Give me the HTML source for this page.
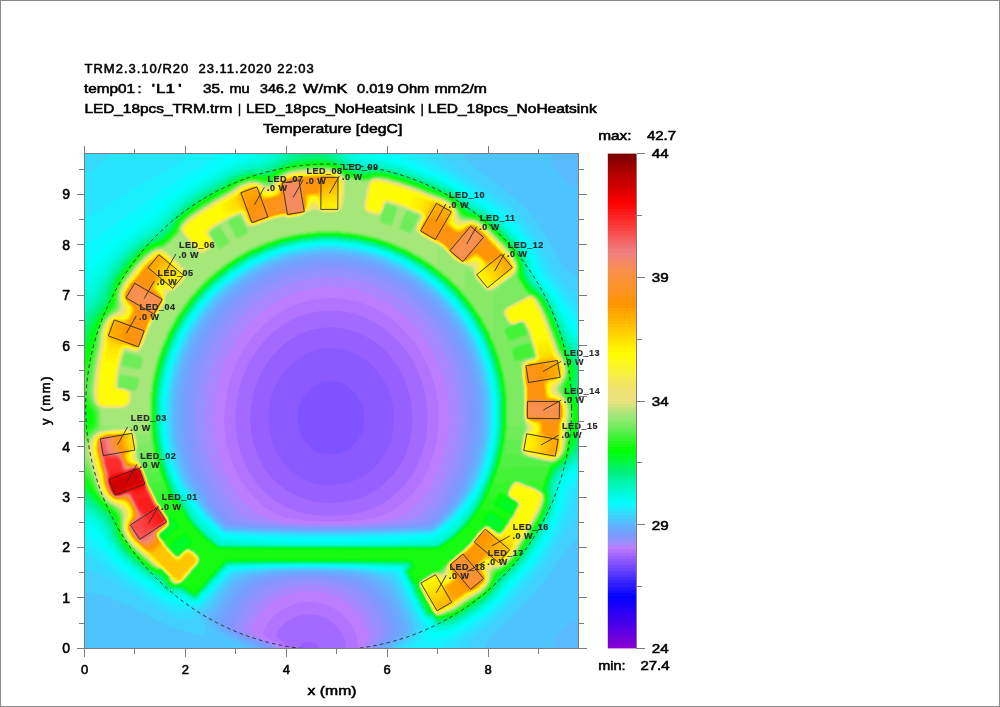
<!DOCTYPE html>
<html><head><meta charset="utf-8"><title>Temperature</title>
<style>
html,body{margin:0;padding:0;background:#fff;}
body{width:1000px;height:707px;overflow:hidden;}
svg{display:block;will-change:transform;}
.t{font-family:'Liberation Sans', Arial, Helvetica, sans-serif;font-size:13px;letter-spacing:1px;fill:#000;stroke:#000;stroke-width:0.55px;}
.l{font-family:'Liberation Sans', Arial, Helvetica, sans-serif;font-size:9px;font-weight:bold;letter-spacing:0.5px;fill:#2b2b2b;stroke:#2b2b2b;stroke-width:0.2px;}
</style></head><body>
<svg width="1000" height="707" viewBox="0 0 1000 707">
<rect x="0" y="0" width="1000" height="707" fill="#fff"/>

<text class="t" x="84.5" y="73" xml:space="preserve">TRM2.3.10/R20  23.11.2020 22:03</text>
<text class="t" x="83.9" y="93" textLength="51.1" lengthAdjust="spacingAndGlyphs" style="letter-spacing:0">temp01</text>
<text class="t" x="137.6" y="93" textLength="4.1" lengthAdjust="spacingAndGlyphs" style="letter-spacing:0">:</text>
<text class="t" x="151.7" y="93" textLength="3.3" lengthAdjust="spacingAndGlyphs" style="letter-spacing:0">'</text>
<text class="t" x="155.9" y="93" textLength="19.0" lengthAdjust="spacingAndGlyphs" style="letter-spacing:0">L1</text>
<text class="t" x="177.9" y="93" textLength="3.7" lengthAdjust="spacingAndGlyphs" style="letter-spacing:0">'</text>
<text class="t" x="203.1" y="93" textLength="21.2" lengthAdjust="spacingAndGlyphs" style="letter-spacing:0">35.</text>
<text class="t" x="229.4" y="93" textLength="20.2" lengthAdjust="spacingAndGlyphs" style="letter-spacing:0">mu</text>
<text class="t" x="259.9" y="93" textLength="36.0" lengthAdjust="spacingAndGlyphs" style="letter-spacing:0">346.2</text>
<text class="t" x="303.1" y="93" textLength="44.2" lengthAdjust="spacingAndGlyphs" style="letter-spacing:0">W/mK</text>
<text class="t" x="357.0" y="93" textLength="36.6" lengthAdjust="spacingAndGlyphs" style="letter-spacing:0">0.019</text>
<text class="t" x="397.6" y="93" textLength="31.7" lengthAdjust="spacingAndGlyphs" style="letter-spacing:0">Ohm</text>
<text class="t" x="434.4" y="93" textLength="52.6" lengthAdjust="spacingAndGlyphs" style="letter-spacing:0">mm2/m</text>
<text class="t" x="84.4" y="113" textLength="147.9" lengthAdjust="spacingAndGlyphs" style="letter-spacing:0">LED_18pcs_TRM.trm</text>
<text class="t" x="238.1" y="113" textLength="3.0" lengthAdjust="spacingAndGlyphs" style="letter-spacing:0">|</text>
<text class="t" x="245.9" y="113" textLength="168.8" lengthAdjust="spacingAndGlyphs" style="letter-spacing:0">LED_18pcs_NoHeatsink</text>
<text class="t" x="420.8" y="113" textLength="3.0" lengthAdjust="spacingAndGlyphs" style="letter-spacing:0">|</text>
<text class="t" x="427.8" y="113" textLength="168.9" lengthAdjust="spacingAndGlyphs" style="letter-spacing:0">LED_18pcs_NoHeatsink</text>
<text class="t" x="262.9" y="133" textLength="139.5" lengthAdjust="spacingAndGlyphs" style="letter-spacing:0">Temperature [degC]</text>
<g transform="translate(84.5 153.5) scale(0.25)">
<rect x="0" y="0" width="1976" height="1980" fill="#8152ff"/>
<path fill="#8c59ff" fill-rule="evenodd" d="M969 911 999 911 1001 913 1011 913 1039 923 1061 937 1085 961 1101 985 1113 1015 1113 1021 1117 1031 1117 1043 1119 1045 1119 1077 1117 1079 1115 1099 1109 1117 1093 1147 1067 1175 1047 1189 1017 1201 997 1203 995 1205 973 1205 971 1203 961 1203 959 1201 945 1199 923 1189 901 1173 889 1161 873 1139 863 1119 855 1093 855 1083 853 1081 853 1039 855 1037 857 1019 867 991 881 967 907 939 921 929 945 917 959 913 967 913ZM1 1 1 1979 1975 1979 1975 1Z"/>
<path fill="#975fff" fill-rule="evenodd" d="M959 779 1011 779 1013 781 1025 781 1027 783 1049 787 1097 807 1137 835 1169 867 1183 885 1203 917 1215 943 1227 977 1231 1001 1233 1003 1233 1013 1235 1015 1235 1029 1237 1031 1237 1091 1235 1093 1235 1105 1233 1107 1233 1117 1231 1119 1227 1141 1219 1165 1205 1195 1189 1221 1175 1239 1143 1271 1105 1297 1069 1313 1057 1315 1049 1319 1033 1321 1031 1323 1021 1323 1019 1325 1001 1325 999 1327 969 1327 967 1325 951 1325 949 1323 939 1323 937 1321 921 1319 887 1307 863 1295 829 1271 791 1231 767 1193 747 1143 747 1137 741 1119 739 1095 737 1093 737 1027 739 1025 739 1013 741 1011 741 1001 743 999 745 983 749 975 749 969 755 951 767 927 767 923 791 883 805 865 837 833 861 815 909 791 945 781 957 781ZM1 1 1 1979 1975 1979 1975 1Z"/>
<path fill="#a469ff" fill-rule="evenodd" d="M973 695 997 695 999 697 1033 699 1035 701 1061 705 1091 715 1143 741 1169 759 1193 779 1225 813 1249 845 1281 905 1301 965 1301 973 1303 975 1303 983 1307 995 1307 1007 1309 1009 1309 1025 1311 1027 1311 1095 1309 1097 1307 1125 1305 1127 1305 1135 1303 1137 1297 1167 1285 1201 1271 1231 1267 1235 1257 1255 1235 1285 1185 1333 1149 1357 1121 1371 1117 1371 1089 1383 1083 1383 1059 1391 1039 1393 1037 1395 1025 1395 1023 1397 995 1397 993 1399 947 1397 945 1395 921 1393 865 1377 813 1351 771 1319 749 1297 721 1261 693 1209 673 1149 673 1141 671 1139 671 1131 667 1119 665 1081 663 1079 663 1043 665 1041 667 1001 669 999 673 969 683 939 683 933 687 927 697 897 713 865 745 817 791 769 811 753 849 729 875 717 909 705 935 701 937 699 947 699 949 697 971 697ZM1 1 1 1979 861 1979 861 1975 867 1965 877 1957 887 1953 909 1953 919 1957 929 1965 937 1979 1975 1979 1975 1Z"/>
<path fill="#b273ff" fill-rule="evenodd" d="M935 631 947 631 949 629 1021 629 1023 631 1047 633 1049 635 1057 635 1059 637 1081 641 1121 655 1161 675 1211 709 1261 757 1291 795 1309 823 1331 865 1331 869 1337 879 1343 899 1347 905 1363 963 1363 971 1365 973 1367 997 1369 999 1369 1015 1371 1017 1371 1049 1373 1051 1369 1121 1367 1123 1367 1133 1365 1135 1365 1145 1361 1155 1359 1171 1345 1215 1317 1275 1303 1297 1271 1337 1227 1377 1191 1401 1155 1419 1117 1433 1111 1433 1085 1441 1075 1441 1061 1445 1047 1445 1045 1447 1023 1447 1021 1449 947 1449 945 1447 909 1445 907 1443 877 1439 837 1427 831 1423 817 1419 769 1393 739 1371 709 1343 685 1315 663 1283 643 1245 643 1241 629 1211 623 1193 623 1187 619 1179 619 1173 613 1155 613 1147 611 1145 607 1105 605 1103 605 1017 607 1015 607 999 609 997 611 973 613 971 619 937 633 893 649 859 649 855 673 811 713 757 755 715 783 693 825 667 855 653 889 641 895 641 913 635 921 635 923 633 933 633ZM1 1 1 1979 823 1979 813 1965 783 1945 769 1931 767 1927 769 1915 777 1903 805 1875 823 1863 855 1849 871 1847 873 1845 889 1845 891 1843 933 1847 957 1855 973 1863 993 1877 1017 1901 1027 1915 1039 1939 1045 1957 1047 1977 1049 1979 1975 1979 1975 1Z"/>
<path fill="#bc7dff" fill-rule="evenodd" d="M865 597 871 597 901 587 909 587 921 583 933 583 935 581 951 581 953 579 1015 579 1017 581 1033 581 1035 583 1059 585 1061 587 1099 595 1137 609 1167 623 1171 627 1195 639 1227 661 1249 679 1297 727 1321 757 1353 807 1371 843 1371 847 1385 877 1405 945 1409 975 1411 977 1411 989 1413 991 1415 1031 1417 1033 1417 1087 1415 1089 1415 1111 1413 1113 1411 1141 1409 1143 1409 1151 1407 1153 1401 1187 1397 1195 1397 1201 1389 1225 1385 1231 1377 1255 1355 1299 1335 1331 1309 1363 1283 1389 1251 1415 1223 1433 1189 1449 1155 1459 1123 1463 1121 1465 1087 1467 1085 1469 1057 1469 1055 1471 915 1471 913 1469 885 1469 883 1467 865 1467 863 1465 837 1463 835 1461 817 1459 789 1451 761 1439 723 1415 703 1399 659 1355 625 1307 593 1241 591 1231 587 1225 579 1201 579 1195 569 1161 567 1141 565 1139 563 1109 561 1107 559 1049 561 1047 563 995 565 993 565 979 567 977 571 947 573 945 581 907 597 861 627 799 651 761 677 727 711 691 751 657 777 639 829 611 859 601ZM1 1 1 1979 801 1979 791 1967 773 1957 769 1957 743 1945 725 1933 715 1919 717 1905 739 1871 757 1851 781 1831 793 1823 831 1805 859 1799 861 1797 873 1797 875 1795 921 1795 923 1797 933 1797 935 1799 959 1803 1003 1823 1023 1837 1055 1869 1067 1885 1083 1915 1091 1939 1093 1979 1975 1979 1975 1Z"/>
<path fill="#a987ff" fill-rule="evenodd" d="M787 581 831 561 873 547 907 541 909 539 935 537 937 535 955 535 957 533 1009 533 1011 535 1031 535 1033 537 1047 537 1049 539 1079 543 1103 551 1109 551 1153 567 1191 585 1245 619 1273 641 1293 659 1331 699 1359 735 1387 779 1411 827 1411 831 1417 841 1423 861 1427 867 1435 891 1435 897 1439 905 1439 911 1445 929 1445 937 1449 947 1453 983 1455 985 1455 1001 1457 1003 1457 1029 1459 1031 1459 1085 1457 1087 1457 1113 1455 1115 1453 1143 1451 1145 1451 1155 1449 1157 1449 1165 1445 1175 1441 1199 1437 1207 1437 1213 1429 1237 1425 1243 1419 1263 1411 1277 1411 1281 1385 1331 1365 1363 1341 1393 1309 1423 1281 1443 1257 1455 1215 1467 1195 1469 1193 1471 1181 1471 1179 1473 1143 1475 1141 1477 1115 1477 1113 1479 1079 1479 1077 1481 893 1481 891 1479 857 1479 855 1477 831 1477 829 1475 793 1473 791 1471 781 1471 779 1469 769 1469 767 1467 741 1463 697 1445 671 1427 633 1391 619 1375 597 1343 561 1273 561 1269 547 1239 539 1215 539 1209 535 1201 529 1167 527 1165 527 1157 525 1155 525 1145 523 1143 521 1113 519 1111 519 1085 517 1083 517 1037 519 1035 521 987 523 985 523 973 525 971 525 959 527 957 531 929 533 927 537 905 541 897 541 891 567 821 589 777 621 727 651 689 697 643 735 613ZM1 1 1 1979 785 1979 777 1969 757 1959 729 1949 681 1923 669 1909 671 1891 701 1843 731 1811 751 1795 773 1781 803 1767 837 1757 857 1755 859 1753 877 1753 879 1751 937 1753 939 1755 949 1755 951 1757 975 1761 1023 1781 1045 1795 1067 1813 1093 1841 1109 1863 1125 1893 1133 1915 1135 1935 1133 1937 1133 1943 1121 1965 1117 1979 1975 1979 1975 1Z"/>
<path fill="#9790ff" fill-rule="evenodd" d="M705 585 751 555 795 533 799 533 825 521 871 507 879 507 881 505 897 503 899 501 909 501 911 499 923 499 925 497 973 495 975 493 1019 495 1021 497 1039 497 1041 499 1065 501 1067 503 1103 509 1147 523 1177 537 1181 537 1237 567 1275 593 1307 619 1355 667 1381 699 1407 737 1423 767 1427 771 1455 831 1473 883 1473 889 1485 931 1485 939 1487 941 1487 951 1491 965 1491 979 1493 981 1493 995 1495 997 1497 1081 1495 1083 1493 1129 1491 1131 1491 1143 1489 1145 1485 1175 1483 1177 1475 1215 1457 1267 1439 1303 1439 1307 1401 1379 1375 1417 1353 1439 1339 1449 1319 1459 1301 1465 1295 1465 1287 1469 1257 1473 1255 1475 1243 1475 1241 1477 1207 1479 1205 1481 1153 1483 1151 1485 1111 1485 1109 1487 1039 1487 1037 1489 863 1487 861 1485 821 1485 819 1483 793 1483 791 1481 749 1479 747 1477 707 1473 705 1471 697 1471 695 1469 673 1465 661 1459 657 1459 631 1445 607 1425 591 1407 561 1359 519 1273 519 1269 511 1255 493 1195 493 1187 491 1185 489 1169 487 1167 487 1157 485 1155 485 1145 483 1143 483 1131 481 1129 479 1077 477 1075 479 1005 481 1003 483 969 485 967 485 955 487 953 493 915 515 841 519 835 527 811 537 793 537 789 563 741 591 699 625 657 661 621ZM1 1 1 1979 771 1979 765 1971 741 1959 737 1959 697 1941 693 1941 653 1921 637 1903 637 1897 635 1895 639 1883 643 1879 657 1851 683 1815 713 1785 737 1767 775 1747 797 1739 803 1739 811 1735 827 1733 829 1731 839 1731 841 1729 881 1727 883 1725 913 1725 915 1727 955 1729 957 1731 977 1733 1011 1743 1059 1767 1083 1785 1113 1815 1141 1855 1161 1897 1165 1911 1165 1921 1167 1923 1165 1935 1159 1947 1141 1967 1135 1979 1975 1979 1975 1Z"/>
<path fill="#8995ff" fill-rule="evenodd" d="M665 577 697 553 747 523 785 505 847 483 853 483 871 477 879 477 881 475 889 475 891 473 901 473 915 469 951 467 953 465 1003 465 1005 467 1047 469 1049 471 1073 473 1075 475 1083 475 1093 479 1117 483 1175 503 1233 531 1269 553 1331 601 1387 659 1435 725 1457 767 1461 771 1487 831 1503 879 1503 885 1513 919 1515 937 1517 939 1521 979 1523 981 1523 997 1525 999 1525 1101 1523 1103 1523 1121 1521 1123 1519 1151 1517 1153 1513 1181 1507 1199 1507 1207 1485 1273 1465 1315 1461 1329 1451 1347 1451 1351 1429 1391 1401 1433 1377 1459 1365 1465 1329 1475 1319 1475 1305 1479 1291 1479 1289 1481 1273 1481 1271 1483 1253 1483 1251 1485 1227 1485 1225 1487 1155 1489 1153 1491 1099 1491 1097 1493 875 1493 873 1491 819 1491 817 1489 749 1487 747 1485 723 1485 721 1483 703 1483 701 1481 685 1481 683 1479 657 1477 655 1475 629 1471 601 1461 585 1451 577 1443 547 1399 539 1381 531 1369 531 1365 515 1335 507 1313 485 1273 465 1211 463 1195 457 1175 457 1167 455 1165 455 1155 451 1141 451 1127 449 1125 449 1105 447 1103 447 1005 449 1003 449 983 451 981 451 967 453 965 453 953 455 951 455 941 457 939 461 911 463 909 469 879 475 865 475 859 485 835 487 825 499 799 499 795 525 743 559 689 573 673 585 655 639 599ZM1 1 1 1979 757 1979 753 1973 731 1961 677 1941 633 1919 621 1911 609 1899 605 1891 605 1883 625 1845 653 1803 677 1777 693 1763 719 1745 753 1729 785 1719 793 1719 795 1717 803 1717 815 1713 827 1713 829 1711 883 1709 885 1707 967 1711 969 1713 981 1713 983 1715 1011 1719 1019 1723 1025 1723 1043 1729 1077 1745 1095 1757 1141 1801 1165 1835 1181 1865 1195 1903 1195 1913 1197 1915 1195 1927 1187 1941 1153 1971 1149 1979 1975 1979 1975 1Z"/>
<path fill="#7c9aff" fill-rule="evenodd" d="M655 555 725 509 737 503 741 503 771 487 839 463 863 459 873 455 881 455 883 453 893 453 907 449 921 449 923 447 943 447 945 445 981 445 985 443 987 445 1039 447 1053 451 1067 451 1069 453 1107 459 1115 463 1129 465 1171 479 1213 499 1217 499 1271 529 1309 555 1357 595 1393 631 1401 643 1421 665 1457 717 1479 759 1483 763 1509 823 1525 871 1525 877 1535 911 1537 929 1539 931 1539 941 1543 955 1543 969 1545 971 1545 985 1547 987 1549 1083 1547 1085 1547 1107 1545 1109 1543 1141 1541 1143 1537 1175 1529 1201 1529 1209 1513 1259 1509 1265 1507 1275 1497 1295 1489 1319 1483 1329 1479 1343 1463 1375 1439 1415 1417 1443 1385 1473 1369 1479 1331 1483 1329 1485 1309 1485 1307 1487 1287 1487 1285 1489 1257 1489 1255 1491 1225 1491 1223 1493 1181 1493 1179 1495 1121 1495 1119 1497 851 1497 849 1495 795 1495 793 1493 719 1491 717 1489 691 1489 689 1487 667 1487 665 1485 647 1485 645 1483 619 1481 617 1479 609 1479 607 1477 599 1477 597 1475 589 1475 577 1471 551 1445 529 1415 501 1361 501 1357 487 1331 487 1327 461 1279 443 1225 443 1219 435 1193 435 1185 431 1175 429 1155 427 1153 425 1123 423 1121 423 1099 421 1097 421 1003 423 1001 425 963 427 961 427 949 429 947 429 937 431 935 435 907 437 905 443 875 447 867 447 861 469 799 475 789 481 771 485 767 501 733 541 671 573 631 621 583ZM1 1 1 1979 743 1979 737 1971 713 1959 709 1959 703 1955 649 1935 621 1921 599 1907 583 1889 585 1871 589 1867 617 1815 631 1795 671 1753 689 1739 721 1721 755 1709 779 1705 781 1703 791 1703 793 1701 825 1699 827 1697 857 1697 859 1695 937 1695 939 1697 969 1697 971 1699 987 1699 989 1701 1003 1701 1005 1703 1025 1705 1079 1723 1097 1733 1125 1753 1155 1783 1185 1825 1207 1869 1219 1907 1219 1923 1211 1939 1199 1949 1173 1965 1165 1973 1163 1979 1975 1979 1975 1Z"/>
<path fill="#73a1ff" fill-rule="evenodd" d="M633 549 663 527 707 499 775 467 821 451 827 451 835 447 859 443 869 439 889 437 891 435 903 435 905 433 919 433 921 431 967 429 969 427 993 427 995 429 1011 429 1013 431 1039 431 1041 433 1079 437 1081 439 1099 441 1101 443 1139 451 1199 473 1253 499 1301 529 1339 557 1367 581 1409 623 1443 665 1485 729 1507 771 1511 785 1519 799 1525 819 1529 825 1541 861 1543 875 1547 883 1549 899 1555 919 1555 927 1557 929 1559 951 1561 953 1561 967 1563 969 1563 981 1565 983 1567 1081 1565 1083 1565 1103 1563 1105 1563 1123 1561 1125 1559 1153 1557 1155 1553 1183 1551 1185 1543 1223 1531 1259 1527 1265 1523 1281 1511 1305 1505 1325 1481 1375 1469 1391 1463 1403 1457 1409 1449 1423 1425 1451 1405 1469 1381 1485 1357 1487 1355 1489 1335 1489 1333 1491 1311 1491 1309 1493 1279 1493 1277 1495 1191 1497 1189 1499 1125 1499 1123 1501 849 1501 847 1499 783 1499 781 1497 699 1495 697 1493 667 1493 665 1491 643 1491 641 1489 621 1489 619 1487 589 1485 587 1483 571 1481 541 1453 521 1429 495 1387 459 1313 455 1309 445 1289 425 1231 425 1225 421 1217 419 1201 415 1191 411 1163 409 1161 407 1135 405 1133 405 1117 403 1115 403 1089 401 1087 403 983 405 981 405 967 407 965 407 951 409 949 411 927 413 925 415 907 417 905 425 867 429 859 429 853 457 777 481 729 519 669 553 625 585 591ZM1 1 1 1979 729 1979 729 1977 717 1967 713 1967 699 1959 645 1939 601 1917 583 1905 565 1887 561 1879 563 1869 599 1807 627 1769 649 1747 679 1725 713 1709 763 1695 773 1695 787 1691 801 1691 803 1689 869 1687 871 1685 969 1687 971 1689 993 1689 995 1691 1007 1691 1009 1693 1021 1693 1023 1695 1051 1699 1059 1703 1065 1703 1083 1709 1113 1723 1149 1749 1179 1781 1203 1817 1229 1871 1237 1897 1237 1907 1239 1909 1237 1925 1231 1935 1213 1951 1193 1961 1179 1971 1175 1979 1975 1979 1975 1Z"/>
<path fill="#6ba9ff" fill-rule="evenodd" d="M629 535 701 487 765 457 815 439 821 439 855 429 883 425 885 423 899 423 911 419 935 419 937 417 949 417 951 415 1003 415 1005 417 1017 417 1019 419 1045 419 1047 421 1073 423 1075 425 1103 429 1105 431 1135 437 1149 443 1155 443 1161 447 1189 455 1251 483 1321 527 1355 553 1369 567 1385 579 1421 617 1455 659 1485 703 1505 741 1509 745 1531 793 1555 861 1555 867 1567 909 1573 953 1575 955 1577 987 1579 989 1579 1093 1577 1095 1577 1119 1575 1121 1575 1135 1573 1137 1573 1149 1571 1151 1569 1171 1567 1173 1565 1189 1563 1191 1557 1221 1553 1229 1553 1235 1543 1259 1537 1281 1519 1321 1519 1325 1499 1365 1483 1391 1455 1429 1423 1463 1401 1481 1385 1491 1377 1491 1375 1493 1351 1493 1349 1495 1325 1495 1323 1497 1247 1499 1245 1501 1191 1501 1189 1503 1113 1503 1111 1505 861 1505 859 1503 785 1503 783 1501 729 1501 727 1499 653 1497 651 1495 627 1495 625 1493 603 1493 601 1491 571 1489 557 1479 511 1431 485 1391 457 1337 441 1313 427 1283 411 1235 411 1229 399 1187 397 1169 395 1167 393 1143 391 1141 391 1125 389 1123 389 1101 387 1099 387 989 389 987 389 973 391 971 391 955 393 953 395 929 397 927 399 909 403 899 403 891 425 817 429 811 431 801 441 781 445 767 471 717 503 667 543 615 569 587ZM1 1 1 1979 715 1979 709 1971 689 1961 685 1961 679 1957 645 1945 635 1939 631 1939 585 1915 565 1901 545 1881 541 1873 541 1865 601 1771 635 1735 655 1721 687 1705 727 1693 757 1689 759 1687 769 1687 771 1685 807 1683 809 1681 839 1681 841 1679 955 1679 957 1681 987 1681 989 1683 1007 1683 1009 1685 1025 1685 1027 1687 1049 1689 1051 1691 1085 1697 1109 1705 1131 1715 1161 1735 1191 1765 1223 1813 1247 1865 1257 1899 1257 1917 1247 1935 1217 1957 1197 1967 1187 1979 1975 1979 1975 1Z"/>
<path fill="#64b0ff" fill-rule="evenodd" d="M585 557 619 529 661 499 701 475 767 445 789 439 813 429 819 429 853 419 881 415 883 413 897 413 911 409 935 409 949 405 1005 405 1007 407 1019 407 1021 409 1045 409 1059 413 1073 413 1075 415 1085 415 1095 419 1103 419 1105 421 1113 421 1115 423 1137 427 1191 445 1233 465 1237 465 1285 491 1333 523 1387 567 1425 605 1433 617 1461 649 1499 705 1513 733 1517 737 1543 793 1545 803 1549 809 1561 843 1561 849 1567 863 1567 869 1577 903 1581 933 1583 935 1583 945 1585 947 1587 977 1589 979 1589 1021 1591 1023 1591 1085 1589 1087 1587 1125 1585 1127 1585 1141 1583 1143 1581 1165 1579 1167 1579 1175 1577 1177 1575 1193 1571 1201 1565 1231 1553 1267 1549 1273 1545 1289 1513 1357 1495 1387 1453 1441 1427 1467 1389 1495 1383 1497 1363 1497 1361 1499 1293 1501 1291 1503 1243 1503 1241 1505 1181 1505 1179 1507 889 1509 887 1507 795 1507 793 1505 685 1503 683 1501 647 1501 645 1499 617 1499 615 1497 571 1495 565 1493 531 1463 495 1421 455 1357 451 1347 427 1313 399 1237 399 1231 387 1189 385 1171 383 1169 383 1159 379 1145 379 1129 377 1127 377 1111 375 1109 375 1087 373 1085 375 981 377 979 379 949 381 947 385 913 387 911 387 903 389 901 397 863 413 813 417 807 419 797 425 787 433 763 459 713 507 641 555 585ZM1 1 1 1979 699 1979 693 1971 677 1963 653 1955 643 1949 639 1949 629 1943 625 1943 575 1917 547 1897 527 1877 523 1871 521 1861 525 1853 543 1831 553 1811 579 1771 605 1739 615 1729 635 1715 669 1699 703 1689 721 1687 723 1685 763 1681 765 1679 781 1679 783 1677 849 1675 851 1673 945 1673 947 1675 985 1675 987 1677 1013 1677 1015 1679 1031 1679 1033 1681 1073 1685 1075 1687 1101 1691 1137 1703 1161 1715 1183 1731 1211 1761 1241 1809 1267 1867 1273 1887 1273 1895 1275 1897 1275 1915 1269 1927 1255 1941 1207 1969 1199 1979 1975 1979 1975 1Z"/>
<path fill="#5abaff" fill-rule="evenodd" d="M587 543 645 499 667 485 677 481 687 473 731 451 735 451 745 445 775 435 781 431 841 413 849 413 851 411 859 411 861 409 869 409 881 405 895 405 907 401 933 401 947 397 1007 397 1009 399 1021 399 1023 401 1047 401 1061 405 1075 405 1077 407 1085 407 1087 409 1095 409 1097 411 1105 411 1107 413 1115 413 1117 415 1139 419 1193 437 1235 457 1239 457 1291 485 1339 517 1391 559 1435 603 1441 613 1457 629 1481 661 1511 707 1519 725 1535 751 1535 755 1557 803 1575 857 1575 863 1587 905 1593 949 1595 951 1595 967 1597 969 1597 981 1599 983 1599 1093 1597 1095 1597 1119 1595 1121 1591 1161 1589 1163 1589 1171 1585 1181 1585 1189 1583 1191 1575 1229 1561 1271 1557 1277 1551 1297 1543 1311 1543 1315 1529 1343 1501 1389 1467 1433 1427 1473 1395 1497 1385 1501 1331 1503 1329 1505 1233 1507 1231 1509 1161 1509 1159 1511 1009 1511 1007 1513 743 1509 741 1507 687 1507 685 1505 645 1505 643 1503 611 1503 609 1501 567 1499 541 1479 503 1441 473 1399 443 1349 419 1319 407 1291 403 1275 399 1269 389 1239 389 1233 385 1225 383 1209 377 1191 373 1163 371 1161 367 1119 365 1117 365 1093 363 1091 363 997 365 995 365 975 367 973 367 957 369 955 373 919 375 917 377 899 379 897 387 859 393 845 393 839 403 809 433 739 437 735 447 713 461 693 463 687 499 635 511 623 525 603ZM1 1 1 1979 681 1979 673 1971 657 1963 653 1963 619 1947 615 1947 579 1929 545 1907 511 1875 503 1861 503 1853 525 1827 569 1759 599 1723 617 1709 633 1701 667 1689 701 1683 703 1681 727 1679 729 1677 745 1677 747 1675 765 1675 767 1673 829 1671 831 1669 965 1669 967 1671 1003 1671 1005 1673 1029 1673 1031 1675 1067 1677 1069 1679 1113 1685 1153 1697 1175 1707 1199 1723 1217 1741 1249 1791 1273 1839 1291 1893 1291 1911 1285 1925 1271 1939 1217 1971 1213 1979 1975 1979 1975 1Z"/>
<path fill="#4ec4ff" fill-rule="evenodd" d="M579 539 655 483 665 479 685 465 759 431 787 423 805 415 827 411 835 407 873 401 875 399 899 397 901 395 917 395 919 393 939 393 941 391 993 389 995 391 1013 391 1015 393 1041 393 1043 395 1069 397 1071 399 1081 399 1083 401 1121 407 1129 411 1151 415 1157 419 1163 419 1169 423 1217 439 1271 465 1329 501 1377 537 1391 551 1403 559 1431 587 1465 627 1513 695 1543 749 1547 763 1555 777 1555 781 1567 807 1583 855 1583 861 1595 903 1595 913 1597 915 1601 947 1603 949 1603 967 1607 981 1607 1093 1605 1095 1605 1119 1603 1121 1603 1133 1601 1135 1597 1171 1593 1181 1593 1189 1591 1191 1583 1229 1569 1271 1565 1277 1561 1293 1549 1315 1549 1319 1545 1323 1527 1359 1505 1393 1473 1433 1429 1477 1405 1495 1387 1505 1327 1507 1325 1509 1219 1511 1217 1513 1135 1513 1133 1515 839 1515 837 1513 697 1511 695 1509 651 1509 649 1507 613 1507 611 1505 565 1503 539 1483 495 1439 469 1403 467 1397 449 1373 439 1355 413 1325 399 1295 389 1261 381 1243 381 1237 377 1229 375 1213 367 1187 363 1157 361 1155 361 1143 359 1141 359 1127 357 1125 357 1101 355 1099 355 1081 353 1079 355 1075 355 979 359 965 359 947 361 945 365 911 367 909 367 901 369 899 379 853 401 789 407 779 407 775 425 735 463 671 493 629 505 617 521 595ZM1 1 1 1979 653 1979 651 1975 645 1971 577 1941 573 1937 553 1927 523 1905 501 1883 491 1869 485 1853 487 1845 511 1821 535 1783 563 1745 575 1733 585 1719 605 1701 635 1689 641 1689 665 1681 685 1679 687 1677 699 1677 701 1675 713 1675 715 1673 731 1673 733 1671 753 1671 755 1669 827 1667 829 1665 967 1665 969 1667 1009 1667 1011 1669 1039 1669 1041 1671 1081 1673 1083 1675 1109 1677 1111 1679 1119 1679 1121 1681 1129 1681 1131 1683 1139 1683 1155 1689 1161 1689 1183 1699 1187 1699 1211 1713 1227 1729 1265 1791 1289 1841 1305 1889 1305 1913 1295 1929 1275 1945 1235 1967 1225 1979 1873 1979 1873 1967 1881 1943 1893 1923 1909 1903 1929 1883 1945 1871 1961 1863 1975 1861 1975 139 1959 135 1949 129 1909 91 1881 53 1869 29 1863 1Z"/>
<path fill="#42d0ff" fill-rule="evenodd" d="M573 535 611 505 679 461 757 425 785 417 803 409 809 409 843 399 871 395 873 393 911 389 913 387 937 387 939 385 951 385 953 383 1001 383 1003 385 1015 385 1017 387 1043 387 1045 389 1071 391 1073 393 1083 393 1085 395 1113 399 1115 401 1145 407 1199 425 1209 431 1213 431 1237 443 1241 443 1301 475 1343 503 1401 549 1447 595 1453 605 1469 621 1493 653 1521 695 1553 755 1553 759 1573 803 1589 851 1591 865 1595 873 1595 881 1599 889 1599 897 1601 899 1601 907 1605 919 1605 929 1607 931 1607 941 1609 943 1609 957 1611 959 1611 971 1613 973 1613 1009 1615 1011 1615 1087 1613 1089 1613 1101 1611 1103 1609 1141 1607 1143 1607 1153 1605 1155 1605 1165 1599 1185 1599 1193 1593 1209 1593 1217 1587 1233 1587 1239 1563 1305 1555 1317 1543 1343 1505 1401 1493 1413 1475 1437 1435 1477 1393 1507 1387 1509 1361 1509 1359 1511 1269 1513 1267 1515 1201 1515 1199 1517 1107 1517 1105 1519 867 1519 865 1517 707 1515 705 1513 657 1513 655 1511 581 1509 579 1507 559 1505 545 1491 535 1485 491 1441 433 1357 405 1325 391 1295 381 1261 375 1249 375 1243 371 1235 371 1229 361 1195 361 1187 357 1177 357 1167 355 1165 355 1155 351 1141 351 1125 349 1123 349 1099 347 1097 347 979 351 965 351 947 355 933 355 921 357 919 359 901 361 899 371 853 395 783 421 727 425 723 435 701 447 685 449 679 487 625 507 603 513 593ZM1 1 1 1755 45 1759 95 1773 101 1777 111 1779 141 1793 145 1793 163 1803 167 1803 265 1853 269 1857 347 1893 407 1913 413 1913 439 1921 473 1925 485 1921 487 1909 467 1857 467 1851 465 1849 467 1837 473 1831 483 1827 497 1817 545 1749 571 1721 581 1707 593 1695 601 1691 633 1681 641 1681 643 1679 661 1677 663 1675 673 1675 675 1673 703 1671 705 1669 725 1669 727 1667 751 1667 753 1665 787 1665 789 1663 949 1661 951 1663 1043 1665 1045 1667 1069 1667 1071 1669 1107 1671 1109 1673 1121 1673 1123 1675 1133 1675 1135 1677 1145 1677 1155 1681 1171 1683 1201 1693 1221 1703 1239 1723 1259 1755 1301 1839 1319 1891 1319 1909 1317 1915 1309 1927 1291 1943 1247 1969 1239 1979 1605 1979 1607 1963 1621 1941 1659 1903 1689 1877 1753 1811 1809 1747 1851 1695 1941 1569 1963 1549 1975 1545 1975 493 1965 491 1947 481 1913 445 1889 407 1843 321 1797 257 1769 225 1719 177 1677 143 1583 75 1549 47 1525 21 1519 11 1517 1Z"/>
<path fill="#36daff" fill-rule="evenodd" d="M545 551 557 543 573 527 601 505 647 473 661 467 681 453 723 433 727 433 757 419 791 409 797 405 803 405 811 401 817 401 835 395 863 391 873 387 887 387 901 383 925 383 927 381 939 381 941 379 1013 379 1015 381 1031 381 1033 383 1053 383 1055 385 1081 387 1083 389 1111 393 1121 397 1129 397 1137 401 1151 403 1199 419 1237 437 1251 441 1305 471 1353 503 1403 543 1451 591 1461 605 1475 619 1527 693 1533 707 1545 725 1571 781 1573 791 1579 801 1595 849 1595 855 1607 897 1609 915 1611 917 1611 927 1615 941 1615 955 1617 957 1617 971 1619 973 1619 997 1621 999 1621 1089 1619 1091 1619 1103 1617 1105 1617 1125 1615 1127 1615 1141 1613 1143 1611 1165 1609 1167 1607 1185 1605 1187 1595 1233 1589 1247 1589 1253 1585 1259 1571 1301 1549 1343 1515 1395 1479 1439 1441 1477 1397 1509 1387 1513 1357 1513 1355 1515 1259 1517 1257 1519 1189 1519 1187 1521 1087 1521 1085 1523 885 1523 883 1521 717 1519 715 1517 665 1517 663 1515 621 1515 619 1513 563 1511 555 1507 539 1491 529 1485 489 1445 473 1425 427 1357 403 1333 385 1297 363 1231 363 1225 355 1199 355 1191 351 1181 351 1173 349 1171 347 1149 345 1147 341 1091 339 1089 339 999 341 997 341 973 343 971 347 927 349 925 351 905 359 879 363 855 381 801 385 795 391 775 399 761 403 747 431 695 461 649 479 627 483 619 499 603 505 593ZM1 1 1 1665 27 1669 49 1677 73 1689 153 1737 163 1745 173 1749 233 1785 285 1819 327 1841 331 1841 341 1847 375 1859 381 1859 391 1863 401 1863 403 1865 421 1865 433 1861 439 1855 447 1833 461 1821 465 1821 483 1811 495 1799 499 1791 521 1767 541 1739 591 1685 619 1677 649 1673 651 1671 663 1671 665 1669 699 1667 701 1665 755 1663 757 1661 803 1661 805 1659 991 1659 993 1661 1039 1661 1041 1663 1069 1663 1071 1665 1095 1665 1097 1667 1131 1669 1133 1671 1177 1677 1179 1679 1185 1679 1187 1681 1229 1691 1241 1701 1259 1735 1263 1739 1273 1759 1273 1763 1279 1771 1307 1827 1307 1831 1317 1849 1331 1887 1331 1893 1333 1895 1329 1915 1317 1931 1299 1947 1261 1971 1255 1979 1535 1979 1537 1965 1545 1953 1569 1929 1631 1881 1677 1841 1721 1795 1801 1703 1835 1659 1865 1615 1951 1469 1965 1453 1971 1449 1975 1449 1975 561 1969 561 1951 551 1921 521 1889 481 1865 443 1837 385 1837 381 1829 369 1821 351 1787 299 1761 267 1691 199 1641 161 1615 145 1537 89 1453 33 1437 17 1429 1Z"/>
<path fill="#28e5ff" fill-rule="evenodd" d="M569 523 617 487 681 447 753 415 807 397 813 397 839 389 877 383 879 381 893 381 907 377 933 377 947 373 1007 373 1019 377 1047 377 1059 381 1075 381 1077 383 1097 385 1107 389 1141 395 1191 411 1197 415 1207 417 1217 423 1231 427 1245 435 1249 435 1305 465 1353 497 1385 521 1399 535 1409 541 1455 587 1461 597 1477 613 1483 623 1491 631 1533 693 1563 749 1563 753 1569 763 1569 767 1575 777 1585 807 1589 813 1611 889 1611 897 1613 899 1613 907 1617 919 1617 929 1619 931 1619 941 1621 943 1621 961 1625 973 1625 1077 1627 1081 1625 1083 1623 1123 1621 1125 1619 1151 1617 1153 1617 1163 1615 1165 1613 1183 1609 1193 1609 1201 1605 1209 1597 1245 1587 1269 1585 1279 1581 1285 1577 1301 1551 1349 1519 1397 1481 1443 1453 1471 1413 1503 1387 1517 1309 1519 1307 1521 1257 1521 1255 1523 1187 1523 1185 1525 1093 1525 1091 1527 787 1525 785 1523 719 1523 717 1521 669 1521 667 1519 625 1519 623 1517 563 1515 549 1507 487 1449 459 1413 425 1363 397 1333 381 1303 377 1287 373 1281 359 1239 359 1233 347 1191 345 1173 343 1171 343 1161 339 1147 339 1131 337 1129 335 1093 333 1091 333 995 335 993 335 971 337 969 337 955 339 953 339 939 341 937 343 915 345 913 347 895 349 893 359 847 375 799 405 729 415 715 429 687 479 615 525 563ZM97 1 97 7 89 21 57 51 25 71 21 71 15 75 1 77 1 1609 21 1613 45 1625 143 1699 305 1805 351 1827 377 1835 387 1835 389 1837 407 1837 419 1833 437 1819 459 1813 477 1803 499 1775 519 1755 535 1733 561 1707 567 1697 585 1679 597 1675 615 1673 617 1671 659 1667 661 1665 677 1665 679 1663 733 1661 735 1659 929 1655 931 1657 1019 1657 1021 1659 1093 1661 1095 1663 1115 1663 1117 1665 1151 1667 1153 1669 1165 1669 1167 1671 1189 1673 1201 1677 1239 1681 1247 1689 1261 1717 1265 1721 1345 1887 1345 1907 1337 1921 1305 1955 1287 1967 1277 1979 1485 1979 1485 1973 1489 1965 1497 1955 1513 1941 1613 1869 1661 1829 1685 1805 1787 1689 1829 1633 1873 1563 1919 1475 1919 1471 1925 1461 1925 1457 1929 1451 1939 1421 1953 1389 1971 1369 1975 1369 1975 605 1969 605 1961 601 1941 583 1863 483 1835 431 1835 427 1829 417 1823 399 1803 359 1783 327 1745 279 1693 227 1669 207 1503 93 1397 33 1373 11 1369 1Z"/>
<path fill="#19efff" fill-rule="evenodd" d="M557 527 603 491 641 465 665 453 675 445 731 419 767 407 773 403 797 395 811 393 819 389 845 385 847 383 873 379 875 377 891 377 903 373 929 373 943 369 1009 369 1023 373 1051 373 1063 377 1079 377 1081 379 1089 379 1091 381 1099 381 1101 383 1109 383 1111 385 1119 385 1121 387 1151 393 1199 409 1205 413 1229 421 1247 431 1251 431 1283 447 1293 455 1311 463 1353 491 1411 537 1461 587 1507 645 1539 693 1547 711 1555 721 1567 745 1569 755 1587 793 1607 853 1607 859 1617 893 1621 921 1623 923 1623 935 1627 949 1627 967 1631 981 1631 1093 1629 1095 1629 1107 1627 1109 1625 1145 1623 1147 1621 1169 1617 1179 1617 1187 1615 1189 1605 1235 1591 1277 1571 1323 1567 1327 1561 1341 1547 1361 1545 1367 1517 1407 1467 1463 1443 1485 1399 1517 1387 1521 1313 1523 1311 1525 1265 1525 1263 1527 1203 1527 1201 1529 1127 1529 1125 1531 847 1531 845 1529 711 1527 709 1525 665 1525 663 1523 623 1523 621 1521 563 1519 553 1515 485 1453 461 1423 421 1365 391 1333 375 1301 373 1291 369 1285 365 1269 357 1251 357 1245 353 1237 353 1231 343 1197 343 1189 339 1179 339 1169 337 1167 337 1157 333 1143 333 1129 331 1127 331 1101 329 1099 329 1087 327 1085 327 1075 329 1073 329 975 331 973 331 961 333 959 333 941 337 929 337 917 339 915 341 897 343 895 353 849 377 779 385 765 385 761 399 733 399 729 411 711 419 693 471 617 493 593 499 583ZM1 251 1 1567 3 1569 17 1571 39 1583 59 1599 109 1647 145 1677 177 1701 267 1759 305 1787 349 1809 369 1815 379 1815 381 1817 397 1817 399 1815 409 1815 419 1811 445 1809 467 1801 481 1787 487 1777 513 1751 527 1731 557 1701 563 1691 581 1673 593 1669 607 1669 609 1667 639 1665 641 1663 657 1663 659 1661 711 1659 713 1657 755 1657 757 1655 969 1653 971 1655 1039 1655 1041 1657 1111 1659 1113 1661 1155 1663 1157 1665 1173 1665 1175 1667 1205 1669 1207 1671 1245 1673 1253 1681 1259 1697 1263 1701 1277 1731 1285 1743 1289 1757 1335 1847 1335 1851 1357 1889 1357 1897 1359 1899 1357 1901 1357 1907 1347 1927 1331 1951 1313 1971 1309 1979 1433 1979 1435 1973 1449 1959 1509 1923 1563 1887 1613 1851 1647 1823 1677 1793 1715 1747 1787 1667 1837 1595 1865 1545 1869 1541 1895 1491 1895 1487 1911 1453 1919 1429 1919 1423 1923 1415 1929 1385 1937 1361 1945 1345 1961 1329 1969 1325 1975 1325 1975 641 1961 635 1943 617 1899 553 1843 481 1829 455 1829 451 1823 441 1807 397 1785 355 1769 331 1737 291 1681 235 1659 217 1607 181 1601 179 1559 151 1539 135 1497 107 1473 95 1469 91 1353 33 1333 19 1327 13 1321 1 413 1 409 13 389 31 371 43 219 127 57 231 25 247 11 251Z"/>
<path fill="#0af8ff" fill-rule="evenodd" d="M559 519 639 461 653 455 677 439 697 429 707 427 749 407 803 389 809 389 835 381 873 375 875 373 891 373 903 369 929 369 941 365 1011 365 1023 369 1051 369 1063 373 1079 373 1081 375 1089 375 1091 377 1099 377 1101 379 1109 379 1111 381 1119 381 1121 383 1151 389 1205 407 1243 425 1257 429 1281 441 1291 449 1309 457 1357 489 1413 533 1463 583 1511 643 1543 691 1551 709 1559 719 1571 743 1573 753 1591 791 1611 851 1611 857 1623 899 1623 909 1627 919 1627 931 1631 943 1631 963 1635 975 1635 1095 1633 1097 1633 1119 1631 1121 1629 1149 1627 1151 1619 1199 1615 1207 1609 1237 1599 1267 1595 1273 1585 1305 1557 1357 1551 1363 1549 1369 1523 1407 1471 1465 1427 1503 1401 1521 1389 1525 1325 1527 1323 1529 1285 1529 1283 1531 1235 1531 1233 1533 1179 1533 1177 1535 1103 1535 1101 1537 871 1537 869 1535 795 1535 793 1533 691 1531 689 1529 653 1529 651 1527 613 1527 611 1525 561 1523 549 1517 535 1503 523 1495 481 1455 451 1417 415 1365 389 1339 379 1317 371 1305 367 1289 363 1283 347 1233 345 1217 341 1209 339 1193 333 1173 331 1151 329 1149 329 1133 327 1131 327 1119 325 1117 325 1095 323 1093 323 981 327 967 327 949 329 947 335 901 337 899 349 845 365 797 383 757 387 743 399 719 407 709 421 681 473 607 489 591 495 581ZM1 357 1 1535 9 1535 21 1539 39 1551 131 1647 191 1695 263 1741 293 1765 317 1781 337 1791 363 1799 411 1799 413 1801 425 1801 427 1803 445 1803 465 1795 475 1785 479 1777 509 1747 527 1723 553 1697 559 1687 577 1669 585 1665 619 1663 621 1661 641 1661 643 1659 665 1659 667 1657 695 1657 697 1655 737 1655 739 1653 809 1653 811 1651 985 1651 987 1653 1097 1655 1099 1657 1129 1657 1131 1659 1153 1659 1155 1661 1175 1661 1177 1663 1195 1663 1197 1665 1249 1667 1257 1673 1261 1687 1293 1747 1297 1761 1301 1765 1347 1861 1361 1877 1369 1891 1369 1905 1363 1921 1363 1941 1367 1947 1375 1951 1391 1953 1393 1951 1407 1951 1409 1949 1417 1949 1425 1945 1431 1945 1487 1921 1575 1865 1621 1831 1677 1777 1709 1737 1765 1677 1799 1633 1853 1547 1889 1477 1907 1427 1921 1357 1933 1329 1955 1305 1967 1299 1975 1299 1975 669 1963 665 1947 649 1885 553 1835 491 1817 457 1797 401 1781 369 1753 327 1717 285 1687 255 1641 217 1589 183 1583 181 1539 151 1525 139 1485 113 1435 87 1431 87 1409 75 1405 75 1319 35 1287 15 1277 1 525 1 521 11 493 37 441 69 379 103 321 141 235 207 155 261 53 337 23 353 11 357Z"/>
<path fill="#00fefb" fill-rule="evenodd" d="M553 519 597 485 645 453 697 425 701 425 749 403 803 385 809 385 835 377 845 377 855 373 873 371 875 369 891 369 903 365 931 365 943 361 1009 361 1023 365 1051 365 1063 369 1079 369 1089 373 1099 373 1109 377 1119 377 1121 379 1151 385 1205 403 1239 419 1253 423 1285 439 1295 447 1313 455 1361 487 1393 511 1407 525 1417 531 1465 579 1519 647 1545 687 1577 747 1581 761 1597 795 1615 849 1615 855 1625 889 1629 917 1631 919 1631 931 1635 943 1635 963 1639 975 1639 1095 1637 1097 1637 1121 1633 1133 1633 1149 1631 1151 1623 1199 1617 1215 1617 1221 1605 1263 1601 1269 1591 1301 1553 1371 1521 1417 1469 1473 1429 1507 1395 1529 1349 1531 1347 1533 1317 1533 1315 1535 1281 1535 1279 1537 1243 1537 1241 1539 1145 1541 1143 1543 903 1545 901 1543 829 1543 827 1541 733 1539 731 1537 695 1537 693 1535 661 1535 659 1533 629 1533 627 1531 597 1531 595 1529 557 1527 549 1523 533 1507 523 1501 475 1455 451 1425 411 1367 385 1341 365 1301 361 1285 357 1279 347 1249 347 1243 343 1235 341 1219 337 1211 335 1195 331 1185 331 1177 327 1165 327 1153 325 1151 325 1137 321 1123 321 1099 319 1097 319 977 323 965 323 945 327 933 327 919 331 909 331 899 333 897 345 843 361 795 379 755 383 741 395 717 403 707 421 673 469 605 485 589 491 579ZM587 1 585 7 569 23 543 41 443 97 403 121 353 155 245 247 183 289 133 327 47 403 19 421 1 425 1 1507 15 1509 33 1519 61 1547 113 1613 159 1657 203 1691 269 1733 303 1761 339 1781 345 1781 355 1785 391 1785 393 1787 409 1789 427 1797 449 1797 465 1789 473 1777 511 1737 515 1729 549 1695 555 1685 581 1661 623 1659 625 1657 649 1657 651 1655 681 1655 683 1653 727 1653 729 1651 797 1651 799 1649 997 1649 999 1651 1113 1653 1115 1655 1143 1655 1145 1657 1171 1657 1173 1659 1245 1661 1247 1663 1257 1663 1263 1671 1265 1683 1291 1735 1295 1739 1297 1749 1341 1835 1341 1839 1353 1861 1373 1879 1379 1889 1379 1917 1381 1923 1391 1931 1397 1931 1399 1933 1419 1933 1421 1931 1439 1929 1467 1919 1499 1903 1535 1879 1541 1877 1599 1837 1627 1815 1667 1775 1695 1739 1737 1695 1775 1651 1815 1593 1817 1587 1837 1557 1861 1511 1865 1507 1883 1469 1897 1429 1897 1423 1903 1405 1907 1369 1909 1367 1909 1357 1911 1355 1913 1341 1925 1315 1945 1293 1961 1283 1975 1279 1975 695 1963 689 1943 667 1913 617 1909 607 1877 557 1843 517 1821 487 1809 463 1795 419 1777 379 1757 347 1725 307 1687 267 1637 225 1545 167 1491 127 1459 111 1455 107 1451 107 1407 85 1403 85 1393 79 1389 79 1379 73 1375 73 1365 67 1351 63 1341 57 1337 57 1327 51 1323 51 1313 45 1295 39 1281 31 1277 31 1249 17 1235 7 1231 1Z"/>
<path fill="#00fdf0" fill-rule="evenodd" d="M559 509 577 497 593 483 665 437 697 421 711 417 725 409 729 409 755 397 797 383 803 383 837 373 847 373 857 369 877 367 879 365 893 365 907 361 933 361 947 357 1007 357 1019 361 1047 361 1059 365 1075 365 1077 367 1097 369 1107 373 1117 373 1119 375 1157 383 1209 401 1243 417 1257 421 1313 451 1359 481 1399 511 1413 525 1423 531 1465 573 1471 583 1491 603 1495 611 1515 635 1547 683 1569 725 1573 729 1573 733 1581 747 1581 751 1589 765 1589 769 1601 795 1617 843 1623 873 1627 881 1627 889 1629 891 1633 917 1635 919 1635 931 1639 943 1639 963 1643 975 1643 1095 1641 1097 1641 1117 1639 1119 1639 1131 1637 1133 1637 1147 1633 1159 1633 1171 1629 1181 1629 1189 1627 1191 1617 1237 1609 1257 1609 1263 1601 1279 1593 1305 1567 1357 1529 1415 1493 1457 1453 1495 1401 1533 1381 1535 1379 1537 1359 1537 1357 1539 1331 1539 1329 1541 1303 1541 1301 1543 1275 1543 1273 1545 1247 1545 1245 1547 1211 1547 1209 1549 1115 1551 1113 1553 859 1553 857 1551 805 1551 803 1549 729 1547 727 1545 701 1545 699 1543 673 1543 671 1541 647 1541 645 1539 619 1539 617 1537 559 1533 543 1525 527 1509 515 1501 467 1453 445 1425 407 1369 391 1355 383 1345 363 1307 359 1291 347 1263 347 1257 341 1243 341 1237 329 1195 329 1187 327 1185 327 1177 323 1165 323 1153 321 1151 321 1137 317 1123 317 1099 315 1097 315 975 319 963 319 943 323 931 323 919 325 917 329 889 331 887 339 849 359 789 375 755 377 745 393 713 397 709 415 675 461 609 485 583 491 573 533 531 543 525ZM641 1 639 5 623 19 499 85 495 89 437 121 385 155 335 195 273 255 233 285 187 315 133 359 41 453 23 467 11 473 1 475 1 1485 11 1485 25 1491 37 1499 55 1517 107 1591 163 1649 223 1695 229 1697 251 1713 269 1723 305 1753 323 1765 343 1773 395 1777 429 1793 449 1793 455 1791 467 1781 471 1773 503 1741 509 1731 547 1691 555 1679 569 1665 581 1657 635 1655 637 1653 671 1653 673 1651 717 1651 719 1649 799 1649 801 1647 993 1647 995 1649 1123 1651 1125 1653 1159 1653 1161 1655 1193 1655 1195 1657 1247 1657 1249 1659 1261 1659 1267 1665 1269 1683 1301 1743 1303 1753 1353 1853 1361 1863 1377 1873 1387 1883 1391 1895 1391 1905 1395 1913 1411 1921 1425 1921 1427 1919 1445 1917 1473 1907 1533 1873 1589 1835 1623 1809 1661 1771 1695 1727 1749 1671 1769 1647 1805 1595 1807 1589 1839 1539 1875 1469 1893 1415 1903 1341 1915 1311 1925 1297 1939 1283 1953 1273 1965 1267 1975 1265 1975 715 1971 715 1961 709 1941 685 1887 585 1863 551 1831 515 1815 493 1801 465 1781 403 1763 369 1731 325 1663 255 1641 237 1609 215 1569 193 1513 151 1469 123 1419 99 1415 99 1405 93 1401 93 1391 87 1367 79 1357 73 1353 73 1317 57 1307 55 1301 51 1259 37 1253 33 1167 7 1159 1Z"/>
<path fill="#00fbe4" fill-rule="evenodd" d="M551 511 593 479 645 445 693 419 703 417 745 397 799 379 805 379 831 371 841 371 851 367 869 365 871 363 887 363 899 359 925 359 939 355 1015 355 1027 359 1055 359 1067 363 1083 363 1093 367 1103 367 1113 371 1123 371 1125 373 1155 379 1203 395 1209 399 1233 407 1251 417 1261 419 1319 451 1367 483 1399 507 1413 521 1421 525 1471 575 1477 585 1495 603 1519 635 1551 683 1583 743 1583 747 1603 791 1623 851 1623 857 1633 891 1635 909 1637 911 1641 947 1643 949 1643 965 1645 967 1645 979 1647 981 1647 1093 1643 1105 1643 1129 1641 1131 1637 1169 1633 1179 1629 1205 1625 1213 1621 1235 1617 1243 1617 1249 1611 1267 1607 1273 1597 1305 1555 1385 1531 1421 1519 1433 1499 1459 1477 1481 1439 1515 1405 1539 1395 1543 1381 1543 1379 1545 1363 1545 1361 1547 1345 1547 1343 1549 1321 1549 1319 1551 1297 1551 1295 1553 1233 1555 1231 1557 1173 1557 1171 1559 1067 1559 1065 1561 801 1559 799 1557 743 1557 741 1555 709 1555 707 1553 655 1551 653 1549 633 1549 631 1547 615 1547 613 1545 553 1539 535 1527 517 1511 463 1457 437 1423 427 1405 415 1391 403 1371 387 1357 379 1347 359 1307 355 1291 351 1285 351 1279 347 1273 339 1249 339 1243 335 1235 333 1219 323 1185 319 1153 317 1151 317 1135 313 1121 313 1097 311 1095 311 977 315 965 315 945 319 933 319 919 323 909 323 899 327 889 327 881 331 873 335 849 355 789 371 755 373 745 391 709 395 705 407 681 427 653 429 647 449 619 457 611 461 603 479 585 485 575ZM695 1 683 15 603 45 543 75 539 79 525 85 521 89 511 93 507 97 439 135 391 167 345 205 319 233 275 275 187 335 147 369 97 421 47 483 19 509 1 515 1 1465 23 1471 41 1483 55 1497 69 1515 91 1553 119 1593 165 1641 215 1681 273 1717 319 1755 341 1765 349 1765 351 1767 383 1767 401 1773 431 1789 449 1789 455 1787 479 1759 505 1733 509 1725 543 1691 547 1683 573 1657 581 1653 623 1653 625 1651 661 1651 663 1649 715 1649 717 1647 805 1647 807 1645 987 1645 989 1647 1079 1647 1081 1649 1133 1649 1135 1651 1171 1651 1173 1653 1263 1655 1271 1661 1271 1677 1303 1739 1305 1749 1357 1853 1371 1865 1385 1869 1393 1877 1401 1899 1409 1909 1415 1911 1433 1911 1469 1901 1501 1885 1521 1871 1527 1869 1595 1823 1625 1799 1651 1773 1693 1719 1739 1673 1769 1637 1827 1547 1831 1537 1843 1519 1875 1453 1889 1405 1895 1341 1901 1321 1911 1301 1939 1271 1953 1261 1965 1255 1975 1253 1975 735 1963 729 1945 709 1935 693 1901 623 1897 619 1877 581 1857 553 1829 523 1805 491 1795 469 1777 409 1761 377 1745 353 1721 323 1667 267 1641 245 1613 225 1559 195 1505 153 1467 129 1397 97 1393 97 1327 69 1317 67 1311 63 1295 59 1289 55 1253 43 1247 43 1239 39 1233 39 1225 35 1217 35 1207 31 1185 29 1183 27 1167 27 1165 25 1147 25 1145 23 1133 23 1131 21 1117 19 1103 11 1097 1Z"/>
<path fill="#00f9d8" fill-rule="evenodd" d="M553 505 561 501 593 475 663 431 695 415 699 415 713 407 717 407 753 391 795 377 801 377 835 367 845 367 855 363 875 361 877 359 891 359 903 355 931 355 943 351 1009 351 1021 355 1049 355 1061 359 1077 359 1079 361 1099 363 1109 367 1119 367 1121 369 1151 375 1211 395 1245 411 1259 415 1291 431 1301 439 1319 447 1367 479 1423 523 1475 575 1523 635 1555 683 1563 701 1571 711 1597 767 1621 833 1621 839 1625 847 1625 853 1637 895 1637 903 1641 915 1641 927 1645 939 1645 959 1649 971 1649 1099 1647 1101 1647 1125 1643 1137 1643 1153 1641 1155 1635 1193 1627 1217 1625 1233 1619 1247 1619 1253 1597 1313 1569 1369 1535 1425 1509 1455 1505 1463 1463 1507 1433 1531 1403 1551 1379 1553 1377 1555 1359 1555 1357 1557 1331 1557 1329 1559 1217 1561 1215 1563 1051 1563 1049 1565 921 1565 919 1563 757 1563 755 1561 689 1561 687 1559 619 1557 617 1555 599 1555 597 1553 583 1553 581 1551 567 1551 565 1549 549 1547 531 1535 511 1517 459 1463 433 1427 431 1421 407 1387 405 1381 377 1351 357 1311 353 1295 349 1289 345 1273 339 1261 339 1255 331 1233 329 1217 323 1201 319 1173 317 1171 317 1161 313 1147 313 1133 311 1131 311 1107 307 1093 307 993 309 991 309 969 311 967 311 951 313 949 313 937 315 935 315 923 319 911 319 901 321 899 323 883 325 881 331 851 335 843 335 837 351 789 357 779 359 769 369 751 371 741 387 709 395 699 403 681 423 653 425 647 457 603 473 587 491 563 527 527 537 521ZM597 59 549 83 545 87 489 117 439 149 433 151 377 191 363 203 331 235 311 259 281 287 205 337 159 375 105 433 83 461 43 519 21 541 5 549 1 549 1 1449 17 1453 33 1461 63 1489 117 1579 131 1597 177 1643 217 1675 281 1715 317 1747 329 1755 341 1759 381 1761 403 1769 429 1785 435 1787 451 1785 463 1775 471 1763 501 1733 507 1723 541 1689 545 1681 577 1651 655 1649 657 1647 713 1647 715 1645 841 1645 843 1643 1079 1645 1081 1647 1137 1647 1139 1649 1193 1649 1195 1651 1261 1651 1263 1653 1271 1653 1275 1657 1275 1667 1273 1669 1275 1679 1307 1741 1309 1751 1361 1853 1373 1861 1391 1865 1397 1873 1397 1877 1405 1893 1415 1901 1421 1903 1437 1903 1471 1893 1503 1877 1529 1859 1535 1857 1617 1799 1649 1767 1685 1719 1739 1665 1759 1641 1795 1589 1797 1583 1823 1543 1865 1463 1881 1417 1883 1397 1885 1395 1885 1377 1887 1375 1889 1335 1899 1307 1909 1291 1939 1261 1959 1247 1975 1241 1975 751 1965 747 1949 731 1935 709 1911 661 1911 657 1873 585 1855 559 1805 503 1793 481 1785 457 1785 451 1781 443 1781 437 1773 413 1765 399 1765 395 1761 391 1751 371 1729 341 1703 311 1661 269 1635 247 1599 223 1551 197 1501 157 1459 131 1351 85 1247 49 1241 49 1223 43 1215 43 1213 41 1205 41 1203 39 1191 39 1189 37 1127 35 1125 33 1107 31 1085 21 1071 7 1069 1 735 1 725 15 709 25 705 25 693 31 641 43Z"/>
<path fill="#00f8cc" fill-rule="evenodd" d="M551 503 577 485 585 477 633 445 647 439 675 421 697 411 701 411 715 403 729 399 739 393 799 373 805 373 831 365 841 365 851 361 869 359 871 357 887 357 899 353 927 353 939 349 1013 349 1025 353 1055 353 1065 357 1083 357 1093 361 1103 361 1113 365 1123 365 1125 367 1155 373 1229 399 1293 429 1303 437 1321 445 1401 501 1413 513 1423 519 1495 593 1531 641 1555 677 1563 695 1571 705 1601 769 1629 849 1629 857 1633 865 1633 871 1639 889 1639 897 1641 899 1641 907 1643 909 1643 917 1645 919 1645 931 1649 943 1649 963 1653 975 1653 1095 1649 1109 1649 1131 1647 1133 1647 1147 1643 1159 1643 1171 1639 1181 1639 1189 1637 1191 1633 1213 1629 1221 1627 1237 1621 1251 1617 1269 1613 1275 1611 1285 1603 1301 1601 1311 1593 1325 1593 1329 1579 1355 1575 1367 1571 1371 1565 1385 1561 1389 1539 1429 1531 1437 1523 1451 1515 1459 1513 1465 1499 1483 1463 1519 1411 1557 1395 1559 1393 1561 1293 1563 1291 1565 1131 1565 1129 1567 843 1567 841 1565 683 1565 681 1563 623 1563 621 1561 585 1561 583 1559 545 1557 531 1547 515 1531 505 1525 459 1477 431 1435 427 1425 409 1399 397 1377 375 1355 353 1309 341 1271 337 1265 337 1259 327 1231 327 1223 325 1221 325 1215 319 1197 319 1189 315 1179 313 1157 311 1155 311 1141 307 1127 307 1101 305 1099 305 971 309 959 309 939 313 927 313 915 315 913 317 895 319 893 331 839 347 791 381 713 391 699 399 681 453 603 477 577 483 567 525 525 535 519ZM599 67 509 115 495 125 455 147 407 179 367 211 295 289 259 315 253 317 213 343 185 365 147 401 103 453 41 549 21 569 15 573 1 577 1 1435 3 1437 17 1439 29 1445 43 1455 67 1479 77 1493 105 1549 123 1577 137 1595 195 1651 229 1677 285 1711 317 1741 329 1749 345 1755 373 1755 375 1757 383 1757 407 1767 433 1783 449 1783 453 1781 475 1755 499 1731 505 1721 539 1687 543 1679 569 1653 575 1649 585 1649 587 1647 723 1645 725 1643 1071 1643 1073 1645 1271 1649 1279 1655 1277 1677 1309 1739 1311 1749 1363 1851 1371 1857 1393 1861 1405 1885 1411 1891 1421 1895 1445 1895 1485 1881 1565 1831 1619 1791 1651 1757 1685 1711 1753 1641 1809 1557 1813 1547 1839 1505 1865 1451 1879 1403 1883 1335 1893 1305 1909 1281 1927 1263 1951 1243 1963 1235 1975 1231 1975 765 1971 765 1959 757 1937 727 1915 683 1915 679 1905 661 1905 657 1877 601 1861 575 1837 545 1809 517 1797 501 1787 481 1781 463 1775 433 1767 411 1753 383 1721 339 1673 287 1627 247 1589 223 1553 205 1495 159 1467 141 1435 125 1431 125 1421 119 1407 115 1367 97 1357 95 1309 75 1253 57 1247 57 1221 49 1213 49 1211 47 1199 47 1197 45 1181 45 1179 43 1117 43 1115 41 1107 41 1087 35 1069 25 1053 9 1051 1 761 1 759 7 743 23 725 33 701 41 693 41 691 43 645 51Z"/>
<path fill="#00f6bd" fill-rule="evenodd" d="M549 501 575 483 583 475 631 443 645 437 669 421 685 413 699 409 717 399 727 397 737 391 797 371 803 371 827 363 837 363 847 359 855 359 867 355 881 355 895 351 919 351 921 349 933 349 935 347 1017 347 1019 349 1033 349 1035 351 1057 351 1059 353 1085 355 1087 357 1095 357 1097 359 1105 359 1107 361 1115 361 1117 363 1125 363 1127 365 1157 371 1211 389 1249 407 1259 409 1323 443 1371 475 1403 499 1417 513 1427 519 1479 571 1511 609 1557 675 1593 743 1593 747 1601 761 1601 765 1613 791 1629 839 1631 853 1635 861 1635 869 1639 877 1639 885 1641 887 1645 913 1647 915 1647 927 1651 937 1651 959 1655 969 1655 1099 1653 1101 1653 1125 1649 1137 1649 1153 1647 1155 1641 1193 1633 1217 1631 1233 1625 1247 1625 1253 1601 1319 1589 1341 1589 1345 1581 1359 1579 1367 1575 1371 1545 1429 1535 1441 1529 1453 1521 1461 1509 1481 1467 1523 1417 1559 1399 1565 1153 1567 1151 1569 821 1569 819 1567 577 1565 575 1563 545 1563 539 1561 505 1533 453 1481 429 1443 421 1425 405 1401 395 1381 373 1359 353 1317 329 1249 321 1211 317 1203 313 1175 311 1173 311 1163 307 1151 307 1135 305 1133 305 1111 303 1109 303 1097 301 1095 301 979 305 965 305 947 307 945 313 899 317 889 317 881 321 873 325 849 335 823 335 817 343 793 347 787 355 763 363 749 365 739 381 707 389 697 397 679 429 631 459 591 475 575 481 565 525 521 533 517ZM597 75 509 123 443 163 405 189 357 231 323 273 297 299 275 315 227 343 179 381 135 427 107 463 79 507 61 543 41 573 17 595 7 599 1 599 1 1423 17 1427 37 1439 71 1471 81 1485 115 1555 131 1579 147 1599 179 1631 205 1653 249 1685 285 1705 319 1737 333 1747 345 1751 373 1751 375 1753 383 1753 417 1769 435 1781 447 1781 451 1779 495 1733 499 1725 531 1693 539 1681 573 1647 579 1647 581 1645 737 1643 739 1641 1055 1641 1057 1643 1139 1643 1141 1645 1277 1647 1283 1651 1283 1659 1279 1667 1281 1681 1311 1737 1313 1747 1363 1847 1375 1855 1389 1855 1393 1857 1399 1865 1403 1877 1411 1885 1423 1889 1445 1889 1477 1879 1511 1861 1589 1809 1617 1787 1639 1765 1677 1713 1741 1649 1757 1629 1817 1535 1857 1459 1873 1411 1875 1389 1877 1387 1877 1341 1879 1339 1881 1321 1891 1297 1905 1277 1953 1233 1961 1227 1975 1221 1975 779 1967 777 1951 761 1939 743 1913 691 1913 687 1905 673 1897 651 1865 589 1845 561 1801 515 1791 501 1779 473 1771 435 1761 407 1747 381 1727 353 1705 327 1645 267 1625 251 1587 227 1547 207 1501 169 1469 147 1433 129 1429 129 1419 123 1415 123 1349 95 1241 59 1233 59 1231 57 1215 55 1213 53 1203 53 1201 51 1183 51 1181 49 1139 49 1137 51 1129 51 1127 49 1107 49 1105 47 1097 47 1071 37 1053 25 1037 9 1035 1 783 1 779 9 769 19 755 29 727 43 715 47 697 49 695 51 651 57Z"/>
<path fill="#00f5af" fill-rule="evenodd" d="M547 499 555 495 587 469 657 425 735 389 781 375 787 371 793 371 801 367 807 367 825 361 833 361 835 359 843 359 845 357 853 357 855 355 863 355 875 351 891 351 903 347 931 347 943 343 1009 343 1021 347 1051 347 1061 351 1079 351 1089 355 1099 355 1109 359 1119 359 1121 361 1159 369 1213 387 1251 405 1261 407 1293 423 1303 431 1321 439 1373 473 1381 481 1405 497 1419 511 1429 517 1481 569 1487 579 1505 597 1529 629 1561 677 1595 741 1595 745 1603 759 1603 763 1615 789 1633 843 1633 849 1645 891 1649 921 1651 923 1651 933 1653 935 1653 951 1655 953 1655 965 1657 967 1657 1013 1659 1015 1659 1093 1655 1105 1655 1129 1653 1131 1651 1155 1649 1157 1649 1167 1647 1169 1645 1187 1641 1197 1641 1205 1637 1213 1629 1249 1603 1321 1595 1335 1589 1353 1549 1431 1537 1445 1519 1475 1475 1521 1413 1565 1407 1565 1405 1567 1343 1567 1341 1569 635 1569 633 1567 551 1567 549 1565 539 1565 525 1555 507 1537 499 1533 449 1483 427 1449 417 1427 413 1423 393 1385 387 1377 371 1363 349 1315 345 1299 341 1293 325 1245 325 1239 313 1197 313 1189 311 1187 311 1179 307 1167 307 1157 305 1155 305 1139 301 1127 301 1101 299 1099 299 971 303 961 303 939 307 929 307 915 311 905 311 895 319 869 319 861 323 853 323 845 343 785 361 747 363 737 379 705 387 695 395 677 449 599 463 585 479 563 521 521 531 515ZM607 77 521 123 421 185 387 211 353 245 327 279 299 307 273 325 263 329 219 357 187 383 157 413 119 459 93 499 63 561 41 593 19 613 7 619 1 619 1 1413 13 1415 29 1423 67 1455 83 1475 87 1485 91 1489 93 1497 107 1525 107 1529 135 1577 155 1601 195 1639 233 1669 293 1705 333 1743 343 1747 381 1749 393 1753 435 1779 447 1779 451 1777 461 1763 495 1729 499 1721 535 1685 539 1677 569 1647 579 1643 777 1641 779 1639 1017 1639 1019 1641 1133 1641 1135 1643 1283 1645 1291 1651 1281 1667 1283 1679 1307 1727 1313 1735 1315 1747 1363 1843 1375 1853 1391 1853 1397 1859 1403 1873 1413 1881 1419 1881 1421 1883 1449 1883 1475 1875 1519 1851 1585 1807 1611 1787 1639 1759 1671 1713 1725 1661 1749 1633 1773 1599 1775 1593 1817 1527 1831 1499 1835 1495 1857 1449 1867 1421 1869 1405 1871 1403 1871 1393 1873 1391 1873 1335 1881 1307 1889 1291 1897 1279 1963 1217 1975 1213 1975 793 1967 789 1951 773 1939 755 1915 707 1915 703 1901 675 1901 671 1887 643 1887 639 1863 593 1837 557 1797 517 1787 503 1775 475 1767 435 1757 407 1745 385 1725 357 1679 305 1629 259 1593 235 1551 215 1531 201 1495 169 1461 147 1363 105 1253 67 1247 67 1229 61 1221 61 1219 59 1211 59 1209 57 1197 57 1195 55 1105 55 1103 53 1087 51 1071 43 1067 43 1045 29 1023 9 1019 1 801 1 799 7 781 23 755 39 729 51 723 51 715 55 705 55 703 57 651 63Z"/>
<path fill="#00f3a1" fill-rule="evenodd" d="M543 499 569 481 577 473 655 423 691 405 701 403 739 385 799 365 805 365 823 359 831 359 833 357 841 357 851 353 871 351 873 349 889 349 899 345 929 345 939 341 1013 341 1023 345 1053 345 1063 349 1081 349 1091 353 1101 353 1111 357 1121 357 1123 359 1161 367 1209 383 1215 387 1239 395 1253 403 1267 407 1319 435 1377 473 1385 481 1409 497 1423 511 1433 517 1481 565 1487 575 1505 593 1523 619 1531 627 1563 675 1597 739 1599 749 1617 787 1635 841 1635 847 1649 897 1649 907 1653 917 1653 931 1657 941 1657 961 1661 973 1661 1097 1657 1109 1657 1131 1655 1133 1655 1147 1653 1149 1651 1171 1649 1173 1649 1181 1647 1183 1633 1245 1617 1291 1613 1297 1609 1313 1587 1361 1587 1365 1553 1431 1541 1445 1535 1457 1527 1465 1519 1479 1469 1529 1417 1565 1407 1569 1297 1569 1295 1571 679 1571 677 1569 545 1569 543 1567 537 1567 529 1559 521 1555 505 1539 497 1535 447 1485 423 1449 389 1385 367 1363 347 1317 321 1241 319 1225 313 1209 307 1173 305 1171 305 1161 301 1147 301 1133 299 1131 299 1105 295 1093 295 1073 297 1071 297 967 301 955 301 935 305 923 305 911 309 901 309 891 311 889 321 843 341 783 375 707 385 693 393 675 449 595 509 529 527 515ZM601 85 511 135 419 193 393 213 355 251 327 289 307 309 285 325 229 357 183 395 141 441 109 485 81 539 81 543 71 561 69 569 51 597 25 625 17 631 1 637 1 1403 7 1403 25 1411 51 1431 79 1459 89 1473 99 1493 107 1517 121 1547 139 1575 155 1595 201 1639 251 1677 295 1701 317 1725 333 1739 347 1745 377 1745 379 1747 385 1747 413 1761 437 1777 449 1775 491 1731 497 1721 531 1687 535 1679 569 1645 579 1641 677 1641 679 1639 1115 1639 1117 1641 1241 1641 1243 1643 1287 1643 1291 1645 1295 1651 1285 1663 1283 1669 1285 1679 1315 1735 1319 1751 1367 1845 1379 1851 1385 1849 1391 1851 1399 1859 1403 1869 1413 1877 1443 1879 1479 1869 1515 1849 1593 1797 1615 1779 1641 1751 1669 1709 1733 1647 1755 1619 1815 1523 1829 1495 1833 1491 1855 1445 1865 1415 1867 1397 1869 1395 1869 1333 1871 1331 1875 1311 1885 1289 1893 1277 1965 1207 1971 1203 1975 1203 1975 805 1967 801 1955 789 1935 759 1913 713 1913 709 1907 699 1907 695 1901 685 1901 681 1889 657 1889 653 1881 639 1881 635 1855 587 1841 567 1793 519 1781 501 1773 483 1767 449 1759 421 1747 395 1727 365 1691 323 1633 267 1593 239 1537 211 1489 169 1461 151 1413 129 1409 129 1373 113 1363 111 1347 103 1337 101 1331 97 1315 93 1309 89 1279 79 1273 79 1237 67 1229 67 1227 65 1209 63 1207 61 1195 61 1193 59 1109 61 1107 59 1097 59 1095 57 1081 55 1055 43 1017 17 1005 5 1005 1 821 1 809 15 797 23 737 55 717 61 709 61 707 63 689 63 687 65 671 65 669 67 647 69Z"/>
<path fill="#00f293" fill-rule="evenodd" d="M547 493 599 455 633 433 647 427 657 419 737 383 791 365 797 365 831 355 841 355 843 353 861 351 871 347 887 347 899 343 927 343 937 339 1015 339 1025 343 1055 343 1065 347 1083 347 1093 351 1103 351 1113 355 1123 355 1125 357 1155 363 1215 383 1249 399 1263 403 1327 437 1375 469 1443 523 1481 561 1485 569 1505 589 1523 615 1531 623 1567 677 1575 695 1583 705 1597 733 1601 747 1619 785 1637 839 1637 845 1651 895 1651 905 1655 915 1655 929 1659 939 1659 959 1663 971 1663 1099 1661 1101 1661 1121 1657 1135 1657 1151 1653 1163 1653 1173 1649 1183 1649 1191 1647 1193 1645 1209 1641 1217 1637 1239 1611 1315 1595 1349 1591 1363 1555 1433 1527 1469 1525 1475 1469 1531 1417 1567 1405 1571 1191 1571 1189 1573 553 1571 551 1569 537 1569 521 1557 507 1543 497 1537 441 1481 419 1447 385 1385 371 1373 363 1363 355 1339 345 1319 319 1243 317 1227 311 1211 307 1185 303 1175 303 1163 301 1161 299 1135 297 1133 297 1109 293 1095 293 977 297 963 297 945 301 931 301 919 303 917 307 889 309 887 319 841 339 781 373 705 381 695 389 677 413 643 415 637 435 609 443 601 447 593 467 573 471 565 523 513 531 509ZM603 89 517 137 419 199 391 221 363 249 329 295 309 315 279 335 241 355 197 389 155 433 117 483 95 523 95 527 89 537 79 565 59 601 23 641 9 651 1 653 1 1393 11 1395 23 1401 39 1413 85 1457 103 1489 115 1525 135 1563 153 1587 195 1629 251 1673 299 1699 335 1737 343 1741 353 1741 355 1743 381 1743 407 1755 437 1775 445 1775 453 1769 471 1747 475 1745 493 1725 499 1715 533 1681 539 1671 561 1649 571 1641 581 1641 583 1639 705 1639 707 1637 1087 1637 1089 1639 1289 1641 1293 1643 1299 1651 1287 1663 1285 1669 1287 1679 1307 1719 1317 1733 1317 1739 1325 1755 1325 1759 1329 1763 1333 1775 1337 1779 1337 1783 1341 1787 1341 1791 1345 1795 1345 1799 1365 1839 1373 1847 1379 1849 1389 1847 1399 1857 1405 1869 1419 1875 1453 1873 1473 1867 1495 1857 1587 1797 1621 1769 1647 1737 1669 1703 1727 1649 1751 1619 1775 1583 1825 1499 1857 1431 1859 1419 1863 1411 1865 1387 1867 1385 1865 1335 1867 1333 1867 1325 1871 1311 1885 1281 1969 1195 1975 1193 1975 817 1961 807 1933 765 1913 723 1913 719 1897 685 1897 681 1881 647 1881 643 1855 593 1837 567 1795 527 1779 505 1769 483 1761 437 1755 419 1741 391 1721 363 1675 311 1633 271 1593 243 1561 227 1557 227 1533 213 1489 173 1465 157 1437 143 1433 143 1409 131 1389 125 1353 109 1253 75 1247 75 1229 69 1221 69 1219 67 1211 67 1209 65 1197 65 1195 63 1103 65 1101 63 1091 63 1083 59 1077 59 1055 49 1035 35 1019 27 995 11 987 1 845 1 835 11 733 63 727 63 717 67 703 67 701 69 661 71 659 73 641 75Z"/>
<path fill="#00f084" fill-rule="evenodd" d="M543 493 551 489 559 481 625 435 643 427 653 419 689 401 699 399 717 389 797 361 803 361 829 353 839 353 849 349 859 349 869 345 887 345 897 341 927 341 937 337 1015 337 1025 341 1055 341 1065 345 1083 345 1093 349 1103 349 1113 353 1123 353 1125 355 1163 363 1211 379 1217 383 1241 391 1259 401 1269 403 1331 437 1379 469 1387 477 1411 493 1425 507 1433 511 1485 563 1491 573 1511 593 1535 625 1567 673 1601 737 1601 741 1619 779 1641 845 1641 851 1653 893 1653 903 1657 913 1657 927 1661 937 1661 959 1665 969 1665 1099 1663 1101 1663 1125 1659 1137 1659 1153 1655 1163 1655 1175 1651 1185 1651 1193 1649 1195 1645 1217 1641 1225 1639 1241 1631 1261 1629 1273 1623 1283 1619 1299 1615 1305 1615 1311 1601 1341 1593 1365 1555 1437 1545 1447 1539 1459 1529 1469 1525 1477 1513 1491 1509 1493 1479 1525 1417 1569 1411 1571 1385 1571 1383 1573 593 1573 591 1571 539 1571 497 1539 439 1481 425 1461 403 1421 395 1411 383 1387 363 1369 353 1341 343 1321 337 1299 333 1293 319 1251 319 1245 315 1237 315 1229 303 1187 299 1155 297 1153 297 1137 293 1123 293 1101 291 1099 291 973 295 961 295 941 299 929 299 917 303 905 303 895 305 893 317 839 335 785 341 775 343 765 373 701 419 627 451 585 467 569 473 559 517 515 527 509ZM613 89 577 107 563 117 505 149 415 207 395 223 365 253 337 293 317 315 299 329 237 363 189 403 153 443 123 483 99 527 81 577 69 599 39 637 13 663 1 667 1 1383 17 1389 31 1399 87 1451 103 1477 119 1525 133 1553 159 1589 191 1621 245 1665 267 1679 297 1693 337 1735 345 1739 361 1739 363 1741 383 1741 389 1743 421 1761 437 1773 449 1771 457 1759 491 1725 495 1717 531 1681 535 1673 571 1639 599 1639 601 1637 769 1637 771 1635 1023 1635 1025 1637 1289 1639 1295 1641 1301 1647 1301 1653 1287 1669 1289 1679 1309 1719 1319 1733 1323 1751 1369 1841 1373 1845 1389 1845 1399 1855 1403 1863 1409 1869 1415 1871 1443 1871 1479 1861 1509 1845 1555 1813 1585 1795 1603 1781 1633 1751 1663 1705 1723 1649 1749 1617 1817 1507 1845 1453 1845 1449 1853 1433 1863 1397 1861 1337 1871 1301 1883 1277 1899 1259 1915 1247 1935 1227 1957 1197 1969 1185 1975 1183 1975 829 1959 815 1937 781 1915 737 1915 733 1909 723 1909 719 1891 679 1887 665 1881 655 1881 651 1873 637 1873 633 1853 595 1835 569 1787 523 1777 509 1765 481 1759 441 1751 417 1735 387 1719 365 1695 337 1623 267 1587 243 1535 219 1489 177 1455 155 1425 141 1421 141 1375 121 1365 119 1349 111 1339 109 1333 105 1317 101 1311 97 1223 71 1203 69 1201 67 1179 67 1177 65 1169 65 1167 67 1143 67 1141 69 1101 69 1099 67 1089 67 1081 63 1075 63 1049 51 1015 29 987 15 983 15 979 11 975 11 963 1 877 1 861 11 807 31 737 67 723 71 713 71 711 73 661 75 659 77 635 81Z"/>
<path fill="#00f174" fill-rule="evenodd" d="M545 489 577 465 615 441 621 435 639 427 649 419 675 407 679 403 693 399 731 381 765 371 771 367 777 367 783 363 789 363 797 359 803 359 829 351 839 351 841 349 859 347 869 343 887 343 897 339 927 339 937 335 1015 335 1025 339 1055 339 1065 343 1083 343 1093 347 1103 347 1113 351 1123 351 1133 355 1141 355 1149 359 1163 361 1217 379 1255 397 1269 401 1297 415 1307 423 1325 431 1377 465 1443 517 1485 559 1489 567 1509 587 1527 613 1535 621 1571 675 1579 693 1587 703 1601 731 1605 745 1623 783 1641 837 1643 851 1647 859 1647 867 1651 875 1651 883 1655 891 1655 901 1659 911 1659 925 1663 935 1663 957 1667 967 1667 1101 1665 1103 1665 1127 1661 1137 1661 1155 1657 1165 1655 1185 1653 1187 1651 1203 1645 1219 1641 1241 1615 1317 1601 1347 1593 1371 1563 1427 1541 1459 1531 1469 1527 1477 1471 1533 1411 1573 1203 1573 1201 1575 539 1573 497 1541 437 1481 423 1461 401 1421 391 1409 383 1391 361 1371 347 1333 343 1327 343 1323 339 1317 329 1283 319 1259 309 1215 305 1207 305 1199 303 1197 303 1189 301 1187 301 1179 297 1167 297 1157 295 1155 295 1139 291 1127 291 1101 289 1099 289 971 293 959 293 939 297 927 297 915 299 913 303 885 305 883 313 845 335 779 369 703 377 693 395 659 443 591 463 571 467 563 521 509 531 503ZM617 91 585 107 533 139 523 143 427 203 379 243 359 267 335 303 315 323 295 337 251 359 225 377 195 403 157 445 127 485 105 525 85 583 71 607 27 663 11 679 1 683 1 1375 5 1375 23 1385 59 1417 93 1451 107 1475 119 1515 139 1557 155 1579 187 1613 247 1663 269 1677 303 1693 315 1705 329 1725 345 1737 385 1739 415 1755 437 1771 445 1771 489 1725 493 1717 529 1681 533 1673 565 1641 573 1637 651 1637 653 1635 1141 1635 1143 1637 1289 1637 1291 1639 1297 1639 1303 1647 1303 1653 1289 1669 1291 1679 1311 1719 1321 1731 1323 1747 1371 1841 1379 1845 1381 1843 1389 1843 1397 1851 1403 1861 1409 1867 1415 1869 1447 1867 1485 1855 1577 1797 1617 1765 1637 1741 1653 1713 1665 1697 1705 1663 1723 1645 1747 1615 1801 1529 1841 1455 1841 1451 1847 1441 1857 1413 1857 1405 1861 1393 1859 1329 1871 1293 1883 1271 1929 1229 1961 1183 1975 1171 1975 845 1965 835 1957 823 1941 793 1937 789 1929 771 1925 767 1925 763 1913 741 1913 737 1895 697 1895 693 1877 653 1877 649 1851 597 1833 571 1783 523 1771 505 1761 479 1759 457 1757 455 1757 445 1755 443 1753 429 1737 395 1717 367 1693 339 1621 269 1585 245 1535 223 1487 179 1453 157 1377 125 1325 107 1319 103 1227 75 1219 75 1207 71 1193 71 1191 69 1155 69 1153 71 1139 71 1137 73 1103 73 1101 71 1081 69 1055 59 1017 35 995 25 965 15 957 15 945 11 901 11 899 13 869 17 867 19 845 23 801 39 753 63 749 67 727 75 659 79Z"/>
<path fill="#00f462" fill-rule="evenodd" d="M539 491 565 473 573 465 621 433 645 421 655 413 683 399 693 397 711 387 721 385 731 379 747 375 753 371 789 359 795 359 829 349 859 345 869 341 887 341 897 337 927 337 937 333 1015 333 1025 337 1055 337 1065 341 1083 341 1093 345 1103 345 1113 349 1123 349 1133 353 1141 353 1149 357 1163 359 1217 377 1255 395 1265 397 1329 431 1383 467 1415 491 1429 505 1437 509 1489 561 1493 569 1513 589 1543 629 1571 671 1605 735 1607 745 1625 783 1645 843 1645 851 1649 859 1649 865 1657 891 1657 901 1661 911 1661 925 1665 935 1665 957 1669 967 1669 1101 1667 1103 1667 1127 1663 1139 1663 1155 1659 1165 1659 1177 1653 1195 1653 1203 1645 1227 1645 1235 1631 1279 1627 1285 1615 1323 1605 1343 1597 1367 1559 1437 1531 1471 1529 1477 1473 1533 1431 1563 1413 1573 1407 1573 1405 1575 559 1575 557 1573 535 1573 527 1565 519 1561 503 1545 495 1541 435 1481 433 1475 425 1467 423 1461 415 1451 399 1421 389 1409 379 1389 359 1373 359 1369 339 1323 333 1301 329 1295 315 1253 315 1247 311 1239 309 1223 305 1215 303 1199 299 1189 299 1181 295 1169 295 1157 293 1155 293 1139 289 1127 289 1103 287 1101 287 969 291 959 291 937 295 927 295 913 299 903 299 893 301 891 313 837 331 783 337 773 339 763 349 745 351 735 369 699 379 685 385 671 413 631 415 625 447 583 463 567 469 557 515 511 523 507ZM621 93 581 113 557 129 523 147 425 209 399 229 373 255 337 307 319 325 293 343 245 367 207 397 183 421 143 469 123 499 107 531 93 577 83 599 41 653 21 683 7 697 1 699 1 1367 7 1367 25 1379 97 1449 111 1473 127 1527 139 1551 157 1577 189 1611 249 1661 271 1675 303 1689 319 1705 327 1719 345 1735 351 1735 353 1737 385 1737 415 1753 437 1769 445 1769 487 1725 491 1717 527 1681 531 1673 565 1639 573 1635 703 1635 705 1633 1285 1635 1287 1637 1297 1637 1305 1647 1305 1655 1293 1665 1291 1675 1313 1719 1323 1731 1325 1747 1369 1835 1379 1843 1381 1841 1389 1841 1409 1865 1415 1865 1417 1867 1441 1865 1443 1863 1451 1863 1453 1861 1473 1857 1517 1833 1557 1805 1581 1791 1609 1769 1631 1745 1659 1699 1677 1681 1701 1663 1723 1641 1741 1619 1813 1503 1841 1449 1841 1445 1849 1429 1855 1411 1857 1391 1859 1389 1859 1371 1857 1369 1857 1355 1855 1353 1855 1333 1863 1305 1873 1285 1873 1281 1879 1271 1901 1249 1913 1241 1925 1229 1943 1205 1963 1169 1975 1159 1975 959 1965 949 1961 937 1963 915 1973 887 1973 869 1969 863 1961 839 1949 815 1937 797 1913 749 1913 745 1909 739 1909 735 1905 729 1885 675 1879 665 1875 651 1865 633 1865 629 1849 599 1833 575 1817 557 1803 547 1779 523 1771 511 1759 485 1753 439 1743 411 1723 379 1693 343 1629 279 1609 263 1575 243 1571 243 1535 227 1519 215 1509 203 1483 179 1455 161 1425 147 1421 147 1395 135 1385 133 1359 121 1349 119 1343 115 1333 113 1327 109 1311 105 1305 101 1261 87 1255 87 1247 83 1223 79 1213 75 1185 73 1183 71 1165 71 1163 73 1147 73 1145 75 1133 75 1131 77 1107 77 1105 75 1093 75 1091 73 1075 71 1051 61 1031 47 1003 33 999 33 987 27 963 23 961 21 949 21 947 19 905 19 903 21 887 21 885 23 861 25 859 27 829 33 801 45 797 45 769 59 765 63 729 79 721 79 719 81 669 81 667 83 655 83Z"/>
<path fill="#00f650" fill-rule="evenodd" d="M541 487 605 441 627 427 641 421 651 413 683 397 693 395 711 385 721 383 731 377 741 375 747 371 753 371 759 367 789 357 795 357 829 347 859 343 869 339 887 339 897 335 927 335 937 331 1015 331 1025 335 1055 335 1065 339 1083 339 1093 343 1103 343 1113 347 1123 347 1125 349 1163 357 1217 375 1227 381 1237 383 1255 393 1265 395 1301 413 1311 421 1345 439 1413 487 1427 501 1435 505 1511 583 1529 609 1537 617 1587 695 1619 763 1647 843 1647 849 1659 891 1659 901 1663 911 1663 925 1667 935 1667 957 1671 967 1671 1101 1669 1103 1669 1127 1665 1139 1665 1155 1661 1165 1661 1177 1657 1187 1657 1195 1655 1197 1651 1219 1647 1227 1647 1235 1633 1279 1623 1301 1619 1319 1613 1329 1599 1367 1561 1437 1551 1447 1529 1479 1473 1535 1421 1571 1411 1575 1223 1575 1221 1577 537 1575 517 1561 501 1545 493 1541 435 1483 407 1441 397 1421 387 1409 379 1393 369 1383 359 1377 339 1329 339 1325 335 1319 333 1307 327 1295 311 1247 307 1223 303 1215 301 1199 297 1189 293 1159 291 1157 291 1141 287 1129 287 1103 285 1101 285 969 289 959 289 937 293 927 293 913 297 903 297 893 301 883 301 875 305 867 305 859 309 851 309 843 329 783 345 749 349 735 359 717 359 713 363 709 363 705 373 691 385 667 441 587 459 569 465 559 517 507 525 503ZM619 97 591 111 543 141 489 171 433 207 409 225 377 255 363 273 345 303 327 323 301 343 245 371 219 391 177 433 139 481 125 503 109 537 95 585 85 605 49 651 23 691 21 697 15 705 1 717 1 1357 17 1365 101 1447 115 1473 127 1519 141 1549 169 1587 193 1611 259 1665 311 1691 321 1703 327 1715 343 1731 351 1735 385 1735 391 1737 437 1767 445 1767 485 1725 489 1717 525 1681 529 1673 565 1637 575 1633 851 1633 853 1631 941 1631 943 1633 1261 1633 1263 1635 1297 1635 1303 1639 1307 1647 1307 1655 1295 1665 1293 1675 1315 1719 1327 1731 1325 1735 1327 1747 1371 1835 1375 1839 1389 1839 1409 1863 1415 1863 1417 1865 1447 1861 1475 1853 1509 1835 1601 1773 1631 1741 1657 1697 1675 1679 1695 1665 1725 1635 1745 1609 1809 1505 1841 1443 1841 1439 1849 1423 1849 1417 1855 1401 1855 1389 1857 1387 1857 1373 1855 1371 1855 1359 1853 1357 1853 1329 1869 1283 1881 1263 1909 1241 1933 1215 1943 1199 1969 1147 1975 1143 1975 975 1965 967 1957 955 1953 943 1953 925 1955 923 1955 915 1957 913 1957 907 1961 897 1961 887 1963 885 1961 857 1953 833 1909 747 1909 743 1905 737 1905 733 1901 727 1901 723 1897 717 1897 713 1893 707 1873 653 1867 643 1867 639 1851 607 1835 581 1811 555 1799 547 1777 525 1769 513 1755 481 1753 449 1745 421 1723 383 1695 349 1641 293 1613 269 1573 245 1535 231 1521 221 1509 207 1479 179 1437 155 1433 155 1423 149 1393 139 1357 123 1309 107 1303 103 1279 95 1273 95 1259 89 1245 87 1237 83 1229 83 1227 81 1211 79 1209 77 1199 77 1197 75 1153 75 1139 79 1097 79 1095 77 1077 75 1055 67 1013 41 985 31 969 29 967 27 955 27 953 25 903 25 901 27 881 27 879 29 855 31 853 33 823 39 811 45 801 47 737 81 719 83 717 85 661 85Z"/>
<path fill="#00f83e" fill-rule="evenodd" d="M533 491 575 459 623 427 641 419 651 411 683 395 693 393 731 375 797 353 803 353 829 345 839 345 849 341 869 339 871 337 887 337 897 333 927 333 937 329 1015 329 1025 333 1055 333 1065 337 1083 337 1093 341 1103 341 1113 345 1123 345 1125 347 1163 355 1217 373 1255 391 1269 395 1333 429 1381 461 1443 509 1489 555 1495 565 1515 585 1573 667 1609 735 1609 739 1617 753 1617 757 1629 783 1649 843 1649 849 1661 891 1661 901 1665 911 1665 925 1669 935 1669 957 1673 967 1673 1101 1671 1103 1671 1127 1667 1139 1667 1155 1663 1165 1663 1177 1659 1187 1659 1195 1657 1197 1653 1219 1649 1227 1649 1235 1635 1279 1625 1301 1621 1319 1611 1339 1601 1367 1583 1403 1563 1433 1561 1439 1551 1449 1529 1481 1475 1535 1423 1571 1407 1577 541 1577 531 1573 523 1565 517 1563 499 1545 493 1543 435 1485 413 1453 395 1421 389 1415 377 1393 357 1377 335 1325 331 1307 327 1301 309 1247 305 1223 301 1215 299 1199 295 1189 291 1159 289 1157 289 1141 285 1129 285 1103 283 1101 283 969 287 959 287 937 291 927 291 913 295 903 295 893 299 883 299 875 303 867 303 859 307 851 307 843 327 783 331 777 339 753 347 739 349 729 363 701 371 691 389 657 395 651 413 621 421 613 437 589 455 571 461 561ZM617 101 495 171 411 227 379 257 359 285 345 309 321 333 301 347 261 365 239 379 219 395 185 429 155 465 135 493 115 531 105 561 103 575 93 601 45 665 13 725 1 735 1 1349 19 1359 55 1399 101 1441 117 1467 125 1503 133 1527 143 1547 167 1581 199 1613 263 1665 311 1687 319 1695 331 1717 343 1729 351 1733 385 1733 391 1735 437 1765 445 1765 485 1723 489 1715 525 1679 529 1671 569 1633 621 1633 623 1631 1169 1631 1171 1633 1297 1633 1305 1639 1309 1647 1309 1657 1295 1669 1297 1681 1317 1719 1329 1727 1331 1731 1327 1739 1329 1747 1375 1837 1383 1837 1385 1835 1389 1837 1397 1849 1409 1861 1415 1863 1445 1859 1483 1847 1501 1837 1529 1817 1535 1815 1557 1799 1563 1797 1597 1773 1631 1737 1653 1697 1671 1679 1705 1653 1741 1611 1813 1493 1835 1451 1835 1447 1845 1427 1851 1409 1853 1389 1855 1387 1855 1373 1853 1371 1853 1361 1849 1349 1849 1335 1867 1281 1877 1263 1895 1247 1905 1241 1931 1213 1949 1179 1961 1145 1969 1131 1975 1125 1975 987 1961 975 1949 953 1949 947 1947 945 1947 925 1949 923 1949 917 1955 899 1955 889 1957 887 1957 861 1955 859 1955 851 1949 833 1943 823 1943 819 1933 803 1907 749 1907 745 1903 739 1903 735 1899 729 1893 709 1889 703 1873 659 1867 649 1867 645 1845 601 1829 577 1817 563 1795 547 1777 529 1765 511 1753 485 1751 451 1741 417 1723 387 1699 357 1677 333 1617 275 1591 257 1567 245 1557 243 1529 231 1521 225 1483 185 1463 171 1431 155 1427 155 1371 131 1361 129 1345 121 1335 119 1329 115 1257 91 1251 91 1217 81 1209 81 1207 79 1195 79 1193 77 1157 77 1155 79 1143 79 1131 83 1105 83 1103 81 1081 79 1079 77 1065 75 1005 41 979 33 951 31 949 29 911 29 909 31 885 31 883 33 869 33 867 35 845 37 791 55 737 85 731 85 729 87 667 87 665 89 645 91Z"/>
<path fill="#00fa2c" fill-rule="evenodd" d="M535 487 561 469 569 461 623 425 641 417 651 409 683 393 693 391 731 373 791 353 797 353 831 343 841 343 851 339 871 337 873 335 889 335 899 331 929 331 939 327 1013 327 1023 331 1053 331 1065 335 1081 335 1091 339 1101 339 1111 343 1121 343 1131 347 1139 347 1147 351 1155 351 1221 373 1259 391 1269 393 1333 427 1395 469 1419 487 1433 501 1441 505 1493 557 1497 565 1517 585 1535 611 1543 619 1575 667 1611 735 1611 739 1629 777 1651 843 1651 851 1655 859 1655 867 1659 875 1659 881 1663 891 1663 901 1667 911 1667 925 1671 935 1671 957 1675 967 1675 1101 1673 1103 1673 1125 1669 1137 1669 1155 1665 1165 1665 1177 1663 1179 1659 1203 1653 1219 1647 1249 1637 1279 1633 1285 1629 1301 1625 1307 1623 1319 1613 1339 1603 1367 1593 1387 1589 1391 1587 1399 1563 1439 1551 1451 1549 1457 1533 1475 1529 1483 1477 1535 1425 1571 1413 1577 1263 1577 1261 1579 713 1579 711 1577 535 1577 515 1563 499 1547 491 1543 435 1487 405 1443 397 1427 387 1415 375 1393 355 1377 333 1325 329 1307 325 1301 307 1247 303 1223 299 1215 297 1199 293 1189 291 1169 287 1157 287 1139 283 1129 283 1103 281 1101 281 969 285 959 285 937 289 927 289 913 293 903 293 893 297 883 297 875 301 867 301 859 305 851 305 843 327 777 345 739 347 729 363 697 371 687 379 669 411 621 441 581 459 563 463 555 511 507 521 501ZM619 103 497 173 413 229 379 261 349 309 319 339 307 347 263 367 241 381 219 399 189 429 159 465 129 509 117 535 111 553 107 575 103 583 103 589 97 603 51 663 35 693 35 697 27 711 27 715 15 741 1 757 1 1341 11 1345 35 1369 45 1383 109 1445 119 1463 125 1483 129 1507 135 1525 147 1549 167 1577 207 1617 267 1665 293 1677 303 1679 313 1685 325 1699 327 1707 335 1719 349 1731 385 1731 391 1733 437 1763 445 1763 483 1723 487 1715 523 1679 527 1671 569 1631 725 1631 727 1629 1295 1631 1301 1633 1311 1647 1311 1657 1297 1669 1297 1677 1317 1717 1331 1727 1333 1731 1331 1745 1375 1833 1379 1835 1385 1833 1397 1845 1401 1853 1413 1861 1425 1861 1427 1859 1445 1857 1453 1853 1459 1853 1477 1847 1497 1837 1537 1809 1543 1807 1583 1781 1601 1767 1627 1739 1651 1695 1667 1679 1695 1659 1721 1633 1741 1607 1805 1503 1843 1427 1849 1409 1851 1389 1853 1387 1853 1373 1851 1371 1851 1361 1847 1351 1847 1333 1849 1331 1853 1311 1857 1305 1867 1275 1875 1261 1883 1253 1909 1235 1931 1209 1945 1181 1963 1123 1967 1115 1975 1107 1975 999 1965 991 1953 973 1945 957 1943 943 1941 941 1943 921 1949 905 1951 887 1953 885 1953 861 1951 859 1951 851 1945 831 1905 751 1895 721 1887 705 1885 695 1881 689 1869 655 1861 641 1861 637 1845 605 1825 575 1807 557 1791 547 1775 531 1767 519 1751 487 1751 479 1749 477 1749 453 1747 451 1747 441 1741 423 1719 385 1687 347 1623 283 1603 267 1571 249 1561 247 1555 243 1539 239 1527 233 1519 227 1497 201 1477 183 1459 171 1435 159 1431 159 1375 135 1365 133 1349 125 1339 123 1333 119 1249 91 1243 91 1225 85 1217 85 1215 83 1207 83 1205 81 1193 81 1191 79 1157 79 1155 81 1147 81 1135 85 1101 85 1099 83 1087 83 1085 81 1077 81 1057 75 1027 55 997 41 973 37 971 35 955 35 953 33 883 35 881 37 865 37 863 39 843 41 803 53 771 69 757 79 729 91 675 89 673 91 647 93Z"/>
<path fill="#00fc1b" fill-rule="evenodd" d="M401 1529 423 1551 423 1557 405 1575 391 1585 381 1597 373 1599 351 1577 349 1571 375 1545 383 1541 395 1529ZM349 1465 357 1477 367 1487 369 1493 327 1529 319 1533 311 1529 311 1523 329 1509 345 1493 347 1489 347 1473 345 1467ZM1623 1441 1635 1445 1645 1453 1651 1455 1677 1475 1675 1483 1659 1505 1651 1505 1645 1499 1639 1497 1629 1487 1615 1479 1607 1477 1601 1471 1613 1451ZM1667 1405 1681 1401 1711 1401 1715 1407 1709 1419 1709 1425 1705 1431 1701 1433 1677 1417ZM537 483 545 479 569 459 623 423 641 415 651 407 731 371 791 351 797 351 823 343 833 343 835 341 853 339 863 335 879 335 891 331 917 331 931 327 1021 327 1035 331 1061 331 1075 335 1089 335 1091 337 1099 337 1101 339 1109 339 1111 341 1119 341 1121 343 1129 343 1131 345 1161 351 1221 371 1259 389 1269 391 1333 425 1417 483 1433 499 1441 503 1495 557 1501 567 1521 587 1525 595 1545 619 1577 667 1613 735 1617 749 1621 753 1621 757 1633 783 1651 837 1657 867 1661 875 1661 883 1665 893 1665 903 1669 913 1669 927 1673 937 1673 959 1677 967 1677 1101 1673 1111 1673 1135 1671 1137 1671 1153 1667 1163 1667 1175 1663 1185 1659 1211 1653 1225 1651 1241 1647 1249 1647 1255 1639 1279 1629 1301 1625 1319 1603 1367 1603 1371 1563 1441 1553 1451 1531 1483 1479 1535 1421 1575 1411 1579 537 1579 529 1575 521 1567 513 1563 497 1547 489 1543 435 1489 411 1455 393 1423 385 1415 375 1395 369 1389 361 1387 355 1381 331 1325 327 1307 323 1301 319 1285 311 1267 311 1261 305 1247 303 1231 291 1189 289 1167 285 1155 285 1139 281 1127 281 1103 279 1101 279 969 283 959 283 937 287 927 287 913 291 903 291 893 293 891 305 837 323 783 331 767 333 757 343 739 345 729 361 697 369 687 377 669 437 583 457 563 461 555 513 503 521 499ZM625 103 597 117 563 139 553 143 529 159 489 181 439 213 407 237 379 265 351 311 319 343 295 357 291 357 265 369 223 399 191 431 169 457 131 511 115 549 105 595 95 613 71 641 53 667 31 715 19 753 11 769 1 779 1 1333 9 1335 27 1353 51 1385 113 1445 121 1459 127 1479 131 1505 139 1529 147 1545 165 1571 197 1605 259 1657 283 1671 305 1677 317 1685 327 1697 327 1701 337 1719 349 1729 355 1731 367 1731 369 1729 385 1729 391 1731 437 1761 443 1761 481 1723 485 1715 521 1679 525 1671 565 1631 571 1629 1293 1629 1305 1633 1313 1649 1313 1659 1299 1669 1299 1677 1319 1717 1325 1721 1329 1721 1333 1725 1335 1741 1339 1747 1339 1751 1343 1755 1343 1759 1347 1763 1347 1767 1355 1779 1355 1783 1359 1787 1359 1791 1363 1797 1371 1803 1381 1825 1395 1841 1399 1849 1411 1859 1427 1859 1429 1857 1459 1851 1481 1843 1499 1833 1555 1795 1561 1793 1605 1761 1631 1729 1651 1691 1665 1677 1699 1653 1715 1637 1749 1591 1815 1481 1841 1427 1849 1401 1849 1391 1851 1389 1851 1371 1849 1369 1849 1361 1845 1353 1843 1339 1855 1299 1859 1293 1867 1269 1879 1253 1901 1239 1921 1219 1933 1201 1949 1159 1953 1137 1957 1129 1957 1123 1965 1099 1975 1085 1975 1013 1967 1005 1941 959 1937 945 1937 929 1949 889 1949 857 1947 855 1947 847 1941 829 1905 757 1905 753 1893 727 1891 717 1887 711 1885 701 1881 695 1865 651 1857 637 1857 633 1829 583 1809 561 1787 547 1777 537 1757 507 1747 481 1747 453 1745 451 1745 441 1741 427 1721 391 1695 359 1629 291 1605 271 1575 253 1537 241 1525 235 1513 225 1501 209 1479 187 1439 163 1435 163 1425 157 1405 151 1359 131 1333 123 1327 119 1255 95 1249 95 1215 85 1207 85 1205 83 1193 83 1191 81 1159 81 1157 83 1147 83 1145 85 1125 87 1123 89 1073 83 1051 75 1015 51 987 41 965 39 963 37 901 37 899 39 875 39 873 41 847 43 845 45 823 49 805 55 791 63 787 63 749 87 735 93 727 93 725 95 711 95 709 93 659 93Z"/>
<path fill="#00fe09" fill-rule="evenodd" d="M401 1525 427 1551 427 1557 413 1573 399 1581 379 1601 371 1601 347 1577 345 1569 369 1545 379 1539 391 1527ZM347 1459 373 1489 373 1495 333 1529 317 1537 309 1531 307 1523 331 1505 345 1487 345 1477 341 1465 343 1461ZM1619 1439 1625 1437 1645 1447 1681 1473 1679 1483 1667 1501 1659 1509 1647 1505 1625 1487 1613 1481 1607 1481 1599 1475 1597 1471 1599 1465 1607 1457 1609 1451ZM1663 1373 1667 1371 1675 1373 1707 1389 1711 1393 1715 1393 1723 1401 1723 1407 1705 1437 1699 1437 1691 1433 1647 1403 1647 1397ZM537 481 617 425 631 419 655 403 675 393 689 389 707 379 717 377 727 371 793 349 799 349 825 341 835 341 845 337 855 337 865 333 883 333 893 329 921 329 933 325 1019 325 1031 329 1059 329 1071 333 1087 333 1089 335 1127 341 1129 343 1167 351 1215 367 1221 371 1245 379 1259 387 1273 391 1305 407 1315 415 1333 423 1401 469 1409 477 1417 481 1433 497 1441 501 1497 557 1547 619 1579 667 1613 731 1617 745 1625 759 1625 763 1637 789 1653 837 1653 843 1665 885 1665 893 1667 895 1667 903 1671 915 1671 927 1675 939 1675 959 1679 971 1679 1099 1675 1109 1675 1135 1673 1137 1673 1149 1669 1163 1669 1175 1665 1185 1661 1211 1653 1233 1653 1241 1647 1255 1647 1261 1641 1279 1631 1301 1627 1319 1621 1329 1621 1333 1609 1357 1603 1375 1565 1441 1555 1451 1531 1485 1479 1537 1427 1573 1415 1579 1405 1579 1403 1581 565 1581 563 1579 533 1579 511 1563 497 1549 487 1543 433 1489 409 1455 373 1395 361 1389 353 1381 335 1339 335 1335 329 1325 325 1307 321 1301 317 1285 311 1273 311 1267 305 1253 299 1223 293 1207 291 1189 287 1179 287 1165 283 1155 281 1113 277 1099 277 971 281 959 281 939 285 927 285 915 287 913 291 885 293 883 303 837 321 783 325 777 333 753 341 739 345 725 359 697 367 687 375 669 435 583 453 565 459 555 513 501 521 497ZM621 107 471 195 411 237 387 259 373 277 355 311 321 345 297 359 293 359 263 373 227 399 179 449 151 485 133 513 117 553 109 595 97 617 73 643 59 663 43 695 19 775 11 791 1 801 1 1029 13 1039 19 1055 15 1073 5 1083 1 1083 1 1323 9 1327 23 1341 55 1385 85 1415 101 1427 119 1447 127 1467 129 1483 131 1485 131 1495 139 1523 153 1551 169 1573 207 1611 265 1659 283 1669 301 1673 313 1679 327 1693 335 1713 343 1723 353 1729 375 1729 377 1727 391 1729 409 1739 437 1759 443 1759 483 1717 489 1707 523 1673 529 1663 551 1643 553 1639 565 1629 571 1627 1291 1627 1293 1629 1303 1629 1311 1637 1317 1655 1315 1659 1301 1671 1301 1677 1319 1713 1333 1723 1337 1739 1363 1791 1373 1803 1385 1829 1397 1845 1409 1857 1427 1857 1429 1855 1445 1853 1459 1847 1471 1845 1495 1833 1595 1767 1625 1735 1649 1689 1659 1679 1691 1657 1721 1627 1735 1609 1815 1477 1841 1421 1847 1401 1847 1393 1849 1391 1849 1369 1841 1347 1841 1337 1847 1321 1847 1315 1851 1309 1865 1267 1875 1253 1905 1233 1917 1221 1927 1207 1937 1187 1943 1169 1943 1163 1949 1145 1949 1137 1953 1127 1953 1119 1957 1111 1957 1105 1961 1097 1965 1079 1975 1057 1975 1035 1961 1007 1961 1003 1937 959 1933 947 1933 931 1945 893 1947 863 1945 861 1943 843 1935 821 1925 801 1921 797 1905 763 1905 759 1893 733 1891 723 1887 717 1885 707 1877 691 1875 681 1861 651 1861 647 1853 633 1853 629 1837 599 1817 571 1803 559 1789 551 1771 533 1763 521 1747 491 1747 485 1745 483 1745 451 1743 449 1743 441 1739 427 1717 389 1685 351 1607 275 1589 263 1565 251 1547 247 1523 237 1481 191 1451 171 1425 159 1415 157 1409 153 1389 147 1383 143 1379 143 1353 131 1343 129 1337 125 1327 123 1321 119 1247 95 1241 95 1215 87 1193 85 1191 83 1159 83 1157 85 1149 85 1147 87 1139 87 1127 91 1109 91 1107 89 1081 87 1079 85 1071 85 1057 81 1021 57 999 47 975 43 973 41 955 41 953 39 887 41 885 43 867 43 865 45 841 47 797 61 771 75 755 87 733 97 661 95Z"/>
<path fill="#08fe06" fill-rule="evenodd" d="M399 1521 429 1549 431 1557 417 1573 401 1581 381 1601 371 1603 351 1585 341 1571 369 1541 377 1537 391 1523ZM347 1455 355 1461 365 1477 375 1487 377 1495 335 1531 323 1539 315 1539 307 1531 305 1525 309 1519 329 1505 343 1489 343 1473 339 1463 341 1459ZM1619 1435 1623 1433 1633 1439 1637 1439 1677 1465 1683 1471 1683 1479 1679 1487 1663 1509 1655 1511 1625 1489 1613 1483 1601 1481 1595 1475 1597 1463ZM1663 1367 1671 1367 1691 1377 1725 1399 1725 1409 1721 1413 1711 1435 1705 1441 1701 1441 1685 1433 1679 1427 1651 1411 1643 1403 1643 1397ZM537 479 545 475 569 455 617 423 635 415 645 407 713 375 723 373 733 367 793 347 801 347 825 339 837 339 845 335 857 335 865 331 885 331 893 327 925 327 933 323 1019 323 1027 327 1059 327 1067 331 1087 331 1095 335 1107 335 1115 339 1127 339 1135 343 1159 347 1249 379 1311 409 1321 417 1339 425 1417 479 1433 495 1441 499 1519 579 1523 587 1545 613 1581 667 1589 685 1595 691 1627 759 1629 769 1635 779 1655 839 1655 845 1667 887 1667 895 1671 905 1671 919 1675 929 1675 949 1679 961 1679 1069 1681 1071 1681 1099 1677 1109 1677 1133 1673 1145 1671 1171 1669 1173 1667 1191 1665 1193 1663 1209 1657 1225 1653 1247 1647 1261 1643 1279 1633 1301 1627 1323 1605 1371 1605 1375 1563 1447 1553 1457 1535 1483 1479 1539 1421 1579 1401 1581 1399 1583 575 1583 573 1581 533 1581 513 1567 497 1551 489 1547 429 1487 425 1479 417 1471 415 1465 403 1449 373 1399 367 1393 357 1389 351 1381 325 1319 323 1307 317 1295 313 1279 309 1273 305 1253 299 1239 299 1229 295 1221 289 1187 285 1177 285 1165 283 1163 281 1137 279 1135 279 1109 275 1099 275 1065 277 1063 277 963 281 949 281 931 283 929 285 907 287 905 289 887 291 885 301 839 327 763 335 749 339 735 347 721 347 717 351 713 355 701 365 687 373 669 433 583 451 565 455 557 513 499 521 495ZM631 105 599 121 559 147 549 151 535 161 485 189 433 223 407 243 377 275 355 315 325 345 311 355 289 365 285 365 257 379 233 397 189 441 151 489 137 511 127 531 119 555 115 585 109 605 65 659 51 685 51 689 41 711 27 771 19 795 9 815 1 823 1 1015 7 1017 17 1027 27 1047 27 1071 21 1083 13 1091 1 1095 1 1315 7 1317 21 1331 55 1381 89 1415 103 1425 117 1439 129 1463 135 1503 143 1527 153 1547 177 1579 201 1603 257 1651 275 1663 289 1669 303 1671 321 1683 331 1695 331 1701 335 1711 341 1719 351 1727 365 1729 367 1727 387 1725 397 1729 435 1755 441 1757 479 1719 483 1711 519 1675 523 1667 561 1629 571 1625 1291 1625 1293 1627 1305 1627 1315 1641 1319 1659 1303 1673 1305 1681 1323 1715 1329 1715 1333 1719 1341 1745 1353 1769 1357 1773 1361 1785 1373 1801 1381 1819 1385 1823 1385 1827 1399 1847 1409 1855 1421 1857 1475 1841 1501 1827 1597 1763 1623 1735 1641 1701 1641 1697 1649 1685 1663 1673 1691 1655 1717 1629 1731 1611 1797 1505 1811 1477 1815 1473 1837 1427 1847 1393 1847 1367 1839 1349 1839 1335 1867 1259 1879 1247 1905 1231 1921 1213 1933 1191 1941 1167 1941 1159 1945 1149 1951 1111 1953 1109 1953 1103 1963 1069 1963 1061 1965 1059 1965 1031 1963 1029 1961 1015 1957 1009 1953 995 1933 959 1929 947 1929 933 1943 889 1943 853 1935 827 1901 759 1883 707 1879 701 1859 647 1849 629 1849 625 1823 581 1803 561 1785 551 1771 537 1751 505 1743 485 1743 449 1741 447 1741 439 1737 427 1715 389 1673 341 1609 279 1589 265 1565 253 1539 247 1521 239 1505 223 1489 201 1473 187 1447 171 1439 169 1429 163 1425 163 1399 151 1389 149 1337 127 1321 123 1315 119 1247 97 1241 97 1215 89 1207 89 1205 87 1193 87 1191 85 1157 85 1129 93 1107 93 1105 91 1069 87 1051 81 1013 55 991 47 971 45 969 43 897 43 895 45 873 45 871 47 845 49 803 61 779 73 753 91 737 99 717 101 715 99 699 99 697 97 661 97 659 99 651 99Z"/>
<path fill="#17fb13" fill-rule="evenodd" d="M401 1517 433 1547 435 1559 419 1575 403 1581 377 1605 371 1605 347 1583 339 1573 339 1565 393 1517ZM349 1451 357 1457 365 1471 377 1483 381 1495 373 1505 365 1509 333 1537 323 1543 317 1543 311 1539 303 1527 315 1513 327 1505 339 1493 343 1485 343 1477 339 1469 339 1457 345 1451ZM1619 1431 1627 1431 1647 1441 1681 1463 1687 1469 1685 1481 1663 1511 1659 1513 1653 1511 1623 1489 1615 1485 1597 1483 1591 1475 1591 1465 1603 1451 1607 1443ZM1663 1363 1669 1363 1675 1367 1679 1367 1725 1397 1727 1409 1707 1443 1703 1445 1695 1443 1641 1407 1639 1399 1651 1381 1655 1371ZM537 477 545 473 569 453 617 421 635 413 645 405 681 387 691 385 709 375 719 373 729 367 795 345 803 345 811 341 819 341 829 337 839 337 849 333 859 333 869 329 885 329 897 325 925 325 937 321 1015 321 1027 325 1055 325 1067 329 1083 329 1085 331 1105 333 1115 337 1123 337 1125 339 1133 339 1135 341 1157 345 1223 367 1257 383 1271 387 1335 421 1387 455 1411 475 1417 477 1433 493 1441 497 1495 549 1501 559 1521 579 1537 603 1547 613 1583 667 1591 685 1599 695 1615 727 1617 737 1637 779 1657 839 1657 847 1661 855 1661 863 1665 871 1665 879 1669 887 1669 897 1673 907 1673 921 1677 931 1677 953 1681 963 1681 1105 1679 1107 1679 1133 1675 1143 1675 1159 1671 1171 1671 1181 1667 1191 1665 1209 1657 1231 1655 1247 1647 1267 1645 1279 1635 1301 1631 1319 1619 1343 1619 1347 1607 1371 1607 1375 1567 1447 1555 1459 1553 1465 1541 1477 1537 1485 1479 1543 1427 1579 1411 1585 537 1585 527 1581 513 1571 497 1555 489 1551 427 1489 397 1445 393 1435 389 1431 389 1427 381 1419 371 1399 359 1393 351 1385 323 1319 323 1313 315 1295 315 1289 311 1283 305 1265 305 1259 299 1245 297 1229 291 1213 291 1205 289 1203 285 1177 283 1175 283 1163 281 1161 279 1137 277 1135 277 1107 273 1097 273 1085 275 1083 275 963 279 953 279 931 283 921 283 907 287 897 287 887 291 879 291 871 295 863 295 855 299 847 299 839 319 779 325 769 327 759 359 691 367 681 375 663 431 583 449 565 455 555 513 497 521 493ZM627 109 603 121 553 153 499 183 415 239 389 263 373 285 367 297 367 301 357 317 329 345 313 357 265 377 227 405 201 431 177 459 141 509 125 543 125 549 119 567 119 579 117 581 115 599 107 615 71 655 55 683 43 717 39 741 35 751 35 759 27 783 27 789 23 797 23 803 19 809 11 833 7 839 1 843 1 1003 7 1005 23 1023 29 1033 33 1045 33 1055 35 1057 33 1075 29 1085 13 1101 1 1105 1 1305 15 1315 49 1369 65 1389 79 1403 107 1425 125 1445 133 1467 135 1491 137 1493 141 1517 155 1547 171 1569 215 1613 263 1653 287 1667 305 1669 321 1681 331 1693 335 1707 341 1717 355 1727 371 1727 373 1725 393 1723 435 1751 443 1751 515 1675 519 1667 565 1623 743 1623 745 1621 1305 1623 1313 1629 1323 1653 1321 1663 1309 1671 1307 1675 1323 1709 1333 1713 1335 1717 1335 1727 1341 1739 1341 1743 1345 1747 1345 1751 1353 1763 1367 1793 1373 1799 1385 1825 1397 1843 1411 1855 1423 1855 1471 1841 1501 1825 1597 1761 1613 1745 1625 1729 1643 1689 1659 1673 1671 1667 1693 1651 1715 1629 1729 1611 1803 1491 1831 1437 1831 1433 1839 1417 1843 1397 1845 1395 1845 1365 1839 1355 1835 1341 1861 1265 1865 1257 1875 1247 1897 1235 1917 1215 1929 1195 1937 1173 1941 1147 1943 1145 1943 1135 1947 1123 1947 1113 1949 1111 1949 1103 1957 1075 1959 1051 1961 1049 1959 1025 1957 1023 1957 1015 1953 1003 1929 957 1925 945 1927 927 1935 909 1939 889 1941 887 1941 855 1931 823 1903 769 1903 765 1891 739 1887 723 1883 717 1881 707 1877 701 1857 647 1849 633 1849 629 1821 581 1803 563 1791 557 1773 543 1751 509 1741 487 1741 447 1739 445 1737 431 1717 395 1691 363 1661 331 1609 281 1575 259 1553 251 1531 247 1519 241 1507 229 1495 211 1473 189 1451 175 1425 163 1389 151 1383 147 1379 147 1353 135 1343 133 1337 129 1327 127 1321 123 1255 101 1249 101 1215 91 1195 89 1193 87 1157 87 1131 95 1105 95 1091 91 1067 89 1047 81 1023 63 1003 53 983 49 981 47 967 47 965 45 909 45 907 47 877 47 875 49 847 51 845 53 821 57 799 65 767 83 745 99 733 103 711 103 697 99 661 99Z"/>
<path fill="#26f81f" fill-rule="evenodd" d="M627 111 607 121 577 141 477 199 411 245 385 271 379 279 363 313 341 337 315 359 265 379 237 399 195 441 161 483 141 513 131 533 125 551 117 603 111 615 89 637 71 659 53 695 45 721 43 739 39 749 39 759 35 769 35 777 31 785 31 793 23 815 23 821 15 845 7 861 1 867 1 991 3 991 21 1011 35 1033 39 1047 39 1075 33 1089 23 1101 15 1107 1 1113 1 1295 17 1309 43 1355 63 1383 87 1407 111 1425 127 1443 135 1463 137 1491 139 1493 143 1517 155 1543 175 1571 211 1607 271 1657 293 1667 305 1667 309 1669 331 1691 337 1709 341 1715 353 1725 359 1727 377 1725 385 1721 391 1721 397 1717 459 1645 465 1633 465 1617 455 1601 443 1589 423 1577 415 1577 405 1581 379 1605 373 1607 367 1605 337 1573 323 1549 313 1543 303 1531 303 1523 323 1507 341 1487 337 1451 329 1437 329 1433 331 1431 377 1431 381 1429 369 1401 361 1399 349 1387 329 1339 329 1335 323 1325 321 1313 315 1301 313 1289 303 1265 303 1259 295 1235 295 1227 289 1211 289 1203 285 1193 281 1163 279 1161 279 1143 275 1133 275 1107 273 1105 273 965 277 955 277 933 281 923 281 909 285 899 285 889 287 887 297 841 301 833 301 827 305 821 305 815 309 809 309 803 313 797 313 791 317 785 319 775 335 741 337 731 373 663 405 615 413 607 429 583 447 565 453 555 511 497 523 489 535 477 569 451 611 423 635 411 645 403 677 387 691 383 705 375 709 375 735 363 789 345 797 345 805 341 811 341 821 337 831 337 841 333 851 333 861 329 877 329 889 325 917 325 929 321 1023 321 1035 325 1063 325 1075 329 1091 329 1101 333 1131 337 1133 339 1163 345 1223 365 1261 383 1271 385 1307 403 1317 411 1335 419 1369 443 1387 453 1395 461 1419 477 1433 491 1441 495 1497 549 1503 559 1523 579 1539 603 1549 613 1551 619 1581 661 1587 675 1601 695 1617 727 1619 737 1637 775 1659 841 1659 847 1671 889 1671 899 1675 909 1675 923 1679 933 1679 955 1683 963 1683 1105 1681 1107 1681 1131 1677 1141 1677 1157 1673 1167 1673 1179 1667 1199 1667 1207 1661 1223 1659 1239 1655 1247 1655 1253 1651 1261 1647 1279 1635 1307 1631 1325 1619 1349 1611 1373 1599 1393 1595 1407 1591 1411 1587 1425 1613 1425 1615 1423 1649 1425 1651 1423 1641 1415 1635 1407 1635 1397 1651 1375 1653 1369 1663 1359 1681 1365 1697 1379 1719 1391 1729 1401 1729 1407 1717 1427 1713 1439 1705 1449 1701 1451 1691 1467 1689 1477 1665 1511 1655 1513 1635 1501 1621 1489 1617 1489 1611 1485 1603 1485 1593 1489 1565 1517 1561 1525 1533 1559 1495 1595 1485 1601 1469 1617 1461 1621 1429 1653 1413 1665 1407 1665 1401 1669 1397 1669 1371 1683 1345 1701 1337 1711 1335 1725 1341 1737 1341 1741 1353 1765 1357 1769 1357 1773 1361 1777 1365 1789 1377 1805 1389 1831 1405 1851 1409 1853 1427 1853 1471 1839 1491 1829 1531 1801 1563 1783 1599 1757 1623 1729 1643 1685 1655 1673 1671 1665 1695 1647 1727 1611 1793 1505 1797 1495 1809 1477 1835 1423 1843 1397 1845 1373 1841 1359 1833 1347 1833 1337 1849 1291 1857 1275 1859 1263 1863 1255 1873 1245 1897 1233 1915 1215 1923 1203 1933 1179 1937 1155 1939 1153 1945 1107 1947 1105 1953 1069 1955 1067 1955 1053 1957 1051 1955 1021 1949 1001 1923 951 1923 931 1937 895 1937 887 1939 885 1939 857 1929 823 1905 779 1905 775 1889 739 1885 723 1881 717 1879 707 1875 701 1873 691 1869 685 1857 651 1849 637 1849 633 1837 609 1819 581 1803 565 1781 553 1769 541 1743 499 1739 487 1739 445 1733 425 1715 395 1685 359 1629 301 1601 277 1571 259 1545 251 1537 251 1521 245 1509 235 1493 211 1473 191 1455 179 1425 165 1379 149 1327 127 1311 123 1305 119 1269 107 1249 103 1241 99 1217 95 1207 91 1181 89 1179 87 1155 89 1131 97 1107 97 1105 95 1067 91 1049 85 1023 65 1003 55 989 51 981 51 979 49 967 49 965 47 915 47 913 49 883 49 881 51 847 53 845 55 821 59 799 69 795 69 777 79 747 101 737 105 709 105 695 101 659 101Z"/>
<path fill="#35f62c" fill-rule="evenodd" d="M631 111 607 123 581 141 487 195 435 229 409 249 381 279 363 317 319 359 309 365 287 371 269 379 231 407 203 435 181 461 141 517 127 551 125 571 123 573 123 589 121 591 119 607 113 617 77 655 69 667 55 697 47 725 45 745 43 747 39 775 35 785 35 793 33 795 27 825 23 833 23 839 19 847 19 853 11 877 1 893 1 975 7 981 33 1021 43 1043 43 1079 37 1093 13 1115 1 1119 1 1287 7 1289 15 1297 47 1357 61 1377 81 1399 115 1425 129 1441 137 1461 139 1491 141 1493 141 1503 147 1523 157 1543 179 1573 207 1601 271 1655 291 1665 305 1665 313 1671 333 1691 341 1713 355 1725 373 1725 393 1717 429 1677 431 1671 451 1651 463 1629 463 1619 455 1605 453 1605 443 1593 419 1579 413 1579 403 1583 377 1607 365 1605 327 1563 319 1549 313 1545 303 1533 301 1527 303 1523 335 1495 341 1483 335 1451 323 1435 323 1431 311 1413 311 1409 303 1395 305 1393 341 1393 345 1391 331 1347 323 1331 317 1313 317 1307 313 1301 297 1251 293 1227 287 1211 279 1161 277 1159 277 1141 273 1131 273 1105 271 1103 271 967 275 957 275 935 279 925 279 911 283 901 283 891 285 889 297 835 317 775 335 737 337 727 371 663 427 583 445 565 451 555 525 483 567 451 615 419 683 383 693 381 731 363 791 343 799 343 823 335 835 335 843 331 855 331 863 327 881 327 891 323 921 323 931 319 1021 319 1031 323 1061 323 1071 327 1089 327 1099 331 1109 331 1119 335 1129 335 1137 339 1145 339 1153 343 1161 343 1221 363 1255 379 1269 383 1313 405 1323 413 1341 421 1389 453 1411 471 1419 475 1433 489 1443 495 1499 549 1503 557 1525 579 1583 661 1619 729 1619 733 1629 751 1629 755 1641 781 1659 835 1659 841 1673 891 1673 901 1677 911 1677 925 1681 935 1681 957 1685 965 1685 1103 1681 1113 1679 1157 1675 1167 1675 1179 1671 1189 1667 1215 1663 1223 1661 1239 1651 1269 1651 1275 1643 1291 1643 1297 1635 1317 1635 1323 1619 1361 1619 1369 1617 1371 1619 1375 1641 1373 1659 1355 1671 1355 1683 1361 1699 1379 1723 1393 1729 1399 1729 1411 1723 1419 1713 1441 1695 1465 1679 1495 1663 1513 1659 1515 1645 1509 1619 1489 1613 1487 1603 1487 1599 1489 1565 1521 1563 1527 1557 1535 1553 1537 1537 1559 1497 1597 1485 1605 1471 1619 1463 1623 1427 1661 1413 1669 1395 1673 1373 1685 1361 1695 1349 1701 1337 1715 1339 1735 1365 1787 1381 1811 1391 1833 1407 1851 1411 1853 1421 1853 1467 1839 1491 1827 1531 1799 1563 1781 1601 1753 1621 1729 1631 1709 1635 1695 1643 1681 1649 1675 1671 1663 1695 1645 1725 1611 1791 1505 1795 1495 1807 1477 1835 1419 1843 1391 1843 1369 1837 1355 1829 1345 1829 1335 1835 1325 1839 1309 1845 1299 1859 1257 1869 1245 1897 1231 1915 1213 1927 1191 1931 1179 1935 1155 1937 1153 1937 1141 1941 1127 1943 1103 1945 1101 1945 1093 1947 1091 1947 1083 1951 1071 1951 1061 1953 1059 1953 1027 1951 1025 1949 1009 1945 997 1919 947 1919 933 1933 901 1935 887 1937 885 1937 855 1925 819 1903 779 1903 775 1891 749 1881 717 1877 711 1875 701 1871 695 1851 641 1833 605 1819 583 1801 565 1791 559 1783 557 1773 549 1743 503 1737 489 1737 465 1739 463 1739 455 1737 453 1737 441 1733 429 1719 403 1697 375 1679 355 1601 279 1567 259 1547 255 1545 253 1537 253 1519 247 1503 231 1491 211 1473 193 1435 171 1431 171 1405 159 1395 157 1359 141 1349 139 1333 131 1249 103 1243 103 1209 93 1185 91 1183 89 1163 89 1131 99 1107 99 1093 95 1067 93 1065 91 1057 91 1045 85 1023 67 1003 57 983 53 981 51 965 51 963 49 883 51 881 53 863 53 861 55 849 55 847 57 837 57 835 59 821 61 799 71 795 71 745 105 733 109 719 109 717 107 709 107 697 103 657 103Z"/>
<path fill="#44f338" fill-rule="evenodd" d="M631 113 611 123 551 161 497 191 441 227 407 253 383 279 377 289 377 293 367 315 359 325 317 363 305 369 293 371 269 381 243 399 227 413 197 445 171 477 139 525 127 561 125 593 123 595 121 609 117 617 75 661 59 693 51 719 47 751 43 763 43 773 41 775 39 791 31 817 31 825 19 867 19 875 15 883 11 905 1 931 1 949 15 981 15 985 23 1001 39 1023 47 1045 47 1079 41 1095 13 1121 1 1125 1 1277 17 1291 33 1321 33 1325 43 1345 65 1379 91 1405 121 1427 135 1445 139 1457 143 1503 149 1523 159 1543 181 1573 205 1597 265 1649 289 1663 307 1665 321 1677 323 1681 331 1687 337 1697 337 1703 341 1711 351 1721 359 1725 369 1725 387 1719 407 1701 411 1693 427 1677 431 1669 451 1649 461 1631 461 1619 453 1605 441 1593 421 1581 407 1581 381 1605 373 1609 367 1607 353 1595 343 1581 341 1581 327 1565 319 1551 305 1537 301 1529 303 1521 321 1507 337 1491 339 1487 339 1469 333 1451 325 1441 309 1411 295 1393 295 1389 283 1361 285 1355 321 1355 325 1353 325 1345 321 1337 321 1331 317 1325 309 1291 301 1273 289 1219 285 1211 285 1201 279 1181 279 1167 275 1157 273 1111 269 1101 269 1063 271 1061 271 961 275 947 275 929 277 927 277 917 279 915 283 885 285 883 295 837 315 777 331 743 335 729 371 661 425 583 443 565 449 555 501 501 567 449 615 417 679 383 689 381 727 363 793 341 801 341 825 333 837 333 845 329 857 329 865 325 885 325 893 321 925 321 933 317 1019 317 1027 321 1059 321 1069 325 1087 325 1095 329 1107 329 1115 333 1127 333 1135 337 1159 341 1225 363 1263 381 1273 383 1309 401 1319 409 1337 417 1389 451 1397 459 1419 473 1435 489 1443 493 1459 507 1501 549 1505 557 1527 579 1585 661 1621 729 1623 739 1633 757 1653 817 1657 823 1657 829 1665 851 1665 859 1669 867 1669 873 1673 883 1673 893 1677 903 1677 915 1681 927 1681 945 1683 947 1685 973 1687 975 1687 1103 1683 1111 1683 1137 1681 1139 1681 1155 1677 1167 1677 1179 1673 1189 1667 1223 1663 1231 1663 1243 1659 1251 1653 1279 1647 1291 1647 1299 1643 1307 1643 1319 1647 1321 1649 1319 1661 1319 1663 1317 1673 1317 1687 1313 1699 1313 1701 1315 1701 1321 1689 1349 1689 1367 1703 1381 1719 1389 1731 1401 1731 1409 1723 1421 1711 1447 1697 1465 1693 1475 1681 1491 1679 1497 1663 1515 1655 1515 1647 1511 1617 1489 1611 1489 1609 1487 1601 1489 1567 1521 1565 1527 1537 1561 1499 1597 1487 1605 1471 1621 1463 1625 1423 1667 1415 1671 1399 1673 1369 1689 1361 1697 1351 1701 1337 1717 1339 1733 1369 1793 1375 1799 1389 1829 1405 1849 1409 1851 1425 1851 1477 1833 1531 1797 1573 1773 1599 1753 1623 1723 1639 1683 1651 1671 1671 1661 1695 1643 1725 1609 1767 1539 1775 1529 1785 1509 1803 1481 1809 1467 1813 1463 1831 1425 1841 1395 1841 1381 1843 1379 1841 1377 1841 1367 1835 1355 1817 1339 1805 1331 1793 1327 1789 1323 1775 1317 1773 1313 1775 1311 1829 1311 1839 1299 1859 1251 1867 1243 1885 1237 1897 1229 1913 1213 1925 1191 1931 1173 1935 1141 1937 1139 1937 1125 1939 1123 1939 1113 1943 1099 1943 1089 1945 1087 1945 1079 1949 1067 1951 1033 1949 1031 1949 1019 1947 1017 1945 1003 1935 981 1917 951 1917 943 1915 941 1917 939 1919 925 1927 911 1935 887 1935 855 1925 823 1901 779 1851 645 1829 601 1817 583 1801 567 1787 559 1779 557 1767 545 1755 523 1743 507 1735 489 1737 449 1735 447 1733 433 1721 409 1695 375 1673 351 1601 281 1587 271 1567 261 1547 255 1529 253 1515 247 1505 237 1489 211 1473 195 1459 185 1431 171 1401 161 1385 153 1375 151 1339 135 1301 123 1295 119 1277 113 1271 113 1257 107 1251 107 1243 103 1237 103 1211 95 1203 95 1201 93 1191 93 1189 91 1159 91 1131 101 1109 101 1107 99 1095 99 1081 95 1067 95 1047 89 1031 75 1013 63 991 55 967 53 965 51 885 53 883 55 861 55 859 57 849 57 847 59 837 59 835 61 821 63 791 75 775 85 753 103 737 111 717 111 697 105 671 103 669 105 657 105Z"/>
<path fill="#53f045" fill-rule="evenodd" d="M1827 1349 1801 1333 1797 1333 1783 1325 1767 1321 1763 1317 1759 1317 1737 1307 1717 1309 1707 1319 1697 1335 1691 1353 1691 1367 1701 1379 1723 1391 1731 1399 1733 1407 1725 1419 1711 1449 1697 1467 1693 1477 1673 1507 1659 1517 1649 1513 1631 1501 1623 1493 1615 1489 1603 1489 1575 1513 1567 1523 1565 1529 1553 1541 1547 1551 1505 1593 1491 1603 1475 1619 1467 1623 1427 1667 1415 1673 1403 1673 1389 1679 1385 1683 1371 1689 1363 1697 1353 1701 1341 1713 1337 1721 1337 1727 1341 1733 1341 1737 1353 1761 1357 1765 1361 1777 1365 1781 1365 1785 1381 1809 1391 1831 1407 1849 1421 1851 1473 1833 1485 1827 1541 1789 1579 1767 1599 1751 1615 1733 1627 1711 1637 1681 1653 1667 1675 1657 1693 1643 1717 1617 1735 1591 1743 1575 1751 1565 1759 1549 1791 1499 1827 1431 1841 1389 1841 1371 1835 1357ZM1779 765 1789 789 1791 805 1787 809 1775 813 1767 813 1759 817 1753 817 1735 823 1727 823 1723 817 1715 793 1715 787 1721 781 1735 775 1741 775 1747 771 1755 771 1771 765ZM1749 683 1753 687 1757 701 1761 705 1763 719 1755 725 1739 729 1729 735 1703 743 1697 737 1693 723 1687 711 1689 705 1693 701 1707 695 1729 689 1741 683ZM1611 291 1593 277 1569 263 1549 257 1527 255 1513 249 1505 241 1487 211 1471 195 1453 183 1423 169 1381 155 1345 139 1335 137 1313 127 1259 109 1253 109 1245 105 1239 105 1213 97 1193 95 1191 93 1157 93 1131 103 1111 103 1109 101 1097 101 1083 97 1067 97 1043 89 1017 67 999 59 993 59 983 55 969 55 967 53 883 55 881 57 861 57 859 59 847 59 845 61 827 63 799 73 781 83 751 107 739 113 717 113 715 111 709 111 699 107 689 107 687 105 667 105 665 107 655 107 635 113 607 127 565 155 555 159 481 203 427 239 393 269 381 285 373 309 367 319 335 351 315 367 281 377 269 383 241 403 191 455 149 511 131 551 129 573 127 575 127 599 123 613 79 659 59 699 59 705 55 713 53 729 51 731 51 743 49 745 49 755 47 757 43 787 39 797 39 805 35 815 35 823 31 833 31 841 27 851 23 879 21 881 17 907 15 909 13 939 11 941 13 945 13 961 15 963 19 983 27 1001 43 1023 49 1037 51 1077 49 1079 47 1093 43 1099 9 1129 1 1131 1 1267 3 1267 19 1285 51 1355 69 1381 89 1401 115 1419 137 1443 141 1455 141 1469 143 1471 143 1495 145 1497 145 1505 149 1519 163 1547 185 1575 221 1609 273 1653 287 1661 309 1665 335 1691 339 1705 347 1717 357 1723 375 1723 389 1717 407 1699 411 1691 419 1685 431 1667 455 1641 461 1623 455 1609 439 1593 419 1581 409 1581 399 1587 379 1607 369 1609 365 1607 347 1589 331 1569 327 1567 319 1553 307 1541 301 1531 301 1523 335 1493 339 1485 339 1473 331 1449 325 1443 315 1423 295 1395 275 1353 265 1325 265 1319 267 1317 303 1317 309 1313 309 1307 305 1299 305 1289 301 1283 297 1261 293 1253 293 1245 291 1243 289 1227 281 1199 281 1191 277 1181 277 1167 275 1165 273 1139 271 1137 271 1109 267 1099 267 1085 269 1083 269 961 273 953 273 929 277 921 277 905 281 897 281 885 285 877 285 869 289 861 293 837 313 777 331 739 333 729 369 661 425 581 441 565 459 541 463 539 501 499 511 493 525 479 551 461 567 447 609 419 633 407 647 397 675 383 685 381 703 371 713 369 739 357 745 357 751 353 781 343 795 341 803 337 811 337 819 333 829 333 831 331 849 329 859 325 875 325 887 321 915 321 927 317 1025 317 1039 321 1065 321 1077 325 1093 325 1103 329 1113 329 1123 333 1133 333 1135 335 1165 341 1249 371 1309 399 1319 407 1337 415 1371 439 1377 441 1383 447 1389 449 1397 457 1421 473 1435 487 1443 491 1503 549 1507 557 1527 577 1531 585 1553 611 1577 649 1583 655 1621 725 1625 739 1643 777 1663 837 1663 843 1675 885 1675 895 1679 903 1679 919 1683 927 1683 951 1687 959 1687 1079 1689 1081 1689 1101 1685 1111 1683 1159 1679 1167 1679 1183 1675 1191 1673 1213 1667 1231 1667 1245 1663 1259 1665 1263 1683 1261 1701 1255 1847 1255 1859 1243 1871 1241 1895 1229 1913 1211 1927 1181 1931 1155 1933 1153 1937 1109 1939 1107 1941 1087 1943 1085 1945 1065 1947 1063 1947 1021 1945 1019 1945 1011 1937 989 1919 961 1913 947 1913 935 1929 901 1933 887 1933 853 1931 851 1931 845 1925 827 1901 783 1901 779 1889 753 1887 743 1883 737 1877 715 1859 673 1857 663 1833 611 1809 575 1799 567 1787 561 1783 561 1771 553 1741 507 1733 491 1735 445 1731 431 1723 415 1693 375Z"/>
<path fill="#61ee51" fill-rule="evenodd" d="M1827 1351 1797 1333 1767 1323 1743 1311 1723 1309 1715 1313 1709 1319 1697 1339 1691 1363 1693 1369 1705 1381 1721 1389 1733 1401 1733 1409 1725 1421 1713 1447 1697 1469 1693 1479 1687 1485 1677 1503 1663 1517 1655 1517 1617 1491 1611 1489 1601 1491 1569 1521 1567 1527 1551 1545 1545 1555 1511 1589 1485 1609 1471 1623 1461 1629 1441 1655 1425 1671 1395 1677 1373 1689 1349 1705 1341 1713 1337 1723 1339 1725 1339 1731 1369 1791 1377 1801 1393 1833 1405 1847 1409 1849 1425 1849 1449 1839 1465 1835 1489 1823 1535 1791 1585 1761 1605 1743 1621 1721 1629 1701 1631 1689 1637 1677 1649 1667 1661 1663 1681 1651 1691 1643 1717 1615 1787 1503 1809 1461 1813 1457 1829 1423 1839 1391 1839 1367 1835 1359ZM1779 761 1785 767 1785 773 1793 793 1793 803 1795 805 1793 809 1779 815 1771 815 1741 825 1725 827 1721 823 1719 811 1713 797 1713 783 1725 775 1731 775 1737 771 1743 771 1751 767 1759 767 1765 763ZM1755 685 1757 693 1763 703 1767 715 1765 723 1755 729 1749 729 1723 741 1717 741 1711 745 1699 745 1695 741 1691 727 1685 717 1685 703 1697 695 1703 695 1709 691 1717 691 1747 679ZM1609 291 1585 273 1565 263 1551 259 1541 259 1539 257 1527 257 1515 253 1501 239 1487 213 1469 195 1457 187 1419 169 1387 159 1341 139 1325 135 1319 131 1267 113 1261 113 1247 107 1241 107 1215 99 1207 99 1195 95 1183 95 1181 93 1155 95 1131 105 1113 105 1111 103 1099 103 1085 99 1055 97 1043 91 1017 69 1005 63 985 57 973 57 971 55 881 57 879 59 859 59 857 61 835 63 803 73 775 89 749 111 733 117 715 115 691 107 661 107 659 109 639 113 629 119 621 121 575 151 527 177 441 231 417 249 395 269 383 285 377 297 375 309 371 317 329 359 311 371 293 375 269 385 239 407 195 453 151 511 137 539 131 559 127 611 121 621 109 631 77 665 65 689 59 707 59 713 55 723 55 733 53 735 53 745 51 747 49 771 47 773 45 791 41 801 39 819 35 829 35 837 33 839 33 847 31 849 31 857 27 869 27 879 23 891 21 913 19 915 19 929 17 931 17 955 19 957 21 977 35 1009 49 1027 53 1039 53 1087 49 1097 11 1133 5 1137 1 1137 1 1257 3 1257 17 1273 29 1297 29 1301 35 1311 35 1315 47 1339 47 1343 65 1373 87 1397 121 1421 135 1435 143 1453 145 1497 153 1525 169 1553 187 1575 275 1653 291 1661 303 1661 307 1663 337 1693 339 1703 345 1713 359 1723 379 1721 397 1709 455 1639 459 1631 459 1619 455 1611 435 1591 421 1583 413 1581 403 1585 377 1609 367 1609 351 1595 341 1581 323 1563 321 1557 305 1539 299 1529 303 1519 317 1509 335 1491 339 1483 339 1475 335 1465 335 1457 287 1383 287 1379 259 1321 259 1315 255 1307 255 1297 251 1289 251 1281 253 1279 287 1279 293 1277 293 1261 289 1251 287 1229 281 1211 281 1201 279 1199 279 1191 275 1179 273 1147 269 1135 269 1109 267 1107 267 963 271 955 271 931 275 923 275 907 279 899 279 887 283 879 283 871 287 863 291 839 313 773 319 763 321 753 331 735 333 725 367 661 423 581 447 555 455 543 501 497 511 491 525 477 551 459 559 451 613 415 631 407 641 399 681 379 691 377 729 359 789 339 797 339 821 331 833 331 841 327 853 327 861 323 881 323 889 319 921 319 929 315 1023 315 1031 319 1063 319 1071 323 1091 323 1099 327 1111 327 1119 331 1131 331 1139 335 1163 339 1223 359 1233 365 1243 367 1315 401 1321 407 1343 417 1391 449 1413 467 1421 471 1435 485 1453 497 1505 549 1509 557 1529 577 1585 655 1623 725 1625 735 1645 777 1665 837 1665 845 1669 853 1669 859 1677 885 1677 895 1681 905 1681 919 1685 927 1685 951 1689 959 1689 1079 1691 1081 1691 1103 1687 1113 1687 1141 1685 1143 1681 1203 1687 1205 1703 1199 1731 1199 1741 1209 1757 1217 1795 1225 1801 1229 1811 1229 1821 1233 1829 1233 1837 1237 1847 1237 1849 1239 1871 1239 1893 1229 1915 1205 1927 1175 1929 1155 1931 1153 1931 1141 1933 1139 1935 1109 1937 1107 1937 1097 1939 1095 1941 1075 1945 1063 1945 1021 1943 1019 1943 1011 1927 975 1911 951 1911 933 1931 889 1933 863 1931 861 1929 843 1925 831 1895 773 1879 725 1859 677 1857 667 1827 603 1817 587 1803 571 1789 563 1775 559 1765 549 1731 493 1731 477 1733 475 1735 453 1733 451 1733 441 1725 421 1711 399 1691 375Z"/>
<path fill="#6fed59" fill-rule="evenodd" d="M1825 1351 1803 1337 1799 1337 1779 1327 1769 1325 1739 1311 1721 1311 1715 1315 1705 1327 1697 1343 1693 1355 1693 1367 1701 1377 1719 1387 1731 1397 1733 1401 1733 1411 1727 1419 1713 1449 1703 1461 1695 1477 1671 1511 1663 1517 1655 1517 1637 1507 1623 1495 1615 1491 1603 1491 1577 1513 1549 1551 1505 1593 1503 1597 1491 1605 1475 1621 1467 1625 1453 1639 1431 1669 1419 1675 1403 1675 1389 1681 1359 1701 1353 1703 1341 1715 1339 1719 1339 1729 1345 1739 1345 1743 1357 1763 1371 1793 1381 1807 1391 1829 1403 1845 1411 1849 1421 1849 1471 1831 1483 1825 1535 1789 1583 1761 1607 1739 1617 1725 1625 1709 1625 1703 1633 1679 1645 1667 1657 1663 1679 1651 1705 1627 1721 1607 1757 1547 1765 1537 1793 1487 1797 1483 1801 1473 1805 1469 1825 1429 1825 1425 1835 1403 1837 1387 1839 1385 1837 1365ZM1783 759 1793 785 1797 809 1793 813 1765 819 1745 827 1739 827 1729 831 1723 829 1717 821 1717 815 1711 801 1709 781 1717 775 1747 765 1761 763 1775 757ZM1751 679 1757 685 1767 707 1769 723 1763 729 1741 735 1731 741 1707 749 1699 749 1693 743 1681 713 1683 701 1687 697 1701 691 1719 689 1743 679ZM1609 293 1597 283 1571 267 1543 259 1527 259 1511 253 1501 243 1487 215 1469 197 1451 185 1415 169 1399 165 1383 157 1363 151 1353 145 1343 143 1337 139 1321 135 1315 131 1299 127 1293 123 1269 115 1263 115 1249 109 1243 109 1209 99 1189 97 1187 95 1159 95 1129 107 1115 107 1113 105 1101 105 1099 103 1073 101 1071 99 1055 99 1045 95 1033 83 1011 67 995 61 977 59 975 57 877 59 875 61 843 63 807 73 787 83 775 91 753 111 737 119 723 119 693 109 659 109 633 117 613 127 581 149 471 213 427 243 403 263 387 281 379 297 375 315 369 323 325 365 311 373 285 379 265 389 239 409 199 451 161 499 147 521 137 543 135 557 133 559 133 569 131 571 131 607 123 623 103 639 85 657 67 689 61 707 61 713 57 723 57 733 55 735 55 749 53 751 51 773 49 775 49 783 47 785 47 793 45 795 45 803 43 805 43 813 41 815 41 823 39 825 39 833 37 835 37 843 35 845 35 853 31 865 31 875 29 877 29 887 27 889 27 899 23 913 23 929 21 931 21 957 23 959 23 971 25 973 27 987 33 1001 49 1021 55 1035 57 1081 55 1083 55 1093 51 1101 1 1145 1 1247 11 1255 19 1267 37 1309 43 1329 63 1367 83 1391 127 1423 139 1437 145 1451 147 1499 149 1501 149 1509 153 1521 163 1541 189 1575 275 1651 289 1659 305 1661 311 1665 335 1689 339 1695 343 1709 353 1719 363 1723 377 1721 391 1713 405 1699 413 1687 427 1673 431 1665 453 1641 459 1629 459 1621 453 1609 437 1593 419 1583 409 1583 401 1587 381 1607 373 1611 365 1609 327 1569 319 1555 307 1543 299 1531 301 1521 335 1491 339 1479 337 1477 335 1459 321 1439 307 1413 291 1393 291 1389 275 1359 275 1355 271 1351 271 1347 267 1343 267 1339 255 1315 255 1307 247 1287 247 1281 243 1275 243 1269 235 1251 235 1243 237 1241 273 1241 275 1239 281 1239 281 1219 277 1205 277 1193 273 1183 271 1147 267 1135 267 1107 265 1105 265 967 269 955 269 935 273 923 273 911 275 909 279 881 281 879 291 833 309 779 313 773 321 749 329 735 333 721 369 655 427 573 445 555 451 545 501 495 511 489 525 475 565 445 613 413 631 405 641 397 677 379 687 377 725 359 791 337 799 337 823 329 835 329 843 325 855 325 863 321 883 321 891 317 923 317 931 313 1021 313 1029 317 1061 317 1069 321 1089 321 1097 325 1109 325 1117 329 1129 329 1137 333 1161 337 1227 359 1265 377 1275 379 1311 397 1321 405 1339 413 1391 447 1399 455 1405 457 1413 465 1421 469 1443 489 1451 493 1507 549 1511 557 1533 579 1563 619 1565 625 1591 661 1599 679 1605 685 1645 771 1651 793 1655 799 1655 805 1659 811 1659 817 1663 823 1663 829 1667 835 1667 843 1671 851 1671 859 1679 883 1679 895 1683 903 1683 917 1687 925 1687 949 1691 957 1691 1073 1693 1075 1691 1131 1693 1133 1693 1145 1695 1147 1705 1143 1737 1143 1743 1151 1743 1163 1741 1165 1741 1193 1743 1199 1749 1207 1769 1217 1775 1217 1809 1227 1817 1227 1833 1233 1851 1235 1853 1237 1873 1237 1887 1231 1901 1221 1917 1199 1925 1177 1925 1169 1929 1157 1933 1109 1935 1107 1937 1085 1939 1083 1941 1063 1943 1061 1943 1021 1941 1019 1941 1011 1933 989 1911 957 1907 947 1909 931 1927 897 1929 883 1931 881 1931 861 1929 859 1927 841 1905 795 1901 791 1849 651 1823 599 1811 581 1801 571 1791 565 1773 561 1763 551 1755 535 1735 507 1727 489 1729 487 1729 477 1733 467 1733 447 1729 433 1719 413 1691 377Z"/>
<path fill="#7ceb62" fill-rule="evenodd" d="M1827 1353 1791 1333 1771 1327 1741 1313 1725 1311 1717 1315 1705 1329 1697 1345 1693 1363 1695 1369 1705 1379 1723 1389 1733 1399 1735 1407 1717 1443 1701 1465 1697 1475 1677 1505 1665 1517 1659 1519 1645 1513 1619 1493 1613 1491 1601 1493 1571 1521 1567 1529 1545 1557 1513 1589 1457 1635 1439 1663 1429 1673 1425 1675 1415 1675 1413 1677 1399 1677 1357 1701 1343 1713 1339 1721 1341 1733 1369 1789 1377 1799 1385 1817 1389 1821 1389 1825 1405 1845 1409 1847 1425 1847 1453 1835 1463 1833 1487 1821 1523 1795 1575 1765 1591 1753 1607 1737 1617 1723 1633 1675 1641 1667 1653 1663 1679 1649 1707 1623 1729 1593 1743 1567 1761 1541 1819 1439 1819 1435 1827 1421 1837 1391 1837 1367ZM143 895 149 891 161 891 169 895 185 895 193 899 205 899 211 903 211 921 209 923 207 937 201 941 181 941 165 935 155 935 141 931 139 929 139 923 143 917ZM167 803 173 803 181 807 205 811 225 819 227 821 227 833 223 841 221 853 217 857 203 857 195 853 183 853 175 849 159 847 155 843 155 831 159 825 159 813ZM1779 753 1787 761 1789 773 1793 779 1793 785 1797 793 1799 809 1793 815 1779 819 1771 819 1731 835 1719 833 1715 829 1713 817 1707 803 1705 787 1703 785 1705 779 1715 771 1745 761 1759 759 1773 753ZM1751 677 1759 685 1761 693 1769 707 1771 727 1765 733 1743 739 1733 745 1709 753 1697 753 1689 745 1687 735 1679 719 1679 713 1677 711 1679 699 1695 689 1721 687 1739 679ZM533 299 539 299 545 305 571 349 571 355 565 361 543 375 531 365 505 321 511 313ZM613 255 617 255 623 261 647 309 647 313 641 319 617 331 611 331 607 327 581 277 591 265ZM1293 235 1329 251 1329 259 1305 307 1301 311 1295 311 1267 297 1267 289 1279 263 1281 253 1287 241ZM1209 207 1217 207 1223 211 1229 211 1235 215 1239 215 1245 221 1229 273 1223 281 1217 281 1199 275 1187 267 1193 243 1201 227 1203 215ZM1607 293 1583 275 1563 265 1549 263 1547 261 1517 259 1509 255 1499 243 1485 215 1467 197 1455 189 1427 175 1385 161 1349 145 1295 127 1289 123 1283 123 1277 119 1271 119 1251 111 1229 107 1221 103 1213 103 1211 101 1193 99 1191 97 1179 97 1177 95 1155 97 1137 107 1131 107 1129 109 1117 109 1115 107 1077 103 1075 101 1055 101 1039 93 1015 71 1003 65 989 61 981 61 979 59 873 61 871 63 853 63 851 65 831 67 801 77 783 87 751 115 739 121 723 121 695 111 669 109 667 111 655 111 637 117 613 129 581 151 477 211 419 251 397 271 385 287 379 301 379 309 375 319 323 369 313 375 289 379 271 387 237 413 201 451 163 499 149 521 141 537 135 557 135 567 133 569 133 609 131 615 113 635 101 643 87 657 69 689 63 707 63 713 59 723 59 735 57 737 55 765 53 767 53 775 51 777 51 785 49 787 49 795 47 797 47 805 45 807 45 815 43 817 43 825 41 827 41 835 37 847 37 857 35 859 33 881 31 883 31 895 27 909 27 923 25 925 25 965 27 967 29 985 37 1003 51 1019 57 1031 57 1041 59 1043 59 1093 57 1099 37 1115 23 1131 1 1151 1 1235 11 1245 25 1271 47 1333 65 1367 95 1399 123 1417 141 1435 147 1449 147 1487 149 1489 149 1503 155 1523 171 1551 189 1573 269 1645 291 1659 301 1659 309 1663 337 1691 343 1707 359 1721 375 1721 381 1717 385 1717 395 1709 399 1703 403 1701 407 1693 423 1677 427 1669 443 1651 447 1649 455 1637 455 1633 459 1627 455 1613 435 1593 417 1583 409 1583 399 1589 379 1609 375 1611 365 1609 323 1565 321 1559 301 1535 299 1523 313 1509 325 1501 337 1485 335 1461 319 1437 315 1427 293 1397 275 1361 275 1357 267 1345 267 1341 255 1317 251 1297 239 1269 239 1263 231 1251 227 1233 221 1219 221 1209 225 1203 261 1203 263 1201 269 1201 271 1197 269 1159 267 1157 269 1147 265 1137 265 1107 263 1105 263 1071 265 1069 265 959 269 947 269 927 273 917 273 903 277 893 277 883 279 881 289 835 309 775 325 741 329 727 367 655 373 649 391 619 425 573 443 555 449 545 501 493 511 487 527 471 535 467 559 447 613 411 631 403 641 395 725 357 785 337 791 337 817 329 825 329 827 327 835 327 837 325 845 325 857 321 867 321 869 319 895 317 897 315 923 315 935 311 1017 311 1029 315 1057 315 1069 319 1085 319 1087 321 1095 321 1097 323 1105 323 1107 325 1115 325 1117 327 1125 327 1127 329 1135 329 1137 331 1167 337 1227 357 1237 363 1247 365 1265 375 1275 377 1311 395 1321 403 1339 411 1391 445 1419 467 1427 471 1443 487 1449 489 1511 551 1531 573 1535 581 1557 607 1609 687 1629 727 1631 737 1639 749 1671 837 1671 845 1675 853 1679 877 1683 883 1683 895 1687 903 1687 919 1691 925 1691 951 1695 957 1695 1071 1697 1073 1699 1087 1703 1089 1705 1087 1747 1087 1753 1091 1755 1097 1755 1113 1749 1129 1749 1149 1747 1151 1747 1161 1743 1175 1743 1187 1749 1203 1757 1209 1777 1217 1783 1217 1809 1225 1817 1225 1841 1233 1851 1233 1853 1235 1875 1235 1897 1223 1911 1207 1923 1179 1925 1161 1927 1159 1927 1145 1929 1143 1931 1109 1933 1107 1935 1085 1937 1083 1937 1075 1941 1063 1941 1019 1939 1017 1937 1003 1929 985 1911 961 1905 949 1907 929 1919 911 1929 885 1929 855 1927 853 1927 847 1921 829 1895 781 1883 745 1879 739 1873 717 1863 695 1861 685 1857 679 1845 645 1823 601 1811 583 1799 571 1787 565 1773 565 1759 553 1751 537 1735 515 1725 497 1725 485 1731 469 1731 443 1721 419 1691 379Z"/>
<path fill="#89ea6a" fill-rule="evenodd" d="M1825 1353 1789 1333 1769 1327 1739 1313 1723 1313 1713 1319 1697 1347 1695 1367 1705 1379 1721 1387 1735 1401 1735 1409 1725 1425 1713 1451 1697 1473 1691 1485 1685 1491 1679 1503 1663 1519 1655 1519 1617 1493 1609 1491 1599 1495 1573 1519 1565 1533 1553 1545 1549 1553 1509 1593 1493 1605 1479 1619 1469 1625 1453 1641 1441 1663 1429 1675 1395 1679 1345 1711 1339 1723 1345 1741 1371 1791 1381 1805 1393 1831 1403 1843 1411 1847 1421 1847 1459 1833 1465 1829 1469 1829 1481 1823 1533 1787 1553 1777 1589 1753 1613 1727 1621 1711 1627 1683 1631 1675 1641 1665 1659 1659 1683 1645 1707 1621 1725 1597 1739 1571 1773 1519 1777 1509 1803 1467 1825 1423 1837 1385 1835 1365ZM145 889 165 889 167 891 179 891 181 893 209 897 215 903 215 919 211 929 211 937 205 943 177 943 163 937 141 935 137 931 139 897ZM165 799 217 811 231 821 231 831 229 833 227 847 223 857 219 861 209 861 207 859 197 859 187 855 177 855 167 851 159 851 151 845 151 835 155 827 155 815 159 805ZM1769 567 1763 571 1759 571 1749 579 1745 579 1741 583 1729 587 1711 599 1685 611 1677 619 1671 629 1673 649 1695 683 1705 687 1719 687 1743 677 1753 677 1761 685 1761 689 1773 715 1773 723 1775 725 1779 745 1789 761 1789 767 1797 787 1797 797 1801 805 1801 809 1793 817 1787 817 1779 821 1771 821 1751 829 1743 837 1741 843 1741 853 1745 865 1745 891 1749 901 1749 915 1753 927 1753 977 1755 979 1755 987 1753 989 1753 1057 1755 1059 1755 1069 1761 1089 1761 1107 1753 1125 1751 1141 1749 1143 1749 1161 1745 1171 1745 1189 1749 1199 1757 1207 1769 1213 1783 1217 1791 1217 1807 1223 1823 1225 1839 1231 1849 1231 1851 1233 1863 1233 1867 1235 1869 1233 1877 1233 1889 1227 1905 1213 1917 1193 1923 1173 1923 1165 1925 1163 1929 1111 1931 1109 1931 1097 1933 1095 1937 1065 1939 1063 1941 1033 1939 1031 1939 1017 1933 997 1927 985 1905 955 1901 945 1901 939 1909 921 1917 911 1927 887 1927 875 1929 873 1927 853 1921 833 1891 775 1889 765 1879 743 1871 715 1863 699 1855 673 1825 607 1811 585 1797 571 1789 567ZM533 295 541 295 547 301 575 349 575 357 569 363 563 365 557 371 543 379 537 377 531 371 517 343 503 323 503 317 509 311ZM615 251 619 251 625 257 649 305 651 313 645 321 617 335 611 335 603 327 591 301 583 291 577 275 585 265ZM1289 233 1299 233 1317 243 1327 245 1333 251 1333 259 1309 305 1309 309 1303 315 1295 315 1273 303 1269 303 1263 297 1263 289 1275 263 1277 253ZM1209 203 1215 203 1221 207 1243 213 1249 221 1233 273 1229 281 1223 285 1211 283 1205 279 1199 279 1193 275 1189 275 1183 269 1189 245 1201 219 1201 213ZM1605 293 1581 275 1565 267 1551 263 1533 263 1531 261 1511 259 1499 247 1489 223 1479 209 1453 189 1413 171 1397 167 1391 163 1361 153 1351 147 1253 113 1247 113 1239 109 1233 109 1215 103 1185 99 1183 97 1161 97 1159 99 1153 99 1129 111 1117 111 1115 109 1105 109 1091 105 1077 105 1075 103 1055 103 1043 99 1013 71 983 61 937 59 935 61 867 63 865 65 849 65 847 67 829 69 805 77 783 89 759 111 741 123 723 123 689 111 663 111 635 119 619 127 587 149 519 187 509 195 461 223 419 253 397 273 385 289 381 299 379 317 373 325 331 365 313 377 295 379 271 389 237 415 203 451 153 517 141 541 137 555 137 563 135 565 135 613 131 621 119 633 101 645 89 657 75 679 75 683 67 699 67 705 61 723 61 733 59 735 59 751 57 753 55 777 53 779 53 787 51 789 51 797 49 799 49 807 47 809 47 817 45 819 45 827 41 839 41 849 37 861 31 913 29 915 29 931 27 933 27 959 29 961 31 983 39 1003 57 1023 61 1035 61 1101 43 1113 23 1133 11 1151 1 1159 1 1225 7 1229 19 1249 19 1253 25 1263 31 1283 35 1289 49 1333 63 1361 73 1375 95 1397 129 1419 145 1437 149 1449 149 1493 151 1495 153 1513 167 1543 189 1571 271 1645 289 1657 307 1661 321 1673 339 1693 345 1709 353 1717 361 1721 373 1721 387 1715 419 1681 431 1663 449 1645 457 1631 457 1619 453 1611 435 1593 415 1583 405 1585 379 1609 375 1611 363 1609 347 1593 335 1577 327 1571 319 1557 299 1533 299 1523 301 1519 317 1507 335 1489 337 1483 335 1463 331 1453 325 1447 307 1415 291 1395 283 1379 283 1375 279 1371 279 1367 275 1363 275 1359 259 1329 251 1307 251 1301 247 1295 247 1289 243 1283 243 1277 227 1245 223 1229 219 1225 215 1213 215 1179 221 1165 227 1165 229 1163 261 1163 265 1151 265 1145 263 1143 263 1109 261 1107 261 1075 263 1073 263 959 267 949 267 927 271 917 271 903 275 893 275 883 277 881 287 835 307 775 313 765 315 755 349 683 357 673 365 655 397 607 405 599 421 575 441 555 445 547 503 489 511 485 527 469 535 465 559 445 613 409 631 401 641 393 673 377 683 375 701 365 705 365 731 353 737 353 743 349 749 349 755 345 773 341 779 337 785 337 819 327 857 321 859 319 873 319 887 315 913 315 927 311 1025 311 1039 315 1065 315 1079 319 1093 319 1095 321 1133 327 1135 329 1173 337 1179 341 1185 341 1191 345 1197 345 1203 349 1221 353 1227 357 1251 365 1265 373 1279 377 1311 393 1321 401 1339 409 1383 439 1389 441 1419 465 1425 467 1439 481 1457 493 1535 573 1551 597 1567 615 1579 635 1587 643 1599 661 1599 665 1619 693 1619 697 1631 715 1633 715 1635 711 1635 561 1675 525 1721 491 1727 479 1727 473 1731 463 1731 449 1729 447 1729 439 1721 421 1703 395 1667 355Z"/>
<path fill="#97e972" fill-rule="evenodd" d="M1827 1355 1801 1339 1797 1339 1777 1329 1771 1329 1747 1317 1735 1313 1725 1313 1717 1317 1701 1339 1695 1357 1695 1365 1701 1375 1725 1389 1733 1397 1735 1401 1735 1411 1729 1419 1715 1449 1701 1467 1697 1477 1677 1507 1667 1517 1655 1519 1637 1509 1623 1497 1615 1493 1603 1493 1571 1523 1567 1531 1557 1541 1541 1563 1519 1585 1457 1637 1435 1673 1429 1677 1421 1677 1419 1679 1417 1677 1397 1679 1353 1705 1343 1715 1341 1719 1341 1731 1395 1833 1407 1845 1413 1845 1415 1847 1417 1845 1425 1845 1457 1831 1461 1831 1485 1819 1537 1783 1547 1779 1587 1753 1613 1725 1621 1709 1625 1683 1629 1673 1637 1665 1661 1657 1681 1645 1709 1617 1721 1601 1745 1559 1781 1503 1821 1429 1835 1389 1835 1367ZM139 891 145 885 163 885 171 889 187 889 195 893 209 893 217 899 217 923 213 933 213 941 205 947 185 947 165 939 139 935 135 931ZM163 797 175 797 183 801 207 805 225 811 233 817 235 825 233 827 227 857 219 865 201 863 191 859 181 859 171 855 161 855 155 853 149 847 149 835 153 825 157 803ZM1777 567 1765 571 1747 583 1691 611 1681 619 1675 629 1677 649 1689 671 1697 681 1705 685 1723 685 1735 679 1751 675 1761 683 1773 709 1781 743 1789 759 1801 801 1801 813 1791 819 1769 823 1753 831 1745 843 1745 861 1749 873 1749 899 1753 911 1753 925 1755 927 1755 941 1757 943 1755 1047 1757 1049 1757 1067 1761 1075 1761 1083 1765 1095 1763 1109 1759 1115 1751 1139 1751 1155 1747 1169 1747 1189 1751 1199 1757 1205 1773 1213 1787 1215 1803 1221 1811 1221 1837 1229 1857 1231 1859 1233 1871 1233 1887 1227 1907 1209 1917 1189 1921 1175 1921 1167 1923 1165 1929 1099 1931 1097 1931 1087 1933 1085 1933 1077 1937 1065 1937 1051 1939 1049 1939 1029 1937 1027 1935 1007 1929 995 1929 991 1901 953 1899 937 1903 927 1921 901 1927 881 1927 861 1925 859 1925 849 1919 831 1893 783 1881 747 1877 741 1869 713 1855 681 1853 671 1829 617 1825 613 1813 589 1801 575 1787 567ZM541 291 549 299 579 351 579 357 571 365 545 381 537 381 529 373 515 343 501 323 501 315 531 293ZM621 249 627 255 627 259 653 307 653 317 647 323 619 337 611 339 603 333 589 303 581 293 575 281 575 273 577 269 587 261 613 249ZM1289 229 1301 231 1319 241 1329 243 1337 251 1335 261 1329 269 1329 273 1311 307 1309 315 1303 319 1297 319 1275 307 1271 307 1263 303 1259 297 1259 291 1265 281 1267 271 1273 261 1281 237ZM1207 201 1215 201 1245 211 1251 217 1251 227 1233 281 1223 289 1191 279 1181 271 1181 261 1185 249 1197 227 1201 209ZM1601 291 1567 269 1555 265 1543 265 1541 263 1517 263 1507 259 1499 251 1493 239 1493 235 1481 213 1471 203 1447 187 1409 171 1393 167 1337 143 1249 113 1243 113 1209 103 1191 101 1189 99 1157 99 1131 113 1115 113 1113 111 1089 109 1075 105 1051 105 1045 103 1029 85 1017 75 995 65 973 63 971 61 927 61 925 63 861 65 859 67 845 67 843 69 827 71 795 83 777 95 755 117 743 125 735 125 733 127 731 125 723 125 699 115 675 111 673 113 651 115 615 131 577 157 567 161 553 171 515 191 489 209 473 217 421 253 409 263 389 285 381 305 381 319 349 349 339 361 323 375 315 379 293 381 273 389 239 415 205 451 167 499 149 527 137 561 137 615 133 623 123 633 109 641 91 657 81 671 67 705 67 711 63 721 63 733 61 735 61 751 59 753 57 777 55 779 55 787 53 789 53 797 51 799 51 807 47 819 47 829 45 831 45 839 41 851 35 903 33 905 33 917 31 919 31 973 39 999 61 1023 63 1029 63 1059 65 1061 65 1091 67 1093 67 1101 47 1113 31 1127 15 1149 9 1161 1 1169 1 1209 11 1223 21 1245 31 1275 35 1281 51 1333 65 1361 75 1375 97 1397 127 1415 145 1433 151 1447 151 1499 153 1501 153 1509 165 1537 189 1569 275 1647 291 1657 309 1661 337 1689 345 1707 355 1717 365 1721 377 1719 389 1713 425 1673 427 1667 447 1647 457 1629 457 1621 451 1609 439 1597 419 1585 407 1585 403 1587 381 1609 373 1613 363 1609 323 1567 317 1555 307 1545 299 1533 297 1527 299 1521 333 1491 337 1481 335 1463 305 1413 293 1399 287 1385 283 1381 283 1377 263 1339 263 1335 259 1331 259 1327 251 1311 251 1303 247 1297 239 1269 215 1221 213 1205 211 1203 211 1183 213 1181 213 1141 211 1139 211 1131 219 1125 255 1125 259 1119 257 1095 259 1093 259 1073 261 1071 261 957 265 949 265 925 269 917 269 901 273 893 273 881 277 873 277 865 281 857 285 833 289 827 289 821 293 815 293 809 297 803 297 797 301 791 305 773 325 731 325 725 361 657 393 609 401 601 417 577 429 563 437 557 449 539 453 537 495 493 513 481 519 473 553 449 561 441 609 409 677 373 687 371 725 353 785 333 793 333 801 329 809 329 817 325 827 325 837 321 847 321 857 317 875 317 885 313 915 313 925 309 1027 309 1037 313 1067 313 1077 317 1095 317 1105 321 1115 321 1125 325 1135 325 1143 329 1151 329 1159 333 1167 333 1227 353 1265 371 1275 373 1343 409 1427 465 1439 477 1453 485 1475 507 1519 545 1521 545 1521 467 1525 463 1533 463 1545 473 1553 485 1561 503 1569 513 1583 525 1593 539 1611 553 1625 555 1647 543 1671 523 1717 491 1723 483 1729 467 1729 443 1717 417 1693 385Z"/>
<path fill="#a5e879" fill-rule="evenodd" d="M1823 1353 1799 1339 1795 1339 1775 1329 1769 1329 1745 1317 1731 1313 1721 1315 1709 1327 1703 1337 1695 1363 1697 1369 1707 1379 1723 1387 1735 1399 1737 1407 1717 1447 1701 1469 1691 1487 1685 1493 1679 1505 1665 1519 1659 1521 1645 1515 1619 1495 1613 1493 1601 1495 1573 1521 1549 1555 1513 1591 1459 1635 1453 1643 1441 1669 1433 1677 1429 1679 1399 1679 1393 1681 1383 1689 1357 1703 1345 1713 1341 1719 1341 1729 1345 1735 1345 1739 1373 1793 1385 1811 1393 1829 1405 1843 1409 1845 1421 1845 1439 1839 1449 1833 1459 1831 1483 1819 1525 1789 1577 1759 1585 1753 1613 1723 1621 1705 1623 1685 1629 1669 1639 1661 1657 1657 1679 1645 1709 1615 1721 1599 1741 1563 1781 1501 1803 1459 1807 1455 1825 1417 1835 1385 1835 1371 1831 1361ZM139 887 147 881 163 881 171 885 187 885 195 889 215 891 221 899 221 923 217 931 217 941 215 945 205 951 191 951 167 941 139 937 133 931 135 899ZM161 793 173 793 181 797 189 797 197 801 213 803 231 809 239 817 233 851 225 867 215 869 213 867 201 867 191 863 181 863 171 859 161 859 151 855 147 851 147 835 151 825 151 817 155 803ZM1775 569 1691 613 1677 629 1677 645 1697 679 1703 683 1719 685 1743 675 1753 675 1763 685 1773 707 1777 725 1781 731 1781 737 1789 755 1793 773 1797 779 1801 803 1803 805 1803 811 1795 819 1781 823 1773 823 1763 827 1749 839 1747 845 1749 893 1753 903 1753 915 1757 929 1757 979 1759 981 1759 987 1757 989 1757 1057 1767 1091 1765 1109 1753 1135 1753 1151 1749 1163 1747 1183 1753 1199 1771 1211 1807 1219 1809 1221 1817 1221 1843 1229 1875 1231 1889 1225 1899 1217 1907 1207 1915 1191 1921 1171 1923 1139 1925 1137 1925 1117 1927 1115 1929 1089 1931 1087 1935 1057 1937 1055 1937 1023 1935 1021 1935 1013 1931 999 1917 975 1907 965 1897 949 1897 935 1915 909 1925 885 1925 855 1917 829 1901 803 1885 767 1881 751 1877 745 1869 717 1849 669 1847 659 1819 601 1807 583 1797 573 1789 569ZM535 289 545 289 551 295 583 349 581 361 575 367 569 369 547 385 537 385 527 377 521 367 521 361 515 349 515 345 499 321 499 315 505 309ZM623 247 627 251 645 289 657 307 657 317 651 325 615 343 609 343 601 337 587 307 579 297 571 281 571 273 587 259 613 247ZM1285 227 1295 227 1301 231 1305 231 1319 239 1333 243 1339 249 1339 257 1327 279 1327 283 1319 297 1315 311 1311 319 1305 323 1297 323 1279 313 1265 309 1255 299 1255 291 1261 281 1271 251 1277 241 1279 233ZM1207 199 1215 199 1245 209 1255 217 1255 227 1235 285 1225 293 1185 281 1177 273 1179 255 1191 237 1201 207ZM1599 291 1569 271 1549 265 1515 265 1503 259 1499 255 1493 243 1491 233 1481 215 1467 201 1455 193 1427 179 1379 163 1349 149 1251 115 1245 115 1237 111 1231 111 1213 105 1185 101 1183 99 1161 99 1159 101 1153 101 1129 117 1117 117 1107 113 1091 113 1079 109 1053 109 1047 107 1029 87 1015 75 1003 69 989 65 981 65 979 63 917 63 915 65 855 67 853 69 843 69 841 71 817 75 791 87 779 95 751 123 737 129 729 129 695 115 665 113 637 121 617 131 583 155 521 189 495 207 463 225 411 263 395 279 385 295 383 301 385 319 383 323 327 377 319 381 299 381 285 385 269 393 241 415 207 451 167 501 155 519 145 539 139 557 139 603 141 605 139 617 129 631 109 643 91 659 75 687 65 719 61 765 59 767 59 777 57 779 57 787 55 789 55 797 53 799 53 807 49 819 49 829 45 841 41 875 39 877 39 891 37 893 35 921 33 923 33 973 41 999 67 1027 67 1059 69 1061 69 1079 73 1087 109 1087 111 1089 145 1089 147 1091 141 1095 115 1095 107 1099 77 1103 47 1115 23 1141 11 1165 5 1185 7 1201 15 1225 29 1257 47 1311 49 1323 63 1355 75 1373 97 1395 133 1417 145 1429 151 1439 151 1445 153 1447 153 1503 155 1505 155 1511 163 1531 187 1565 209 1587 277 1647 289 1655 301 1657 309 1661 339 1691 347 1709 361 1719 375 1719 393 1709 407 1691 423 1675 427 1667 443 1651 453 1637 457 1627 453 1613 433 1593 417 1585 407 1585 381 1609 373 1613 365 1611 351 1599 341 1585 323 1567 315 1553 303 1541 297 1531 299 1521 311 1509 323 1501 335 1487 335 1465 315 1429 299 1405 291 1397 255 1323 255 1319 251 1313 251 1305 243 1287 239 1271 223 1241 219 1229 213 1221 211 1205 209 1203 211 1145 207 1137 207 1129 203 1123 199 1103 193 1091 201 1087 251 1087 255 1081 255 1075 257 1073 257 959 261 951 261 927 265 919 265 903 269 895 269 883 273 875 273 867 277 859 281 835 301 775 305 769 313 745 321 731 325 717 341 685 349 675 357 657 417 571 437 551 441 543 499 485 507 481 523 465 531 461 555 441 609 405 673 371 683 369 701 359 711 357 737 345 743 345 749 341 755 341 773 333 779 333 787 329 795 329 803 325 811 325 819 321 831 321 839 317 851 317 859 313 879 313 887 309 919 309 927 305 1025 305 1033 309 1065 309 1073 313 1093 313 1101 317 1113 317 1121 321 1133 321 1141 325 1149 325 1157 329 1165 329 1173 333 1179 333 1185 337 1191 337 1197 341 1203 341 1221 349 1227 349 1241 357 1251 359 1269 369 1279 371 1315 389 1325 397 1343 405 1403 441 1409 441 1409 379 1415 375 1439 389 1483 431 1503 443 1507 443 1543 459 1549 465 1565 503 1585 523 1593 535 1601 543 1615 551 1627 551 1649 539 1673 519 1709 495 1721 483 1725 475 1729 461 1729 449 1725 435 1717 419 1695 389 1625 315Z"/>
<path fill="#b5e67a" fill-rule="evenodd" d="M1825 1355 1793 1337 1789 1337 1779 1331 1773 1331 1737 1315 1723 1315 1713 1323 1701 1343 1697 1355 1697 1367 1705 1377 1717 1383 1733 1395 1737 1403 1737 1409 1727 1425 1715 1451 1701 1469 1697 1479 1687 1491 1681 1503 1663 1521 1657 1521 1647 1517 1617 1495 1607 1493 1599 1497 1573 1521 1565 1535 1555 1545 1549 1555 1511 1593 1485 1613 1483 1617 1471 1625 1455 1641 1441 1671 1433 1679 1429 1681 1417 1681 1415 1679 1395 1681 1387 1687 1373 1693 1367 1699 1347 1711 1341 1721 1343 1733 1391 1825 1407 1843 1419 1845 1477 1821 1529 1785 1581 1755 1601 1737 1613 1721 1621 1699 1621 1687 1623 1685 1625 1671 1635 1661 1659 1655 1685 1639 1711 1611 1783 1495 1823 1419 1831 1397 1833 1379 1835 1377 1833 1367ZM45 1119 27 1139 15 1163 15 1169 11 1179 11 1195 13 1197 15 1213 41 1285 41 1291 47 1305 47 1311 53 1329 67 1359 75 1371 99 1395 133 1415 149 1431 155 1447 155 1473 153 1475 155 1507 169 1539 185 1561 213 1589 247 1617 269 1639 291 1655 307 1659 339 1691 343 1697 343 1701 355 1715 363 1719 373 1719 387 1713 419 1679 429 1663 447 1645 455 1631 455 1617 435 1595 417 1585 405 1587 379 1611 367 1613 361 1609 329 1575 297 1531 299 1519 315 1507 333 1489 335 1485 335 1467 331 1455 325 1449 303 1411 295 1403 283 1383 283 1379 253 1319 251 1307 235 1263 231 1259 209 1215 209 1205 207 1203 207 1189 211 1179 209 1145 203 1129 203 1123 195 1109 195 1105 187 1099 165 1097 163 1099 113 1101 99 1105 87 1105 85 1107 75 1107 73 1109 59 1111ZM1779 569 1767 575 1763 575 1745 587 1693 613 1681 625 1677 633 1677 641 1685 659 1697 677 1705 683 1713 683 1715 685 1717 683 1725 683 1749 673 1755 675 1763 683 1775 709 1777 721 1793 763 1793 769 1799 783 1801 799 1803 801 1803 813 1797 819 1771 825 1757 833 1749 843 1751 895 1753 897 1753 909 1757 921 1757 941 1759 943 1757 1047 1759 1049 1761 1069 1769 1091 1769 1103 1753 1139 1753 1157 1749 1167 1749 1189 1753 1197 1769 1209 1805 1219 1829 1223 1837 1227 1871 1231 1887 1225 1903 1211 1913 1193 1919 1173 1919 1165 1921 1163 1925 1105 1927 1103 1929 1081 1931 1079 1931 1071 1935 1059 1935 1019 1933 1017 1931 1003 1921 983 1897 955 1893 945 1895 933 1921 895 1923 879 1925 877 1925 863 1923 861 1923 851 1917 833 1889 781 1867 715 1863 709 1861 699 1857 693 1855 683 1851 677 1839 643 1809 587 1795 573 1787 569ZM321 383 295 383 275 391 255 405 219 439 175 493 151 529 141 555 139 585 141 587 143 613 139 623 127 635 103 649 93 659 83 673 75 691 67 717 63 763 61 765 59 787 57 789 57 797 55 799 55 807 51 819 51 829 47 841 47 851 43 863 43 877 41 879 39 907 37 909 37 921 35 923 35 973 37 975 39 991 47 1005 69 1021 75 1023 153 1023 173 1015 183 1005 183 1001 187 997 189 979 191 977 191 961 187 953 163 941 141 939 137 937 131 929 131 919 135 905 135 891 139 885 143 871 147 827 155 803 155 797 161 789 171 789 197 797 211 797 213 799 215 797 221 797 227 791 239 767 239 761 247 745 247 739 251 733 251 729 255 725 255 721 263 705 263 699 267 695 267 691 271 687 271 683 279 671 279 667 287 655 299 643 311 619 319 609 325 597 327 583 335 565 343 557 355 553 371 543 383 527 387 525 407 499 409 483 407 481 407 465 405 461 355 409ZM1133 119 1127 131 1127 137 1123 147 1121 171 1119 173 1115 199 1113 201 1115 223 1123 235 1137 243 1143 243 1165 251 1175 251 1179 249 1191 235 1197 221 1201 203 1205 199 1213 197 1227 203 1245 207 1267 219 1299 227 1309 233 1313 233 1335 243 1343 253 1325 291 1323 311 1347 333 1427 375 1481 427 1487 429 1507 443 1513 443 1519 447 1543 455 1553 465 1559 487 1567 503 1587 523 1593 533 1609 547 1627 549 1639 543 1695 501 1709 493 1723 477 1727 465 1727 443 1725 437 1705 403 1677 371 1609 301 1581 279 1553 267 1515 267 1505 263 1495 253 1491 243 1491 237 1481 217 1465 201 1453 193 1429 181 1381 165 1341 147 1319 141 1313 137 1267 121 1225 111 1217 107 1209 107 1207 105 1189 103 1187 101 1157 101 1147 105ZM1045 111 1031 91 1021 81 1005 71 993 67 985 67 983 65 943 63 941 65 869 67 867 69 851 69 849 71 839 71 837 73 829 73 821 77 815 77 793 87 781 95 749 127 739 131 729 131 691 115 659 115 651 119 645 119 623 129 579 159 517 193 425 253 393 283 385 299 385 313 395 331 411 347 419 361 455 399 463 403 475 403 485 399 511 379 511 377 515 375 519 365 515 347 499 325 499 319 497 317 499 313 527 291 557 279 591 255 615 245 625 245 647 287 655 295 679 295 685 291 691 291 697 287 701 287 705 283 723 279 729 275 747 271 765 263 775 263 791 257 803 257 817 263 823 263 831 259 843 259 853 255 865 255 881 247 889 239 901 235 911 235 921 231 929 231 943 235 949 239 959 239 961 241 995 241 997 239 1007 239 1029 229 1035 223 1041 205 1041 187 1045 175Z"/>
<path fill="#c4e57c" fill-rule="evenodd" d="M1821 1353 1801 1341 1771 1331 1761 1325 1757 1325 1735 1315 1725 1315 1717 1319 1701 1345 1697 1357 1697 1367 1703 1375 1727 1389 1735 1397 1737 1401 1737 1411 1731 1419 1717 1449 1703 1467 1699 1477 1689 1489 1677 1509 1667 1519 1655 1521 1649 1519 1615 1495 1603 1495 1599 1497 1577 1517 1569 1531 1557 1543 1543 1563 1519 1587 1493 1607 1479 1621 1469 1627 1457 1639 1451 1649 1447 1663 1437 1679 1427 1683 1423 1681 1413 1681 1411 1679 1397 1681 1371 1695 1365 1701 1355 1705 1343 1717 1341 1727 1345 1733 1345 1737 1395 1831 1405 1841 1409 1843 1423 1843 1449 1831 1463 1827 1485 1815 1527 1785 1579 1755 1603 1733 1613 1719 1619 1703 1621 1677 1625 1667 1639 1657 1655 1655 1673 1647 1703 1619 1721 1595 1741 1559 1777 1503 1789 1479 1799 1465 1821 1421 1833 1387 1833 1367ZM51 1117 35 1131 21 1155 17 1167 17 1175 15 1177 15 1195 17 1197 19 1215 43 1285 47 1305 57 1335 71 1363 87 1383 101 1395 139 1417 153 1433 157 1447 157 1467 155 1469 155 1501 157 1503 157 1509 169 1537 185 1559 217 1591 253 1621 273 1641 289 1653 299 1657 305 1657 311 1661 337 1687 351 1711 365 1719 383 1715 403 1697 409 1687 423 1673 427 1665 447 1645 455 1631 455 1619 449 1609 437 1597 415 1585 405 1587 379 1611 375 1613 363 1611 323 1569 315 1555 301 1539 297 1531 297 1523 307 1511 319 1503 331 1491 335 1483 335 1467 329 1453 323 1447 301 1409 289 1395 255 1325 237 1269 209 1219 207 1213 207 1183 209 1181 207 1141 203 1133 203 1127 193 1107 185 1101 113 1103 111 1105 99 1105 97 1107 65 1111ZM1775 571 1695 613 1683 623 1679 631 1681 649 1701 679 1709 683 1723 683 1745 673 1753 673 1761 679 1769 693 1769 697 1773 701 1785 737 1785 743 1789 749 1793 767 1799 779 1801 795 1805 805 1805 811 1799 819 1765 829 1753 839 1749 849 1751 891 1753 893 1753 905 1755 907 1757 929 1759 931 1759 977 1761 979 1761 987 1759 989 1759 1055 1771 1091 1771 1103 1755 1135 1753 1161 1749 1171 1749 1185 1753 1195 1761 1203 1777 1211 1783 1211 1801 1217 1809 1217 1843 1227 1875 1229 1891 1221 1903 1209 1913 1191 1917 1177 1917 1169 1919 1167 1925 1095 1927 1093 1927 1083 1933 1063 1935 1031 1933 1029 1933 1015 1929 1001 1921 985 1899 961 1891 947 1891 937 1895 929 1909 913 1921 891 1921 885 1923 883 1923 857 1921 855 1917 835 1891 789 1877 747 1873 741 1865 713 1845 665 1843 655 1821 609 1809 589 1797 575 1789 571ZM317 385 293 385 291 387 285 387 257 405 219 441 175 495 157 521 143 553 143 559 141 561 141 589 145 603 145 615 141 625 131 635 103 651 87 669 77 689 67 725 67 745 65 747 63 775 61 777 61 785 59 787 59 795 57 797 57 805 53 817 53 827 51 829 51 839 47 851 45 875 43 877 43 893 41 895 41 907 39 909 39 921 37 923 37 975 39 977 39 985 47 1003 55 1011 73 1019 155 1019 175 1009 181 1001 187 981 187 959 179 949 161 941 139 939 131 931 133 895 139 879 139 863 143 855 145 831 147 829 147 821 151 813 155 793 163 785 191 793 199 793 201 795 213 795 223 789 231 777 231 773 243 747 247 731 259 707 261 697 279 661 297 641 303 631 303 627 323 595 325 577 333 561 345 551 351 551 363 545 395 511 405 495 405 479 403 477 403 467 399 459 351 411ZM1137 117 1129 137 1129 143 1125 153 1125 169 1117 197 1117 217 1121 227 1129 235 1163 247 1177 247 1187 239 1195 223 1201 203 1207 197 1219 197 1249 207 1265 215 1281 219 1287 223 1303 227 1317 235 1327 237 1339 243 1345 253 1331 281 1325 299 1325 305 1331 315 1343 327 1355 335 1427 373 1481 425 1499 437 1511 443 1517 443 1549 455 1557 467 1561 489 1565 497 1605 543 1613 547 1627 547 1643 539 1687 505 1709 491 1719 481 1727 461 1727 449 1723 435 1705 405 1683 379 1605 299 1579 279 1563 271 1549 269 1547 267 1515 269 1503 265 1495 257 1485 225 1477 213 1451 193 1421 179 1383 167 1353 153 1321 143 1305 135 1257 119 1251 119 1243 115 1237 115 1203 105 1183 103 1181 101 1161 101 1149 105ZM1041 111 1031 93 1017 79 1003 71 989 67 977 67 975 65 931 65 929 67 861 69 859 71 845 71 843 73 835 73 833 75 813 79 795 87 783 95 749 129 741 133 729 133 717 129 699 119 685 115 667 115 665 117 649 119 615 135 591 153 551 175 547 179 533 185 441 243 417 261 393 285 387 295 385 307 389 317 399 331 401 331 413 345 417 353 429 365 435 375 459 397 463 399 477 399 491 391 515 369 517 363 515 351 497 321 499 311 525 291 551 279 581 259 617 243 625 243 631 249 631 253 647 283 655 291 671 293 673 291 681 291 693 287 707 279 713 279 731 271 749 267 755 263 779 259 785 255 799 253 813 259 827 259 837 255 849 255 851 253 867 251 881 243 889 235 907 231 915 227 931 227 955 237 1001 237 1013 231 1017 231 1029 223 1037 203 1037 187 1041 173Z"/>
<path fill="#d4e47e" fill-rule="evenodd" d="M1823 1355 1799 1341 1795 1341 1781 1333 1775 1333 1769 1329 1765 1329 1745 1319 1731 1315 1721 1317 1705 1337 1697 1359 1697 1365 1707 1377 1725 1387 1737 1399 1737 1411 1725 1431 1721 1443 1701 1471 1697 1481 1691 1487 1681 1505 1665 1521 1653 1521 1615 1495 1605 1495 1597 1499 1573 1523 1569 1531 1553 1549 1547 1559 1515 1591 1459 1637 1451 1651 1443 1675 1435 1683 1397 1681 1353 1707 1345 1715 1341 1723 1343 1725 1343 1731 1373 1791 1381 1801 1393 1827 1403 1839 1411 1843 1421 1843 1451 1829 1465 1825 1483 1815 1531 1781 1577 1755 1605 1729 1613 1717 1619 1697 1619 1679 1625 1663 1633 1657 1657 1653 1671 1647 1705 1615 1721 1593 1737 1563 1777 1501 1819 1423 1833 1381 1831 1365ZM53 1117 37 1131 25 1151 19 1171 19 1201 21 1203 21 1211 27 1227 27 1233 45 1285 51 1313 69 1357 93 1387 113 1401 137 1413 153 1429 159 1447 157 1481 155 1483 157 1505 167 1531 183 1555 221 1593 239 1607 277 1643 291 1653 309 1659 339 1689 347 1705 357 1715 361 1717 377 1717 385 1713 399 1701 405 1691 423 1673 425 1667 443 1649 455 1629 455 1621 451 1613 433 1595 413 1585 403 1589 377 1613 365 1613 321 1567 315 1555 299 1537 295 1527 297 1521 329 1493 335 1483 335 1469 331 1457 319 1441 311 1425 299 1407 291 1399 251 1317 247 1297 243 1291 235 1265 207 1219 207 1213 205 1211 205 1191 209 1177 207 1145 195 1113 191 1107 185 1103 165 1101 163 1103 109 1105 107 1107 95 1107 93 1109 63 1113ZM1777 571 1697 613 1683 625 1679 633 1681 647 1685 655 1693 665 1695 671 1705 681 1721 683 1743 673 1755 673 1765 683 1777 709 1777 715 1785 733 1785 739 1801 783 1801 791 1805 801 1805 813 1797 821 1767 829 1753 841 1751 847 1753 899 1755 901 1757 925 1759 927 1759 969 1761 971 1761 991 1759 993 1759 1049 1761 1051 1763 1069 1773 1091 1773 1103 1763 1119 1755 1139 1755 1153 1751 1165 1751 1187 1753 1193 1763 1203 1775 1209 1795 1213 1797 1215 1805 1215 1839 1225 1871 1229 1883 1225 1897 1215 1911 1193 1917 1173 1923 1099 1925 1097 1925 1087 1927 1085 1931 1055 1933 1053 1933 1023 1931 1021 1929 1005 1921 987 1891 953 1889 949 1889 935 1913 905 1921 887 1923 867 1921 865 1921 853 1915 833 1889 787 1867 721 1859 705 1857 695 1853 689 1851 679 1847 673 1841 653 1833 639 1833 635 1805 585 1795 575 1787 571ZM309 385 289 387 283 391 279 391 259 405 219 443 193 477 183 487 155 527 143 557 143 591 147 605 147 619 143 627 135 635 117 643 105 651 93 663 85 675 77 693 71 713 71 721 69 723 65 773 63 775 63 783 61 785 61 793 59 795 59 803 55 815 55 825 53 827 53 837 51 839 51 849 49 851 47 873 45 875 43 907 39 921 39 977 41 979 41 987 47 1001 55 1009 71 1017 157 1017 169 1011 179 1001 183 993 183 983 185 981 185 961 183 955 177 949 165 943 137 939 129 929 129 917 131 915 131 901 133 899 135 879 137 877 137 865 141 855 145 825 151 809 155 789 165 783 191 791 211 793 217 791 225 783 243 743 243 737 247 731 247 727 259 703 259 697 275 665 299 635 307 617 321 595 323 577 331 559 337 553 357 547 363 543 391 513 403 497 403 479 397 461 353 415 343 409 323 391ZM1139 117 1131 137 1131 143 1127 153 1127 167 1125 169 1125 177 1119 197 1119 219 1129 233 1155 243 1177 245 1181 243 1191 231 1199 203 1207 195 1215 195 1281 217 1291 223 1301 225 1341 243 1345 249 1345 259 1333 281 1327 299 1329 309 1333 315 1351 331 1361 335 1365 339 1369 339 1379 347 1387 349 1391 353 1429 373 1437 379 1471 415 1497 435 1509 441 1543 449 1551 453 1557 459 1561 485 1567 499 1607 543 1617 547 1623 547 1637 541 1707 491 1719 479 1725 465 1725 443 1711 415 1687 385 1601 297 1577 279 1553 269 1507 269 1499 265 1491 253 1487 233 1477 215 1459 199 1433 185 1385 169 1345 151 1239 115 1231 115 1223 111 1189 105 1187 103 1155 103 1145 109ZM1039 113 1029 93 1015 79 1005 73 993 69 985 69 983 67 917 67 915 69 853 71 851 73 841 73 839 75 831 75 811 81 785 95 753 129 741 135 723 133 701 121 689 117 661 117 659 119 653 119 621 133 587 157 515 197 429 253 393 287 387 299 387 311 415 345 419 353 449 387 463 397 477 397 505 377 515 365 513 347 495 319 499 309 529 287 547 279 579 259 619 241 625 241 631 247 645 277 653 287 661 291 675 291 699 283 709 277 721 275 727 271 745 267 763 259 773 259 797 251 813 257 829 257 831 255 841 255 851 251 863 251 879 243 887 235 917 223 931 225 953 235 1003 235 1009 231 1013 231 1027 221 1035 199 1035 185 1037 183 1037 171 1039 169Z"/>
<path fill="#e4e37f" fill-rule="evenodd" d="M1819 1353 1793 1339 1763 1329 1739 1317 1723 1317 1719 1319 1707 1335 1701 1347 1699 1367 1707 1377 1731 1391 1737 1399 1739 1407 1717 1451 1703 1469 1699 1479 1693 1485 1681 1505 1665 1521 1657 1523 1647 1519 1627 1503 1613 1495 1601 1497 1573 1523 1571 1529 1555 1547 1551 1555 1513 1593 1461 1635 1453 1647 1445 1675 1435 1685 1421 1685 1413 1681 1399 1681 1373 1695 1347 1713 1343 1719 1345 1735 1359 1763 1363 1767 1371 1787 1379 1797 1395 1829 1407 1841 1413 1843 1425 1841 1481 1815 1529 1781 1581 1751 1597 1737 1613 1715 1617 1703 1617 1683 1619 1681 1619 1669 1621 1665 1633 1655 1655 1653 1669 1647 1687 1633 1707 1611 1777 1499 1817 1425 1831 1387 1831 1367ZM53 1119 39 1131 27 1151 23 1163 23 1171 21 1173 21 1197 23 1199 23 1209 25 1211 27 1225 41 1265 41 1271 49 1293 55 1321 67 1347 67 1351 83 1375 95 1387 119 1403 137 1411 145 1417 155 1429 161 1447 159 1473 157 1475 157 1499 159 1501 159 1509 163 1521 173 1539 195 1567 281 1645 297 1655 307 1657 341 1691 351 1709 363 1717 377 1717 385 1713 421 1675 431 1659 447 1643 453 1633 455 1621 451 1613 435 1597 417 1587 407 1587 381 1611 373 1615 365 1613 347 1597 339 1585 319 1565 317 1559 299 1537 295 1529 299 1517 313 1507 331 1489 335 1481 335 1471 331 1457 321 1445 303 1413 287 1393 287 1389 283 1385 279 1373 275 1369 275 1365 271 1361 271 1357 255 1327 235 1267 227 1255 219 1237 205 1217 203 1211 203 1195 207 1185 207 1149 195 1115 191 1109 179 1103 151 1103 149 1105 115 1105 113 1107 69 1113ZM1781 571 1765 577 1751 587 1695 615 1681 631 1681 645 1697 673 1703 679 1717 683 1751 671 1759 675 1767 685 1769 693 1777 707 1779 719 1785 731 1789 749 1793 755 1793 761 1801 781 1805 807 1807 809 1805 815 1799 821 1789 825 1775 827 1763 833 1755 841 1751 851 1753 897 1755 899 1757 921 1761 935 1759 1041 1761 1043 1761 1059 1769 1081 1775 1091 1773 1107 1757 1133 1755 1157 1751 1169 1751 1185 1759 1199 1777 1209 1791 1211 1801 1215 1809 1215 1843 1225 1875 1227 1891 1219 1901 1209 1913 1185 1915 1169 1917 1167 1921 1103 1923 1101 1925 1079 1927 1077 1929 1059 1931 1057 1931 1019 1929 1017 1929 1009 1925 997 1915 981 1891 957 1885 945 1889 931 1909 909 1919 891 1919 885 1921 883 1921 857 1913 831 1891 795 1879 759 1875 753 1865 719 1861 713 1853 687 1845 671 1839 651 1829 633 1829 629 1801 581 1791 573ZM311 387 293 387 275 395 251 413 217 447 161 519 147 547 147 553 143 563 143 583 145 585 145 593 149 605 149 621 145 629 133 639 129 639 107 651 93 665 79 691 71 719 67 771 65 773 65 781 63 783 63 791 61 793 61 801 57 813 57 823 55 825 55 835 53 837 53 847 49 859 47 889 45 891 41 937 39 939 39 963 41 965 43 989 49 1001 57 1009 69 1015 77 1015 79 1017 147 1017 167 1011 177 1001 183 987 183 971 185 969 181 955 167 945 153 941 141 941 133 937 129 931 129 909 131 907 131 893 135 883 135 867 139 859 139 851 143 841 143 827 151 805 153 791 155 787 161 783 171 783 197 791 213 791 223 783 235 761 239 745 243 739 259 695 275 663 295 639 307 615 319 597 323 583 323 573 329 559 337 551 361 543 391 511 403 493 403 483 395 461 353 417 335 405 323 393ZM1139 119 1129 151 1127 173 1121 193 1121 221 1131 233 1147 239 1153 239 1159 243 1179 243 1189 233 1201 199 1205 195 1219 195 1279 215 1339 241 1347 249 1347 257 1335 279 1335 283 1329 295 1329 305 1335 315 1353 331 1415 363 1443 383 1481 423 1499 435 1511 441 1517 441 1535 447 1545 447 1553 451 1559 457 1561 463 1561 481 1567 497 1589 521 1597 533 1613 545 1625 545 1641 537 1705 491 1719 477 1725 463 1725 447 1721 435 1701 403 1661 359 1597 295 1575 279 1563 273 1549 271 1547 269 1537 269 1535 271 1505 271 1501 269 1493 261 1489 253 1487 237 1479 219 1457 199 1435 187 1377 167 1331 147 1315 143 1287 131 1281 131 1275 127 1269 127 1249 119 1227 115 1219 111 1183 105 1181 103 1159 103 1149 107ZM1037 111 1033 101 1023 87 1007 75 1003 75 997 71 973 69 971 67 937 67 935 69 903 69 901 71 865 71 863 73 849 73 847 75 827 77 809 83 779 101 763 121 751 133 743 137 727 137 693 119 685 119 683 117 657 119 623 133 589 157 531 189 445 243 423 259 397 283 387 301 387 307 391 315 415 343 419 351 455 391 469 397 479 395 503 377 511 369 515 361 513 349 495 321 495 313 505 303 527 287 545 279 591 251 605 247 615 241 621 241 623 239 631 245 643 271 655 287 661 289 679 289 711 275 717 275 735 267 753 263 759 259 767 259 791 251 803 251 809 255 823 257 835 253 865 249 877 243 891 231 895 231 913 221 925 221 951 233 959 233 961 235 995 235 1017 227 1027 217 1033 199 1035 171 1037 169Z"/>
<path fill="#ece27e" fill-rule="evenodd" d="M1821 1355 1801 1343 1797 1343 1777 1333 1771 1333 1747 1321 1735 1317 1725 1317 1721 1319 1713 1327 1701 1349 1699 1367 1705 1375 1727 1387 1737 1397 1739 1409 1715 1455 1705 1467 1697 1483 1677 1511 1667 1521 1655 1523 1637 1513 1617 1497 1607 1495 1599 1499 1577 1519 1567 1535 1557 1545 1553 1553 1541 1567 1537 1569 1523 1585 1471 1627 1457 1641 1451 1655 1447 1675 1439 1685 1435 1687 1425 1687 1411 1681 1395 1683 1355 1707 1345 1717 1343 1729 1353 1747 1353 1751 1359 1759 1373 1789 1385 1807 1393 1825 1405 1839 1409 1841 1423 1841 1447 1829 1451 1829 1479 1815 1527 1781 1577 1753 1601 1731 1613 1713 1615 1699 1617 1697 1617 1669 1619 1663 1627 1655 1647 1653 1667 1647 1679 1639 1697 1621 1721 1589 1737 1559 1759 1527 1813 1431 1813 1427 1823 1409 1831 1383 1829 1363ZM55 1119 39 1133 29 1151 25 1163 23 1195 25 1197 27 1217 41 1259 41 1265 47 1279 55 1315 63 1339 73 1359 83 1373 99 1389 143 1413 155 1425 161 1437 159 1505 167 1527 181 1549 211 1581 245 1609 285 1647 299 1655 307 1657 335 1683 343 1693 347 1703 357 1713 365 1717 375 1717 387 1711 415 1681 427 1663 447 1643 455 1627 455 1623 449 1611 435 1597 417 1587 405 1589 375 1615 369 1615 361 1611 323 1571 315 1557 297 1535 295 1523 299 1517 315 1505 331 1489 335 1479 333 1463 303 1417 301 1411 289 1397 251 1319 251 1313 235 1267 231 1263 231 1259 223 1249 219 1239 205 1221 201 1203 203 1201 203 1191 207 1181 207 1163 205 1161 203 1137 195 1117 189 1109 181 1105 135 1105 133 1107 95 1109 93 1111 65 1115ZM1777 573 1697 615 1685 625 1681 633 1681 641 1689 659 1705 679 1709 681 1723 681 1745 671 1753 671 1765 681 1777 705 1781 723 1785 729 1787 741 1793 753 1793 759 1803 785 1803 795 1807 805 1807 813 1803 819 1797 823 1777 827 1765 833 1753 847 1753 893 1755 895 1757 917 1761 931 1761 981 1763 983 1761 987 1761 1055 1765 1069 1777 1091 1777 1101 1757 1135 1757 1149 1753 1161 1751 1181 1757 1195 1763 1201 1779 1209 1805 1213 1807 1215 1813 1215 1839 1223 1847 1223 1849 1225 1871 1227 1873 1225 1879 1225 1889 1219 1905 1201 1913 1181 1915 1159 1917 1157 1917 1129 1919 1127 1921 1093 1923 1091 1925 1073 1929 1063 1929 1049 1931 1047 1929 1013 1917 985 1887 955 1883 947 1883 939 1891 925 1913 901 1919 887 1921 865 1919 863 1917 845 1911 833 1911 829 1887 789 1861 711 1853 695 1849 679 1845 673 1837 649 1803 585 1789 573ZM313 389 307 389 305 387 289 389 265 403 217 449 193 481 183 491 165 515 147 551 147 557 145 559 145 587 151 607 151 623 149 627 137 639 109 651 93 667 79 695 73 715 73 723 71 725 69 767 67 769 67 779 65 781 65 789 63 791 63 799 61 801 61 809 57 821 55 845 53 847 51 867 49 869 49 885 47 887 47 901 45 903 45 915 43 917 43 933 41 935 41 969 43 971 45 991 49 999 59 1009 73 1015 153 1015 165 1011 175 1003 181 989 181 979 183 977 183 961 181 957 173 949 165 945 151 943 149 941 137 941 127 929 127 915 131 901 135 863 139 855 143 825 149 809 151 793 161 781 177 783 193 789 213 789 223 781 233 763 235 753 239 747 259 693 275 661 293 641 307 613 313 607 319 595 323 567 327 559 335 551 359 543 379 521 383 519 401 495 401 481 397 467 393 461 353 419ZM1141 117 1129 155 1129 171 1125 179 1125 187 1121 199 1121 217 1123 223 1133 233 1165 243 1177 243 1187 235 1193 223 1199 201 1207 193 1215 193 1271 211 1277 215 1283 215 1297 223 1301 223 1315 231 1325 233 1341 241 1347 247 1349 253 1331 293 1331 307 1333 311 1355 331 1429 371 1437 377 1473 415 1507 439 1513 439 1531 445 1545 445 1555 449 1561 455 1561 461 1563 463 1563 485 1569 499 1607 541 1619 545 1639 537 1687 501 1701 493 1713 483 1719 475 1725 457 1721 437 1707 413 1673 373 1605 303 1573 279 1553 271 1529 271 1527 273 1505 273 1499 271 1489 259 1485 233 1479 221 1469 209 1455 199 1423 183 1379 169 1359 159 1307 141 1301 137 1245 119 1223 115 1215 111 1189 107 1187 105 1177 105 1175 103 1163 103 1151 107ZM1035 111 1025 91 1017 83 999 73 983 71 981 69 925 69 923 71 857 73 855 75 833 77 807 85 783 99 771 111 763 123 751 135 743 139 727 139 689 119 661 119 659 121 653 121 625 133 585 161 523 195 447 243 415 267 395 287 389 299 389 309 395 319 415 341 419 349 439 373 457 391 465 395 475 395 499 379 513 363 513 351 495 323 495 313 497 309 525 287 543 279 589 251 593 251 619 239 627 239 633 245 643 269 655 285 673 289 675 287 683 287 709 275 727 271 733 267 757 259 779 255 787 251 805 251 811 255 829 255 841 251 861 249 875 243 889 231 907 223 911 219 917 219 919 217 927 219 955 233 1001 233 1015 227 1025 217 1031 201 1033 175 1035 173Z"/>
<path fill="#eee27a" fill-rule="evenodd" d="M1823 1357 1795 1341 1765 1331 1741 1319 1735 1319 1733 1317 1721 1319 1715 1325 1703 1345 1699 1357 1699 1365 1709 1377 1725 1385 1737 1397 1739 1401 1739 1411 1731 1423 1717 1453 1707 1465 1699 1481 1693 1487 1681 1507 1667 1521 1663 1523 1653 1523 1615 1497 1603 1497 1599 1499 1579 1517 1547 1561 1519 1589 1507 1597 1459 1639 1451 1657 1449 1675 1439 1687 1427 1689 1409 1681 1401 1681 1375 1695 1365 1703 1355 1707 1345 1717 1343 1721 1345 1733 1361 1765 1365 1769 1365 1773 1371 1785 1379 1795 1397 1831 1403 1837 1411 1841 1419 1841 1431 1837 1449 1827 1453 1827 1477 1815 1525 1781 1575 1753 1603 1727 1611 1715 1615 1703 1615 1669 1619 1659 1623 1655 1633 1651 1653 1651 1669 1645 1703 1613 1715 1597 1737 1557 1759 1525 1809 1437 1809 1433 1825 1401 1829 1381 1831 1379 1829 1365ZM51 1123 41 1133 29 1155 27 1171 25 1173 25 1193 27 1195 27 1207 29 1209 33 1231 47 1273 55 1311 67 1345 83 1371 101 1389 113 1397 143 1411 157 1425 163 1437 163 1463 161 1465 161 1477 159 1479 159 1501 163 1515 173 1535 187 1555 219 1587 251 1613 279 1641 289 1649 311 1659 339 1687 353 1709 361 1715 367 1715 369 1717 383 1713 401 1697 407 1687 423 1671 425 1665 445 1645 453 1631 453 1619 447 1609 439 1601 415 1587 405 1589 379 1613 375 1615 363 1613 321 1569 315 1557 299 1539 295 1531 295 1523 297 1519 307 1509 319 1501 333 1485 333 1465 329 1455 319 1443 315 1433 289 1397 255 1329 235 1269 217 1237 205 1223 201 1215 201 1195 207 1179 207 1167 205 1165 203 1139 193 1115 187 1109 175 1105 151 1105 149 1107 101 1109 99 1111 63 1117ZM1779 573 1695 617 1683 629 1681 635 1683 645 1689 657 1703 677 1711 681 1721 681 1745 671 1755 671 1763 677 1777 703 1781 721 1785 727 1789 745 1793 751 1793 757 1803 783 1803 791 1807 803 1807 815 1799 823 1781 827 1767 833 1759 839 1753 851 1755 899 1757 901 1757 913 1761 927 1761 975 1763 977 1763 987 1761 989 1761 1053 1765 1067 1779 1091 1779 1101 1761 1127 1757 1139 1757 1153 1753 1165 1753 1187 1765 1201 1783 1209 1809 1213 1843 1223 1875 1225 1885 1221 1897 1211 1907 1195 1913 1177 1919 1099 1921 1097 1921 1087 1923 1085 1923 1077 1925 1075 1927 1057 1929 1055 1929 1019 1927 1017 1925 1003 1917 987 1909 977 1905 975 1881 949 1881 937 1883 933 1909 905 1917 891 1917 885 1919 883 1919 859 1917 857 1917 849 1913 837 1885 787 1863 719 1851 693 1837 651 1805 589 1791 575ZM309 389 293 389 275 397 257 411 231 435 175 503 151 543 147 555 147 563 145 565 147 591 153 607 153 625 141 639 123 645 103 657 89 675 81 693 73 721 71 763 69 765 69 775 67 777 65 797 63 799 59 829 57 831 57 841 53 853 47 913 45 915 45 927 43 929 43 975 45 977 45 987 53 1003 65 1011 79 1013 81 1015 145 1015 147 1013 163 1011 175 1001 179 993 181 973 183 971 183 965 179 955 169 947 157 943 137 941 133 939 127 931 127 907 129 905 131 885 133 883 133 869 135 867 135 859 141 841 141 829 147 813 151 791 159 781 173 781 189 787 209 789 215 787 225 777 237 751 239 741 243 735 259 691 275 659 295 637 303 619 311 609 319 593 321 571 327 555 339 547 347 547 363 539 387 513 401 493 401 485 397 471 393 463 351 419 341 413 321 395ZM1145 113 1135 135 1135 141 1131 151 1131 161 1129 163 1129 175 1125 183 1125 193 1123 195 1123 219 1129 229 1135 233 1147 235 1161 241 1179 241 1187 233 1193 221 1199 199 1205 193 1219 193 1285 215 1299 223 1303 223 1313 229 1323 231 1339 239 1347 245 1349 257 1331 297 1331 303 1337 315 1353 329 1395 351 1399 355 1403 355 1415 361 1433 373 1483 423 1501 435 1517 441 1545 443 1557 447 1563 453 1563 459 1565 461 1563 481 1569 497 1605 539 1613 543 1625 543 1637 537 1707 487 1719 473 1723 463 1723 445 1709 417 1681 383 1633 333 1589 291 1563 275 1549 273 1547 271 1525 273 1523 275 1503 275 1499 273 1487 259 1485 239 1477 219 1457 201 1425 185 1409 181 1403 177 1387 173 1381 169 1357 161 1347 155 1331 151 1325 147 1249 121 1243 121 1193 107 1185 107 1183 105 1157 105ZM1033 109 1025 93 1013 81 1001 75 987 71 971 71 969 69 945 69 943 71 909 71 907 73 849 75 847 77 837 77 835 79 815 83 797 91 785 99 771 113 765 123 745 141 727 141 709 129 685 119 657 121 627 133 587 161 525 195 449 243 419 265 395 289 389 301 389 307 393 315 413 337 423 353 459 391 473 395 485 389 505 373 513 361 513 353 507 341 495 325 493 319 495 311 505 301 527 285 541 279 565 263 569 263 573 259 615 239 629 239 649 277 657 285 663 287 681 287 707 275 725 271 731 267 761 257 777 255 793 249 801 249 813 255 827 255 837 251 859 249 877 241 887 231 897 227 915 215 923 215 951 231 961 231 963 233 993 233 995 231 1005 231 1013 227 1023 217 1031 193 1033 143 1035 141Z"/>
<path fill="#eee276" fill-rule="evenodd" d="M1819 1355 1793 1341 1759 1329 1739 1319 1723 1319 1719 1321 1703 1347 1699 1363 1701 1369 1707 1375 1733 1391 1741 1405 1721 1447 1705 1469 1695 1487 1689 1493 1683 1505 1665 1523 1651 1523 1615 1497 1603 1497 1573 1525 1571 1531 1561 1541 1549 1559 1515 1593 1493 1609 1477 1625 1469 1629 1461 1637 1453 1653 1449 1679 1441 1689 1429 1691 1413 1683 1397 1683 1353 1709 1347 1715 1343 1725 1353 1745 1353 1749 1361 1761 1375 1791 1387 1809 1395 1827 1407 1839 1417 1841 1429 1837 1479 1813 1523 1781 1561 1761 1579 1749 1597 1733 1611 1713 1613 1699 1615 1697 1615 1685 1613 1683 1615 1661 1625 1651 1657 1649 1667 1645 1681 1635 1705 1609 1777 1493 1801 1447 1805 1443 1807 1435 1821 1409 1829 1385 1829 1367ZM53 1123 41 1135 33 1149 29 1161 29 1169 27 1171 27 1195 29 1197 29 1207 31 1209 31 1217 35 1225 37 1239 49 1275 57 1313 71 1351 91 1379 109 1393 143 1409 151 1415 159 1425 165 1439 165 1459 161 1473 161 1505 175 1537 185 1551 225 1591 241 1603 285 1645 297 1653 309 1657 341 1689 349 1703 359 1713 363 1715 383 1713 399 1699 403 1691 443 1647 451 1635 453 1619 433 1597 413 1587 405 1589 377 1615 365 1615 347 1599 339 1587 319 1567 313 1555 299 1539 295 1531 295 1523 297 1519 309 1507 323 1497 333 1483 333 1465 331 1459 315 1437 311 1427 287 1395 279 1379 279 1375 275 1371 271 1359 267 1355 267 1351 263 1347 263 1343 255 1329 235 1269 213 1233 201 1219 199 1199 203 1191 207 1171 205 1169 203 1141 193 1117 185 1109 179 1107 131 1107 129 1109 109 1109 107 1111 95 1111 93 1113 73 1115ZM1783 573 1781 575 1775 575 1693 619 1683 631 1683 643 1697 669 1707 679 1719 681 1749 669 1757 671 1765 679 1779 707 1781 719 1785 725 1789 743 1795 755 1795 761 1803 781 1807 807 1809 809 1803 821 1783 829 1771 831 1757 843 1753 855 1753 863 1755 865 1755 897 1757 899 1757 911 1761 925 1761 967 1763 969 1761 1049 1763 1051 1765 1065 1781 1091 1781 1103 1763 1125 1757 1141 1757 1157 1753 1167 1753 1183 1755 1189 1763 1199 1779 1207 1813 1213 1837 1221 1873 1225 1887 1219 1899 1207 1907 1193 1913 1173 1917 1105 1919 1103 1919 1091 1921 1089 1923 1071 1927 1061 1927 1047 1929 1045 1927 1015 1923 1001 1911 981 1883 957 1879 949 1879 937 1883 929 1901 913 1913 897 1919 877 1919 865 1917 863 1917 853 1913 839 1903 819 1889 799 1889 795 1881 779 1861 717 1853 701 1849 685 1841 669 1835 649 1801 585 1793 577ZM311 391 305 391 303 389 289 391 271 401 249 419 225 443 175 505 159 529 147 559 147 585 155 609 155 627 145 639 121 647 107 655 97 665 83 691 75 717 75 727 73 729 73 759 71 761 71 773 69 775 69 783 67 785 67 793 65 795 65 803 61 815 59 839 57 841 57 849 53 861 51 895 49 897 49 909 47 911 47 923 45 925 45 981 47 983 47 989 51 999 59 1007 73 1013 153 1013 165 1009 175 999 179 991 179 979 181 977 181 961 179 957 167 947 135 941 127 933 125 927 133 865 139 847 141 825 147 811 151 789 155 783 161 779 177 781 193 787 211 787 221 781 231 765 239 739 243 733 259 689 271 669 271 665 279 653 293 639 299 625 317 597 319 591 319 575 325 555 335 547 351 545 359 541 391 507 399 495 399 481 393 465 349 419 339 413 319 395ZM1145 115 1135 139 1135 145 1131 155 1131 171 1127 179 1127 187 1123 199 1123 217 1125 223 1133 231 1165 241 1175 241 1183 237 1189 229 1197 201 1205 193 1215 191 1223 195 1241 199 1247 203 1265 207 1271 211 1277 211 1341 239 1349 247 1351 253 1349 255 1349 261 1333 293 1333 307 1337 313 1351 327 1389 347 1393 351 1409 359 1413 359 1439 377 1479 419 1493 427 1499 433 1511 439 1531 441 1533 443 1555 443 1565 451 1565 457 1567 459 1565 463 1565 487 1571 499 1607 539 1615 543 1621 543 1645 531 1689 497 1703 489 1719 471 1723 459 1723 449 1713 425 1687 391 1595 297 1573 281 1555 273 1531 273 1519 277 1503 277 1497 275 1489 267 1485 259 1483 233 1477 221 1455 201 1423 185 1389 175 1339 153 1317 147 1301 139 1265 127 1259 127 1245 121 1223 117 1207 111 1179 107 1177 105 1153 107ZM1033 113 1029 101 1021 89 999 75 983 73 981 71 929 71 927 73 893 73 891 75 843 77 807 87 789 97 771 115 759 133 745 143 727 143 707 129 689 121 661 121 659 123 653 123 619 139 589 161 517 201 431 257 399 285 391 299 391 309 443 375 465 393 475 393 501 375 509 367 513 357 505 339 493 321 495 309 525 285 539 279 579 255 613 239 627 237 635 245 649 275 659 285 677 287 705 275 723 271 729 267 747 263 765 255 775 255 791 249 803 249 817 255 825 255 833 251 845 251 847 249 865 247 879 239 889 229 895 227 913 213 925 213 941 225 953 231 1003 231 1017 223 1023 215 1029 197 1031 159 1033 157Z"/>
<path fill="#f0e272" fill-rule="evenodd" d="M1821 1357 1797 1343 1767 1333 1743 1321 1723 1319 1715 1327 1705 1343 1701 1355 1701 1367 1705 1373 1729 1387 1737 1395 1741 1407 1719 1451 1679 1511 1669 1521 1661 1525 1655 1525 1643 1519 1621 1501 1613 1497 1601 1499 1575 1523 1551 1557 1515 1593 1461 1637 1453 1655 1451 1679 1439 1693 1425 1691 1411 1683 1399 1683 1357 1707 1345 1719 1347 1735 1373 1787 1381 1797 1393 1823 1405 1837 1409 1839 1421 1839 1477 1813 1521 1781 1575 1751 1601 1727 1611 1711 1613 1705 1613 1661 1615 1657 1625 1649 1655 1649 1675 1639 1697 1617 1713 1597 1731 1563 1743 1547 1745 1541 1777 1491 1819 1411 1829 1381 1829 1367ZM55 1123 41 1137 35 1147 31 1159 31 1167 29 1169 29 1197 31 1199 31 1209 33 1211 37 1233 49 1269 59 1315 63 1323 63 1329 77 1359 97 1383 111 1393 149 1411 163 1427 167 1439 167 1457 165 1459 165 1467 161 1479 161 1501 165 1515 175 1535 195 1561 229 1593 245 1605 277 1637 295 1651 309 1657 343 1691 355 1709 365 1715 377 1715 385 1711 419 1675 429 1659 447 1641 453 1629 453 1621 449 1613 433 1597 423 1593 419 1589 407 1589 403 1591 381 1613 373 1617 365 1615 343 1595 335 1583 319 1567 311 1553 301 1543 295 1533 295 1521 299 1515 313 1505 331 1487 333 1483 333 1467 327 1453 321 1447 313 1431 287 1395 259 1339 259 1335 251 1321 247 1303 243 1297 231 1261 215 1237 203 1225 197 1213 197 1203 205 1181 205 1163 203 1161 203 1143 195 1121 191 1115 183 1109 175 1109 173 1107 147 1107 145 1109 113 1109 111 1111 87 1113 85 1115 69 1117ZM1777 575 1697 617 1689 623 1683 633 1685 647 1699 671 1709 679 1723 679 1747 669 1755 669 1767 681 1779 705 1789 735 1789 741 1795 753 1795 759 1805 785 1805 795 1809 805 1809 813 1801 823 1793 827 1773 831 1767 835 1755 849 1755 895 1757 897 1757 909 1759 911 1761 933 1763 935 1761 1045 1763 1047 1765 1063 1771 1075 1783 1091 1783 1103 1767 1121 1759 1135 1753 1181 1757 1191 1765 1199 1781 1207 1817 1213 1841 1221 1877 1223 1891 1215 1897 1209 1909 1185 1911 1167 1913 1165 1913 1139 1915 1137 1917 1095 1919 1093 1919 1085 1921 1083 1921 1075 1923 1073 1925 1055 1927 1053 1927 1021 1925 1019 1923 1003 1913 985 1879 955 1877 951 1877 935 1911 899 1917 885 1917 857 1911 837 1885 793 1881 777 1877 771 1871 749 1865 737 1861 719 1849 693 1845 677 1841 671 1833 647 1803 589 1791 577 1787 575ZM313 393 293 391 279 397 265 407 223 447 191 489 181 499 159 531 151 549 149 563 147 565 149 589 157 609 157 629 149 639 137 645 125 647 109 655 95 669 85 689 75 723 73 769 71 771 67 801 63 811 63 821 59 835 59 845 55 857 53 889 51 891 51 905 49 907 47 937 45 939 47 985 51 997 61 1007 69 1011 77 1011 79 1013 147 1013 149 1011 163 1009 173 1001 179 987 179 973 181 971 181 965 177 955 173 951 159 945 137 943 129 937 125 929 125 911 127 909 127 899 131 885 131 869 139 843 139 831 141 829 151 787 159 779 171 779 197 787 209 787 223 777 231 763 231 759 239 743 239 737 253 707 255 697 263 683 263 679 267 675 275 657 295 635 305 613 311 607 319 589 319 569 323 555 331 547 347 545 361 539 387 511 399 493 399 483 395 471 383 455 347 419ZM1143 119 1133 149 1131 173 1125 193 1125 221 1129 227 1135 231 1153 235 1159 239 1167 239 1169 241 1179 239 1187 231 1191 223 1197 199 1207 191 1219 191 1279 211 1303 223 1307 223 1317 229 1327 231 1345 241 1351 249 1349 263 1337 285 1333 297 1333 303 1339 315 1359 331 1417 361 1435 373 1485 423 1503 435 1513 439 1523 439 1525 441 1557 441 1567 449 1567 455 1569 457 1567 461 1567 471 1565 473 1567 491 1573 501 1591 519 1597 529 1605 537 1613 541 1625 541 1655 523 1687 497 1701 489 1717 473 1721 465 1721 443 1713 427 1691 397 1617 319 1591 295 1575 283 1559 275 1539 273 1537 275 1527 275 1515 279 1503 279 1493 275 1485 265 1483 239 1475 219 1465 209 1435 191 1371 169 1361 163 1309 145 1303 141 1249 123 1227 119 1219 115 1203 113 1183 107 1155 107 1151 109ZM1031 111 1023 93 1007 79 989 73 945 71 943 73 915 73 913 75 851 77 849 79 837 79 835 81 815 85 797 93 783 103 761 133 753 141 745 145 727 145 705 129 693 123 687 123 685 121 665 121 663 123 657 123 631 133 585 165 519 201 503 213 477 227 447 247 415 271 397 289 393 295 391 307 403 325 417 339 425 353 459 389 467 393 473 393 485 387 495 377 505 371 511 361 509 347 493 323 491 317 493 311 505 299 527 283 541 277 577 255 617 237 629 237 635 243 643 259 643 263 653 279 663 285 673 287 693 281 703 275 721 271 739 263 745 263 763 255 773 255 789 249 805 249 821 255 831 251 863 247 875 241 885 231 899 223 915 209 921 209 929 213 939 223 957 231 999 231 1013 225 1019 219 1025 207 1027 189 1029 187 1029 169 1031 167Z"/>
<path fill="#f1e36b" fill-rule="evenodd" d="M1823 1359 1795 1343 1765 1333 1735 1319 1725 1319 1715 1327 1705 1345 1701 1357 1701 1367 1709 1375 1727 1385 1739 1397 1741 1409 1721 1449 1681 1509 1667 1523 1655 1525 1639 1517 1617 1499 1611 1497 1601 1499 1577 1521 1569 1535 1557 1547 1553 1555 1525 1585 1489 1613 1475 1627 1465 1633 1455 1649 1451 1683 1443 1693 1431 1695 1409 1683 1399 1683 1355 1709 1347 1717 1345 1729 1353 1743 1353 1747 1395 1825 1403 1835 1411 1839 1419 1839 1475 1813 1529 1775 1557 1761 1579 1747 1603 1723 1609 1713 1613 1699 1613 1687 1611 1685 1611 1659 1613 1655 1623 1647 1659 1647 1671 1641 1709 1601 1735 1555 1757 1523 1761 1513 1769 1503 1781 1479 1791 1465 1819 1409 1829 1377 1829 1371ZM57 1123 47 1131 35 1151 31 1165 31 1199 33 1201 35 1219 41 1235 43 1249 51 1271 63 1325 77 1357 85 1369 101 1385 113 1393 149 1409 161 1421 169 1441 169 1453 167 1455 167 1463 163 1475 163 1489 161 1491 163 1493 165 1513 175 1533 189 1553 219 1583 249 1607 283 1641 293 1649 307 1655 315 1661 339 1685 349 1701 359 1711 367 1715 375 1715 385 1711 401 1695 427 1661 445 1643 451 1633 453 1623 447 1611 435 1599 417 1589 407 1589 381 1613 373 1617 361 1613 321 1571 315 1559 295 1533 295 1521 297 1517 329 1489 333 1481 333 1467 329 1457 317 1441 309 1425 289 1399 255 1331 247 1309 247 1303 243 1297 239 1281 229 1259 197 1217 195 1207 205 1179 205 1167 203 1165 203 1145 193 1119 185 1111 179 1109 123 1109 121 1111 105 1111 103 1113 81 1115ZM1779 575 1699 617 1687 627 1683 637 1691 657 1697 667 1707 677 1711 679 1721 679 1745 669 1755 669 1767 679 1779 703 1791 739 1791 745 1797 757 1797 763 1805 783 1805 791 1809 803 1809 815 1805 821 1795 827 1789 827 1771 833 1759 843 1755 853 1755 871 1757 873 1755 891 1757 893 1757 905 1759 907 1761 931 1763 933 1763 979 1765 981 1763 987 1763 1007 1761 1009 1763 1055 1771 1073 1785 1091 1785 1103 1765 1125 1759 1137 1759 1151 1757 1153 1753 1177 1759 1193 1773 1203 1785 1207 1803 1209 1837 1219 1845 1219 1847 1221 1875 1223 1887 1217 1899 1205 1909 1181 1911 1159 1913 1157 1915 1103 1917 1101 1917 1089 1919 1087 1919 1079 1925 1059 1927 1031 1925 1029 1925 1013 1915 989 1897 971 1889 967 1877 955 1873 941 1877 931 1893 917 1911 897 1917 881 1917 863 1915 861 1915 853 1911 839 1901 819 1889 803 1881 785 1859 717 1851 701 1847 685 1839 669 1833 649 1799 585 1793 579 1785 575ZM315 395 303 391 295 391 277 399 269 405 221 451 173 511 159 533 149 559 149 583 155 603 159 609 159 617 161 619 159 629 147 643 123 649 105 659 95 671 87 687 77 719 75 765 73 767 73 775 71 777 71 785 67 797 67 807 63 817 61 843 59 845 59 853 55 865 55 883 53 885 51 915 49 917 49 929 47 931 47 979 49 981 49 989 55 1001 67 1009 73 1011 155 1011 165 1007 173 999 179 981 179 961 177 957 163 947 143 945 133 941 127 935 123 923 125 921 127 893 131 881 131 865 139 839 139 827 147 805 149 791 157 779 175 779 193 785 211 785 225 773 239 741 243 725 255 701 257 691 273 659 293 637 307 609 315 599 319 587 319 559 321 553 327 547 343 545 359 539 389 507 399 491 395 473 387 461 343 417 333 411ZM1145 117 1137 137 1137 143 1133 153 1133 169 1125 197 1125 219 1133 229 1163 239 1177 239 1185 233 1191 221 1197 199 1205 191 1221 191 1281 211 1305 223 1309 223 1319 229 1337 235 1351 247 1353 253 1335 293 1335 307 1343 319 1377 341 1395 349 1403 355 1415 359 1443 379 1483 421 1501 433 1515 439 1557 439 1565 443 1571 453 1569 467 1567 469 1567 489 1575 503 1609 539 1621 541 1651 525 1691 493 1705 485 1717 471 1721 461 1721 447 1711 425 1679 385 1597 301 1579 287 1555 275 1533 275 1531 277 1523 277 1511 281 1503 281 1493 277 1483 265 1479 227 1475 221 1455 203 1423 187 1389 177 1339 155 1317 149 1301 141 1265 129 1259 129 1245 123 1239 123 1189 109 1181 109 1179 107 1159 107 1153 109ZM1029 107 1023 95 1005 79 993 75 983 75 981 73 931 73 929 75 895 75 893 77 843 79 807 89 787 101 775 113 763 133 753 143 745 147 729 147 723 145 709 133 691 123 683 123 681 121 659 123 633 133 587 165 521 201 505 213 479 227 419 269 397 291 393 297 393 309 445 375 465 391 475 391 501 373 511 359 505 341 491 321 493 309 501 301 529 281 543 275 579 253 615 237 625 235 637 245 645 265 651 275 659 283 679 285 697 279 707 273 719 271 725 267 743 263 761 255 769 255 793 247 801 247 813 253 827 253 839 249 861 247 877 239 913 207 923 207 947 227 961 231 995 231 997 229 1003 229 1011 225 1019 217 1025 203 1027 177 1029 175 1029 147 1031 145 1031 117 1029 115Z"/>
<path fill="#f2e661" fill-rule="evenodd" d="M1819 1357 1789 1341 1769 1335 1739 1321 1727 1319 1719 1323 1703 1351 1701 1365 1709 1375 1719 1379 1737 1393 1741 1399 1741 1411 1731 1427 1719 1453 1683 1507 1667 1523 1663 1525 1653 1525 1641 1519 1615 1499 1603 1499 1599 1501 1579 1519 1547 1563 1519 1591 1509 1597 1461 1639 1455 1651 1453 1683 1447 1693 1441 1697 1431 1697 1413 1685 1401 1683 1375 1697 1349 1715 1345 1723 1347 1733 1373 1785 1381 1795 1393 1821 1407 1837 1417 1839 1429 1835 1455 1821 1459 1821 1463 1817 1477 1811 1491 1799 1527 1775 1575 1749 1599 1727 1609 1711 1611 1705 1609 1659 1613 1651 1623 1645 1639 1645 1641 1647 1661 1645 1675 1637 1705 1605 1725 1573 1729 1563 1775 1491 1819 1407 1827 1383 1827 1367ZM59 1123 45 1135 37 1149 33 1163 31 1185 33 1187 35 1211 37 1213 43 1243 47 1251 49 1265 53 1273 63 1321 71 1343 85 1367 105 1387 123 1397 145 1405 163 1421 169 1433 169 1441 171 1443 167 1469 163 1479 163 1503 177 1535 187 1549 289 1645 311 1657 341 1687 357 1709 369 1715 387 1709 421 1671 425 1663 443 1645 453 1627 453 1623 445 1609 439 1603 417 1589 405 1591 387 1609 375 1617 363 1615 319 1569 313 1557 299 1541 293 1529 295 1519 307 1507 319 1499 331 1485 333 1479 331 1461 319 1445 315 1435 303 1419 301 1413 283 1389 279 1377 275 1373 275 1369 271 1365 271 1361 263 1349 263 1345 251 1323 247 1305 231 1263 215 1239 195 1217 195 1201 203 1185 205 1169 203 1167 201 1141 191 1117 183 1111 177 1111 175 1109 141 1109 139 1111 95 1113 93 1115 75 1117ZM1775 577 1707 613 1691 623 1685 631 1685 643 1699 669 1705 675 1713 679 1719 679 1751 667 1757 669 1769 681 1779 701 1791 737 1791 743 1797 755 1797 761 1805 781 1805 789 1809 801 1809 817 1797 827 1777 831 1769 835 1759 845 1755 855 1755 865 1757 867 1757 903 1759 905 1761 927 1763 929 1763 975 1765 977 1765 987 1763 989 1763 1053 1769 1069 1787 1091 1787 1103 1763 1129 1759 1141 1759 1155 1755 1165 1755 1183 1759 1191 1767 1199 1787 1207 1807 1209 1831 1217 1871 1223 1885 1217 1895 1209 1905 1191 1909 1179 1915 1095 1917 1093 1917 1083 1925 1055 1925 1019 1923 1017 1921 1003 1911 985 1903 977 1887 967 1873 953 1871 939 1873 933 1909 899 1915 885 1915 857 1913 855 1911 841 1901 821 1889 805 1883 793 1879 777 1875 771 1869 749 1863 737 1859 719 1847 693 1843 677 1839 671 1831 647 1801 589 1789 577ZM307 393 291 393 279 399 249 423 219 455 205 475 173 513 157 539 149 563 149 579 163 619 161 631 151 643 141 647 127 649 109 657 99 667 87 689 77 725 77 757 75 759 75 771 73 773 69 803 67 805 67 813 63 825 63 839 61 841 61 849 57 861 55 895 53 897 53 909 51 911 51 923 49 925 49 947 47 949 47 957 49 959 49 985 55 999 69 1009 75 1009 77 1011 151 1011 167 1005 175 995 177 977 179 975 179 963 175 955 161 947 139 945 131 941 123 929 123 915 125 913 125 901 129 887 129 873 131 871 131 863 137 845 139 825 147 803 149 789 151 785 161 777 179 779 197 785 209 785 223 775 233 755 235 745 239 739 241 729 247 719 259 685 271 665 271 661 291 639 317 593 319 553 327 545 349 543 361 537 397 495 397 481 389 465 351 425 329 409 319 399ZM1147 115 1139 133 1139 139 1133 157 1133 173 1127 191 1125 213 1131 227 1159 237 1175 239 1185 231 1191 219 1191 213 1197 197 1207 189 1217 189 1283 211 1345 239 1353 249 1353 257 1335 295 1335 305 1339 313 1351 325 1431 369 1439 375 1481 419 1505 435 1517 439 1559 437 1567 441 1573 451 1573 457 1567 475 1567 487 1573 499 1607 537 1611 539 1625 539 1655 521 1687 495 1701 487 1715 473 1721 459 1721 449 1709 423 1687 395 1593 299 1575 285 1553 275 1537 275 1509 283 1495 281 1489 277 1481 265 1481 237 1479 235 1479 229 1473 219 1453 203 1421 187 1381 175 1341 157 1325 153 1303 143 1243 123 1235 123 1219 117 1195 113 1185 109 1173 109 1171 107 1155 109ZM1029 111 1021 93 1013 85 1003 79 989 75 973 75 971 73 945 73 943 75 915 75 913 77 849 79 847 81 837 81 835 83 815 87 791 99 773 117 765 133 751 147 745 149 729 149 715 141 701 129 687 123 663 123 661 125 655 125 621 141 589 165 523 201 507 213 481 227 439 257 433 259 399 289 395 295 393 307 405 325 417 337 427 353 459 387 467 391 473 391 485 385 509 363 509 351 503 339 491 323 491 311 505 297 531 279 545 273 581 251 619 235 629 235 637 243 647 267 661 283 677 285 705 275 711 271 717 271 759 255 767 255 791 247 803 247 815 253 825 253 827 251 865 245 893 225 903 213 915 203 925 205 945 225 955 229 1001 229 1007 227 1017 219 1025 197 1027 161 1029 159Z"/>
<path fill="#f4e957" fill-rule="evenodd" d="M1821 1359 1797 1345 1767 1335 1743 1323 1723 1321 1715 1329 1707 1343 1707 1347 1703 1353 1703 1367 1705 1371 1729 1385 1739 1395 1743 1407 1721 1451 1707 1469 1703 1479 1679 1513 1669 1523 1659 1527 1643 1521 1615 1499 1603 1499 1599 1501 1575 1525 1551 1559 1517 1593 1507 1599 1461 1639 1455 1655 1455 1683 1453 1689 1445 1697 1433 1699 1427 1697 1411 1685 1397 1685 1351 1713 1345 1723 1347 1731 1397 1827 1405 1835 1409 1837 1421 1837 1465 1817 1525 1775 1561 1757 1579 1745 1601 1723 1611 1703 1611 1689 1609 1687 1609 1675 1607 1673 1607 1657 1609 1653 1621 1643 1659 1645 1671 1639 1699 1611 1711 1595 1729 1561 1741 1545 1743 1539 1775 1489 1817 1409 1827 1381 1827 1367ZM61 1123 45 1137 39 1147 35 1159 35 1167 33 1169 33 1191 35 1193 35 1205 39 1215 39 1223 43 1231 47 1253 51 1261 51 1267 59 1291 63 1317 77 1353 89 1371 99 1381 113 1391 151 1407 165 1421 171 1435 171 1457 169 1459 169 1465 165 1475 165 1485 163 1487 165 1507 177 1533 195 1557 233 1593 247 1603 283 1639 299 1651 309 1655 343 1689 347 1697 361 1711 365 1713 379 1713 397 1699 403 1689 419 1673 423 1665 441 1647 451 1631 451 1619 431 1597 415 1589 405 1591 383 1613 375 1617 363 1615 345 1599 337 1587 319 1569 311 1555 295 1535 293 1529 295 1519 309 1505 325 1493 331 1485 333 1471 327 1455 315 1439 311 1429 287 1397 259 1341 259 1337 251 1323 247 1305 243 1299 231 1263 217 1243 197 1223 193 1215 193 1203 205 1175 203 1171 201 1143 193 1121 181 1111 117 1111 115 1113 99 1113 97 1115 79 1117ZM1777 577 1695 621 1685 633 1685 641 1695 661 1703 673 1709 677 1723 677 1747 667 1755 667 1767 677 1781 705 1791 735 1791 741 1797 753 1797 759 1805 779 1807 797 1811 807 1811 813 1805 823 1793 829 1779 831 1771 835 1761 843 1757 851 1757 899 1759 901 1761 925 1763 927 1763 969 1765 971 1765 991 1763 993 1763 1049 1769 1067 1789 1091 1791 1099 1787 1107 1765 1127 1761 1135 1759 1157 1755 1169 1755 1181 1761 1193 1777 1203 1791 1207 1811 1209 1845 1219 1875 1221 1887 1215 1897 1205 1907 1183 1909 1159 1911 1157 1913 1101 1915 1099 1917 1077 1923 1059 1925 1027 1923 1025 1921 1005 1913 989 1901 977 1875 959 1869 947 1869 939 1873 929 1881 921 1897 911 1909 897 1915 881 1915 861 1907 833 1889 807 1881 791 1857 717 1849 701 1845 685 1841 679 1829 645 1797 585 1787 577ZM305 393 293 393 281 399 255 419 227 447 195 489 177 509 159 537 151 559 151 583 165 619 163 633 155 643 147 647 123 651 111 657 97 671 89 687 79 719 77 767 75 769 71 799 69 801 69 809 65 821 65 833 63 835 63 845 61 847 59 867 57 869 55 905 53 907 51 933 49 935 49 975 51 977 51 989 57 1001 71 1009 105 1009 107 1011 119 1011 121 1009 157 1009 165 1005 173 997 177 983 177 971 179 969 177 959 165 949 133 943 123 931 123 909 125 907 125 895 129 883 129 867 131 865 131 859 137 841 137 831 139 829 151 783 159 777 173 777 175 779 205 785 207 783 213 783 225 771 235 749 243 723 253 703 255 693 271 661 293 635 299 621 315 597 317 591 317 553 319 549 327 543 347 543 357 539 379 517 397 493 397 483 393 473 371 447 347 423 317 399ZM1147 117 1137 143 1135 165 1133 167 1133 175 1127 195 1127 219 1133 227 1161 237 1177 237 1183 233 1189 223 1195 199 1205 189 1219 189 1285 211 1317 227 1327 229 1343 237 1353 247 1353 259 1337 291 1337 299 1335 301 1341 315 1355 327 1365 331 1397 351 1417 359 1435 371 1477 415 1499 431 1511 437 1521 437 1523 439 1533 439 1547 435 1561 435 1565 437 1575 449 1575 457 1567 481 1569 491 1575 501 1595 521 1605 535 1613 539 1623 539 1651 523 1667 509 1707 481 1715 471 1719 463 1719 445 1709 425 1691 401 1617 323 1587 295 1563 279 1545 275 1543 277 1533 277 1505 285 1491 281 1483 273 1479 263 1479 233 1475 223 1455 205 1433 193 1379 175 1339 157 1317 151 1295 141 1265 131 1259 131 1239 123 1231 123 1215 117 1199 115 1181 109 1157 109ZM1027 107 1023 97 1009 83 995 77 987 77 985 75 929 75 927 77 897 77 895 79 857 79 855 81 833 83 807 91 787 103 773 119 765 135 751 149 745 151 729 151 713 141 703 131 685 123 659 125 633 135 597 161 525 201 509 213 479 229 473 235 455 245 415 275 397 293 393 305 403 321 449 377 463 389 469 391 481 387 501 371 509 361 509 353 489 319 491 309 501 299 523 283 547 271 561 261 617 235 629 235 639 245 643 257 653 275 663 283 675 285 689 281 709 271 715 271 733 263 751 259 757 255 773 253 789 247 803 247 817 253 823 253 825 251 833 251 845 247 857 247 869 243 887 229 913 201 923 201 943 223 957 229 999 229 1009 225 1017 217 1023 201 1025 173 1027 171 1027 141 1029 139Z"/>
<path fill="#f6ec4d" fill-rule="evenodd" d="M1817 1357 1795 1345 1751 1329 1735 1321 1725 1321 1721 1323 1707 1345 1707 1349 1703 1355 1703 1367 1711 1375 1727 1383 1741 1397 1743 1409 1723 1449 1683 1509 1667 1525 1655 1527 1645 1523 1621 1503 1613 1499 1605 1499 1597 1503 1575 1525 1573 1531 1563 1541 1553 1557 1515 1595 1505 1601 1463 1637 1457 1647 1457 1657 1455 1659 1455 1665 1457 1667 1455 1689 1447 1699 1443 1701 1433 1701 1409 1685 1399 1685 1373 1699 1367 1705 1357 1709 1347 1719 1349 1735 1363 1763 1367 1767 1367 1771 1375 1787 1383 1797 1395 1823 1403 1833 1411 1837 1419 1837 1467 1815 1527 1773 1575 1747 1597 1727 1609 1707 1609 1681 1605 1669 1605 1657 1609 1649 1615 1643 1621 1641 1631 1641 1643 1645 1657 1645 1675 1635 1709 1597 1733 1553 1755 1521 1759 1511 1791 1459 1817 1407 1827 1375 1825 1365ZM59 1125 41 1145 35 1165 35 1197 37 1199 43 1233 47 1241 49 1255 53 1263 53 1269 61 1295 61 1303 63 1305 67 1327 79 1355 87 1367 103 1383 119 1393 123 1393 151 1405 167 1421 173 1435 173 1453 165 1479 165 1503 179 1535 191 1551 221 1581 251 1605 291 1645 309 1655 345 1691 351 1701 359 1709 367 1713 377 1713 385 1709 417 1675 429 1657 445 1641 451 1629 451 1619 433 1599 413 1589 403 1593 377 1617 365 1617 343 1597 333 1583 317 1567 311 1555 297 1539 293 1531 293 1523 297 1515 313 1503 329 1487 333 1475 331 1463 305 1423 303 1417 287 1397 255 1333 255 1329 247 1313 243 1295 239 1289 239 1283 227 1257 215 1241 195 1223 191 1215 193 1199 203 1181 201 1145 191 1119 187 1115 177 1111 131 1111 129 1113 93 1115ZM1779 577 1699 619 1691 625 1687 631 1687 645 1697 663 1707 675 1711 677 1723 677 1745 667 1755 667 1769 679 1781 703 1793 739 1793 745 1805 777 1807 793 1811 803 1811 815 1803 825 1769 837 1761 845 1757 853 1757 897 1759 899 1761 923 1765 937 1763 1047 1765 1049 1765 1057 1771 1069 1791 1091 1793 1101 1791 1105 1771 1121 1761 1137 1761 1149 1759 1151 1759 1161 1757 1163 1755 1177 1759 1189 1767 1197 1779 1203 1793 1205 1795 1207 1805 1207 1837 1217 1873 1221 1883 1217 1895 1207 1901 1197 1907 1179 1913 1093 1915 1091 1917 1073 1923 1055 1923 1019 1921 1017 1919 1003 1913 991 1897 975 1879 965 1871 957 1867 947 1867 939 1871 929 1879 921 1895 911 1907 899 1913 887 1915 867 1913 865 1913 855 1907 835 1889 809 1881 793 1877 777 1873 771 1867 749 1861 737 1857 719 1851 709 1849 699 1845 693 1841 677 1837 671 1829 647 1799 589 1789 579ZM307 395 291 395 279 401 259 417 223 453 171 519 159 539 151 561 153 587 167 619 165 633 155 645 147 649 127 651 107 661 97 673 87 695 79 723 79 761 77 763 77 773 75 775 75 783 71 795 71 805 67 815 65 841 63 843 63 851 59 863 57 899 55 901 55 913 53 915 53 927 51 929 51 983 57 999 69 1007 75 1009 153 1009 167 1003 171 999 175 989 175 979 177 977 177 961 171 953 157 947 135 945 125 937 121 927 129 865 131 863 135 839 137 837 137 827 145 805 145 797 149 785 157 777 163 775 185 779 193 783 211 783 223 773 239 737 245 717 251 707 253 697 269 663 279 649 291 637 303 613 315 595 317 589 317 567 315 565 317 547 321 543 327 543 329 541 341 543 359 537 385 509 397 491 395 479 391 471 343 421 333 415 321 403ZM1149 115 1139 139 1139 145 1135 155 1135 171 1133 173 1133 179 1129 189 1129 199 1127 201 1127 217 1131 225 1137 229 1149 231 1157 235 1175 237 1185 229 1191 215 1195 197 1203 189 1213 187 1283 209 1319 227 1329 229 1341 235 1353 245 1355 251 1353 261 1337 293 1337 307 1345 319 1373 337 1427 365 1445 379 1485 421 1503 433 1513 437 1539 437 1551 433 1567 435 1577 447 1577 455 1569 475 1569 489 1579 505 1609 537 1619 539 1633 533 1655 519 1663 511 1703 483 1713 473 1719 461 1717 441 1707 423 1681 391 1593 301 1569 283 1555 277 1537 277 1513 285 1495 285 1485 279 1479 269 1479 263 1477 261 1477 255 1479 253 1479 235 1471 219 1457 207 1421 189 1387 179 1337 157 1325 155 1293 141 1287 141 1243 125 1235 125 1213 117 1195 115 1175 109 1159 109ZM1025 103 1013 87 999 79 993 79 991 77 943 75 941 77 915 77 913 79 869 79 867 81 849 81 847 83 827 85 797 97 777 115 763 141 757 147 745 153 729 153 721 149 695 127 679 125 677 123 675 125 661 125 631 137 599 161 555 185 551 189 537 195 517 207 511 213 481 229 469 239 451 249 421 271 397 295 395 307 407 325 419 337 429 353 461 387 465 389 475 389 497 373 507 363 509 357 505 345 489 321 489 311 505 295 525 281 571 257 575 253 615 235 621 235 623 233 631 235 641 247 641 251 651 271 661 281 665 283 683 283 703 273 763 253 779 251 787 247 805 247 811 251 831 251 833 249 853 247 867 243 875 239 891 225 905 205 915 197 925 199 935 213 945 223 953 227 959 227 961 229 995 229 997 227 1003 227 1015 219 1023 197 1025 157 1027 155 1027 111 1025 109Z"/>
<path fill="#f7ef43" fill-rule="evenodd" d="M1819 1359 1793 1345 1769 1337 1739 1323 1733 1323 1731 1321 1723 1323 1717 1329 1707 1347 1707 1351 1703 1357 1703 1365 1707 1371 1731 1385 1741 1395 1743 1399 1743 1411 1721 1453 1707 1471 1703 1481 1685 1507 1667 1525 1663 1527 1653 1527 1641 1521 1617 1501 1611 1499 1601 1501 1577 1523 1553 1557 1527 1585 1463 1637 1457 1649 1457 1689 1447 1701 1443 1703 1433 1703 1423 1697 1415 1689 1407 1685 1401 1685 1371 1701 1349 1717 1347 1729 1355 1743 1355 1747 1397 1825 1407 1835 1413 1837 1423 1835 1469 1813 1525 1773 1561 1755 1581 1741 1601 1721 1609 1705 1609 1687 1607 1685 1607 1677 1603 1665 1605 1651 1615 1641 1621 1639 1637 1641 1647 1645 1661 1643 1671 1637 1697 1611 1709 1595 1727 1561 1739 1545 1759 1509 1767 1499 1779 1475 1789 1461 1815 1409 1825 1381 1825 1367ZM61 1125 47 1137 39 1153 37 1171 35 1173 35 1185 37 1187 39 1211 41 1213 47 1243 51 1251 51 1257 55 1265 67 1323 79 1353 97 1377 121 1393 147 1401 159 1409 169 1421 175 1437 175 1449 167 1475 165 1499 173 1523 187 1545 229 1587 245 1599 295 1647 315 1659 341 1685 347 1695 363 1711 377 1713 385 1709 421 1669 425 1661 443 1643 451 1629 451 1621 445 1611 435 1601 417 1591 407 1591 381 1615 373 1619 361 1615 321 1573 309 1553 297 1539 293 1531 293 1521 303 1509 315 1501 329 1487 331 1483 331 1463 297 1409 289 1401 283 1387 279 1383 279 1379 271 1367 271 1363 253 1329 245 1301 241 1295 237 1279 229 1261 219 1247 201 1231 191 1219 189 1207 203 1179 201 1147 193 1123 181 1113 143 1111 141 1113 95 1115ZM1777 579 1695 623 1687 633 1687 643 1705 673 1713 677 1719 677 1737 669 1753 665 1761 669 1769 677 1781 701 1795 743 1795 749 1799 755 1799 761 1805 775 1809 799 1811 801 1811 817 1809 821 1797 829 1773 835 1763 843 1757 855 1757 873 1759 875 1757 879 1757 895 1759 897 1761 921 1765 933 1763 1043 1765 1045 1765 1055 1769 1065 1795 1095 1795 1103 1767 1127 1761 1139 1761 1155 1757 1165 1757 1183 1763 1193 1781 1203 1799 1205 1833 1215 1871 1221 1885 1215 1897 1203 1905 1185 1907 1165 1909 1163 1911 1101 1913 1099 1915 1077 1921 1061 1923 1025 1921 1023 1921 1011 1911 989 1901 979 1879 967 1869 957 1865 947 1865 939 1869 929 1879 919 1901 905 1909 895 1909 891 1913 885 1913 859 1911 857 1907 837 1895 817 1889 811 1879 791 1877 779 1873 773 1867 751 1863 745 1855 717 1847 701 1843 685 1839 679 1827 645 1795 585 1787 579ZM305 395 287 397 251 425 221 457 215 467 175 515 159 541 151 567 153 583 169 621 167 635 163 641 153 649 125 653 111 659 99 671 91 687 81 719 79 769 77 771 73 801 67 821 67 835 65 837 65 847 61 859 59 893 57 895 53 937 51 939 53 989 57 997 71 1007 81 1007 83 1009 145 1009 147 1007 157 1007 171 997 175 987 175 975 177 973 177 963 175 959 161 949 133 945 123 935 121 929 121 913 123 911 123 899 127 885 127 869 129 867 129 861 135 843 135 835 137 833 137 825 143 809 147 789 151 781 161 775 171 775 197 783 209 783 221 775 229 761 255 691 271 659 291 637 299 619 315 595 315 589 317 587 315 559 313 557 315 545 321 541 349 541 357 537 381 513 395 493 395 481 387 467 353 431 317 401ZM1149 117 1141 135 1141 141 1137 151 1135 175 1129 193 1129 221 1135 227 1173 237 1183 231 1191 211 1193 199 1197 193 1205 187 1219 187 1285 209 1307 221 1311 221 1345 237 1353 245 1355 257 1337 297 1337 305 1341 313 1351 323 1363 331 1395 347 1399 351 1419 359 1425 365 1431 367 1441 375 1483 419 1507 435 1533 437 1553 431 1561 431 1571 435 1579 447 1579 455 1569 477 1569 487 1575 499 1593 517 1599 527 1607 535 1611 537 1623 537 1651 521 1685 493 1699 485 1715 469 1719 459 1719 449 1711 431 1689 401 1611 319 1579 291 1559 279 1541 277 1511 287 1495 287 1487 283 1477 269 1477 231 1473 223 1461 211 1449 203 1429 193 1379 177 1339 159 1317 153 1295 143 1283 141 1277 137 1259 133 1239 125 1231 125 1209 117 1199 117 1181 111 1155 111ZM1025 107 1021 97 1009 85 997 79 989 79 987 77 891 79 889 81 857 81 855 83 831 85 811 91 795 99 781 111 763 143 757 149 745 155 729 155 721 151 705 135 687 125 665 125 663 127 657 127 629 139 591 167 529 201 453 249 409 283 397 297 395 305 405 321 415 331 427 349 463 387 471 389 489 379 499 371 507 361 507 351 489 323 487 317 489 315 489 309 501 297 523 281 577 253 581 249 613 235 619 235 621 233 633 235 639 243 653 273 667 283 681 283 707 271 719 269 731 263 761 253 777 251 785 247 795 247 797 245 799 247 807 247 813 251 829 251 831 249 867 243 877 237 897 217 903 205 913 195 923 195 933 205 939 217 949 225 955 227 1001 227 1015 217 1021 201 1023 171 1025 169 1025 139 1027 137Z"/>
<path fill="#f9f239" fill-rule="evenodd" d="M1817 1359 1787 1343 1767 1337 1737 1323 1725 1323 1721 1325 1707 1349 1703 1363 1711 1373 1729 1383 1743 1397 1745 1407 1723 1451 1679 1515 1665 1527 1651 1527 1643 1523 1615 1501 1607 1499 1599 1503 1579 1521 1571 1535 1559 1547 1549 1563 1521 1591 1511 1597 1475 1629 1465 1635 1457 1651 1459 1689 1451 1701 1443 1705 1435 1705 1429 1703 1411 1687 1403 1685 1375 1699 1351 1715 1347 1727 1353 1737 1353 1741 1363 1761 1367 1765 1375 1785 1383 1795 1395 1821 1405 1833 1409 1835 1421 1835 1471 1811 1517 1777 1575 1745 1595 1727 1603 1717 1609 1701 1605 1673 1601 1663 1601 1657 1605 1647 1611 1641 1621 1637 1641 1641 1643 1643 1659 1643 1675 1633 1707 1597 1727 1559 1749 1527 1759 1507 1767 1497 1779 1473 1789 1459 1811 1415 1825 1377 1825 1369ZM59 1127 47 1139 41 1151 39 1165 37 1167 37 1193 39 1195 39 1205 41 1207 51 1253 55 1261 55 1267 63 1293 67 1319 79 1351 91 1369 103 1381 119 1391 153 1403 159 1407 169 1419 175 1431 175 1441 177 1443 175 1445 173 1463 167 1479 167 1505 175 1525 193 1551 237 1593 249 1601 291 1643 311 1655 343 1687 349 1697 361 1709 371 1713 381 1711 397 1697 403 1687 419 1671 423 1663 441 1645 449 1633 451 1623 449 1617 441 1607 417 1591 407 1591 379 1617 373 1619 363 1617 319 1571 313 1559 295 1537 293 1521 305 1507 317 1499 327 1489 331 1481 331 1465 301 1415 285 1395 251 1325 231 1265 217 1245 197 1229 189 1217 189 1203 203 1177 201 1149 191 1121 179 1113 121 1113 119 1115 99 1115 97 1117 79 1119ZM1779 579 1699 621 1687 635 1689 645 1695 657 1707 673 1711 675 1723 675 1747 665 1755 665 1771 679 1781 699 1795 741 1795 747 1799 753 1799 759 1807 779 1807 787 1809 789 1809 797 1813 809 1811 819 1803 827 1771 837 1761 847 1757 859 1757 865 1759 867 1759 885 1757 891 1759 893 1759 905 1761 907 1761 917 1765 931 1765 1009 1763 1011 1765 1053 1771 1067 1797 1093 1797 1103 1787 1113 1779 1117 1763 1135 1761 1157 1757 1167 1757 1181 1767 1195 1783 1203 1803 1205 1805 1207 1827 1211 1835 1215 1845 1215 1857 1219 1875 1219 1881 1217 1893 1207 1905 1181 1907 1149 1909 1147 1911 1093 1913 1091 1913 1081 1921 1055 1921 1015 1917 1001 1911 991 1899 979 1877 967 1867 957 1863 939 1867 929 1877 919 1895 909 1909 893 1913 881 1913 863 1905 835 1887 809 1879 793 1875 777 1871 771 1865 749 1859 737 1857 725 1845 699 1841 683 1837 677 1835 667 1825 647 1825 643 1795 587 1789 581ZM309 397 303 395 289 397 257 421 227 451 213 471 179 511 161 539 153 561 153 581 171 621 169 635 167 639 153 651 121 655 107 663 99 673 91 689 81 723 81 763 79 765 79 775 77 777 77 785 73 797 73 807 69 817 67 843 65 845 63 865 61 867 61 885 59 887 57 917 53 931 53 983 55 985 55 991 61 1001 73 1007 155 1007 169 999 173 991 173 981 177 967 173 957 157 949 137 947 129 943 121 933 121 905 123 903 123 893 127 879 127 865 131 857 131 851 135 841 135 829 143 807 147 787 157 775 175 775 191 781 205 783 215 779 223 771 235 745 239 729 251 705 255 689 269 661 289 639 315 593 315 567 311 553 313 543 317 539 335 539 337 541 353 539 365 529 395 493 395 485 389 471 345 425 335 419 323 407ZM1151 115 1141 139 1141 145 1137 155 1137 171 1133 179 1131 197 1129 199 1129 217 1137 227 1149 229 1163 235 1175 235 1183 229 1195 195 1203 187 1221 187 1287 209 1291 213 1295 213 1313 223 1317 223 1349 239 1355 247 1355 261 1339 291 1339 299 1337 301 1343 315 1357 327 1419 359 1437 371 1481 417 1495 425 1501 431 1517 437 1529 437 1557 429 1571 433 1581 445 1581 455 1571 475 1571 491 1579 503 1609 535 1613 537 1627 535 1643 523 1649 521 1681 495 1701 483 1717 463 1717 445 1701 417 1621 331 1583 295 1557 279 1535 279 1509 289 1495 289 1487 285 1477 275 1475 269 1477 233 1471 221 1457 209 1427 193 1387 181 1337 159 1325 157 1303 147 1261 133 1255 133 1243 127 1235 127 1219 121 1195 117 1185 113 1177 113 1175 111 1159 111ZM1025 109 1019 95 1005 83 993 79 981 79 979 77 941 77 939 79 911 79 909 81 847 83 845 85 835 85 833 87 813 91 791 103 775 121 765 143 757 151 743 157 729 157 721 153 699 131 691 127 685 127 683 125 659 127 631 139 593 167 531 201 449 253 417 277 401 293 397 299 397 309 445 369 461 385 465 387 475 387 497 371 507 359 507 353 501 341 487 321 487 313 491 305 525 279 579 251 583 247 611 237 617 233 631 233 639 241 653 271 663 281 679 283 701 273 723 267 729 263 735 263 753 255 759 255 793 245 801 245 813 251 827 251 837 247 849 247 851 245 865 243 873 239 891 223 905 199 915 191 925 193 931 199 937 213 951 225 957 227 999 227 1013 219 1021 197 1023 157 1025 155Z"/>
<path fill="#faf42f" fill-rule="evenodd" d="M1819 1361 1795 1347 1791 1347 1775 1339 1769 1339 1745 1327 1733 1323 1723 1325 1711 1341 1711 1345 1705 1357 1705 1365 1709 1371 1725 1379 1743 1395 1745 1409 1723 1453 1709 1471 1707 1477 1685 1509 1667 1527 1655 1529 1639 1521 1615 1501 1603 1501 1581 1519 1551 1561 1519 1593 1509 1599 1461 1641 1457 1653 1461 1687 1457 1697 1449 1705 1445 1707 1435 1707 1427 1703 1409 1687 1397 1687 1357 1711 1349 1719 1349 1729 1359 1749 1359 1753 1363 1757 1377 1787 1381 1791 1399 1827 1403 1831 1411 1835 1419 1835 1473 1809 1489 1795 1525 1771 1571 1747 1599 1721 1607 1707 1607 1687 1601 1669 1601 1649 1605 1643 1613 1637 1631 1637 1647 1643 1657 1643 1669 1637 1705 1599 1725 1561 1767 1495 1771 1485 1791 1453 1803 1429 1803 1425 1807 1421 1807 1417 1823 1383 1823 1367ZM61 1127 51 1135 41 1153 41 1159 39 1161 39 1197 41 1199 41 1207 43 1209 43 1217 45 1219 49 1241 53 1249 55 1263 61 1279 61 1287 65 1297 69 1323 81 1353 89 1365 107 1383 121 1391 153 1401 159 1405 171 1419 177 1433 177 1453 167 1481 167 1503 177 1527 189 1545 227 1583 255 1605 267 1619 297 1647 309 1653 345 1689 355 1703 367 1711 379 1711 395 1699 401 1689 417 1673 421 1665 439 1647 445 1639 451 1627 451 1623 447 1615 431 1599 415 1591 405 1593 383 1615 375 1619 363 1617 343 1599 337 1589 317 1569 311 1557 293 1533 293 1519 325 1491 331 1481 331 1465 295 1407 287 1399 255 1335 235 1275 227 1259 187 1217 187 1205 199 1187 203 1175 201 1171 199 1143 191 1123 183 1115 177 1113 135 1113 133 1115 93 1117 91 1119 75 1121ZM1775 581 1749 597 1695 625 1689 633 1689 643 1701 665 1709 673 1721 675 1743 665 1757 665 1771 677 1783 701 1783 707 1791 725 1791 731 1799 751 1803 771 1807 777 1811 803 1813 805 1813 815 1803 827 1773 837 1763 845 1759 853 1759 903 1761 905 1761 915 1765 929 1765 977 1767 979 1767 987 1765 989 1765 1053 1773 1069 1797 1089 1801 1101 1793 1111 1775 1121 1767 1129 1763 1137 1763 1147 1761 1149 1761 1159 1759 1161 1757 1177 1763 1191 1775 1199 1787 1203 1795 1203 1797 1205 1807 1205 1839 1215 1849 1215 1861 1219 1873 1219 1883 1215 1895 1203 1905 1179 1909 1103 1911 1101 1913 1077 1917 1069 1919 1053 1921 1051 1921 1021 1919 1019 1917 1003 1909 989 1895 977 1877 969 1865 957 1861 941 1865 929 1877 917 1893 909 1907 895 1911 887 1911 877 1913 875 1911 857 1905 837 1899 825 1881 801 1855 723 1843 697 1839 681 1835 675 1831 659 1823 645 1823 641 1795 589 1787 581ZM307 397 291 397 283 401 249 429 225 455 211 475 177 515 159 545 153 565 155 585 173 621 171 635 167 643 153 653 117 657 101 671 93 687 83 717 83 729 81 731 83 735 81 771 79 773 79 781 75 791 75 801 73 803 73 811 69 823 69 839 67 841 67 849 63 861 61 897 59 899 59 911 57 913 57 925 55 927 55 945 53 947 55 987 59 997 71 1005 77 1005 79 1007 147 1007 149 1005 157 1005 169 997 173 987 173 975 175 973 175 963 169 955 155 949 133 947 121 935 119 929 121 899 125 887 125 871 127 869 127 863 133 845 133 837 135 835 135 827 143 805 143 797 147 785 153 777 163 773 169 773 195 781 209 781 223 771 233 749 243 719 247 713 247 709 251 703 251 699 255 693 255 689 271 657 287 641 315 593 315 571 309 551 311 541 315 537 331 537 333 539 351 539 355 537 381 511 393 495 395 489 389 473 341 423ZM1151 117 1143 135 1143 141 1139 151 1139 161 1137 163 1137 175 1131 193 1131 221 1135 225 1145 229 1153 229 1159 233 1173 235 1183 227 1195 193 1205 185 1217 185 1243 193 1249 197 1267 201 1273 205 1279 205 1315 223 1319 223 1347 237 1357 249 1355 263 1339 293 1339 307 1345 317 1365 331 1397 347 1401 351 1417 357 1435 369 1477 413 1509 435 1535 435 1559 427 1569 429 1575 433 1583 445 1583 453 1571 477 1571 489 1575 497 1593 515 1599 525 1607 533 1615 537 1629 533 1635 527 1651 519 1685 491 1699 483 1713 469 1717 461 1717 447 1703 421 1685 399 1637 351 1605 315 1571 287 1555 279 1539 279 1507 291 1495 291 1487 287 1475 275 1473 269 1475 243 1477 241 1473 225 1453 207 1425 193 1385 181 1339 161 1311 153 1295 145 1283 143 1271 137 1265 137 1245 129 1239 129 1181 113 1155 113ZM1023 105 1019 97 1007 85 991 79 925 79 923 81 887 81 885 83 839 85 811 93 787 107 775 123 767 143 757 153 743 159 725 157 697 131 689 127 663 127 661 129 655 129 629 141 595 167 533 201 451 253 405 289 399 297 397 305 401 313 421 335 429 349 463 385 471 387 489 377 499 369 505 361 505 351 487 323 487 309 501 295 523 279 537 273 555 261 615 233 627 231 635 235 641 243 655 273 665 281 677 283 705 271 723 267 729 263 759 253 775 251 791 245 803 245 815 251 825 251 835 247 847 247 849 245 865 243 873 239 893 219 907 193 913 189 923 189 927 191 933 199 941 217 953 225 959 227 997 227 1007 223 1013 217 1019 201 1021 171 1023 169 1023 139 1025 137Z"/>
<path fill="#fbf625" fill-rule="evenodd" d="M1815 1359 1805 1355 1801 1351 1797 1351 1783 1343 1767 1339 1743 1327 1725 1325 1717 1333 1711 1343 1705 1363 1711 1371 1723 1377 1739 1389 1745 1397 1747 1407 1727 1447 1687 1507 1667 1527 1663 1529 1653 1529 1641 1523 1613 1501 1603 1501 1577 1525 1553 1559 1517 1595 1497 1609 1481 1625 1471 1631 1463 1639 1459 1647 1461 1693 1449 1707 1445 1709 1435 1709 1427 1705 1411 1689 1399 1687 1377 1699 1351 1717 1349 1727 1355 1739 1355 1743 1367 1763 1375 1783 1383 1793 1391 1811 1395 1815 1395 1819 1407 1833 1411 1835 1423 1833 1471 1809 1493 1791 1505 1785 1527 1769 1575 1743 1595 1725 1607 1705 1607 1691 1599 1667 1599 1649 1601 1645 1613 1635 1629 1635 1651 1643 1653 1641 1659 1641 1673 1633 1701 1603 1719 1573 1725 1559 1743 1533 1759 1503 1767 1493 1781 1465 1791 1451 1791 1447 1815 1401 1823 1377 1823 1367ZM59 1129 49 1139 41 1157 41 1165 39 1167 39 1191 41 1193 41 1203 43 1205 55 1259 63 1283 63 1291 65 1293 71 1327 83 1355 103 1379 119 1389 155 1401 167 1411 175 1423 179 1435 179 1449 169 1477 167 1499 171 1513 179 1529 195 1551 235 1589 249 1599 293 1643 307 1651 361 1707 367 1711 379 1711 399 1693 415 1675 425 1659 443 1641 449 1631 449 1619 433 1601 415 1591 409 1591 377 1619 365 1619 359 1615 325 1579 297 1541 291 1527 293 1519 299 1511 311 1503 329 1485 331 1481 331 1465 315 1441 311 1431 287 1399 255 1335 237 1281 227 1259 209 1239 201 1235 185 1217 187 1201 201 1181 199 1145 191 1123 181 1115 143 1113 141 1115 95 1117 93 1119 77 1121ZM1779 581 1699 623 1689 635 1691 645 1703 667 1715 675 1747 663 1755 663 1769 673 1783 699 1795 735 1795 741 1803 761 1803 767 1811 791 1811 801 1813 803 1813 817 1805 827 1791 833 1783 833 1771 839 1761 849 1759 855 1759 899 1761 901 1761 913 1765 927 1765 973 1767 975 1767 989 1765 991 1765 1051 1771 1065 1783 1077 1793 1083 1803 1095 1803 1103 1793 1113 1779 1119 1767 1131 1763 1139 1763 1155 1759 1163 1759 1183 1769 1195 1783 1201 1811 1205 1833 1213 1871 1219 1885 1213 1893 1205 1903 1183 1905 1157 1907 1155 1909 1093 1919 1057 1921 1031 1919 1029 1917 1005 1911 993 1899 981 1871 967 1865 961 1861 953 1861 933 1869 921 1889 911 1905 897 1911 883 1911 859 1905 839 1899 827 1879 799 1873 777 1869 771 1863 749 1855 731 1855 725 1849 715 1847 705 1843 699 1839 683 1833 673 1827 653 1799 597 1791 585 1785 581ZM305 397 293 397 285 401 257 423 231 449 217 469 183 509 163 539 155 559 155 581 165 603 173 615 173 621 175 623 173 635 169 643 161 651 151 655 127 655 115 659 105 667 93 689 83 721 83 765 81 767 81 777 77 787 77 797 75 799 75 807 71 819 69 847 67 849 65 869 63 871 63 893 61 895 57 937 55 939 55 977 57 979 57 991 65 1001 73 1005 155 1005 161 1003 169 995 173 981 173 961 165 953 131 947 121 937 117 925 119 921 119 909 121 907 121 893 125 883 125 865 129 857 129 851 133 841 133 831 141 809 145 789 149 781 159 773 173 773 197 781 209 781 221 773 235 743 239 727 245 717 255 687 267 663 275 651 291 635 299 617 307 607 315 591 315 575 307 549 307 541 317 533 329 535 337 539 349 539 357 535 383 507 393 493 393 483 387 471 347 429 335 421 313 401ZM1151 119 1143 139 1143 145 1139 155 1139 171 1131 199 1131 217 1137 225 1149 227 1163 233 1175 233 1181 229 1187 217 1189 203 1195 191 1203 185 1221 185 1281 205 1317 223 1339 231 1357 247 1357 259 1343 285 1339 297 1341 311 1359 327 1433 367 1443 375 1487 421 1493 423 1503 431 1511 435 1531 435 1545 431 1551 427 1569 427 1573 429 1585 443 1585 453 1571 481 1573 491 1579 501 1597 519 1603 529 1611 535 1623 535 1643 521 1649 519 1681 493 1701 481 1711 471 1717 459 1717 449 1705 425 1669 383 1593 305 1563 283 1551 279 1533 281 1505 293 1491 291 1477 281 1473 275 1475 231 1469 221 1451 207 1423 193 1377 179 1337 161 1325 159 1297 147 1285 145 1241 129 1233 129 1211 121 1203 121 1175 113 1159 113ZM1023 107 1017 95 1009 87 985 79 937 79 935 81 861 83 859 85 833 87 813 93 793 103 777 121 767 145 757 155 739 161 725 159 719 155 699 133 687 127 667 127 665 129 659 129 627 143 593 169 535 201 513 217 483 233 471 243 459 249 453 255 433 267 407 289 399 301 399 307 453 375 465 385 475 385 497 369 505 359 505 353 499 341 493 335 485 321 485 311 487 307 507 289 525 277 535 273 553 261 613 233 619 233 621 231 633 233 641 241 647 253 647 257 659 277 667 281 683 281 709 269 715 269 757 253 773 251 789 245 803 245 817 251 825 251 835 247 845 247 847 245 863 243 875 237 891 221 903 195 915 185 925 187 933 195 939 213 953 225 967 225 969 227 1001 225 1011 219 1019 197 1021 157 1023 155Z"/>
<path fill="#fcf91b" fill-rule="evenodd" d="M1819 1363 1799 1351 1769 1341 1739 1327 1733 1327 1731 1325 1723 1327 1707 1355 1707 1365 1715 1373 1731 1381 1745 1395 1747 1399 1747 1411 1739 1423 1727 1449 1685 1511 1669 1527 1665 1529 1651 1529 1635 1519 1617 1503 1605 1501 1597 1505 1577 1525 1573 1533 1543 1571 1515 1597 1495 1611 1479 1627 1471 1631 1463 1639 1459 1647 1459 1665 1463 1677 1463 1693 1455 1705 1445 1711 1435 1711 1425 1705 1409 1689 1401 1687 1375 1701 1369 1707 1359 1711 1351 1719 1349 1723 1355 1741 1365 1761 1369 1765 1369 1769 1389 1807 1393 1811 1399 1825 1409 1833 1421 1833 1447 1819 1451 1819 1463 1813 1525 1769 1571 1745 1599 1719 1605 1709 1605 1703 1607 1701 1605 1685 1597 1665 1597 1649 1599 1645 1613 1633 1627 1633 1645 1641 1659 1641 1669 1635 1703 1599 1725 1557 1737 1541 1775 1473 1779 1469 1783 1459 1787 1455 1799 1431 1799 1427 1807 1415 1807 1411 1815 1397 1821 1379 1821 1367ZM61 1129 53 1135 43 1153 43 1159 41 1161 41 1195 43 1197 43 1207 45 1209 55 1255 59 1263 59 1269 65 1287 71 1323 83 1353 91 1365 107 1381 121 1389 155 1399 161 1403 173 1417 179 1431 181 1445 169 1481 169 1505 179 1527 191 1545 227 1581 253 1601 273 1623 299 1647 313 1655 343 1685 357 1703 369 1711 377 1711 385 1707 419 1669 423 1661 441 1643 449 1629 449 1621 443 1611 435 1603 413 1591 401 1597 381 1617 377 1619 365 1619 361 1617 319 1573 313 1561 293 1535 291 1523 295 1515 327 1487 331 1479 331 1467 327 1457 315 1441 299 1413 283 1393 283 1389 279 1385 275 1373 271 1369 271 1365 267 1361 267 1357 263 1353 263 1349 251 1327 239 1287 229 1263 213 1243 197 1233 185 1221 183 1215 185 1203 201 1179 199 1147 191 1125 179 1115 123 1115 121 1117 99 1117 97 1119 79 1121ZM1777 583 1705 621 1691 633 1691 641 1695 647 1695 651 1699 655 1703 665 1709 671 1721 673 1737 665 1753 661 1765 667 1773 677 1783 697 1783 701 1787 707 1787 713 1791 719 1791 725 1795 731 1795 737 1811 787 1811 797 1815 809 1813 819 1803 829 1775 837 1763 847 1759 857 1759 897 1761 899 1761 911 1763 913 1765 939 1767 941 1765 1049 1773 1067 1787 1079 1795 1083 1805 1095 1805 1103 1797 1113 1781 1119 1769 1129 1763 1143 1763 1157 1759 1167 1759 1179 1761 1185 1771 1195 1785 1201 1805 1203 1829 1211 1847 1213 1859 1217 1875 1217 1891 1207 1903 1181 1903 1173 1905 1171 1905 1125 1907 1123 1909 1087 1919 1053 1919 1017 1909 991 1895 979 1875 971 1863 961 1859 951 1859 933 1869 919 1887 911 1905 895 1911 881 1911 865 1909 863 1909 853 1903 835 1877 797 1873 779 1867 769 1867 763 1857 741 1855 729 1839 693 1839 687 1835 681 1823 647 1791 587 1785 583ZM307 399 301 397 289 399 247 433 179 515 165 537 155 561 155 579 175 617 175 635 171 643 157 655 151 655 149 657 123 657 113 661 103 671 97 681 95 691 87 709 85 725 83 727 83 735 85 737 83 773 79 783 77 803 75 805 73 825 71 827 71 843 69 845 67 865 65 867 65 889 63 891 61 919 57 933 57 985 61 995 71 1003 157 1003 165 999 169 993 171 975 173 973 173 963 169 957 153 951 133 949 121 939 117 931 117 915 119 913 119 901 121 899 121 887 123 885 123 871 133 837 133 827 137 819 137 813 141 807 141 799 149 779 157 773 175 773 177 775 205 781 215 777 223 769 233 747 243 717 247 711 247 707 251 701 253 691 269 659 289 637 301 613 313 595 315 579 305 549 305 537 311 531 321 531 335 537 351 537 355 535 379 511 393 491 393 485 387 473 341 425ZM1151 121 1143 143 1141 167 1133 195 1133 219 1139 225 1153 227 1169 233 1177 231 1185 219 1185 213 1191 195 1205 183 1217 183 1273 201 1347 235 1357 245 1357 251 1359 253 1357 255 1357 261 1341 291 1339 303 1343 313 1353 323 1395 345 1399 349 1415 355 1441 373 1485 419 1511 435 1529 435 1553 425 1569 425 1573 427 1587 443 1587 453 1573 477 1573 489 1583 505 1595 515 1601 525 1609 533 1619 535 1629 531 1635 525 1651 517 1685 489 1697 483 1713 467 1717 455 1715 445 1695 413 1629 343 1577 293 1557 281 1537 281 1509 293 1491 293 1481 287 1471 273 1471 257 1473 255 1475 233 1471 225 1453 209 1421 193 1385 183 1339 163 1321 157 1315 157 1299 149 1281 145 1237 129 1227 129 1213 123 1197 121 1177 115 1157 115ZM1021 103 1015 93 1007 87 993 81 977 81 975 79 947 79 945 81 921 81 919 83 875 83 873 85 837 87 805 97 789 107 779 119 769 145 757 157 747 161 727 161 723 159 691 129 685 127 661 129 629 143 595 169 537 201 509 221 483 235 453 255 447 261 433 269 405 293 401 299 401 309 425 337 429 345 443 359 449 369 451 369 461 381 469 385 485 377 503 361 501 347 489 331 483 317 487 305 495 297 523 277 533 273 551 261 611 233 617 233 619 231 631 231 635 233 643 243 655 271 667 281 681 281 703 271 749 257 755 253 771 251 787 245 805 245 811 249 823 251 833 247 863 243 877 235 891 219 903 191 913 183 923 183 931 189 943 217 955 225 999 225 1011 217 1017 201 1019 171 1021 169 1021 143 1023 141 1023 111 1021 109Z"/>
<path fill="#fdfb11" fill-rule="evenodd" d="M1813 1361 1795 1351 1765 1341 1735 1327 1723 1329 1711 1349 1707 1363 1711 1369 1733 1381 1747 1395 1749 1407 1747 1409 1747 1415 1735 1433 1735 1437 1731 1441 1725 1455 1687 1509 1667 1529 1655 1531 1639 1523 1619 1505 1611 1501 1601 1503 1579 1523 1549 1565 1523 1591 1513 1597 1477 1629 1465 1637 1459 1649 1459 1661 1461 1663 1461 1671 1465 1683 1465 1693 1455 1707 1445 1713 1435 1713 1421 1703 1411 1691 1399 1689 1353 1717 1351 1729 1355 1735 1355 1739 1379 1787 1383 1791 1403 1829 1411 1833 1419 1833 1465 1811 1493 1789 1505 1783 1527 1767 1557 1753 1573 1743 1595 1723 1605 1707 1605 1689 1595 1661 1595 1649 1597 1645 1613 1631 1625 1631 1649 1641 1661 1639 1671 1633 1705 1595 1725 1555 1737 1539 1757 1501 1783 1459 1803 1419 1803 1415 1819 1381 1819 1367ZM65 1127 51 1139 43 1155 41 1189 43 1191 43 1201 45 1203 45 1211 47 1213 55 1251 59 1259 59 1265 67 1291 67 1301 69 1303 73 1327 85 1355 95 1369 111 1383 123 1389 149 1395 157 1399 169 1409 177 1421 181 1433 181 1451 169 1483 169 1501 181 1529 197 1551 235 1587 249 1597 295 1643 311 1653 363 1707 371 1711 381 1709 397 1695 401 1687 417 1671 421 1663 441 1643 449 1629 449 1621 429 1599 417 1593 407 1593 379 1619 373 1621 363 1619 345 1603 337 1591 317 1571 311 1559 295 1539 291 1531 293 1517 327 1487 331 1479 331 1467 327 1457 311 1435 309 1429 285 1397 251 1327 231 1267 225 1257 207 1239 195 1233 183 1219 181 1213 187 1197 197 1187 201 1177 199 1151 189 1123 181 1117 171 1117 169 1115 135 1115 133 1117 103 1117 101 1119 91 1119ZM1775 585 1757 597 1705 623 1693 633 1695 647 1705 665 1711 671 1721 671 1745 661 1757 661 1771 671 1779 685 1779 689 1783 693 1783 697 1787 703 1787 709 1791 715 1791 721 1795 727 1795 733 1811 783 1811 795 1815 805 1815 817 1805 829 1795 833 1781 835 1773 839 1763 849 1759 859 1759 865 1761 867 1759 895 1761 897 1761 909 1763 911 1763 921 1767 935 1765 1047 1771 1063 1783 1075 1795 1081 1807 1093 1807 1105 1805 1109 1797 1115 1783 1119 1769 1131 1765 1139 1763 1161 1759 1175 1763 1187 1769 1193 1781 1199 1809 1203 1831 1211 1851 1213 1861 1217 1875 1217 1883 1213 1893 1203 1903 1177 1907 1095 1909 1093 1911 1075 1917 1059 1919 1025 1917 1023 1917 1011 1909 993 1897 981 1869 969 1861 961 1857 949 1857 935 1861 925 1867 919 1889 909 1903 897 1909 885 1909 857 1899 829 1885 813 1877 799 1863 755 1855 739 1855 733 1839 697 1835 681 1831 677 1821 647 1793 593 1785 585ZM305 399 291 399 255 427 225 459 213 477 185 509 167 535 157 557 155 575 165 599 177 617 177 635 169 649 157 657 125 657 119 659 107 667 97 683 85 721 85 767 83 769 79 799 77 801 77 809 73 821 73 843 69 853 69 865 65 879 65 901 63 903 61 933 59 935 59 985 61 987 61 993 71 1001 79 1001 81 1003 145 1003 147 1001 157 1001 167 993 169 989 169 975 171 973 171 963 169 959 155 953 141 953 129 949 119 939 115 929 117 901 121 889 123 865 129 849 133 823 137 817 137 811 141 803 141 795 145 789 145 785 155 773 161 771 179 773 195 779 211 779 221 771 227 761 239 725 245 715 251 695 263 669 267 665 271 655 287 639 297 619 313 595 315 581 313 579 311 565 303 549 303 543 301 541 303 535 309 529 321 529 339 537 349 537 361 529 391 493 391 483 385 471 379 467 337 423 325 415 313 403ZM1153 121 1143 151 1143 165 1141 167 1141 175 1135 195 1135 219 1145 225 1153 225 1159 229 1173 231 1179 227 1185 213 1187 199 1195 187 1205 181 1217 181 1287 205 1321 223 1325 223 1345 233 1359 249 1357 263 1341 293 1341 309 1351 321 1381 339 1419 357 1439 371 1483 417 1507 433 1525 435 1539 431 1555 423 1569 423 1579 429 1589 443 1589 453 1575 475 1573 487 1579 499 1599 519 1607 531 1611 533 1623 533 1643 519 1655 513 1687 487 1701 479 1715 461 1715 447 1699 419 1613 327 1581 297 1555 281 1539 281 1507 295 1493 295 1481 289 1473 281 1469 273 1469 261 1473 249 1473 229 1469 223 1455 211 1419 193 1377 181 1341 165 1317 157 1311 157 1295 149 1289 149 1257 137 1251 137 1245 133 1229 131 1215 125 1207 125 1179 117 1157 117ZM1021 105 1017 97 1003 85 989 81 933 81 931 83 903 83 901 85 857 85 855 87 831 89 811 95 793 105 781 117 769 147 759 157 745 163 727 163 723 161 697 133 689 129 683 129 681 127 663 129 627 145 597 169 553 193 543 201 533 205 515 219 489 233 453 257 421 281 403 299 403 307 409 317 429 339 431 345 445 359 455 373 469 383 483 377 501 361 501 351 483 323 483 309 485 305 511 283 541 265 589 241 593 241 615 231 621 231 623 229 633 231 645 245 649 259 657 273 669 281 681 281 707 269 719 267 725 263 761 251 777 249 785 245 799 243 813 249 829 249 831 247 841 247 843 245 867 241 889 221 897 205 901 191 911 181 925 181 933 189 937 197 939 209 949 221 959 225 997 225 1005 221 1015 207 1017 183 1019 181 1019 159 1021 157Z"/>
<path fill="#fefd07" fill-rule="evenodd" d="M1811 1363 1801 1359 1797 1355 1783 1351 1779 1347 1773 1347 1767 1343 1743 1335 1739 1331 1725 1331 1719 1339 1715 1351 1711 1355 1711 1365 1715 1369 1729 1375 1747 1391 1751 1399 1751 1411 1739 1429 1739 1433 1735 1437 1735 1441 1731 1445 1727 1455 1687 1511 1671 1527 1663 1531 1653 1531 1641 1525 1615 1503 1609 1503 1607 1501 1599 1505 1581 1521 1551 1563 1521 1593 1511 1599 1477 1629 1467 1635 1459 1651 1467 1691 1463 1701 1455 1709 1443 1715 1435 1715 1409 1691 1401 1689 1375 1703 1353 1719 1351 1725 1359 1747 1367 1759 1375 1775 1375 1779 1391 1805 1399 1823 1407 1831 1419 1833 1467 1809 1489 1791 1525 1767 1559 1751 1577 1739 1599 1717 1605 1705 1603 1685 1593 1659 1593 1651 1599 1639 1613 1629 1623 1629 1645 1639 1659 1639 1667 1635 1703 1597 1725 1553 1739 1533 1757 1497 1779 1461 1795 1429 1795 1425 1803 1413 1803 1409 1809 1399 1811 1389 1817 1377 1817 1369ZM57 1133 49 1143 43 1159 43 1195 45 1197 45 1205 47 1207 47 1215 49 1217 55 1247 59 1255 59 1261 67 1287 69 1307 71 1309 71 1317 75 1325 75 1331 87 1357 107 1379 125 1389 145 1393 165 1403 175 1415 183 1435 183 1449 171 1479 171 1487 169 1489 171 1507 177 1521 193 1545 225 1577 253 1599 301 1647 309 1651 361 1705 367 1709 379 1709 383 1707 415 1673 425 1657 429 1655 443 1639 449 1627 449 1623 445 1615 431 1601 415 1593 405 1595 383 1617 375 1621 367 1621 359 1617 315 1569 309 1557 297 1543 291 1531 291 1521 305 1505 325 1489 331 1477 331 1469 325 1455 317 1445 309 1429 285 1397 249 1323 235 1277 227 1261 209 1241 193 1233 181 1219 181 1205 197 1185 201 1175 197 1161 197 1145 191 1127 187 1121 181 1117 143 1115 141 1117 95 1119 93 1121 77 1123ZM1779 587 1759 599 1725 615 1711 625 1707 625 1695 635 1695 641 1703 657 1713 669 1721 669 1737 661 1755 657 1763 661 1775 673 1779 679 1783 693 1787 697 1787 703 1795 721 1795 727 1799 735 1799 743 1803 749 1803 757 1807 765 1813 799 1815 801 1815 819 1809 827 1803 831 1783 835 1771 841 1761 853 1761 887 1759 891 1761 893 1761 907 1763 909 1763 919 1767 933 1765 1045 1771 1063 1779 1071 1803 1085 1809 1093 1809 1107 1801 1115 1791 1117 1779 1123 1769 1133 1765 1143 1761 1179 1763 1185 1771 1193 1779 1197 1819 1205 1833 1211 1843 1211 1845 1213 1871 1217 1881 1213 1891 1205 1901 1183 1901 1175 1903 1173 1903 1149 1905 1147 1903 1131 1905 1129 1907 1089 1917 1055 1917 1015 1909 993 1899 983 1869 971 1861 963 1857 955 1855 937 1859 925 1867 917 1891 907 1905 893 1909 883 1909 861 1899 831 1887 817 1875 797 1869 775 1851 733 1851 727 1843 713 1843 709 1835 693 1835 687 1827 673 1827 667 1819 653 1819 649 1807 625 1803 621 1803 617 1791 599 1791 595 1783 587ZM303 399 293 399 285 403 261 423 229 455 211 481 181 515 169 533 157 559 157 581 179 619 179 633 173 647 165 655 155 659 121 659 113 663 105 671 97 685 85 725 85 737 87 739 85 775 81 785 81 795 79 797 79 807 75 821 73 853 69 867 69 893 65 903 65 923 61 937 61 977 63 979 65 993 69 997 75 999 153 999 159 997 165 991 165 983 169 971 167 961 161 957 137 955 127 951 117 941 113 933 113 917 117 903 117 889 121 879 121 865 125 857 125 851 131 835 131 827 139 807 139 801 145 783 151 775 159 771 173 771 197 779 209 779 219 773 229 755 237 729 251 699 253 689 269 657 287 639 313 593 313 573 299 543 301 531 309 525 315 525 343 537 351 535 375 513 381 503 389 495 391 485 385 473 343 429 333 423 317 407ZM1155 123 1147 147 1145 171 1143 173 1143 179 1139 189 1139 199 1137 201 1137 217 1141 221 1149 221 1171 229 1179 223 1185 197 1191 187 1199 181 1215 179 1217 181 1225 181 1237 185 1243 189 1249 189 1255 193 1261 193 1277 201 1283 201 1287 205 1347 233 1359 247 1357 265 1349 277 1341 295 1341 307 1347 317 1375 335 1409 353 1417 355 1435 367 1451 381 1461 395 1481 415 1509 433 1515 435 1531 433 1557 421 1567 421 1579 427 1587 435 1591 443 1591 451 1589 457 1575 477 1575 489 1579 497 1599 517 1609 531 1621 533 1641 519 1651 515 1683 489 1697 481 1711 467 1715 459 1715 449 1701 423 1683 401 1623 339 1577 295 1563 285 1551 281 1543 281 1529 285 1505 297 1493 297 1481 291 1471 281 1467 273 1469 255 1473 245 1473 231 1457 213 1417 193 1411 193 1363 177 1343 167 1325 161 1319 161 1311 157 1305 157 1299 153 1281 149 1263 141 1255 141 1249 137 1243 137 1235 133 1225 133 1219 129 1213 129 1203 125 1193 125 1185 121 1161 119ZM1021 109 1015 95 1001 85 985 83 983 81 943 81 941 83 915 83 913 85 867 85 865 87 835 89 833 91 825 91 813 95 791 107 781 119 771 147 759 159 741 165 723 163 695 133 687 129 667 129 665 131 659 131 625 147 607 163 589 175 549 197 497 233 481 241 421 285 421 287 407 299 405 305 459 373 467 379 473 379 481 375 499 359 499 353 493 341 481 325 481 319 479 317 481 307 485 301 499 289 545 261 561 253 565 253 591 239 601 237 619 229 631 229 641 237 655 269 665 279 679 281 701 271 729 263 735 259 741 259 759 251 767 251 793 243 801 243 813 249 827 249 829 247 839 247 851 243 861 243 873 237 887 223 893 213 897 195 901 187 911 179 925 179 933 185 937 193 941 211 945 217 951 221 965 225 989 225 991 223 999 223 1009 217 1015 201 1017 173 1019 171 1019 147 1021 145Z"/>
<path fill="#fffd00" fill-rule="evenodd" d="M1763 1459 1739 1447 1731 1459 1727 1461 1715 1477 1711 1479 1691 1507 1665 1531 1651 1531 1643 1527 1623 1509 1613 1503 1603 1503 1599 1505 1577 1527 1553 1561 1519 1595 1499 1609 1463 1641 1461 1645 1461 1663 1467 1681 1467 1697 1455 1711 1443 1717 1435 1717 1407 1691 1397 1691 1355 1719 1353 1727 1361 1749 1367 1757 1373 1769 1373 1773 1391 1807 1405 1829 1415 1833 1427 1829 1435 1823 1469 1807 1485 1793 1527 1765 1561 1749 1573 1741 1595 1721 1603 1709 1605 1695 1591 1657 1593 1645 1605 1631 1613 1627 1623 1627 1647 1639 1657 1639 1671 1631 1703 1595 1727 1547 1743 1523 1743 1519 1747 1515 1747 1511 1751 1505 1755 1491 1759 1487 1767 1465ZM61 1131 51 1141 45 1155 45 1161 43 1163 43 1189 45 1191 45 1201 47 1203 51 1227 55 1235 55 1243 59 1251 59 1257 67 1283 73 1321 87 1355 95 1367 105 1377 123 1387 159 1397 165 1401 175 1413 183 1429 183 1437 185 1439 183 1453 171 1481 171 1505 179 1523 191 1541 211 1563 235 1585 259 1603 293 1639 315 1655 365 1707 369 1709 383 1707 397 1693 405 1681 409 1679 421 1661 441 1641 447 1631 447 1619 433 1603 415 1593 409 1593 377 1621 365 1621 361 1619 319 1575 309 1557 297 1543 291 1531 291 1521 307 1503 323 1491 329 1481 331 1469 325 1455 313 1439 311 1433 295 1409 287 1401 253 1333 253 1329 247 1319 247 1313 239 1289 227 1261 213 1245 191 1233 179 1219 179 1207 199 1179 197 1147 189 1125 179 1117 125 1117 123 1119 97 1119 95 1121 87 1121ZM1821 689 1799 697 1795 701 1795 707 1799 717 1799 729 1803 739 1803 749 1813 785 1813 795 1817 809 1815 821 1807 829 1799 833 1785 835 1775 839 1765 847 1761 855 1761 903 1763 905 1763 917 1767 931 1767 979 1769 981 1767 1001 1765 1003 1765 1041 1767 1043 1767 1053 1771 1061 1783 1073 1803 1083 1809 1089 1813 1101 1807 1113 1801 1117 1781 1123 1769 1135 1767 1139 1767 1153 1763 1163 1763 1181 1773 1193 1787 1199 1807 1201 1837 1211 1847 1211 1859 1215 1875 1215 1883 1211 1893 1201 1901 1181 1901 1171 1903 1169 1903 1119 1905 1117 1907 1083 1917 1051 1917 1019 1915 1017 1913 1003 1903 987 1885 977 1867 971 1859 963 1855 953 1855 929 1865 917 1889 907 1903 895 1909 881 1909 865 1907 863 1905 847 1897 829 1883 813 1873 795 1871 783 1863 769 1863 763 1851 739 1851 735 1831 697 1825 689ZM307 401 295 399 287 403 257 427 227 459 215 477 179 519 159 555 157 579 161 589 175 607 181 619 181 633 175 647 165 657 153 661 143 661 141 659 123 659 117 661 107 669 99 683 87 719 87 769 85 771 85 781 81 791 81 805 77 817 77 869 75 871 75 881 77 883 77 889 81 891 109 893 113 887 113 881 117 873 117 865 129 837 129 829 139 803 143 785 153 773 167 769 169 771 177 771 185 775 191 775 199 779 207 779 213 777 223 767 235 739 239 723 249 703 251 693 259 679 259 675 263 671 273 651 289 635 301 611 313 593 311 569 297 543 297 533 305 523 315 523 335 533 349 535 377 509 381 501 389 493 389 483 385 475 337 425 327 419ZM1259 153 1251 177 1251 181 1261 189 1265 189 1269 193 1273 193 1277 197 1281 197 1285 201 1289 201 1313 217 1335 225 1353 237 1359 245 1361 255 1357 267 1351 275 1341 297 1343 311 1355 323 1397 345 1401 349 1421 357 1443 373 1469 403 1487 419 1509 433 1529 433 1553 421 1567 419 1579 425 1589 435 1593 443 1593 451 1581 469 1575 481 1575 487 1583 501 1595 511 1611 531 1623 531 1639 519 1655 511 1687 485 1699 479 1713 463 1715 451 1709 437 1697 419 1611 327 1571 291 1557 283 1549 283 1547 281 1545 283 1531 285 1515 295 1503 299 1489 297 1479 291 1467 277 1467 259 1469 257 1473 235 1469 225 1449 209 1425 197 1371 181 1333 165 1325 165 1317 161 1309 161 1301 157 1293 157 1283 153 1271 153 1269 151 1261 151ZM1019 105 1015 97 1007 89 993 83 953 81 951 83 925 83 923 85 851 87 849 89 829 91 815 95 795 105 783 117 777 129 771 149 761 159 737 167 723 165 709 151 703 141 691 131 685 129 661 131 633 143 621 151 609 163 529 213 527 217 501 237 497 245 509 265 513 269 519 269 555 253 561 253 567 249 571 249 575 245 593 237 617 229 633 229 643 239 657 271 663 277 677 281 705 269 759 251 775 249 791 243 803 243 815 249 827 249 829 247 865 241 873 237 885 225 891 215 899 187 911 177 927 177 935 185 941 203 941 209 949 219 957 223 997 223 1003 221 1009 215 1015 195 1017 161 1019 159 1019 133 1021 131Z"/>
<path fill="#fff600" fill-rule="evenodd" d="M1741 1511 1731 1503 1709 1491 1705 1493 1671 1529 1661 1533 1655 1533 1639 1525 1627 1513 1613 1503 1603 1503 1577 1527 1575 1533 1565 1543 1555 1559 1529 1587 1497 1611 1465 1639 1461 1647 1461 1661 1469 1683 1469 1697 1457 1711 1443 1719 1435 1719 1405 1691 1401 1691 1391 1699 1381 1703 1365 1715 1359 1717 1355 1723 1359 1741 1373 1767 1373 1771 1381 1787 1397 1813 1399 1821 1411 1831 1421 1831 1441 1819 1453 1815 1457 1811 1471 1805 1489 1789 1507 1779 1519 1769 1575 1739 1599 1715 1603 1707 1601 1683 1591 1663 1591 1647 1595 1639 1603 1631 1615 1625 1627 1627 1639 1635 1651 1639 1661 1637 1667 1633 1701 1597 1723 1551 1735 1533 1735 1529 1741 1517ZM65 1129 55 1137 47 1151 43 1177 45 1179 47 1207 69 1287 75 1325 89 1357 109 1379 119 1385 139 1391 147 1391 161 1397 179 1417 185 1433 185 1451 173 1477 171 1503 181 1525 193 1543 223 1573 253 1597 303 1647 311 1651 361 1703 371 1709 381 1707 395 1695 401 1685 417 1669 421 1661 439 1643 447 1629 447 1621 429 1601 417 1595 407 1595 387 1615 373 1623 361 1619 345 1605 335 1591 317 1573 311 1561 291 1533 291 1519 301 1507 311 1501 327 1485 331 1475 329 1463 295 1409 283 1395 283 1391 279 1387 275 1375 271 1371 267 1359 263 1355 263 1351 259 1347 259 1343 251 1329 243 1301 239 1295 235 1279 227 1261 219 1251 209 1243 189 1233 181 1225 177 1217 179 1203 197 1183 199 1177 197 1149 187 1123 181 1119 169 1119 167 1117 133 1117 131 1119 101 1119 99 1121 89 1121ZM1841 739 1833 743 1815 747 1809 751 1809 765 1811 767 1811 777 1815 787 1815 801 1817 803 1817 817 1813 825 1801 833 1787 835 1773 841 1763 851 1761 857 1761 901 1763 903 1765 927 1767 929 1767 975 1769 977 1769 987 1767 989 1767 1051 1771 1061 1781 1071 1803 1081 1813 1091 1813 1107 1811 1111 1801 1119 1795 1119 1781 1125 1771 1135 1767 1143 1767 1161 1763 1167 1763 1177 1767 1185 1779 1195 1791 1199 1811 1201 1841 1211 1851 1211 1861 1215 1875 1215 1883 1211 1891 1203 1901 1177 1905 1091 1907 1089 1907 1079 1915 1057 1917 1025 1915 1023 1915 1011 1907 993 1893 981 1867 973 1857 963 1853 951 1853 931 1857 923 1865 915 1891 905 1899 899 1905 891 1907 885 1907 857 1903 843 1895 827 1883 815 1871 793 1871 787 1867 781 1867 777 1863 773 1859 757 1847 739ZM309 403 305 401 293 401 285 405 261 425 231 455 213 481 183 515 165 543 159 557 157 575 163 591 181 615 183 631 179 643 165 659 161 661 133 661 131 659 119 661 105 673 99 685 87 723 89 765 87 767 87 777 83 791 83 805 81 807 81 831 85 835 121 841 125 837 125 833 133 817 133 811 137 805 137 799 145 779 159 769 171 769 195 777 211 777 221 769 233 743 241 717 251 697 253 687 267 659 289 635 297 617 311 597 313 591 311 571 295 543 295 529 303 521 309 519 311 521 317 521 339 533 349 533 375 509 387 491 385 477 345 433 333 425ZM1311 169 1311 173 1299 199 1301 205 1317 217 1321 217 1325 221 1329 221 1347 231 1361 247 1361 259 1343 293 1343 299 1341 301 1345 313 1359 325 1391 341 1395 345 1411 353 1415 353 1441 371 1487 419 1493 421 1505 431 1511 433 1527 433 1555 419 1561 419 1563 417 1579 423 1593 439 1595 451 1587 465 1581 471 1577 481 1577 487 1585 501 1599 513 1603 521 1611 529 1619 531 1637 519 1651 513 1683 487 1697 479 1711 465 1713 461 1713 447 1707 435 1691 413 1621 341 1601 317 1567 289 1555 283 1539 283 1521 291 1513 297 1507 299 1491 299 1479 293 1465 277 1465 263 1471 247 1471 231 1465 221 1457 215 1423 197 1405 191 1399 191 1385 185 1379 185 1373 181 1361 179 1339 169 1331 169 1329 167 1313 167ZM1019 105 1009 91 1003 87 989 83 937 83 935 85 911 85 909 87 859 87 857 89 831 91 807 99 793 107 785 115 779 125 773 149 757 163 745 167 725 167 709 153 705 145 693 133 681 129 665 131 647 137 625 149 605 167 551 201 541 211 541 217 559 247 569 247 589 237 595 237 621 227 635 229 645 241 655 267 659 273 667 279 683 279 709 267 715 267 757 251 773 249 789 243 803 243 815 249 825 249 827 247 865 241 875 235 887 221 893 207 899 183 909 175 927 175 933 179 939 191 941 205 951 219 955 221 965 221 967 223 999 221 1003 219 1009 211 1013 197 1013 189 1015 187 1017 151 1019 149Z"/>
<path fill="#ffef00" fill-rule="evenodd" d="M1729 1527 1701 1507 1697 1507 1673 1529 1665 1533 1647 1531 1619 1507 1611 1503 1605 1503 1595 1509 1579 1525 1551 1565 1523 1593 1515 1597 1465 1639 1461 1647 1461 1659 1471 1687 1471 1695 1467 1703 1459 1711 1443 1721 1435 1721 1421 1711 1405 1695 1399 1695 1397 1707 1387 1717 1377 1723 1363 1725 1359 1729 1363 1747 1401 1823 1411 1831 1419 1831 1439 1819 1443 1819 1469 1805 1485 1791 1521 1767 1547 1753 1555 1751 1581 1733 1595 1719 1603 1705 1601 1685 1589 1659 1589 1647 1593 1639 1603 1629 1617 1623 1619 1625 1625 1625 1647 1637 1659 1637 1669 1631 1701 1595 1727 1541ZM63 1131 53 1141 47 1153 47 1161 45 1163 45 1191 47 1193 49 1211 69 1283 75 1323 85 1349 97 1367 105 1375 121 1385 157 1393 177 1411 187 1435 187 1447 173 1479 171 1499 183 1527 199 1549 237 1585 257 1599 281 1625 309 1649 365 1705 369 1707 381 1707 413 1673 425 1655 441 1639 447 1627 447 1623 443 1615 431 1603 417 1595 405 1597 383 1619 375 1623 367 1623 359 1619 315 1571 313 1565 295 1541 291 1533 291 1519 303 1505 313 1499 327 1485 329 1481 329 1463 299 1415 283 1395 249 1325 243 1307 243 1301 239 1295 229 1265 211 1245 187 1233 177 1221 175 1209 179 1201 193 1187 199 1175 195 1161 195 1145 187 1125 179 1119 141 1117 139 1119 93 1121ZM1847 757 1839 761 1821 765 1815 769 1815 793 1819 805 1817 821 1803 833 1783 837 1771 843 1765 849 1761 859 1761 871 1763 873 1761 899 1763 901 1765 925 1767 927 1767 955 1769 957 1767 1051 1769 1057 1779 1069 1805 1081 1815 1091 1815 1109 1811 1115 1801 1121 1795 1121 1785 1125 1771 1141 1771 1159 1767 1165 1767 1181 1775 1191 1789 1197 1807 1199 1835 1209 1845 1209 1847 1211 1871 1215 1887 1207 1893 1199 1899 1183 1899 1175 1901 1173 1901 1125 1903 1123 1905 1085 1915 1055 1915 1015 1911 1001 1901 987 1891 981 1865 973 1855 963 1851 935 1855 923 1863 915 1889 905 1903 893 1907 883 1907 861 1899 835 1875 805 1867 781 1863 777 1855 759ZM311 405 303 401 293 401 283 407 267 423 257 429 229 459 217 477 181 519 167 541 159 559 159 581 183 617 185 623 183 637 177 649 165 661 159 663 121 661 111 667 105 675 93 703 93 709 87 727 91 751 89 753 89 777 85 791 85 809 89 815 105 817 115 821 125 821 137 801 137 793 145 777 157 769 175 769 197 777 209 777 219 771 227 757 239 721 249 701 251 691 269 655 287 637 313 589 311 573 297 551 291 537 295 525 301 519 311 517 335 529 347 531 371 509 377 497 385 489 383 477 369 463 361 451ZM1331 175 1317 209 1323 217 1349 231 1359 241 1363 251 1361 261 1343 295 1343 309 1347 315 1363 327 1395 343 1399 347 1419 355 1439 369 1485 417 1511 433 1531 431 1557 417 1571 417 1581 423 1595 439 1597 449 1593 459 1583 471 1579 485 1585 497 1603 513 1611 527 1619 529 1631 521 1649 513 1687 483 1699 477 1709 467 1713 459 1713 449 1697 421 1591 309 1569 291 1553 283 1541 283 1507 301 1487 299 1477 293 1465 281 1463 267 1471 243 1471 233 1467 225 1459 217 1431 201 1409 193 1403 193 1395 189 1361 181 1355 177 1349 177 1341 173 1333 173ZM1019 109 1015 99 1005 89 995 85 981 85 979 83 945 83 943 85 917 85 915 87 871 87 869 89 835 91 809 99 789 111 779 127 773 151 763 161 755 165 741 169 725 169 711 157 707 149 695 135 687 131 667 131 649 137 629 147 607 167 561 197 555 205 567 231 573 239 589 237 617 227 633 227 645 239 657 269 669 279 681 279 703 269 749 255 755 251 771 249 787 243 805 243 811 247 823 249 825 247 863 241 875 235 885 223 891 211 897 183 905 175 911 173 927 173 937 181 945 211 957 221 995 221 1003 217 1009 205 1009 199 1013 189 1015 163 1017 161 1017 139 1019 137Z"/>
<path fill="#ffe800" fill-rule="evenodd" d="M1719 1543 1691 1523 1683 1523 1669 1533 1657 1535 1637 1525 1615 1505 1607 1503 1593 1511 1581 1523 1573 1537 1563 1547 1553 1563 1521 1595 1495 1613 1479 1629 1465 1639 1461 1649 1461 1655 1473 1691 1469 1703 1459 1713 1441 1723 1435 1723 1419 1711 1413 1709 1401 1725 1385 1735 1365 1741 1367 1753 1371 1757 1375 1771 1387 1791 1387 1795 1401 1821 1409 1829 1415 1831 1427 1827 1431 1823 1471 1803 1479 1795 1513 1773 1519 1767 1545 1753 1557 1749 1573 1739 1599 1713 1603 1703 1603 1695 1599 1683 1587 1659 1587 1647 1593 1637 1603 1627 1611 1623 1623 1623 1651 1637 1661 1635 1667 1631 1703 1591 1703 1587 1715 1563 1719 1551ZM61 1133 49 1149 47 1167 45 1169 45 1181 47 1183 49 1207 71 1287 71 1297 73 1299 73 1309 75 1311 77 1327 93 1361 111 1379 129 1387 155 1391 163 1395 177 1409 187 1431 187 1451 173 1481 173 1505 179 1519 195 1543 243 1589 263 1603 265 1607 303 1645 313 1651 359 1699 369 1707 379 1707 395 1693 401 1683 417 1667 419 1661 439 1641 445 1631 445 1619 439 1611 427 1601 415 1595 409 1595 381 1621 377 1623 365 1623 361 1621 317 1575 309 1559 297 1545 289 1527 291 1517 325 1487 329 1479 329 1465 299 1415 285 1399 247 1321 247 1315 237 1285 225 1259 211 1245 185 1233 175 1221 175 1205 197 1179 195 1149 185 1123 177 1119 95 1121 93 1123 85 1123ZM1853 775 1837 781 1823 783 1819 787 1819 819 1817 823 1805 833 1775 841 1767 847 1763 855 1761 897 1763 899 1765 923 1769 937 1767 1049 1771 1059 1781 1069 1791 1075 1809 1081 1817 1091 1817 1109 1815 1113 1807 1121 1789 1125 1785 1129 1785 1133 1789 1139 1789 1161 1785 1173 1775 1187 1787 1195 1811 1199 1831 1207 1849 1209 1859 1213 1875 1213 1883 1209 1891 1201 1899 1179 1899 1171 1901 1169 1901 1115 1903 1113 1905 1081 1915 1051 1915 1019 1907 995 1897 985 1863 973 1853 961 1853 955 1851 953 1851 927 1853 923 1867 911 1883 907 1899 897 1907 881 1905 855 1897 833 1871 801 1863 781ZM309 405 301 401 291 403 261 427 233 455 215 481 185 515 169 539 159 561 159 579 165 591 185 617 185 635 177 651 165 663 151 665 149 663 125 661 115 665 103 679 89 721 89 737 91 739 91 791 95 795 129 803 133 799 145 775 153 769 169 767 199 777 209 777 221 767 233 741 237 725 247 705 253 685 265 661 287 637 313 589 309 569 289 539 291 527 295 521 303 515 311 515 327 523 341 527 343 525 343 515 349 503 365 485 379 479 377 473 361 453 335 427ZM1347 185 1345 193 1337 207 1335 217 1337 221 1349 229 1359 239 1363 247 1361 263 1343 297 1343 307 1349 317 1381 337 1413 353 1417 353 1445 373 1461 393 1483 415 1507 431 1523 433 1559 415 1571 415 1583 423 1593 433 1599 445 1597 455 1585 473 1585 479 1599 483 1613 497 1621 513 1619 523 1625 523 1643 513 1647 513 1683 485 1695 479 1711 463 1713 457 1711 445 1691 415 1617 339 1603 321 1573 295 1557 285 1545 283 1543 285 1537 285 1503 303 1489 301 1475 293 1465 283 1461 273 1463 261 1471 239 1469 229 1463 221 1441 207 1413 195 1399 193 1391 189 1383 189 1375 185 1355 183 1353 181ZM1017 105 1007 91 993 85 929 85 927 87 901 87 899 89 853 89 851 91 829 93 795 107 785 117 779 129 777 145 773 153 759 165 739 169 737 171 727 171 721 169 711 159 703 145 691 133 685 131 661 133 627 149 611 165 577 189 571 197 571 203 583 227 589 233 603 229 611 229 619 225 631 225 635 227 643 235 651 251 653 261 659 271 671 279 681 279 707 267 719 265 725 261 761 249 777 247 785 243 795 243 797 241 821 249 833 245 863 241 871 237 883 225 891 209 895 183 905 173 911 171 927 171 937 179 945 209 953 217 959 217 961 219 989 219 995 217 993 213 987 211 969 211 967 205 975 201 1001 201 1009 195 1013 181 1013 171 1015 169 1015 151 1017 149 1017 123 1019 121Z"/>
<path fill="#ffe100" fill-rule="evenodd" d="M1711 1555 1679 1531 1669 1535 1653 1535 1645 1531 1613 1505 1603 1505 1589 1515 1577 1529 1575 1535 1563 1547 1555 1561 1519 1597 1493 1615 1477 1631 1469 1635 1463 1643 1463 1649 1461 1651 1463 1653 1463 1661 1473 1685 1473 1699 1471 1703 1455 1717 1439 1725 1429 1723 1425 1719 1419 1719 1407 1735 1391 1745 1371 1751 1379 1777 1387 1789 1387 1793 1403 1823 1411 1829 1419 1829 1429 1825 1433 1821 1463 1807 1475 1799 1485 1789 1503 1779 1521 1765 1563 1745 1579 1733 1597 1715 1601 1707 1601 1691 1585 1655 1585 1649 1591 1637 1601 1627 1611 1621 1623 1621 1647 1635 1659 1635 1675 1623 1703 1589 1711 1567ZM65 1131 53 1143 49 1151 49 1157 47 1159 47 1193 49 1195 49 1203 71 1283 73 1305 75 1307 75 1317 79 1325 79 1331 89 1353 97 1365 107 1375 125 1385 151 1389 165 1395 177 1407 183 1417 183 1421 189 1433 189 1449 175 1477 175 1483 173 1485 173 1503 181 1521 191 1537 213 1561 249 1593 257 1597 365 1703 373 1707 381 1705 389 1699 397 1687 413 1671 425 1653 429 1651 441 1637 445 1629 445 1621 429 1603 413 1595 405 1599 379 1623 373 1625 363 1623 339 1601 333 1591 313 1571 307 1557 293 1539 289 1529 289 1521 307 1501 325 1487 329 1479 329 1465 309 1431 285 1399 247 1321 243 1303 239 1297 233 1275 227 1263 213 1247 183 1233 173 1219 173 1207 197 1177 197 1171 193 1163 193 1145 189 1139 185 1125 179 1121 167 1121 165 1119 131 1119 129 1121 99 1121ZM1855 793 1853 795 1845 795 1825 801 1819 821 1807 833 1781 839 1773 843 1763 855 1763 889 1761 893 1763 895 1765 921 1769 933 1767 1047 1771 1059 1779 1067 1789 1073 1811 1081 1819 1091 1819 1107 1817 1113 1811 1121 1795 1127 1795 1133 1799 1141 1799 1159 1797 1161 1795 1175 1785 1189 1793 1195 1809 1197 1833 1207 1853 1209 1861 1213 1875 1213 1887 1205 1895 1191 1899 1177 1899 1159 1901 1157 1899 1129 1901 1127 1901 1109 1903 1107 1903 1087 1913 1057 1915 1027 1913 1025 1913 1011 1905 993 1893 983 1863 975 1853 965 1851 959 1851 949 1849 947 1849 929 1851 923 1861 913 1869 909 1881 907 1893 901 1901 893 1905 885 1905 875 1907 873 1905 871 1903 851 1895 831 1879 815 1875 807 1863 793ZM305 403 293 403 289 405 267 425 257 431 229 461 219 477 189 511 171 537 161 557 159 577 167 593 183 611 187 619 187 633 179 651 171 661 163 665 121 663 113 667 105 677 89 725 89 733 93 743 93 765 97 775 133 785 137 783 147 771 155 767 173 767 201 777 213 775 221 767 231 745 239 719 249 699 251 689 267 657 289 633 297 615 311 593 311 587 313 585 309 571 287 539 287 531 291 523 303 513 313 513 325 519 333 519 337 505 343 495 361 477 369 473 365 461 345 437ZM1351 221 1351 227 1363 243 1363 259 1343 299 1345 311 1355 321 1393 341 1397 345 1421 355 1435 365 1455 383 1465 397 1479 411 1507 431 1519 433 1533 429 1559 413 1569 413 1577 417 1593 431 1599 441 1599 455 1593 467 1593 471 1607 477 1625 497 1631 515 1647 511 1673 493 1681 485 1699 475 1711 461 1711 447 1695 421 1609 329 1577 299 1555 285 1539 285 1529 289 1507 303 1501 303 1499 305 1485 301 1473 293 1461 279 1461 265 1469 243 1469 231 1459 219 1443 209 1417 197 1411 197 1393 191 1385 191 1383 189 1367 189ZM1017 107 1015 101 1005 91 987 85 939 85 937 87 913 87 911 89 861 89 859 91 843 91 841 93 817 97 793 109 781 125 775 153 765 163 757 167 751 167 743 171 723 171 711 161 701 143 693 135 683 131 677 131 675 133 665 133 653 137 629 149 613 165 601 173 585 189 585 193 601 225 633 225 639 229 651 249 657 267 667 277 679 279 701 269 747 255 753 251 767 249 793 241 801 241 813 247 829 247 831 245 841 245 843 243 867 239 883 225 889 213 893 185 897 177 905 171 911 171 913 169 931 171 939 179 947 207 951 209 955 201 967 191 1003 191 1007 189 1011 181 1013 161 1015 159Z"/>
<path fill="#ffdb00" fill-rule="evenodd" d="M1707 1561 1675 1537 1651 1535 1633 1523 1619 1509 1611 1505 1599 1507 1579 1527 1549 1569 1527 1591 1511 1601 1465 1641 1463 1645 1463 1659 1475 1687 1475 1699 1471 1705 1445 1725 1425 1727 1421 1735 1407 1749 1387 1759 1379 1759 1379 1773 1403 1821 1413 1829 1423 1827 1471 1801 1481 1791 1523 1763 1571 1739 1591 1721 1601 1707 1601 1693 1597 1681 1585 1659 1585 1645 1591 1635 1607 1621 1613 1619 1621 1619 1649 1635 1661 1633 1675 1621 1699 1593 1707 1575ZM63 1133 55 1141 49 1153 49 1161 47 1163 47 1187 49 1189 49 1199 51 1201 63 1255 71 1279 77 1321 91 1355 111 1377 127 1385 147 1387 161 1391 175 1403 183 1415 189 1429 191 1443 187 1457 175 1479 173 1501 185 1527 195 1541 227 1573 253 1595 261 1599 367 1703 371 1705 383 1703 393 1693 397 1685 415 1667 417 1661 437 1641 445 1627 445 1623 433 1607 415 1597 409 1597 401 1603 387 1619 377 1625 361 1623 345 1609 335 1595 317 1577 309 1561 295 1543 289 1531 289 1521 293 1513 309 1501 327 1483 329 1479 329 1465 299 1419 297 1413 289 1405 279 1389 275 1377 267 1365 267 1361 259 1349 259 1345 251 1331 243 1309 243 1303 239 1297 235 1281 223 1257 209 1245 195 1241 181 1233 171 1219 171 1207 173 1203 185 1191 195 1177 193 1151 185 1135 185 1127 177 1121 139 1119 137 1121 91 1123 89 1125 75 1127ZM1861 803 1859 805 1851 805 1849 807 1827 811 1821 821 1811 831 1797 837 1789 837 1777 841 1767 849 1763 857 1763 905 1765 907 1765 917 1769 931 1769 995 1767 997 1767 1045 1769 1047 1769 1053 1779 1067 1791 1073 1811 1079 1819 1087 1821 1093 1819 1113 1803 1131 1807 1139 1809 1151 1807 1153 1805 1173 1795 1191 1837 1207 1847 1207 1849 1209 1871 1213 1881 1209 1889 1201 1895 1189 1895 1183 1899 1173 1899 1121 1901 1119 1903 1083 1913 1055 1913 1013 1911 1011 1911 1005 1901 989 1891 983 1861 975 1853 967 1849 955 1849 925 1851 921 1859 913 1873 907 1879 907 1891 901 1899 895 1905 883 1905 863 1895 833 1869 805ZM307 405 295 403 287 407 273 421 263 427 235 455 201 501 185 517 167 545 161 559 159 573 165 589 187 615 189 621 187 637 175 659 163 667 147 667 135 663 123 663 117 665 107 675 91 719 91 735 93 737 97 761 133 773 141 773 157 765 167 765 197 775 211 775 219 769 233 739 237 723 247 703 253 683 265 659 287 635 299 611 311 593 311 577 305 565 289 547 285 539 285 531 289 523 301 511 315 511 321 515 327 515 329 503 335 491 351 473 363 467 361 459 345 439ZM1375 197 1359 231 1365 245 1365 257 1355 277 1351 281 1343 301 1347 313 1353 319 1379 335 1421 355 1441 369 1489 419 1509 431 1527 431 1557 413 1563 411 1573 413 1599 437 1601 441 1601 459 1599 463 1603 467 1607 467 1613 471 1633 493 1639 509 1647 509 1677 487 1695 477 1709 463 1711 459 1711 449 1705 437 1689 415 1617 341 1603 323 1571 295 1555 285 1541 285 1527 291 1511 303 1505 305 1487 303 1469 291 1459 279 1459 267 1469 241 1469 233 1463 223 1441 209 1415 197 1399 195 1397 193 1379 193ZM1017 109 1013 99 1001 89 995 87 977 87 975 85 947 85 945 87 919 87 917 89 875 89 873 91 835 93 833 95 819 97 797 107 785 119 781 127 777 151 765 165 739 173 723 173 711 163 695 137 687 133 667 133 645 141 627 151 601 177 599 189 611 213 611 217 615 221 623 221 635 225 645 235 659 269 665 275 677 279 705 267 759 249 765 249 791 241 801 241 813 247 829 247 841 243 861 241 873 235 885 221 889 209 889 201 891 199 891 185 895 177 901 171 923 167 935 171 941 179 947 199 965 183 971 183 973 181 1005 181 1009 177 1013 163Z"/>
<path fill="#ffd400" fill-rule="evenodd" d="M1703 1567 1673 1541 1649 1535 1639 1529 1615 1507 1605 1505 1595 1511 1581 1525 1571 1541 1561 1551 1553 1565 1523 1595 1509 1603 1465 1641 1463 1645 1463 1657 1477 1691 1477 1697 1471 1707 1451 1723 1431 1731 1423 1749 1415 1757 1393 1769 1383 1771 1383 1777 1387 1783 1391 1797 1397 1805 1405 1823 1411 1827 1421 1827 1429 1823 1433 1819 1463 1805 1485 1787 1503 1777 1521 1763 1557 1747 1575 1735 1597 1713 1601 1705 1601 1695 1597 1683 1583 1659 1583 1645 1595 1629 1613 1617 1625 1619 1647 1633 1659 1633 1663 1631 1697 1595 1705 1573ZM67 1131 57 1139 51 1149 47 1175 49 1177 51 1203 53 1205 53 1211 55 1213 55 1219 57 1221 57 1227 73 1285 75 1309 77 1311 79 1325 87 1347 97 1363 109 1375 129 1385 151 1387 163 1391 175 1401 183 1413 191 1433 191 1449 183 1467 179 1471 173 1491 175 1505 181 1519 199 1545 239 1583 267 1603 269 1607 271 1607 305 1643 319 1653 353 1689 369 1703 381 1703 405 1677 419 1657 437 1639 443 1629 443 1621 439 1615 425 1603 417 1599 409 1599 383 1623 375 1627 367 1627 359 1623 313 1573 307 1559 297 1547 289 1531 289 1519 301 1505 311 1499 327 1483 329 1467 325 1457 313 1441 311 1435 283 1397 249 1327 237 1287 227 1263 219 1253 211 1247 193 1241 179 1233 169 1217 169 1209 173 1201 185 1189 193 1177 193 1171 183 1163 183 1157 179 1149 181 1125 167 1121 119 1121 117 1123 93 1123ZM1865 809 1863 811 1827 817 1813 831 1801 837 1783 839 1775 843 1765 853 1763 859 1763 903 1765 905 1765 915 1769 929 1769 975 1771 977 1769 999 1767 1001 1767 1043 1769 1045 1769 1053 1775 1063 1793 1073 1811 1077 1821 1087 1821 1111 1817 1121 1811 1127 1811 1133 1817 1147 1817 1159 1815 1161 1813 1177 1807 1187 1807 1193 1817 1199 1841 1207 1851 1207 1859 1211 1875 1211 1887 1203 1893 1193 1897 1179 1897 1169 1899 1167 1899 1113 1901 1111 1901 1091 1903 1089 1903 1079 1913 1051 1913 1017 1911 1015 1909 1001 1897 987 1883 981 1875 981 1861 977 1851 967 1849 961 1849 949 1847 947 1847 927 1849 921 1857 913 1869 907 1883 905 1893 899 1901 891 1905 879 1903 857 1893 831 1875 813ZM309 407 299 403 291 405 267 427 259 431 231 461 221 477 191 511 175 533 161 561 161 579 169 593 185 609 191 625 189 627 187 641 175 661 167 667 159 667 157 669 155 667 141 667 127 663 125 665 119 665 111 671 103 685 91 723 91 731 99 755 135 767 171 765 199 775 209 775 221 765 231 743 239 717 249 697 251 687 267 655 287 635 293 621 311 593 309 573 299 559 287 547 283 539 283 531 291 517 297 511 305 507 319 509 321 507 323 493 331 481 347 465 357 461 357 457 345 441ZM1383 197 1365 231 1365 247 1367 249 1365 251 1365 259 1345 295 1345 309 1351 317 1377 333 1391 339 1395 343 1407 349 1411 349 1439 367 1487 417 1509 431 1525 431 1557 411 1571 411 1579 415 1601 437 1605 449 1605 459 1619 465 1635 481 1643 493 1645 503 1651 503 1663 497 1681 483 1699 473 1707 465 1711 457 1711 449 1695 423 1609 331 1575 299 1553 285 1543 285 1529 291 1513 303 1503 307 1495 307 1481 301 1467 291 1457 277 1459 263 1467 245 1467 231 1465 227 1453 217 1423 201 1411 197 1403 197 1401 195 1387 195ZM1015 105 1011 97 1003 91 991 87 931 87 929 89 907 89 905 91 853 91 851 93 839 93 837 95 829 95 815 99 795 109 787 117 781 129 781 139 779 141 777 155 763 167 743 173 735 173 733 175 719 173 711 165 703 149 693 137 685 133 671 133 657 137 629 151 607 173 605 181 621 217 637 225 647 237 655 261 661 271 669 277 683 277 689 273 727 261 733 257 739 257 757 249 773 247 789 241 803 241 815 247 827 247 829 245 865 239 873 235 883 223 889 207 891 181 899 171 907 167 929 167 937 171 941 175 947 189 949 189 957 179 969 173 1005 173 1009 169 1011 155 1013 153 1013 141 1015 139Z"/>
<path fill="#ffcd00" fill-rule="evenodd" d="M1701 1573 1671 1545 1661 1539 1655 1539 1647 1535 1617 1509 1607 1505 1595 1511 1583 1523 1575 1537 1563 1549 1555 1563 1521 1597 1515 1599 1467 1639 1463 1647 1463 1655 1471 1677 1477 1687 1477 1693 1479 1695 1477 1701 1461 1717 1433 1735 1431 1753 1421 1767 1399 1779 1393 1779 1391 1781 1391 1791 1403 1815 1403 1819 1413 1827 1423 1825 1471 1799 1489 1783 1495 1781 1523 1761 1569 1739 1593 1717 1601 1703 1597 1685 1581 1655 1581 1647 1585 1639 1605 1619 1615 1615 1631 1621 1645 1631 1655 1633 1663 1629 1695 1595 1701 1581ZM65 1133 55 1143 51 1151 51 1157 49 1159 49 1189 51 1191 53 1209 55 1211 63 1249 67 1257 67 1263 73 1281 79 1323 91 1353 107 1373 125 1383 157 1387 165 1391 183 1411 193 1437 191 1453 175 1483 175 1503 183 1521 195 1539 231 1575 279 1613 303 1639 319 1651 353 1687 373 1703 381 1701 393 1689 397 1681 409 1671 417 1657 437 1637 441 1629 441 1621 429 1607 423 1603 419 1603 415 1599 411 1599 383 1625 373 1629 363 1627 337 1603 329 1591 313 1575 309 1563 293 1541 289 1531 289 1519 303 1503 313 1497 325 1485 329 1477 329 1467 325 1457 315 1445 307 1429 283 1397 247 1323 241 1299 225 1261 207 1245 191 1241 177 1233 169 1221 169 1215 167 1213 169 1205 185 1185 185 1181 177 1169 175 1155 173 1153 173 1137 177 1131 177 1125 163 1123 161 1121 97 1123 95 1125 79 1127ZM1859 815 1847 819 1827 821 1815 831 1803 837 1785 839 1773 845 1765 855 1765 861 1763 863 1765 867 1763 899 1765 901 1767 925 1769 927 1769 943 1771 945 1771 987 1769 989 1767 1035 1769 1037 1769 1051 1773 1059 1781 1067 1817 1079 1823 1089 1823 1109 1817 1123 1817 1135 1821 1139 1825 1149 1825 1165 1823 1167 1821 1181 1815 1193 1819 1197 1839 1205 1847 1205 1863 1211 1873 1211 1881 1207 1889 1199 1897 1175 1897 1149 1899 1147 1897 1145 1897 1125 1899 1123 1901 1085 1903 1083 1903 1075 1911 1057 1913 1025 1911 1023 1909 1003 1899 989 1887 983 1863 979 1855 975 1849 965 1849 959 1847 957 1847 937 1845 935 1847 921 1861 909 1885 903 1891 899 1903 885 1903 861 1901 859 1899 845 1893 833 1873 815ZM307 407 303 405 293 405 271 425 263 429 237 455 203 501 185 519 171 541 161 563 161 577 167 589 189 613 191 617 191 633 177 661 167 669 145 669 135 665 121 665 109 675 93 719 93 735 101 751 143 765 165 763 201 775 209 775 221 765 229 747 233 731 253 685 253 681 263 661 285 637 311 591 309 575 303 565 285 547 281 539 281 531 289 517 299 507 313 501 315 491 323 477 349 453 343 441ZM1385 203 1377 221 1369 233 1367 239 1367 257 1345 297 1345 307 1357 321 1399 343 1403 347 1407 347 1423 355 1445 371 1455 381 1461 391 1485 415 1511 431 1529 429 1559 409 1571 409 1575 411 1601 435 1605 441 1607 451 1611 455 1625 459 1637 469 1649 485 1651 493 1655 497 1667 493 1685 479 1695 475 1707 463 1711 453 1709 447 1697 427 1687 417 1679 405 1615 341 1603 325 1569 295 1557 287 1547 285 1527 293 1507 307 1501 307 1499 309 1497 307 1491 307 1473 297 1463 289 1457 281 1457 265 1467 241 1467 233 1455 219 1421 201 1407 197 1391 197ZM1015 107 1005 93 997 89 985 89 983 87 943 87 941 89 915 89 913 91 861 91 859 93 831 95 807 103 789 115 783 125 781 145 777 157 769 165 761 169 741 173 739 175 721 175 711 167 699 145 689 135 675 133 673 135 659 137 627 153 613 169 611 181 617 191 617 195 627 217 639 225 647 235 659 267 671 277 681 277 703 267 749 253 755 249 771 247 787 241 803 241 815 247 825 247 827 245 847 243 849 241 857 241 869 237 875 233 885 219 887 203 889 201 889 181 899 169 911 165 927 165 937 169 949 179 959 169 967 165 1005 165 1011 155 1011 147 1013 145Z"/>
<path fill="#ffc600" fill-rule="evenodd" d="M1697 1577 1665 1545 1639 1531 1619 1511 1613 1507 1603 1507 1599 1509 1579 1529 1551 1569 1529 1591 1519 1599 1513 1601 1505 1609 1495 1615 1479 1631 1467 1639 1463 1647 1463 1653 1469 1671 1477 1683 1479 1701 1463 1717 1439 1733 1437 1737 1437 1761 1433 1771 1417 1783 1397 1791 1397 1801 1403 1811 1405 1819 1411 1825 1425 1823 1443 1811 1447 1811 1451 1807 1469 1799 1485 1785 1503 1775 1521 1761 1541 1751 1545 1751 1573 1735 1599 1707 1597 1687 1579 1653 1581 1643 1585 1637 1603 1619 1611 1615 1623 1615 1641 1627 1651 1631 1663 1627 1693 1595 1697 1587ZM63 1135 57 1141 51 1153 49 1183 51 1185 51 1197 53 1199 67 1261 73 1277 79 1321 93 1355 111 1375 127 1383 159 1387 167 1391 183 1409 193 1431 193 1451 177 1479 175 1485 175 1503 185 1523 197 1541 241 1583 271 1603 295 1625 311 1643 339 1667 353 1683 373 1699 381 1697 389 1689 393 1681 409 1665 413 1657 433 1637 437 1631 437 1619 417 1603 409 1603 397 1617 377 1633 361 1631 343 1613 325 1589 313 1577 309 1565 295 1545 289 1533 289 1517 325 1485 329 1475 329 1467 299 1417 285 1401 253 1337 235 1283 225 1261 213 1249 183 1239 171 1227 167 1219 167 1207 181 1189 181 1181 173 1169 171 1155 169 1153 169 1137 173 1127 157 1121 101 1123 99 1125 81 1127ZM1859 819 1857 821 1825 825 1805 837 1781 841 1771 847 1765 857 1763 897 1765 899 1767 923 1771 935 1769 1051 1779 1065 1791 1071 1813 1075 1817 1077 1823 1085 1825 1105 1823 1107 1823 1115 1819 1127 1821 1133 1833 1149 1833 1171 1829 1185 1825 1189 1825 1197 1837 1203 1871 1211 1887 1201 1895 1181 1895 1171 1897 1169 1897 1117 1899 1115 1899 1095 1901 1093 1901 1079 1911 1055 1911 1013 1909 1011 1909 1005 1901 991 1885 983 1859 979 1851 973 1847 963 1847 949 1845 947 1845 923 1847 919 1855 911 1863 907 1883 903 1893 897 1899 891 1903 881 1903 865 1899 855 1899 847 1891 831 1875 819ZM309 409 301 405 295 405 285 411 267 429 259 433 233 461 223 477 179 529 163 559 161 575 169 591 189 611 193 619 191 637 177 663 165 671 153 671 151 669 141 669 139 667 125 665 119 667 109 677 93 723 93 731 97 737 97 741 103 747 143 761 169 763 203 775 211 773 219 767 227 751 239 715 245 705 249 689 265 657 289 631 311 589 311 583 305 569 285 549 279 539 279 533 287 517 307 499 309 483 315 473 331 455 341 449 341 443ZM1391 201 1371 237 1367 259 1351 285 1345 299 1347 311 1355 319 1385 337 1389 337 1393 341 1421 353 1435 363 1457 383 1463 393 1483 413 1511 431 1527 429 1561 407 1569 407 1585 417 1601 433 1611 449 1615 451 1625 451 1635 455 1653 475 1661 491 1665 491 1679 481 1693 475 1705 465 1709 457 1709 449 1691 421 1585 309 1563 291 1555 287 1535 289 1505 309 1493 309 1483 305 1471 297 1455 281 1455 269 1467 237 1463 227 1453 219 1423 203 1411 199 1395 199ZM1015 113 1009 97 995 89 919 89 917 91 847 93 845 95 825 97 797 109 787 119 783 127 779 157 769 167 743 175 723 177 717 175 711 169 701 149 691 137 687 135 671 135 669 137 661 137 629 153 617 167 615 177 621 189 627 209 631 217 639 223 649 237 649 241 661 269 671 277 681 277 707 265 713 265 725 259 761 247 777 245 785 241 805 241 811 245 823 247 825 245 847 243 849 241 863 239 871 235 881 225 887 211 887 187 889 185 889 177 899 167 919 165 921 163 923 165 933 165 943 171 949 171 961 159 967 157 1003 157 1007 155 1011 145Z"/>
<path fill="#ffc000" fill-rule="evenodd" d="M1615 1509 1603 1507 1597 1511 1581 1527 1555 1565 1525 1595 1511 1603 1465 1643 1465 1659 1473 1677 1479 1685 1481 1699 1465 1717 1441 1735 1443 1773 1439 1781 1419 1795 1403 1801 1405 1815 1411 1823 1421 1823 1433 1815 1467 1799 1483 1785 1501 1775 1519 1761 1539 1751 1553 1747 1569 1737 1595 1713 1599 1705 1599 1695 1589 1673 1581 1663 1579 1645 1583 1637 1601 1619 1611 1613 1623 1613 1647 1627 1657 1627 1669 1617 1691 1591 1691 1585 1675 1561 1657 1543 1643 1535ZM71 1131 59 1139 51 1155 51 1193 53 1195 55 1211 59 1219 59 1225 75 1283 77 1307 79 1309 79 1317 85 1337 95 1357 109 1373 129 1383 141 1383 143 1385 163 1387 179 1401 191 1423 195 1435 193 1453 185 1465 175 1487 175 1499 181 1515 203 1547 235 1577 269 1601 281 1607 289 1607 311 1589 313 1581 309 1575 307 1563 289 1533 287 1523 293 1511 323 1487 329 1475 327 1463 293 1409 285 1401 279 1387 275 1383 275 1379 267 1367 267 1363 251 1333 235 1283 225 1261 209 1247 181 1239 167 1223 165 1207 179 1189 179 1185 169 1169 167 1153 165 1151 165 1139 169 1127 161 1123 107 1123 105 1125 91 1125ZM1871 821 1869 823 1829 827 1813 835 1801 839 1783 841 1775 845 1765 857 1765 891 1763 893 1765 895 1767 921 1771 933 1769 1049 1775 1061 1783 1067 1803 1073 1811 1073 1823 1081 1825 1085 1823 1129 1841 1149 1843 1155 1841 1177 1833 1193 1833 1197 1837 1201 1849 1203 1863 1209 1879 1207 1887 1199 1893 1185 1893 1179 1895 1177 1895 1155 1897 1153 1895 1129 1897 1127 1897 1111 1899 1109 1899 1087 1911 1051 1911 1015 1905 997 1897 989 1889 985 1873 983 1871 981 1861 981 1853 977 1847 969 1847 961 1845 959 1845 939 1843 937 1845 919 1853 911 1865 905 1885 901 1891 897 1901 885 1901 861 1899 859 1897 845 1887 829ZM307 409 303 407 293 407 271 427 263 431 239 455 205 501 187 519 171 543 163 561 163 579 167 587 193 615 195 625 191 639 179 663 165 673 145 671 133 667 121 667 113 673 107 683 95 721 95 731 103 743 153 761 173 763 197 773 211 773 217 769 229 745 233 729 249 693 251 683 267 653 287 633 293 619 307 599 311 589 309 577 303 567 277 539 279 527 303 497 303 477 313 461 335 441 331 433 329 433ZM1379 229 1371 245 1369 257 1347 295 1345 303 1349 313 1353 317 1379 333 1397 341 1401 345 1415 349 1439 365 1479 409 1507 429 1513 431 1525 429 1537 423 1557 407 1567 405 1579 411 1593 423 1611 445 1615 447 1635 447 1643 451 1661 471 1667 485 1671 485 1683 477 1691 475 1707 461 1707 455 1709 453 1705 443 1695 427 1683 415 1675 403 1613 341 1603 327 1565 293 1553 287 1541 287 1529 293 1509 309 1503 311 1495 311 1481 305 1467 295 1453 279 1453 271 1465 241 1463 229 1455 221 1415 201 1397 201ZM1013 107 1011 101 1005 95 989 89 933 89 931 91 911 91 909 93 853 93 851 95 837 95 805 105 795 111 787 119 783 129 781 155 779 159 767 169 739 177 719 177 711 171 701 151 689 137 685 135 675 135 673 137 659 139 631 153 623 161 619 169 619 177 635 217 649 235 659 265 665 273 673 277 679 277 695 269 723 261 729 257 735 257 741 253 747 253 753 249 767 245 775 245 783 241 799 239 823 247 833 243 855 241 871 235 883 221 887 207 887 179 893 169 909 163 931 163 945 167 965 149 973 149 975 147 1005 147 1011 137Z"/>
<path fill="#ffb900" fill-rule="evenodd" d="M1617 1511 1605 1507 1595 1513 1583 1525 1575 1539 1563 1551 1557 1563 1541 1581 1523 1597 1499 1613 1467 1641 1465 1645 1465 1657 1473 1675 1481 1687 1483 1699 1469 1715 1457 1723 1445 1735 1443 1745 1449 1765 1449 1785 1441 1795 1429 1803 1411 1811 1409 1815 1413 1821 1425 1819 1435 1811 1439 1811 1443 1807 1447 1807 1451 1803 1455 1803 1459 1799 1467 1797 1481 1785 1487 1783 1493 1777 1499 1775 1521 1759 1559 1743 1571 1735 1595 1711 1599 1703 1599 1697 1593 1681 1577 1657 1577 1645 1579 1641 1601 1617 1611 1611 1625 1611 1637 1619 1645 1621 1649 1615 1649 1611 1667 1589 1673 1577 1669 1563 1655 1545 1641 1535ZM77 1129 65 1135 57 1143 51 1157 51 1189 53 1191 53 1199 55 1201 67 1255 75 1279 79 1315 89 1345 97 1359 113 1375 133 1383 161 1385 169 1389 179 1399 195 1431 195 1451 179 1477 175 1491 177 1505 197 1539 243 1583 261 1595 275 1599 295 1585 307 1571 305 1561 289 1535 287 1521 291 1513 321 1489 327 1481 327 1475 329 1473 327 1463 297 1415 281 1395 249 1329 231 1273 223 1259 207 1247 179 1239 169 1229 163 1215 165 1203 177 1189 175 1183 167 1173 163 1159 163 1135 165 1133 165 1127 157 1123 127 1123 125 1125 93 1125 91 1127ZM1875 825 1823 831 1805 839 1785 841 1773 847 1765 859 1765 903 1767 905 1767 919 1771 929 1769 1047 1773 1057 1781 1065 1797 1071 1815 1073 1825 1081 1827 1087 1825 1125 1851 1153 1851 1173 1843 1199 1861 1207 1875 1207 1883 1203 1891 1189 1893 1173 1895 1171 1895 1119 1897 1117 1897 1103 1899 1101 1899 1081 1907 1063 1909 1049 1911 1047 1911 1021 1909 1019 1909 1009 1903 995 1893 987 1879 983 1867 983 1851 977 1845 965 1845 949 1843 947 1843 921 1845 917 1857 907 1861 907 1867 903 1875 903 1889 897 1899 887 1899 881 1901 879 1901 869 1899 867 1899 857 1895 843 1887 831ZM305 409 301 407 291 409 273 427 259 435 235 461 209 497 189 517 173 541 163 563 163 579 169 589 181 599 195 617 193 637 179 665 169 673 149 673 147 671 139 671 125 667 113 675 109 681 105 699 97 717 97 731 101 737 155 759 163 759 201 773 209 773 219 765 233 733 237 717 247 697 249 687 265 655 287 633 297 611 309 593 309 579 305 571 275 539 281 521 299 497 299 491 297 489 297 469 305 457 325 437 323 429ZM1397 207 1395 213 1377 239 1365 267 1347 297 1347 309 1353 317 1383 333 1387 337 1391 337 1395 341 1423 353 1437 363 1455 379 1461 389 1489 417 1509 429 1515 431 1525 429 1533 425 1559 405 1571 405 1581 411 1611 441 1615 443 1633 443 1635 441 1647 443 1665 461 1675 477 1681 477 1695 471 1705 461 1707 457 1705 445 1695 429 1683 417 1677 407 1627 357 1597 321 1569 297 1557 289 1543 287 1527 295 1517 305 1507 311 1491 311 1479 305 1465 295 1451 279 1451 273 1463 243 1463 231 1455 223 1421 205 1401 203ZM1011 105 1003 95 995 91 967 91 965 89 917 91 915 93 861 93 859 95 841 95 839 97 831 97 811 103 789 117 783 131 783 151 781 157 771 169 735 179 719 179 709 171 699 149 691 139 687 137 669 137 633 153 623 165 623 177 629 189 635 211 649 233 661 267 669 275 683 275 689 271 745 253 751 249 757 249 765 245 773 245 781 241 801 239 813 245 829 245 831 243 853 241 871 235 881 223 885 213 885 181 889 171 893 167 903 163 915 163 917 161 943 163 953 151 965 141 971 139 1005 139 1009 135 1009 129 1011 127 1011 115 1013 113 1011 111Z"/>
<path fill="#ffb300" fill-rule="evenodd" d="M1615 1511 1611 1509 1599 1511 1581 1529 1555 1567 1527 1595 1507 1607 1481 1631 1467 1641 1465 1645 1465 1655 1475 1677 1483 1689 1485 1697 1483 1703 1447 1735 1447 1747 1457 1775 1457 1795 1469 1793 1525 1755 1561 1741 1577 1729 1595 1711 1597 1707 1597 1693 1591 1679 1575 1655 1575 1645 1583 1633 1607 1611 1615 1607 1633 1609 1657 1579 1661 1569 1659 1561 1649 1543ZM73 1131 65 1135 55 1147 53 1161 51 1163 51 1183 53 1185 53 1195 55 1197 71 1267 75 1275 77 1295 79 1297 79 1311 87 1339 99 1361 111 1373 127 1381 163 1385 173 1391 183 1403 197 1435 197 1447 177 1485 177 1503 179 1509 195 1535 215 1557 253 1589 265 1595 273 1595 301 1573 305 1567 305 1563 289 1535 287 1519 301 1503 311 1497 325 1483 329 1471 327 1469 327 1463 299 1421 297 1415 283 1399 253 1339 233 1279 223 1259 211 1249 185 1243 177 1239 169 1231 163 1219 163 1205 173 1193 173 1185 167 1179 161 1165 161 1157 159 1155 161 1127 153 1123 133 1123 131 1125 97 1125 95 1127 87 1127ZM1847 831 1845 833 1817 835 1801 841 1787 841 1777 845 1767 855 1765 899 1767 901 1767 915 1771 927 1771 975 1773 977 1771 995 1769 997 1769 1045 1773 1057 1779 1063 1793 1069 1819 1073 1827 1081 1827 1123 1837 1135 1851 1143 1861 1157 1861 1167 1859 1169 1859 1177 1857 1179 1857 1187 1853 1199 1861 1205 1873 1207 1881 1203 1887 1195 1893 1175 1893 1161 1895 1159 1895 1139 1893 1137 1893 1131 1895 1129 1899 1077 1909 1055 1909 1011 1907 1009 1907 1003 1899 991 1887 985 1861 983 1849 977 1845 971 1845 961 1843 959 1841 921 1851 909 1863 903 1879 901 1887 897 1899 883 1899 865 1895 855 1895 847 1891 843 1891 839 1883 831ZM303 409 293 409 285 415 275 427 261 435 245 451 207 501 187 521 175 539 163 565 163 577 167 585 197 617 197 629 193 641 179 667 169 675 153 675 151 673 141 673 131 669 123 669 113 677 99 719 99 729 103 733 151 755 173 761 179 765 203 773 215 769 221 761 221 757 227 747 229 737 237 721 239 711 245 701 249 685 261 661 269 649 285 635 289 625 309 593 309 579 303 569 275 543 273 537 277 525 295 499 295 491 289 473 291 461 305 443 317 433 315 421ZM1349 293 1347 307 1357 319 1399 341 1403 345 1417 349 1435 361 1457 381 1463 391 1487 415 1509 429 1523 429 1537 421 1553 407 1561 403 1571 403 1583 411 1613 439 1631 439 1643 435 1657 439 1673 457 1681 471 1691 471 1695 469 1707 455 1705 447 1699 437 1677 409 1611 341 1603 329 1563 293 1549 287 1539 289 1505 313 1493 313 1477 305 1461 293 1451 283 1451 267 1461 245 1461 231 1449 221 1427 209 1423 209 1417 205 1407 205 1399 213 1383 235 1381 241 1375 247 1365 269ZM1011 107 1005 97 987 91 923 91 921 93 899 93 897 95 845 95 843 97 833 97 803 107 787 121 783 135 783 157 781 161 769 171 755 173 739 179 721 181 709 173 695 145 685 137 675 137 651 145 633 155 627 163 627 175 641 219 649 231 657 257 663 269 671 275 681 275 703 265 709 265 715 261 721 261 727 257 763 245 771 245 779 241 803 239 813 245 829 245 831 243 841 243 843 241 867 237 877 229 883 219 883 213 885 211 885 175 891 167 907 161 939 161 945 157 953 143 963 133 969 131 1005 131 1009 125Z"/>
<path fill="#ffac00" fill-rule="evenodd" d="M1613 1511 1605 1509 1595 1515 1583 1527 1551 1573 1547 1575 1533 1591 1523 1599 1513 1603 1481 1631 1469 1639 1465 1647 1465 1653 1485 1691 1485 1703 1477 1713 1459 1725 1451 1735 1451 1747 1467 1789 1501 1771 1519 1757 1563 1739 1591 1715 1597 1705 1597 1695 1591 1681 1575 1657 1573 1651 1575 1641 1601 1613 1623 1599 1649 1565 1649 1557 1643 1541 1631 1527ZM75 1131 63 1137 53 1153 53 1191 55 1193 55 1201 77 1281 81 1317 91 1347 103 1365 115 1375 129 1381 161 1383 169 1387 181 1399 197 1431 197 1451 177 1485 177 1501 179 1507 197 1537 225 1565 251 1587 267 1593 275 1589 301 1567 301 1557 287 1531 287 1519 303 1501 313 1495 325 1483 327 1479 327 1463 295 1413 283 1399 253 1339 235 1285 221 1257 205 1247 189 1245 175 1239 165 1227 161 1217 161 1205 171 1193 171 1187 163 1179 157 1163 155 1143 157 1141 159 1127 155 1125 101 1125 99 1127 89 1127ZM1783 843 1775 847 1767 857 1767 887 1765 889 1765 897 1767 899 1767 911 1769 913 1769 923 1773 937 1773 987 1771 989 1771 1001 1769 1003 1769 1043 1775 1059 1783 1065 1795 1069 1817 1071 1827 1077 1829 1081 1829 1121 1831 1125 1843 1135 1859 1143 1869 1155 1869 1173 1863 1193 1863 1201 1867 1205 1873 1205 1883 1199 1887 1193 1887 1187 1891 1179 1891 1167 1893 1165 1893 1123 1895 1121 1895 1105 1897 1103 1897 1083 1909 1053 1909 1015 1903 997 1895 989 1883 985 1857 983 1845 973 1843 969 1843 947 1841 945 1841 917 1847 909 1865 901 1879 899 1891 891 1897 879 1895 857 1891 845 1883 837 1873 837 1871 835 1815 837 1805 841ZM301 411 293 411 285 417 275 429 263 435 239 459 205 505 191 517 167 555 163 567 165 581 169 587 197 613 199 619 195 639 181 667 169 677 141 675 131 671 121 673 111 687 109 701 105 707 103 721 105 725 119 735 161 757 171 759 181 765 199 771 211 771 219 763 229 741 241 705 245 699 247 689 253 679 253 675 257 671 257 667 261 663 265 653 283 637 309 591 309 581 305 573 273 543 273 531 291 503 291 489 283 473 283 459 295 441 311 425 309 417ZM1349 295 1347 305 1355 317 1385 333 1389 337 1393 337 1397 341 1409 345 1433 359 1453 375 1465 393 1485 413 1509 429 1527 427 1557 403 1569 401 1577 405 1607 433 1615 437 1623 437 1639 431 1655 429 1663 433 1675 445 1689 465 1695 465 1703 459 1705 453 1703 447 1699 443 1695 433 1683 421 1677 411 1615 347 1597 323 1555 289 1541 289 1503 315 1495 315 1479 307 1459 293 1449 283 1449 269 1459 245 1459 233 1451 225 1447 225 1429 213 1415 209 1389 233 1385 241 1373 255ZM1009 105 1003 97 993 93 913 93 911 95 851 95 849 97 837 97 809 105 797 111 789 119 785 127 785 151 783 153 783 159 781 163 771 171 735 181 717 181 709 175 693 145 685 139 675 139 673 141 665 141 637 155 631 161 631 173 633 175 637 197 641 205 641 211 655 243 655 249 661 261 661 265 669 273 679 275 697 267 719 261 725 257 731 257 737 253 743 253 749 249 761 245 769 245 777 241 803 239 815 245 827 245 829 243 859 239 869 235 879 225 883 217 883 209 885 207 883 177 885 171 891 165 901 161 913 161 915 159 937 159 945 151 951 137 961 125 967 123 1003 123 1009 115Z"/>
<path fill="#ffa600" fill-rule="evenodd" d="M1615 1513 1611 1511 1601 1511 1591 1519 1581 1531 1579 1537 1567 1549 1557 1567 1529 1595 1511 1605 1467 1643 1467 1649 1465 1651 1471 1663 1471 1667 1487 1691 1487 1705 1475 1717 1465 1723 1455 1735 1459 1753 1471 1781 1479 1781 1527 1751 1555 1743 1575 1729 1595 1709 1597 1703 1595 1691 1589 1679 1575 1661 1571 1647 1579 1633 1609 1603 1617 1585 1631 1569 1639 1555 1639 1543 1635 1535ZM67 1135 55 1149 55 1155 53 1157 53 1187 55 1189 59 1215 63 1223 73 1269 77 1277 81 1315 89 1341 99 1359 119 1377 131 1381 157 1381 159 1383 165 1383 181 1397 195 1423 199 1435 199 1449 193 1461 183 1473 177 1487 177 1499 181 1511 199 1539 219 1559 247 1583 257 1589 263 1589 265 1591 297 1567 301 1561 287 1531 287 1517 295 1507 315 1493 325 1483 327 1479 327 1465 307 1431 283 1399 245 1321 235 1285 225 1263 209 1249 179 1243 173 1239 165 1229 159 1215 159 1205 169 1193 169 1189 161 1181 155 1167 155 1159 153 1157 155 1127 149 1125 123 1125 121 1127 109 1125 107 1127 91 1127ZM1787 843 1771 851 1767 859 1767 907 1769 909 1769 921 1773 933 1773 989 1771 991 1771 1015 1769 1017 1771 1051 1781 1063 1789 1067 1813 1069 1815 1071 1821 1071 1829 1077 1831 1081 1831 1119 1839 1129 1865 1141 1879 1157 1879 1171 1877 1173 1877 1183 1873 1195 1875 1199 1879 1199 1887 1187 1887 1177 1891 1167 1891 1129 1893 1127 1893 1113 1895 1111 1895 1089 1897 1087 1899 1073 1907 1059 1907 1051 1909 1049 1909 1019 1907 1017 1905 1001 1897 991 1879 985 1853 983 1843 973 1841 941 1839 939 1839 917 1841 913 1855 903 1877 897 1883 893 1877 859 1873 849 1863 841 1853 841 1851 839 1815 839 1801 843ZM299 413 295 413 275 431 257 441 237 463 211 499 187 523 167 557 165 563 165 579 167 583 189 603 199 615 199 631 185 659 185 663 181 669 169 679 155 679 153 677 131 677 129 679 131 681 131 689 123 711 123 725 125 729 135 739 155 749 159 753 201 771 213 769 221 759 233 723 261 659 285 633 297 609 309 591 309 583 305 573 271 543 271 531 289 501 289 493 275 465 275 455 291 431 303 419ZM1349 297 1349 309 1351 313 1379 331 1423 351 1437 361 1457 379 1467 395 1481 409 1511 429 1521 429 1529 425 1555 403 1567 399 1579 405 1611 433 1627 433 1651 423 1665 423 1679 435 1697 457 1701 455 1701 449 1693 435 1677 417 1675 411 1667 401 1607 339 1601 329 1561 293 1553 289 1537 291 1513 311 1499 317 1483 311 1457 293 1447 283 1447 269 1453 253 1453 245 1451 243 1441 241 1415 227 1407 227 1399 231 1371 261ZM1005 103 999 97 993 95 967 95 965 93 919 93 917 95 875 95 873 97 841 97 839 99 829 99 811 105 791 117 785 129 785 157 783 163 775 171 739 181 731 181 729 183 717 183 713 181 703 169 695 151 685 141 675 141 669 145 663 145 659 149 647 153 639 161 639 187 641 189 641 197 643 199 649 229 653 235 661 263 669 273 677 275 759 245 783 241 793 237 805 239 815 245 825 245 827 243 865 237 869 235 881 221 883 215 883 171 889 165 905 159 935 157 943 149 949 131 957 119 971 113 1005 113 1007 109Z"/>
<path fill="#ff9f00" fill-rule="evenodd" d="M1609 1511 1603 1511 1585 1527 1581 1535 1567 1551 1557 1569 1531 1595 1509 1607 1467 1643 1469 1661 1485 1685 1491 1699 1489 1709 1479 1719 1471 1723 1463 1733 1467 1747 1479 1771 1483 1773 1493 1767 1497 1767 1519 1751 1533 1747 1541 1747 1557 1741 1567 1735 1585 1719 1595 1707 1595 1701 1597 1699 1587 1677 1575 1663 1569 1647 1571 1645 1571 1639 1601 1607 1607 1577 1625 1555 1631 1543 1631 1537 1623 1523ZM77 1131 65 1137 55 1151 53 1183 55 1185 55 1195 57 1197 69 1251 73 1259 73 1265 79 1283 81 1311 89 1339 101 1361 113 1373 125 1379 133 1379 135 1381 161 1381 167 1383 179 1393 195 1421 201 1441 195 1459 185 1471 179 1483 179 1489 177 1491 179 1505 197 1535 213 1553 229 1565 245 1581 255 1587 267 1587 295 1565 299 1559 297 1557 297 1551 293 1547 293 1543 287 1533 287 1517 297 1505 323 1485 327 1477 327 1465 293 1411 281 1397 249 1331 239 1297 235 1291 231 1275 225 1263 215 1253 207 1249 177 1243 165 1231 157 1211 157 1207 165 1195 165 1189 155 1177 151 1165 151 1155 149 1153 149 1141 153 1131 149 1127 139 1127 137 1125 131 1125 129 1127 93 1127 91 1129ZM1783 845 1775 849 1767 861 1767 871 1769 873 1769 879 1767 881 1767 903 1769 905 1769 917 1773 929 1773 979 1775 981 1771 993 1771 1049 1779 1061 1791 1067 1803 1067 1805 1069 1825 1071 1831 1077 1831 1111 1835 1121 1839 1125 1855 1133 1859 1133 1887 1149 1889 1145 1889 1135 1891 1133 1893 1105 1895 1103 1895 1083 1907 1055 1907 1009 1899 993 1893 989 1851 983 1841 971 1841 949 1839 947 1839 933 1837 931 1839 911 1847 903 1857 901 1869 893 1863 873 1861 857 1853 847 1839 843 1791 843 1789 845ZM273 435 263 439 237 465 209 503 191 519 175 543 165 565 165 577 169 585 201 615 201 629 181 673 173 681 167 683 159 683 157 681 147 683 145 697 137 715 137 729 147 741 177 761 205 771 211 769 219 761 223 753 237 711 243 701 249 681 261 657 267 649 285 633 293 615 305 599 309 589 305 575 269 543 269 531 285 505 285 493 271 471 267 461 267 453 275 439ZM1349 299 1349 307 1357 317 1395 337 1399 341 1421 349 1441 363 1459 381 1463 389 1489 415 1511 429 1525 427 1539 417 1553 403 1567 397 1579 403 1605 427 1613 431 1621 431 1659 415 1669 415 1671 413 1663 399 1611 345 1597 325 1563 295 1551 289 1545 289 1535 293 1515 311 1505 317 1493 317 1477 309 1463 297 1455 293 1445 283 1443 277 1445 259 1443 257 1435 255 1411 241 1399 241 1387 249 1367 269ZM997 101 987 97 957 97 955 95 843 97 841 99 825 101 799 111 789 121 785 133 785 147 787 149 785 151 785 161 777 171 735 183 727 183 725 185 713 183 705 175 693 155 689 153 677 163 655 171 647 179 645 193 647 195 649 221 661 261 671 273 683 273 699 265 739 253 745 249 787 239 789 237 801 237 817 245 863 237 877 227 883 213 883 187 881 185 881 173 889 163 899 159 929 157 939 149 947 125 953 113 959 107 969 103 995 103Z"/>
<path fill="#ff9900" fill-rule="evenodd" d="M1609 1513 1599 1515 1583 1531 1581 1537 1567 1553 1559 1569 1537 1593 1513 1605 1497 1617 1483 1631 1473 1637 1467 1645 1467 1655 1475 1671 1489 1689 1499 1719 1513 1737 1523 1745 1545 1745 1559 1739 1575 1727 1595 1705 1595 1695 1591 1689 1591 1685 1569 1655 1567 1639 1591 1613 1593 1609 1593 1587 1591 1585 1593 1573 1619 1539 1621 1533 1619 1523 1613 1515ZM65 1137 55 1151 55 1191 57 1193 57 1201 65 1225 67 1241 71 1249 75 1271 79 1279 83 1319 91 1343 105 1365 117 1375 127 1379 155 1379 157 1381 165 1381 183 1397 197 1423 201 1435 201 1449 181 1479 179 1485 179 1503 199 1537 241 1577 253 1585 259 1585 261 1587 271 1581 297 1559 295 1549 285 1527 285 1521 289 1513 299 1503 321 1487 327 1477 327 1465 293 1411 281 1397 247 1327 241 1309 241 1303 237 1297 233 1281 225 1263 215 1253 199 1247 179 1245 165 1233 157 1215 157 1203 163 1191 155 1183 147 1161 147 1137 149 1131 143 1127 97 1127 95 1129 85 1129ZM1785 845 1777 849 1769 859 1769 885 1767 887 1771 925 1775 935 1775 985 1771 993 1771 1049 1775 1057 1787 1065 1793 1065 1795 1067 1815 1067 1827 1071 1833 1077 1833 1109 1835 1115 1843 1123 1885 1139 1891 1123 1895 1077 1907 1053 1907 1013 1905 1011 1905 1005 1895 991 1885 987 1853 985 1849 983 1839 971 1839 943 1837 941 1837 929 1835 927 1835 913 1837 907 1849 897 1853 891 1847 857 1841 851 1831 847 1821 847 1819 845ZM257 449 237 467 227 483 209 505 187 525 185 531 173 547 165 567 167 581 173 589 187 599 201 613 203 625 197 643 181 677 173 685 161 691 149 723 149 731 171 755 201 769 209 769 217 763 225 747 237 709 257 663 263 653 283 635 295 611 307 593 307 579 305 575 267 543 269 527 283 505 283 497 265 471ZM1351 297 1349 305 1355 315 1385 333 1389 333 1409 345 1419 347 1445 365 1455 375 1463 389 1487 413 1513 429 1527 425 1551 403 1561 397 1573 397 1595 417 1611 427 1627 425 1659 409 1663 405 1649 385 1611 347 1601 331 1567 299 1555 291 1549 291 1547 289 1533 295 1511 315 1503 319 1495 319 1481 313 1455 295 1441 281 1439 273 1431 267 1405 253 1393 253 1371 267ZM951 99 937 95 921 95 919 97 849 97 847 99 827 101 809 107 797 113 791 119 787 127 787 159 785 165 777 173 749 179 733 185 723 185 721 187 709 183 701 173 691 171 681 177 659 185 653 193 653 231 665 267 673 273 681 273 687 269 737 253 743 249 761 243 777 241 785 237 803 237 813 243 823 245 833 241 845 241 855 237 863 237 871 233 879 223 883 209 881 169 889 161 901 157 917 157 931 153 939 141 943 121 951 105Z"/>
<path fill="#ff9402" fill-rule="evenodd" d="M1531 1599 1511 1607 1495 1619 1479 1635 1471 1639 1467 1647 1467 1653 1475 1669 1491 1689 1503 1713 1517 1731 1531 1743 1549 1743 1567 1733 1587 1715 1595 1703 1595 1697 1589 1683 1571 1661 1557 1627 1537 1601ZM1607 1515 1603 1515 1587 1529 1567 1557 1567 1569 1579 1565 1603 1539 1609 1529 1609 1517ZM75 1133 61 1141 55 1153 55 1189 57 1191 71 1253 79 1277 83 1317 91 1341 101 1359 115 1373 129 1379 161 1379 171 1383 183 1395 197 1421 203 1445 197 1459 185 1473 179 1485 179 1501 181 1507 195 1531 217 1555 245 1579 257 1585 263 1583 295 1557 295 1551 285 1529 285 1519 301 1501 311 1495 325 1481 327 1477 325 1461 313 1445 297 1417 283 1401 251 1337 251 1333 243 1317 243 1311 235 1287 223 1261 211 1251 195 1249 193 1247 181 1247 173 1243 165 1235 155 1213 155 1203 159 1197 159 1191 149 1179 145 1167 145 1157 143 1155 145 1131 137 1127 123 1127 121 1129 119 1127 103 1127 101 1129 87 1129ZM1783 847 1775 851 1769 861 1769 905 1771 907 1771 921 1775 929 1775 987 1771 997 1771 1047 1773 1053 1781 1061 1789 1065 1827 1069 1835 1077 1835 1105 1839 1113 1853 1123 1877 1131 1885 1131 1887 1129 1887 1121 1891 1109 1893 1081 1899 1067 1903 1063 1907 1049 1907 1017 1905 1015 1903 1001 1897 993 1889 989 1883 989 1881 987 1855 987 1849 985 1839 975 1839 967 1837 965 1839 955 1837 953 1837 941 1835 939 1835 927 1833 925 1833 901 1837 893 1837 871 1835 869 1835 863 1827 853 1809 847ZM253 461 247 461 233 475 221 493 191 521 175 545 165 569 169 583 203 613 205 625 197 647 193 651 193 655 185 671 183 681 167 711 163 723 163 737 169 747 181 759 203 769 211 767 217 761 225 745 237 707 245 691 245 685 261 655 281 637 289 625 289 621 293 617 297 607 307 593 307 581 301 571 275 553 265 541 265 531 277 513 279 499 267 481 259 473ZM1351 299 1351 309 1359 317 1407 343 1421 347 1427 353 1441 361 1453 371 1467 393 1487 413 1509 427 1521 427 1529 423 1557 397 1567 393 1577 397 1589 409 1609 423 1625 421 1655 403 1653 393 1611 349 1597 327 1563 297 1553 291 1537 293 1507 319 1495 321 1479 313 1437 283 1423 279 1399 265 1383 265 1367 275ZM943 101 939 97 915 97 913 99 839 99 837 101 829 101 821 105 815 105 795 115 789 123 787 129 787 165 777 175 761 177 753 181 747 181 739 185 731 185 721 189 709 187 701 183 673 193 661 201 657 211 657 241 665 265 671 271 679 273 685 269 735 253 741 249 765 241 775 241 783 237 803 237 815 243 829 243 831 241 843 241 845 239 867 235 877 225 881 217 879 169 889 159 903 157 905 155 917 155 931 149 937 135Z"/>
<path fill="#fe9409" fill-rule="evenodd" d="M1521 1603 1501 1615 1491 1623 1485 1631 1475 1637 1469 1643 1469 1655 1477 1671 1485 1679 1521 1729 1531 1739 1539 1743 1545 1743 1563 1735 1593 1707 1593 1695 1589 1685 1571 1663 1551 1629 1531 1605ZM75 1133 67 1137 57 1149 55 1155 55 1185 57 1187 57 1195 59 1197 63 1219 69 1235 71 1251 75 1259 75 1265 81 1283 83 1313 91 1339 103 1361 119 1375 133 1379 165 1379 173 1383 181 1391 201 1429 203 1449 181 1481 179 1501 187 1517 207 1545 241 1575 257 1583 273 1573 293 1555 293 1547 285 1531 285 1519 293 1507 313 1493 325 1481 327 1475 325 1461 295 1415 283 1401 251 1337 231 1277 223 1261 209 1251 179 1247 165 1237 155 1217 155 1209 153 1207 157 1195 149 1185 141 1163 141 1131 139 1129 89 1129ZM1781 849 1771 857 1771 885 1769 887 1771 917 1775 925 1775 937 1777 939 1777 971 1775 973 1775 989 1771 999 1771 1045 1775 1055 1785 1063 1791 1063 1793 1065 1815 1065 1817 1067 1827 1067 1831 1069 1839 1077 1839 1101 1847 1111 1859 1117 1865 1117 1873 1121 1883 1121 1887 1113 1891 1081 1905 1055 1905 1009 1903 1003 1893 991 1873 989 1871 987 1851 987 1839 979 1835 971 1835 939 1825 905 1825 879 1823 877 1821 863 1811 853 1803 849 1795 849 1793 847ZM245 471 233 481 225 493 211 507 201 513 189 525 167 563 167 577 171 585 195 603 207 617 205 633 189 667 185 703 175 729 175 743 179 753 185 759 203 767 213 765 221 751 221 747 233 721 233 715 241 699 241 693 245 687 249 673 253 669 253 665 261 653 285 631 293 613 307 591 305 577 293 565 273 553 265 545 261 531 273 511 273 503 261 487ZM1351 303 1355 313 1367 321 1371 321 1381 329 1405 341 1423 347 1443 361 1457 375 1463 387 1483 409 1511 427 1525 425 1555 397 1567 391 1577 393 1603 415 1623 413 1647 397 1645 389 1613 355 1591 321 1579 313 1565 299 1551 291 1543 291 1535 295 1517 313 1501 323 1493 323 1485 319 1461 301 1441 291 1419 291 1389 275 1375 275 1367 279 1357 291ZM935 101 931 99 917 99 915 101 843 99 841 101 831 101 823 105 817 105 799 113 791 121 787 131 789 163 787 169 781 175 707 193 693 201 671 209 665 215 659 229 659 241 661 243 661 251 665 263 669 269 681 271 693 265 699 265 705 261 721 257 727 253 733 253 749 245 755 245 761 241 771 241 777 237 799 235 815 243 827 243 829 241 841 241 851 237 861 237 869 233 877 225 881 215 881 193 879 191 879 179 877 177 879 165 885 159 901 153 917 153 929 143 933 129 935 107 937 105Z"/>
<path fill="#fe9310" fill-rule="evenodd" d="M1515 1607 1497 1619 1481 1635 1473 1639 1469 1645 1469 1653 1477 1669 1499 1693 1517 1719 1537 1739 1547 1741 1567 1731 1589 1711 1593 1703 1593 1697 1587 1683 1555 1645 1547 1631 1529 1609 1525 1607ZM77 1133 65 1139 57 1151 55 1179 57 1181 57 1191 59 1193 63 1217 71 1241 71 1249 81 1279 83 1309 93 1343 107 1365 117 1373 125 1377 163 1377 169 1379 183 1393 197 1417 205 1445 199 1459 191 1467 181 1483 179 1489 181 1505 201 1537 245 1577 257 1581 291 1555 291 1545 285 1531 285 1517 295 1505 305 1499 323 1483 327 1475 327 1467 307 1433 279 1395 249 1333 233 1283 221 1259 209 1251 175 1247 169 1243 163 1235 153 1213 153 1193 143 1181 139 1169 139 1159 137 1157 137 1139 139 1133 133 1129 93 1129 91 1131ZM1781 851 1777 853 1771 861 1771 907 1773 909 1775 927 1779 935 1779 971 1777 973 1777 983 1775 985 1773 1005 1771 1007 1771 1041 1775 1055 1787 1063 1795 1063 1797 1065 1825 1065 1831 1067 1843 1077 1855 1083 1887 1083 1887 1081 1891 1079 1895 1069 1901 1063 1905 1053 1905 1013 1903 1011 1903 1003 1899 997 1891 991 1885 989 1855 989 1843 985 1835 977 1831 969 1833 963 1831 935 1817 909 1807 863 1803 857 1795 851ZM219 505 209 509 193 521 177 545 167 567 167 577 169 581 179 591 199 605 209 617 209 631 205 637 205 641 201 645 201 649 197 653 193 665 195 687 197 689 197 709 187 735 187 753 189 757 201 765 209 765 213 763 217 757 229 729 229 723 233 717 233 711 237 705 241 687 253 661 267 645 283 633 289 623 289 619 307 589 305 579 301 573 289 563 271 553 263 545 259 535 247 521ZM1353 303 1355 311 1363 317 1407 341 1415 341 1449 363 1459 375 1465 389 1489 413 1511 427 1519 427 1527 423 1561 391 1585 381 1593 375 1607 357 1607 349 1595 327 1561 297 1549 291 1533 297 1509 321 1501 325 1489 325 1473 315 1465 307 1449 299 1439 299 1429 303 1413 303 1377 285 1365 287 1357 295ZM923 105 891 105 889 103 851 99 849 101 835 101 833 103 819 105 799 113 789 125 789 169 779 179 759 181 751 185 731 189 719 195 705 209 673 223 663 235 663 251 667 263 671 269 677 271 701 261 719 257 735 249 741 249 757 241 781 237 791 233 807 237 817 243 839 241 841 239 859 237 869 233 879 221 879 215 881 213 881 199 879 197 879 185 877 183 877 165 887 153 901 149 911 149 919 141 923 127Z"/>
<path fill="#fd9318" fill-rule="evenodd" d="M1519 1607 1501 1617 1471 1643 1469 1651 1483 1675 1485 1675 1509 1701 1523 1721 1541 1739 1551 1739 1565 1731 1591 1707 1591 1693 1587 1685 1551 1645 1531 1617ZM65 1139 57 1151 57 1189 59 1191 73 1253 77 1261 77 1267 83 1285 85 1317 91 1337 103 1359 121 1375 127 1377 167 1377 183 1391 201 1425 205 1437 205 1449 197 1463 187 1473 181 1483 181 1491 179 1493 181 1503 203 1539 241 1573 255 1579 263 1575 289 1553 291 1547 285 1533 285 1517 297 1503 323 1483 327 1473 325 1463 305 1433 303 1427 297 1421 295 1415 281 1399 247 1329 233 1283 225 1265 209 1251 177 1249 163 1237 151 1209 151 1195 141 1183 137 1173 135 1153 133 1151 135 1133 133 1131 119 1131 117 1129 97 1129 95 1131 85 1131ZM1779 975 1779 981 1773 995 1773 1049 1783 1061 1789 1063 1823 1063 1837 1067 1841 1071 1845 1071 1851 1075 1889 1075 1895 1069 1903 1057 1903 1049 1905 1047 1905 1019 1903 1017 1903 1005 1893 993 1881 989 1849 989 1839 985 1833 979 1819 971 1783 971ZM1779 855 1775 857 1773 863 1775 881 1771 895 1775 905 1775 917 1779 921 1779 925 1791 927 1795 925 1801 917 1799 887 1797 885 1795 867 1791 859 1787 855ZM233 693 223 693 219 695 209 713 207 723 199 741 199 757 203 761 209 763 215 757 221 745 221 741 225 735 225 729 229 723 229 717 233 711 233 701 235 699ZM205 513 189 527 173 553 167 569 169 579 175 587 201 605 209 613 213 625 219 631 235 639 245 647 257 651 273 641 285 629 293 611 305 593 305 581 293 567 269 553 257 539 245 529 215 511ZM1357 301 1355 305 1357 309 1379 325 1395 333 1399 333 1403 337 1413 337 1415 339 1423 337 1421 327 1393 307 1371 297 1363 297ZM1553 293 1541 293 1511 321 1499 329 1485 333 1477 339 1457 363 1459 375 1467 391 1487 411 1507 425 1513 427 1523 425 1529 421 1563 387 1585 371 1601 351 1601 339 1595 329 1563 299ZM877 107 865 101 839 101 837 103 821 105 797 115 789 127 791 169 787 177 777 185 755 185 733 193 725 201 721 211 709 223 677 235 667 245 669 263 675 269 681 269 687 265 693 265 721 253 727 253 731 249 735 249 761 237 771 237 777 233 799 233 813 241 823 243 825 241 857 237 871 231 879 219 879 189 875 177 875 167 883 147 883 131 881 129 881 119Z"/>
<path fill="#fc921f" fill-rule="evenodd" d="M1511 1611 1499 1619 1483 1635 1475 1639 1471 1645 1471 1653 1479 1667 1513 1701 1529 1723 1541 1735 1551 1737 1563 1731 1589 1707 1591 1697 1581 1679 1547 1645 1533 1625 1519 1611ZM69 1137 59 1147 57 1153 57 1185 59 1187 59 1195 61 1197 65 1219 71 1235 73 1251 77 1259 77 1265 83 1283 85 1315 95 1345 105 1361 115 1371 129 1377 161 1375 173 1379 181 1387 201 1423 207 1443 201 1459 189 1471 181 1485 181 1503 199 1533 245 1575 255 1577 289 1551 289 1541 283 1527 285 1515 299 1501 321 1485 327 1471 325 1469 325 1463 293 1413 281 1399 245 1325 241 1307 225 1265 215 1255 207 1251 183 1251 181 1249 175 1249 163 1239 151 1213 149 1195 139 1185 133 1171 133 1161 131 1159 131 1137 133 1135 129 1131 87 1131ZM1779 983 1773 999 1773 1047 1775 1053 1781 1059 1793 1063 1833 1063 1839 1067 1853 1071 1891 1071 1903 1055 1903 1009 1899 999 1895 995 1887 991 1851 991 1823 979 1783 979ZM205 515 189 529 177 547 169 563 169 577 179 589 203 605 217 621 253 643 265 645 275 639 283 631 289 621 289 617 305 593 305 581 297 571 267 553 255 541 241 531 213 515ZM1551 293 1543 293 1535 297 1511 323 1493 335 1475 353 1461 371 1461 377 1473 397 1491 413 1509 425 1521 425 1527 421 1591 357 1599 345 1599 339 1591 325 1559 297ZM737 241 735 237 731 235 717 235 697 241 681 249 675 255 675 263 677 265 685 265 693 261 699 261 705 257 729 249 735 245ZM859 101 843 101 841 103 823 105 801 113 791 123 789 141 791 143 791 155 793 157 793 171 787 185 789 223 791 229 809 237 813 241 833 241 835 239 845 239 847 237 863 235 875 225 879 217 879 195 875 181 877 135 875 133 873 113 869 105Z"/>
<path fill="#fc9226" fill-rule="evenodd" d="M1513 1613 1499 1621 1485 1635 1477 1639 1471 1649 1479 1665 1511 1693 1525 1713 1547 1735 1551 1735 1563 1729 1589 1705 1589 1695 1579 1679 1577 1679 1567 1667 1555 1659 1523 1619ZM75 1135 67 1139 59 1149 57 1155 57 1181 59 1183 59 1193 61 1195 65 1217 71 1233 73 1249 83 1279 83 1287 85 1289 85 1313 93 1339 107 1363 119 1373 133 1377 167 1375 185 1391 205 1431 207 1449 197 1465 185 1477 181 1487 181 1501 201 1535 241 1571 253 1575 271 1563 287 1549 283 1519 293 1505 311 1493 325 1479 325 1463 313 1447 293 1413 281 1399 249 1335 241 1313 239 1301 223 1263 211 1253 205 1251 177 1251 163 1241 153 1221 149 1209 149 1201 131 1175 129 1157 127 1155 129 1135 119 1131 89 1131ZM1779 985 1773 1003 1773 1043 1775 1045 1775 1051 1783 1059 1787 1061 1833 1061 1849 1067 1881 1067 1883 1069 1887 1069 1899 1061 1903 1051 1903 1013 1899 1001 1891 993 1885 993 1883 991 1843 991 1823 983 1783 983ZM197 521 177 549 171 561 169 577 173 583 191 597 203 603 221 619 231 623 251 637 263 643 277 637 285 627 293 609 305 591 303 579 293 569 267 555 253 543 209 517ZM1549 293 1537 297 1517 319 1479 355 1463 375 1467 389 1491 413 1511 425 1519 425 1529 419 1553 391 1585 359 1597 341 1593 329 1563 301ZM859 103 825 105 799 115 791 125 791 131 789 133 791 135 791 147 793 149 793 161 795 163 791 195 793 197 795 223 801 233 815 241 829 241 831 239 843 239 845 237 867 233 877 221 879 201 877 199 877 189 873 177 873 135 871 133 871 123 867 109Z"/>
<path fill="#fb922d" fill-rule="evenodd" d="M1505 1619 1483 1639 1475 1643 1475 1655 1489 1671 1503 1679 1515 1691 1529 1711 1547 1729 1553 1731 1561 1727 1585 1707 1587 1695 1579 1683 1567 1671 1553 1663 1543 1653 1537 1643 1515 1619 1511 1617ZM71 1137 65 1141 59 1149 59 1165 57 1167 59 1191 61 1193 65 1215 69 1223 73 1247 79 1261 79 1269 85 1285 87 1319 95 1343 103 1357 117 1371 125 1375 169 1375 183 1387 201 1419 209 1443 207 1453 189 1473 181 1489 183 1505 199 1531 215 1549 243 1571 253 1573 285 1549 287 1541 283 1531 283 1517 295 1503 313 1491 323 1481 325 1477 325 1463 313 1447 297 1419 279 1397 253 1345 233 1285 223 1263 211 1253 205 1253 203 1251 175 1251 167 1247 161 1239 149 1213 147 1199 133 1185 129 1177 125 1163 125 1135 113 1131 93 1131 91 1133 83 1133ZM1775 995 1775 1049 1777 1053 1785 1059 1791 1061 1835 1059 1855 1065 1891 1065 1895 1063 1901 1053 1901 1007 1899 1001 1889 993 1841 993 1825 987 1781 987ZM199 521 191 529 171 563 169 573 173 581 199 601 251 631 261 639 271 639 275 637 285 625 291 611 305 589 301 577 279 561 261 553 215 523 205 519ZM1551 295 1543 295 1535 299 1511 329 1487 351 1467 375 1465 381 1471 393 1487 409 1511 425 1517 425 1525 421 1543 403 1555 385 1581 359 1593 343 1593 333 1589 325 1573 313 1559 299ZM853 103 829 105 821 109 815 109 797 117 791 127 791 143 793 145 793 153 797 165 795 197 799 211 799 223 801 229 809 237 817 241 827 241 829 239 839 239 841 237 865 233 873 227 877 219 877 193 871 175 871 141 869 139 867 119 863 109Z"/>
<path fill="#fa9134" fill-rule="evenodd" d="M1483 1643 1481 1647 1483 1655 1503 1669 1523 1689 1543 1715 1549 1719 1559 1719 1581 1703 1583 1699 1581 1695 1559 1675 1551 1671 1511 1627 1503 1627ZM77 1135 65 1141 59 1151 59 1187 61 1189 61 1197 65 1205 75 1251 79 1259 79 1265 85 1283 87 1317 91 1331 105 1359 121 1373 127 1375 167 1373 175 1377 187 1391 205 1427 209 1439 209 1451 185 1479 181 1491 183 1503 201 1533 233 1563 245 1571 251 1571 285 1545 283 1517 295 1503 313 1491 323 1481 325 1477 325 1465 295 1417 279 1397 251 1341 251 1337 241 1315 241 1309 233 1285 223 1263 209 1253 199 1253 197 1251 195 1253 177 1253 171 1251 161 1241 149 1215 145 1199 127 1181 123 1169 121 1137 115 1133 85 1133 83 1135ZM1775 999 1775 1047 1777 1051 1787 1059 1837 1057 1847 1061 1879 1061 1881 1063 1893 1061 1899 1055 1899 1049 1901 1047 1901 1015 1899 1013 1899 1005 1891 995 1885 993 1839 995 1819 989 1783 989 1779 991ZM199 523 191 531 173 561 171 567 173 579 195 597 227 613 261 635 273 637 283 627 289 613 303 591 301 579 283 565 257 553 209 523ZM1549 295 1537 299 1527 309 1511 333 1497 345 1467 381 1471 391 1491 411 1509 423 1519 423 1523 421 1543 401 1555 381 1577 359 1591 339 1591 331 1587 325 1557 299ZM855 105 833 105 831 107 817 109 799 117 791 129 793 147 799 167 799 183 797 185 799 187 799 203 803 217 803 229 811 237 819 241 865 233 875 223 877 217 875 187 869 171 867 133 865 131 863 115 859 107Z"/>
<path fill="#fa913b" fill-rule="evenodd" d="M73 1137 61 1147 59 1153 59 1183 61 1185 61 1193 63 1195 67 1217 73 1233 75 1249 79 1257 79 1263 85 1281 85 1289 87 1291 87 1315 97 1345 107 1361 115 1369 129 1375 169 1373 185 1387 205 1425 211 1443 209 1453 187 1477 183 1485 183 1501 185 1507 203 1535 219 1551 237 1565 245 1569 251 1569 283 1543 285 1539 281 1527 283 1515 297 1501 321 1483 325 1477 325 1465 295 1417 281 1401 251 1341 251 1337 241 1315 237 1297 233 1291 227 1271 221 1261 209 1253 173 1253 161 1243 149 1217 145 1201 137 1195 123 1179 119 1165 119 1151 117 1149 119 1139 117 1135 111 1133 87 1133ZM1775 1003 1775 1045 1779 1053 1785 1057 1841 1055 1853 1059 1891 1059 1895 1057 1899 1051 1899 1007 1895 999 1887 995 1835 997 1825 993 1781 993ZM197 527 181 549 173 565 173 577 175 581 195 595 233 613 257 629 269 635 277 633 301 593 301 581 281 565 251 553 217 531 205 525ZM1551 297 1539 299 1529 309 1513 335 1487 361 1471 381 1471 389 1475 395 1495 413 1511 423 1521 421 1531 413 1545 395 1553 379 1583 347 1589 335 1587 327 1563 305ZM849 105 829 107 803 115 797 119 793 125 793 143 801 167 801 197 803 199 805 225 807 231 817 239 845 237 855 233 863 233 873 225 877 213 875 193 867 171 865 137 863 135 861 117 857 109Z"/>
<path fill="#f99142" fill-rule="evenodd" d="M75 1137 67 1141 61 1149 59 1155 59 1179 61 1181 61 1191 63 1193 67 1215 73 1231 75 1247 85 1277 85 1285 87 1287 87 1313 95 1339 111 1365 119 1371 131 1375 167 1371 173 1373 183 1383 191 1395 211 1439 211 1451 209 1455 185 1481 183 1501 207 1539 233 1561 243 1567 249 1567 281 1543 283 1539 281 1519 285 1511 321 1483 325 1475 325 1465 273 1387 273 1383 269 1379 269 1375 265 1371 265 1367 261 1363 261 1359 257 1355 257 1351 249 1337 231 1281 221 1261 207 1253 171 1253 161 1245 155 1233 155 1229 149 1219 143 1201 127 1189 119 1177 117 1161 115 1159 115 1139 113 1135 91 1133 89 1135ZM1777 1003 1777 1017 1775 1019 1777 1047 1779 1051 1785 1055 1811 1055 1821 1051 1837 1051 1847 1055 1891 1055 1895 1053 1897 1047 1897 1009 1895 1003 1887 997 1863 997 1851 1001 1839 1001 1827 997 1795 995 1793 997 1781 997ZM193 533 173 569 177 581 195 593 237 611 269 631 275 631 285 619 289 609 301 591 299 581 281 567 257 559 205 529 199 529ZM1551 299 1543 299 1531 309 1525 317 1517 335 1473 383 1475 393 1489 405 1491 409 1509 421 1519 421 1529 413 1539 401 1549 379 1577 349 1585 335 1583 325ZM849 107 825 109 817 113 801 117 793 127 793 139 803 165 803 193 805 195 809 229 811 233 819 239 843 237 851 233 861 233 869 229 875 219 875 199 873 197 873 189 869 177 865 171 861 129 855 111Z"/>
<path fill="#f9904a" fill-rule="evenodd" d="M71 1139 65 1143 61 1149 61 1189 63 1191 67 1213 71 1221 81 1267 87 1283 87 1309 97 1343 105 1357 117 1369 125 1373 171 1371 183 1381 203 1417 203 1421 213 1443 211 1453 207 1459 187 1479 183 1487 185 1505 197 1521 203 1533 221 1551 241 1565 249 1565 281 1539 281 1517 283 1513 323 1479 325 1467 305 1433 277 1395 247 1333 233 1287 223 1265 213 1255 207 1255 205 1253 173 1255 163 1249 155 1235 155 1231 149 1221 143 1203 129 1193 117 1181 113 1167 113 1155 111 1153 111 1137 107 1135 83 1135ZM1893 1007 1889 1001 1883 999 1863 1001 1853 1005 1839 1005 1827 1001 1783 1001 1779 1003 1779 1015 1777 1017 1779 1047 1787 1053 1799 1053 1801 1051 1809 1051 1821 1047 1837 1047 1849 1051 1885 1051 1893 1045ZM191 541 177 565 177 577 193 589 201 593 219 597 259 619 263 623 271 627 277 627 289 605 297 595 299 589 297 583 279 569 251 561 207 535 201 533ZM1551 301 1543 301 1535 307 1519 339 1477 385 1477 391 1481 397 1503 415 1511 419 1517 419 1531 407 1547 375 1573 347 1581 331 1579 325ZM847 109 831 109 821 113 813 113 807 117 803 117 795 125 795 141 805 165 805 187 807 189 807 201 811 215 811 229 817 237 837 237 847 233 863 231 871 225 875 215 871 187 865 177 861 163 861 145 859 143 857 123 855 117Z"/>
<path fill="#f89051" fill-rule="evenodd" d="M77 1137 69 1141 61 1151 61 1185 63 1187 67 1211 73 1225 75 1243 79 1251 79 1257 87 1281 89 1317 97 1341 107 1359 117 1369 125 1373 147 1373 149 1371 167 1369 173 1371 185 1383 213 1439 213 1451 211 1455 185 1483 183 1489 185 1503 205 1535 217 1547 233 1559 241 1563 247 1563 279 1539 281 1535 281 1515 295 1501 311 1491 323 1479 325 1467 293 1415 279 1399 245 1329 237 1299 233 1293 229 1277 223 1265 215 1257 205 1253 197 1253 195 1255 169 1255 159 1245 143 1205 137 1199 125 1193 115 1183 111 1173 109 1141 107 1137 101 1135ZM1779 1021 1779 1033 1783 1045 1821 1041 1823 1039 1845 1041 1847 1043 1879 1043 1883 1039 1883 1013 1877 1009 1851 1011 1849 1013 1831 1011 1829 1009 1783 1009ZM195 549 187 563 187 573 189 577 203 585 221 589 265 615 273 617 281 611 289 595 289 587 281 579 267 573 255 571 209 545 199 545ZM1547 309 1539 313 1535 327 1527 341 1499 371 1487 387 1487 393 1503 409 1511 413 1527 401 1539 373 1563 347 1571 333 1569 327 1559 317ZM841 111 819 113 811 117 805 117 799 121 795 129 799 147 807 161 809 195 811 197 815 231 821 237 861 231 865 229 873 219 871 193 859 167 855 127 851 117Z"/>
<path fill="#f68d59" fill-rule="evenodd" d="M69 1141 61 1151 61 1181 63 1183 63 1191 65 1193 69 1215 75 1231 79 1255 83 1263 83 1269 89 1287 89 1315 99 1345 109 1361 121 1371 127 1373 143 1373 157 1369 171 1369 183 1379 209 1427 215 1445 209 1459 197 1469 185 1485 185 1501 209 1539 235 1559 245 1561 263 1549 279 1535 279 1519 283 1511 321 1481 325 1473 323 1463 291 1413 281 1403 249 1339 231 1283 223 1265 211 1255 185 1255 183 1257 167 1255 159 1247 143 1207 135 1199 125 1195 113 1185 107 1169 105 1139 93 1135ZM803 121 799 125 797 133 801 145 805 149 811 163 811 181 813 183 813 197 815 199 819 231 821 233 845 233 853 229 863 229 871 219 871 205 869 203 867 189 857 171 853 135 849 123 839 115 811 117Z"/>
<path fill="#f58a62" fill-rule="evenodd" d="M75 1139 67 1143 61 1153 61 1177 63 1179 63 1189 65 1191 69 1213 75 1229 79 1253 89 1283 89 1313 97 1339 107 1357 123 1371 141 1373 153 1369 173 1369 183 1377 193 1393 215 1441 215 1451 213 1455 189 1479 185 1487 185 1501 205 1533 219 1547 237 1559 245 1559 267 1543 277 1533 281 1513 291 1503 321 1481 325 1471 323 1469 323 1463 311 1447 295 1419 277 1397 277 1393 273 1389 253 1349 249 1335 243 1325 233 1289 221 1263 209 1255 189 1255 187 1257 169 1257 165 1255 155 1241 155 1237 143 1209 135 1201 121 1195 109 1185 105 1175 103 1143 101 1139 97 1137ZM805 123 801 129 803 131 803 137 815 159 817 187 819 189 819 199 821 201 821 211 823 213 825 227 827 229 849 229 863 225 867 221 867 207 865 205 865 197 857 185 851 169 849 143 843 125 835 121 809 121Z"/>
<path fill="#f4876b" fill-rule="evenodd" d="M77 1139 63 1149 63 1185 77 1235 79 1251 89 1281 89 1309 99 1343 107 1357 123 1371 137 1373 139 1371 149 1371 161 1367 171 1367 185 1379 203 1411 203 1415 213 1433 217 1449 211 1459 189 1479 185 1487 185 1499 209 1537 225 1551 237 1557 243 1557 275 1533 279 1515 293 1501 319 1483 323 1477 323 1465 293 1417 277 1397 249 1341 239 1313 237 1301 233 1295 233 1289 221 1263 209 1255 193 1255 191 1257 179 1257 177 1259 167 1257 157 1247 153 1233 141 1207 133 1201 113 1193 107 1187 101 1171 99 1141 91 1137Z"/>
<path fill="#f28473" fill-rule="evenodd" d="M73 1141 69 1143 63 1151 63 1181 65 1183 65 1193 69 1201 69 1209 75 1223 79 1249 89 1279 89 1287 91 1289 91 1319 97 1331 99 1341 109 1359 117 1367 125 1371 145 1371 157 1367 175 1367 185 1377 217 1441 217 1453 189 1481 185 1489 185 1497 205 1531 221 1547 235 1555 241 1555 267 1537 275 1529 281 1511 289 1503 311 1489 321 1479 323 1475 323 1465 293 1417 279 1401 249 1341 249 1337 241 1321 237 1301 221 1263 207 1255 197 1255 183 1259 169 1259 165 1257 157 1249 153 1235 141 1209 137 1205 109 1193 103 1187 97 1167 95 1141 93 1139Z"/>
<path fill="#f1817c" fill-rule="evenodd" d="M75 1141 71 1143 63 1153 63 1175 65 1177 65 1189 67 1191 71 1213 77 1229 79 1247 85 1261 85 1269 91 1285 91 1317 97 1335 111 1361 125 1371 143 1371 163 1365 173 1365 177 1367 187 1379 211 1425 211 1429 219 1445 217 1455 189 1481 187 1501 209 1535 229 1551 239 1553 273 1529 279 1513 291 1501 297 1499 321 1479 323 1475 321 1461 291 1415 277 1399 277 1395 273 1391 269 1379 265 1375 247 1337 233 1291 223 1267 213 1257 207 1257 205 1255 175 1259 173 1261 171 1259 165 1259 155 1247 153 1237 141 1211 135 1205 111 1197 101 1189 95 1173 93 1143 91 1141Z"/>
<path fill="#f17c7c" fill-rule="evenodd" d="M73 1143 65 1149 65 1187 69 1195 69 1203 77 1225 77 1235 79 1237 81 1251 91 1281 91 1315 99 1339 109 1357 119 1367 127 1371 141 1371 159 1365 175 1365 187 1377 219 1441 219 1453 189 1483 187 1487 187 1499 207 1531 221 1545 233 1551 237 1551 273 1525 279 1511 287 1503 293 1501 299 1495 313 1487 321 1479 323 1475 321 1461 311 1449 299 1427 277 1399 249 1343 237 1309 237 1303 233 1297 233 1291 223 1267 211 1257 191 1257 179 1261 167 1261 163 1259 155 1249 153 1239 141 1213 133 1205 111 1199 97 1189 91 1169 89 1143 85 1141Z"/>
<path fill="#f27474" fill-rule="evenodd" d="M75 1143 65 1151 65 1181 67 1183 67 1191 69 1193 73 1215 77 1223 81 1249 91 1279 91 1287 93 1289 91 1311 101 1343 109 1357 123 1369 139 1371 165 1363 173 1363 177 1365 189 1379 221 1443 221 1453 191 1481 187 1495 191 1505 211 1535 223 1545 235 1549 265 1529 287 1503 317 1483 323 1473 323 1467 293 1419 279 1403 273 1389 269 1385 269 1381 261 1369 257 1357 253 1353 253 1349 241 1323 237 1303 221 1265 211 1257 193 1257 183 1261 165 1261 161 1259 155 1251 151 1235 139 1211 125 1203 105 1199 95 1191 89 1175 85 1145 83 1143Z"/>
<path fill="#f36c6c" fill-rule="evenodd" d="M73 1145 69 1147 65 1153 65 1173 67 1175 67 1185 73 1205 73 1213 79 1229 81 1247 85 1255 87 1269 93 1285 93 1319 99 1331 101 1341 111 1359 125 1369 135 1371 163 1363 175 1363 185 1371 223 1447 221 1455 191 1483 189 1487 189 1499 209 1531 225 1545 237 1545 261 1529 285 1503 311 1487 321 1477 323 1471 321 1469 321 1463 309 1447 293 1419 275 1397 249 1345 233 1293 221 1265 209 1257 195 1257 177 1263 165 1263 155 1253 147 1227 135 1209 125 1205 103 1201 91 1191 85 1173 83 1149 81 1145Z"/>
<path fill="#f46464" fill-rule="evenodd" d="M69 1149 67 1153 67 1179 69 1181 69 1191 73 1201 75 1217 79 1225 81 1245 93 1281 93 1317 101 1341 113 1361 125 1369 143 1369 159 1363 173 1361 181 1365 187 1373 225 1449 223 1455 193 1481 189 1489 189 1497 209 1529 221 1541 233 1543 267 1521 279 1507 313 1485 321 1477 321 1463 291 1417 277 1401 249 1345 249 1341 241 1325 241 1319 237 1311 237 1305 233 1299 233 1293 221 1265 209 1257 199 1257 179 1263 163 1263 155 1255 147 1229 141 1217 135 1211 127 1207 97 1201 87 1191 83 1181 79 1151 77 1147Z"/>
<path fill="#f65c5c" fill-rule="evenodd" d="M69 1151 69 1185 71 1187 75 1213 81 1231 81 1241 85 1249 89 1271 93 1279 93 1315 101 1339 111 1357 125 1369 141 1369 165 1361 177 1361 187 1371 209 1413 209 1417 213 1421 217 1433 225 1445 225 1455 193 1483 191 1487 191 1497 209 1527 221 1539 231 1539 253 1527 283 1503 315 1483 321 1475 321 1465 289 1415 273 1395 273 1391 269 1387 265 1375 261 1371 257 1359 253 1355 245 1337 245 1331 241 1325 239 1313 223 1269 213 1259 207 1257 191 1259 173 1265 161 1263 153 1253 147 1231 141 1219 133 1211 121 1207 101 1205 95 1203 85 1195 79 1181 75 1153Z"/>
<path fill="#f75454" fill-rule="evenodd" d="M73 1169 71 1177 73 1179 75 1207 81 1227 81 1237 83 1239 85 1253 89 1261 89 1269 93 1275 93 1283 95 1285 93 1313 103 1343 111 1357 119 1365 127 1369 139 1369 171 1359 179 1361 187 1369 217 1431 225 1441 229 1451 223 1461 207 1471 195 1483 193 1487 193 1499 203 1511 209 1523 221 1535 227 1535 237 1529 241 1529 257 1521 287 1499 309 1487 321 1475 321 1465 309 1449 293 1421 277 1403 247 1343 233 1295 221 1267 213 1259 193 1259 177 1265 161 1265 151 1251 151 1245 141 1221 129 1211 99 1207 83 1199 77 1191 73 1177Z"/>
<path fill="#f84c4c" fill-rule="evenodd" d="M77 1203 77 1213 81 1221 81 1233 95 1281 95 1319 109 1353 117 1363 129 1369 145 1367 167 1359 177 1359 181 1361 189 1371 217 1429 231 1449 229 1459 225 1463 215 1467 201 1479 197 1485 197 1495 205 1501 223 1521 239 1523 263 1513 285 1499 289 1499 313 1483 319 1477 321 1467 291 1419 281 1409 273 1397 273 1393 269 1389 265 1377 261 1373 249 1349 239 1321 237 1307 233 1301 229 1285 221 1267 211 1259 195 1259 173 1267 161 1267 151 1253 149 1241 141 1223 133 1215 123 1211 97 1209 83 1203Z"/>
<path fill="#f94444" fill-rule="evenodd" d="M81 1209 81 1227 83 1229 85 1247 89 1253 89 1261 97 1285 95 1317 107 1349 117 1363 133 1369 173 1357 185 1363 217 1427 233 1447 233 1459 231 1463 211 1475 211 1479 219 1487 229 1503 239 1513 253 1513 263 1507 277 1503 313 1483 321 1471 319 1463 289 1417 275 1401 261 1371 257 1367 257 1363 245 1341 245 1335 241 1329 237 1309 221 1267 211 1259 197 1259 189 1263 163 1269 153 1261 149 1253 149 1245 141 1225 133 1217 123 1213 105 1213 103 1211Z"/>
<path fill="#fa3c3c" fill-rule="evenodd" d="M85 1213 83 1215 85 1243 97 1279 95 1315 103 1339 113 1357 125 1367 141 1367 169 1357 179 1357 185 1361 217 1425 237 1449 237 1463 231 1473 231 1479 237 1491 247 1503 255 1505 257 1503 281 1499 293 1495 311 1483 319 1475 319 1465 293 1423 273 1399 245 1343 245 1337 237 1317 233 1297 219 1265 209 1259 201 1259 171 1269 159 1269 153 1265 149 1257 147 1243 141 1231 141 1227 133 1219 121 1215 95 1215 93 1213Z"/>
<path fill="#fb3434" fill-rule="evenodd" d="M85 1219 85 1235 93 1259 93 1267 97 1275 97 1303 95 1305 95 1313 105 1343 113 1357 127 1367 139 1367 173 1355 185 1359 191 1367 193 1375 197 1379 197 1383 201 1387 201 1391 205 1395 205 1399 217 1419 217 1423 241 1449 245 1477 249 1485 259 1495 289 1495 313 1481 319 1473 319 1467 289 1419 273 1401 273 1397 269 1393 245 1345 245 1339 239 1325 237 1311 229 1287 217 1263 203 1259 201 1261 181 1265 175 1269 159 1271 149 1263 145 1249 145 1241 137 1225 125 1219 97 1219 95 1217Z"/>
<path fill="#fc2c2c" fill-rule="evenodd" d="M89 1225 89 1243 93 1251 93 1259 99 1277 97 1319 101 1325 105 1341 117 1361 127 1367 137 1367 169 1355 181 1355 191 1363 193 1371 219 1423 225 1431 233 1435 245 1447 257 1473 269 1487 277 1491 293 1491 311 1481 317 1475 317 1463 301 1441 297 1431 273 1403 273 1399 269 1395 245 1347 241 1335 241 1327 233 1305 233 1299 229 1293 221 1269 213 1261 197 1261 171 1271 159 1273 153 1271 145 1263 143 1243 139 1233 133 1227 121 1223 93 1223Z"/>
<path fill="#fc2424" fill-rule="evenodd" d="M105 1263 101 1271 101 1289 97 1299 97 1317 113 1355 121 1363 129 1367 149 1363 173 1353 179 1353 189 1357 193 1361 201 1383 205 1387 205 1391 225 1427 243 1437 265 1459 273 1473 283 1483 293 1487 295 1485 301 1485 311 1479 317 1473 317 1465 305 1449 293 1427 273 1405 245 1351 241 1339 241 1329 237 1321 237 1313 219 1267 211 1261 199 1261 185 1265 169 1273 151 1273 129 1259 117 1259Z"/>
<path fill="#fd1c1c" fill-rule="evenodd" d="M213 1389 221 1413 227 1419 261 1435 275 1449 285 1467 295 1477 305 1479 315 1473 315 1465 301 1445 297 1435 285 1419 273 1409 261 1391 261 1387 257 1385 257 1381 249 1371 239 1373 219 1383ZM217 1265 209 1261 201 1261 165 1275 133 1273 105 1283 101 1289 101 1295 97 1303 97 1315 103 1327 105 1339 115 1357 125 1365 139 1365 163 1357 169 1353 187 1353 207 1361 225 1357 231 1353 237 1353 241 1349 241 1333 237 1323 237 1315 225 1279Z"/>
<path fill="#fd1414" fill-rule="evenodd" d="M283 1427 283 1433 289 1447 297 1459 309 1469 311 1467 309 1459 297 1443 297 1439 289 1429ZM221 1271 213 1263 205 1261 203 1263 189 1265 165 1277 137 1277 107 1287 101 1293 97 1311 101 1325 105 1331 105 1337 117 1359 127 1365 137 1365 173 1351 205 1351 235 1341 239 1335 237 1317Z"/>
<path fill="#fe0c0c" fill-rule="evenodd" d="M213 1263 197 1263 163 1279 135 1281 111 1289 101 1297 99 1317 105 1329 105 1335 109 1341 109 1345 115 1355 123 1363 129 1365 143 1363 169 1351 203 1347 227 1339 237 1333 237 1319 233 1311 229 1293 219 1269Z"/>
<path fill="#ff0404" fill-rule="evenodd" d="M217 1267 211 1263 201 1263 183 1269 163 1281 139 1283 105 1295 101 1301 99 1313 109 1343 117 1357 125 1363 141 1363 171 1349 205 1343 223 1335 233 1333 237 1327 233 1313 233 1305Z"/>
<path fill="#fb0000" fill-rule="evenodd" d="M219 1271 213 1265 205 1263 181 1271 167 1281 153 1283 151 1285 141 1285 107 1297 101 1303 101 1319 105 1325 109 1341 117 1355 127 1363 137 1363 159 1355 173 1347 201 1341 233 1329 235 1325 233 1307 229 1301 229 1295Z"/>
<path fill="#f30000" fill-rule="evenodd" d="M217 1269 211 1265 193 1267 177 1275 167 1283 153 1287 143 1287 105 1301 101 1307 101 1315 109 1339 119 1357 129 1363 141 1361 161 1351 165 1351 173 1345 199 1339 205 1335 231 1327 233 1325 233 1311Z"/>
<path fill="#eb0000" fill-rule="evenodd" d="M217 1271 209 1265 197 1267 183 1273 163 1287 139 1291 133 1295 107 1303 103 1307 103 1317 109 1331 109 1337 117 1353 127 1361 137 1361 149 1357 177 1341 195 1337 231 1323 233 1319 231 1307Z"/>
<path fill="#e30000" fill-rule="evenodd" d="M217 1273 211 1267 201 1267 183 1275 175 1283 165 1289 143 1293 107 1307 105 1309 105 1319 109 1325 113 1343 119 1353 125 1359 139 1359 161 1349 179 1337 191 1335 215 1325 225 1323 231 1317 231 1313 229 1311 229 1303 225 1297 225 1291Z"/>
<path fill="#da0000" fill-rule="evenodd" d="M217 1275 209 1269 197 1271 185 1277 169 1291 143 1297 109 1311 107 1315 109 1317 109 1325 121 1353 129 1359 139 1357 157 1349 165 1341 179 1333 191 1331 223 1319 229 1311Z"/>
<path fill="#d20000" fill-rule="evenodd" d="M213 1279 205 1275 203 1277 197 1277 189 1281 177 1293 165 1299 151 1301 117 1315 115 1317 115 1327 125 1351 129 1353 141 1351 153 1345 169 1331 211 1317 221 1311 221 1297Z"/>
</g>
<defs><clipPath id="pc"><rect x="84.5" y="153.5" width="494" height="495"/></clipPath></defs>
<circle cx="328.7" cy="407" r="243" fill="none" stroke="#2a3a2a" stroke-width="1" stroke-dasharray="3.6 3.2" clip-path="url(#pc)"/>
<g fill="none" stroke="#2b2b2b" stroke-width="0.9">
<path d="M130.4 525.0 L139.7 539.3 L166.6 522.0 L157.3 507.7ZM148.5 523.5L158.5 506.0"/>
<path d="M109.0 479.3 L114.9 495.2 L145.0 484.1 L139.1 468.2ZM127.0 481.7L137.0 464.2"/>
<path d="M100.4 438.9 L103.3 455.7 L134.8 450.1 L131.9 433.3ZM117.6 444.5L127.6 427.0"/>
<path d="M114.2 319.9 L108.4 335.9 L138.4 346.9 L144.2 330.9ZM126.3 333.4L136.3 315.9"/>
<path d="M134.7 283.2 L126.1 297.8 L153.7 314.0 L162.3 299.4ZM144.2 298.6L154.2 281.1"/>
<path d="M158.9 254.7 L148.1 267.8 L172.7 288.3 L183.5 275.2ZM165.8 271.5L175.8 254.0"/>
<path d="M256.9 186.9 L240.9 192.7 L251.9 222.7 L267.9 216.9ZM254.4 204.8L264.4 187.3"/>
<path d="M298.9 180.1 L282.1 182.9 L287.5 214.5 L304.3 211.7ZM293.2 197.3L303.2 179.8"/>
<path d="M338.0 177.4 L321.0 177.4 L320.8 209.4 L337.8 209.4ZM329.4 193.4L339.4 175.9"/>
<path d="M451.3 211.8 L436.5 203.3 L420.5 231.0 L435.3 239.5ZM435.9 221.4L445.9 203.9"/>
<path d="M483.5 237.3 L470.6 226.3 L449.9 250.7 L462.8 261.7ZM466.7 244.0L476.7 226.5"/>
<path d="M512.3 267.5 L501.5 254.4 L476.7 274.7 L487.5 287.8ZM494.5 271.1L504.5 253.6"/>
<path d="M560.2 377.3 L557.4 360.5 L525.8 365.7 L528.6 382.5ZM543.0 371.5L561.0 361.5"/>
<path d="M559.3 418.7 L559.5 401.7 L527.5 401.3 L527.3 418.3ZM543.4 410.0L561.4 400.0"/>
<path d="M555.3 456.2 L558.2 439.5 L526.7 433.8 L523.8 450.5ZM541.0 445.0L559.0 435.0"/>
<path d="M498.6 562.7 L509.6 549.8 L485.2 529.1 L474.2 542.0ZM491.9 545.9L509.9 535.9"/>
<path d="M470.6 589.4 L483.6 578.5 L463.0 554.0 L450.0 564.9ZM466.8 571.7L484.8 561.7"/>
<path d="M437.0 610.8 L451.7 602.3 L435.6 574.6 L420.9 583.1ZM436.3 592.7L446.3 575.2"/>
</g>
<text class="l" x="161.7" y="500.4">LED_01</text>
<text class="l" x="161.1" y="509.7">.0 W</text>
<text class="l" x="140.2" y="458.6">LED_02</text>
<text class="l" x="139.6" y="467.9">.0 W</text>
<text class="l" x="130.8" y="421.4">LED_03</text>
<text class="l" x="130.2" y="430.7">.0 W</text>
<text class="l" x="139.5" y="310.3">LED_04</text>
<text class="l" x="138.9" y="319.6">.0 W</text>
<text class="l" x="157.4" y="275.5">LED_05</text>
<text class="l" x="156.8" y="284.8">.0 W</text>
<text class="l" x="179.0" y="248.4">LED_06</text>
<text class="l" x="178.4" y="257.7">.0 W</text>
<text class="l" x="267.6" y="181.7">LED_07</text>
<text class="l" x="267.0" y="191.0">.0 W</text>
<text class="l" x="306.4" y="174.2">LED_08</text>
<text class="l" x="305.8" y="183.5">.0 W</text>
<text class="l" x="342.6" y="170.3">LED_09</text>
<text class="l" x="342.0" y="179.6">.0 W</text>
<text class="l" x="449.1" y="198.3">LED_10</text>
<text class="l" x="448.5" y="207.6">.0 W</text>
<text class="l" x="479.9" y="220.9">LED_11</text>
<text class="l" x="479.3" y="230.2">.0 W</text>
<text class="l" x="507.7" y="248.0">LED_12</text>
<text class="l" x="507.1" y="257.3">.0 W</text>
<text class="l" x="563.9" y="355.6">LED_13</text>
<text class="l" x="563.5" y="364.9">.0 W</text>
<text class="l" x="564.3" y="394.1">LED_14</text>
<text class="l" x="563.9" y="403.4">.0 W</text>
<text class="l" x="561.9" y="429.1">LED_15</text>
<text class="l" x="561.5" y="438.4">.0 W</text>
<text class="l" x="512.8" y="530.0">LED_16</text>
<text class="l" x="512.4" y="539.3">.0 W</text>
<text class="l" x="487.7" y="555.8">LED_17</text>
<text class="l" x="487.3" y="565.1">.0 W</text>
<text class="l" x="449.5" y="569.6">LED_18</text>
<text class="l" x="448.9" y="578.9">.0 W</text>
<g stroke="#7c7c7c" stroke-width="1" fill="none" shape-rendering="crispEdges">
<path d="M84.5 153.5H578.5V648.5H84.5Z"/>
<path d="M578.5 648.5H586.5"/>
<path d="M84.5 648.5v8M84.5 153.5v-8"/>
<path d="M134.9 648.5v5M134.9 153.5v-5"/>
<path d="M185.4 648.5v8M185.4 153.5v-8"/>
<path d="M235.9 648.5v5M235.9 153.5v-5"/>
<path d="M286.3 648.5v8M286.3 153.5v-8"/>
<path d="M336.8 648.5v5M336.8 153.5v-5"/>
<path d="M387.2 648.5v8M387.2 153.5v-8"/>
<path d="M437.7 648.5v5M437.7 153.5v-5"/>
<path d="M488.1 648.5v8M488.1 153.5v-8"/>
<path d="M538.5 648.5v5M538.5 153.5v-5"/>
<path d="M84.5 648.4h-8M578.5 648.4h8"/>
<path d="M84.5 623.2h-5.5M578.5 623.2h5.5"/>
<path d="M84.5 597.9h-8M578.5 597.9h8"/>
<path d="M84.5 572.7h-5.5M578.5 572.7h5.5"/>
<path d="M84.5 547.5h-8M578.5 547.5h8"/>
<path d="M84.5 522.3h-5.5M578.5 522.3h5.5"/>
<path d="M84.5 497.0h-8M578.5 497.0h8"/>
<path d="M84.5 471.8h-5.5M578.5 471.8h5.5"/>
<path d="M84.5 446.6h-8M578.5 446.6h8"/>
<path d="M84.5 421.4h-5.5M578.5 421.4h5.5"/>
<path d="M84.5 396.1h-8M578.5 396.1h8"/>
<path d="M84.5 370.9h-5.5M578.5 370.9h5.5"/>
<path d="M84.5 345.7h-8M578.5 345.7h8"/>
<path d="M84.5 320.5h-5.5M578.5 320.5h5.5"/>
<path d="M84.5 295.2h-8M578.5 295.2h8"/>
<path d="M84.5 270.0h-5.5M578.5 270.0h5.5"/>
<path d="M84.5 244.8h-8M578.5 244.8h8"/>
<path d="M84.5 219.6h-5.5M578.5 219.6h5.5"/>
<path d="M84.5 194.3h-8M578.5 194.3h8"/>
<path d="M84.5 169.1h-5.5M578.5 169.1h5.5"/>
</g>
<text class="t" x="84.5" y="674" text-anchor="middle" style="letter-spacing:0">0</text>
<text class="t" x="185.4" y="674" text-anchor="middle" style="letter-spacing:0">2</text>
<text class="t" x="286.3" y="674" text-anchor="middle" style="letter-spacing:0">4</text>
<text class="t" x="387.2" y="674" text-anchor="middle" style="letter-spacing:0">6</text>
<text class="t" x="488.1" y="674" text-anchor="middle" style="letter-spacing:0">8</text>
<text class="t" x="70" y="653.3" text-anchor="end" style="letter-spacing:0;font-size:14px">0</text>
<text class="t" x="70" y="602.8" text-anchor="end" style="letter-spacing:0;font-size:14px">1</text>
<text class="t" x="70" y="552.4" text-anchor="end" style="letter-spacing:0;font-size:14px">2</text>
<text class="t" x="70" y="501.9" text-anchor="end" style="letter-spacing:0;font-size:14px">3</text>
<text class="t" x="70" y="451.5" text-anchor="end" style="letter-spacing:0;font-size:14px">4</text>
<text class="t" x="70" y="401.0" text-anchor="end" style="letter-spacing:0;font-size:14px">5</text>
<text class="t" x="70" y="350.6" text-anchor="end" style="letter-spacing:0;font-size:14px">6</text>
<text class="t" x="70" y="300.1" text-anchor="end" style="letter-spacing:0;font-size:14px">7</text>
<text class="t" x="70" y="249.7" text-anchor="end" style="letter-spacing:0;font-size:14px">8</text>
<text class="t" x="70" y="199.2" text-anchor="end" style="letter-spacing:0;font-size:14px">9</text>
<text class="t" x="307.6" y="694.5" textLength="48.9" lengthAdjust="spacingAndGlyphs" style="letter-spacing:0">x (mm)</text>
<text class="t" x="-24.3" y="0" textLength="48.6" lengthAdjust="spacing" style="letter-spacing:0" transform="translate(50.3 400.7) rotate(-90)">y (mm)</text>
<defs><linearGradient id="cb" x1="0" y1="1" x2="0" y2="0">
<stop offset="0.00000" stop-color="#8800d4"/><stop offset="0.00625" stop-color="#8800d4"/>
<stop offset="0.00625" stop-color="#7f00d7"/><stop offset="0.01250" stop-color="#7f00d7"/>
<stop offset="0.01250" stop-color="#7700da"/><stop offset="0.01875" stop-color="#7700da"/>
<stop offset="0.01875" stop-color="#6e00dd"/><stop offset="0.02500" stop-color="#6e00dd"/>
<stop offset="0.02500" stop-color="#6600e1"/><stop offset="0.03125" stop-color="#6600e1"/>
<stop offset="0.03125" stop-color="#5d00e4"/><stop offset="0.03750" stop-color="#5d00e4"/>
<stop offset="0.03750" stop-color="#5500e7"/><stop offset="0.04375" stop-color="#5500e7"/>
<stop offset="0.04375" stop-color="#4c00ea"/><stop offset="0.05000" stop-color="#4c00ea"/>
<stop offset="0.05000" stop-color="#4400ed"/><stop offset="0.05625" stop-color="#4400ed"/>
<stop offset="0.05625" stop-color="#3c00ef"/><stop offset="0.06250" stop-color="#3c00ef"/>
<stop offset="0.06250" stop-color="#3400f1"/><stop offset="0.06875" stop-color="#3400f1"/>
<stop offset="0.06875" stop-color="#2b00f4"/><stop offset="0.07500" stop-color="#2b00f4"/>
<stop offset="0.07500" stop-color="#2300f6"/><stop offset="0.08125" stop-color="#2300f6"/>
<stop offset="0.08125" stop-color="#1b00f8"/><stop offset="0.08750" stop-color="#1b00f8"/>
<stop offset="0.08750" stop-color="#1300fa"/><stop offset="0.09375" stop-color="#1300fa"/>
<stop offset="0.09375" stop-color="#0b00fc"/><stop offset="0.10000" stop-color="#0b00fc"/>
<stop offset="0.10000" stop-color="#0200fe"/><stop offset="0.10625" stop-color="#0200fe"/>
<stop offset="0.10625" stop-color="#0905ff"/><stop offset="0.11250" stop-color="#0905ff"/>
<stop offset="0.11250" stop-color="#150dff"/><stop offset="0.11875" stop-color="#150dff"/>
<stop offset="0.11875" stop-color="#2214ff"/><stop offset="0.12500" stop-color="#2214ff"/>
<stop offset="0.12500" stop-color="#2e1cff"/><stop offset="0.13125" stop-color="#2e1cff"/>
<stop offset="0.13125" stop-color="#3a24ff"/><stop offset="0.13750" stop-color="#3a24ff"/>
<stop offset="0.13750" stop-color="#462cff"/><stop offset="0.14375" stop-color="#462cff"/>
<stop offset="0.14375" stop-color="#5234ff"/><stop offset="0.15000" stop-color="#5234ff"/>
<stop offset="0.15000" stop-color="#5e3cff"/><stop offset="0.15625" stop-color="#5e3cff"/>
<stop offset="0.15625" stop-color="#6a43ff"/><stop offset="0.16250" stop-color="#6a43ff"/>
<stop offset="0.16250" stop-color="#764bff"/><stop offset="0.16875" stop-color="#764bff"/>
<stop offset="0.16875" stop-color="#8152ff"/><stop offset="0.17500" stop-color="#8152ff"/>
<stop offset="0.17500" stop-color="#8c59ff"/><stop offset="0.18125" stop-color="#8c59ff"/>
<stop offset="0.18125" stop-color="#975fff"/><stop offset="0.18750" stop-color="#975fff"/>
<stop offset="0.18750" stop-color="#a469ff"/><stop offset="0.19375" stop-color="#a469ff"/>
<stop offset="0.19375" stop-color="#b273ff"/><stop offset="0.20000" stop-color="#b273ff"/>
<stop offset="0.20000" stop-color="#bc7dff"/><stop offset="0.20625" stop-color="#bc7dff"/>
<stop offset="0.20625" stop-color="#a987ff"/><stop offset="0.21250" stop-color="#a987ff"/>
<stop offset="0.21250" stop-color="#9790ff"/><stop offset="0.21875" stop-color="#9790ff"/>
<stop offset="0.21875" stop-color="#8995ff"/><stop offset="0.22500" stop-color="#8995ff"/>
<stop offset="0.22500" stop-color="#7c9aff"/><stop offset="0.23125" stop-color="#7c9aff"/>
<stop offset="0.23125" stop-color="#73a1ff"/><stop offset="0.23750" stop-color="#73a1ff"/>
<stop offset="0.23750" stop-color="#6ba9ff"/><stop offset="0.24375" stop-color="#6ba9ff"/>
<stop offset="0.24375" stop-color="#64b0ff"/><stop offset="0.25000" stop-color="#64b0ff"/>
<stop offset="0.25000" stop-color="#5abaff"/><stop offset="0.25625" stop-color="#5abaff"/>
<stop offset="0.25625" stop-color="#4ec4ff"/><stop offset="0.26250" stop-color="#4ec4ff"/>
<stop offset="0.26250" stop-color="#42d0ff"/><stop offset="0.26875" stop-color="#42d0ff"/>
<stop offset="0.26875" stop-color="#36daff"/><stop offset="0.27500" stop-color="#36daff"/>
<stop offset="0.27500" stop-color="#28e5ff"/><stop offset="0.28125" stop-color="#28e5ff"/>
<stop offset="0.28125" stop-color="#19efff"/><stop offset="0.28750" stop-color="#19efff"/>
<stop offset="0.28750" stop-color="#0af8ff"/><stop offset="0.29375" stop-color="#0af8ff"/>
<stop offset="0.29375" stop-color="#00fefb"/><stop offset="0.30000" stop-color="#00fefb"/>
<stop offset="0.30000" stop-color="#00fdf0"/><stop offset="0.30625" stop-color="#00fdf0"/>
<stop offset="0.30625" stop-color="#00fbe4"/><stop offset="0.31250" stop-color="#00fbe4"/>
<stop offset="0.31250" stop-color="#00f9d8"/><stop offset="0.31875" stop-color="#00f9d8"/>
<stop offset="0.31875" stop-color="#00f8cc"/><stop offset="0.32500" stop-color="#00f8cc"/>
<stop offset="0.32500" stop-color="#00f6bd"/><stop offset="0.33125" stop-color="#00f6bd"/>
<stop offset="0.33125" stop-color="#00f5af"/><stop offset="0.33750" stop-color="#00f5af"/>
<stop offset="0.33750" stop-color="#00f3a1"/><stop offset="0.34375" stop-color="#00f3a1"/>
<stop offset="0.34375" stop-color="#00f293"/><stop offset="0.35000" stop-color="#00f293"/>
<stop offset="0.35000" stop-color="#00f084"/><stop offset="0.35625" stop-color="#00f084"/>
<stop offset="0.35625" stop-color="#00f174"/><stop offset="0.36250" stop-color="#00f174"/>
<stop offset="0.36250" stop-color="#00f462"/><stop offset="0.36875" stop-color="#00f462"/>
<stop offset="0.36875" stop-color="#00f650"/><stop offset="0.37500" stop-color="#00f650"/>
<stop offset="0.37500" stop-color="#00f83e"/><stop offset="0.38125" stop-color="#00f83e"/>
<stop offset="0.38125" stop-color="#00fa2c"/><stop offset="0.38750" stop-color="#00fa2c"/>
<stop offset="0.38750" stop-color="#00fc1b"/><stop offset="0.39375" stop-color="#00fc1b"/>
<stop offset="0.39375" stop-color="#00fe09"/><stop offset="0.40000" stop-color="#00fe09"/>
<stop offset="0.40000" stop-color="#08fe06"/><stop offset="0.40625" stop-color="#08fe06"/>
<stop offset="0.40625" stop-color="#17fb13"/><stop offset="0.41250" stop-color="#17fb13"/>
<stop offset="0.41250" stop-color="#26f81f"/><stop offset="0.41875" stop-color="#26f81f"/>
<stop offset="0.41875" stop-color="#35f62c"/><stop offset="0.42500" stop-color="#35f62c"/>
<stop offset="0.42500" stop-color="#44f338"/><stop offset="0.43125" stop-color="#44f338"/>
<stop offset="0.43125" stop-color="#53f045"/><stop offset="0.43750" stop-color="#53f045"/>
<stop offset="0.43750" stop-color="#61ee51"/><stop offset="0.44375" stop-color="#61ee51"/>
<stop offset="0.44375" stop-color="#6fed59"/><stop offset="0.45000" stop-color="#6fed59"/>
<stop offset="0.45000" stop-color="#7ceb62"/><stop offset="0.45625" stop-color="#7ceb62"/>
<stop offset="0.45625" stop-color="#89ea6a"/><stop offset="0.46250" stop-color="#89ea6a"/>
<stop offset="0.46250" stop-color="#97e972"/><stop offset="0.46875" stop-color="#97e972"/>
<stop offset="0.46875" stop-color="#a5e879"/><stop offset="0.47500" stop-color="#a5e879"/>
<stop offset="0.47500" stop-color="#b5e67a"/><stop offset="0.48125" stop-color="#b5e67a"/>
<stop offset="0.48125" stop-color="#c4e57c"/><stop offset="0.48750" stop-color="#c4e57c"/>
<stop offset="0.48750" stop-color="#d4e47e"/><stop offset="0.49375" stop-color="#d4e47e"/>
<stop offset="0.49375" stop-color="#e4e37f"/><stop offset="0.50000" stop-color="#e4e37f"/>
<stop offset="0.50000" stop-color="#ece27e"/><stop offset="0.50625" stop-color="#ece27e"/>
<stop offset="0.50625" stop-color="#eee27a"/><stop offset="0.51250" stop-color="#eee27a"/>
<stop offset="0.51250" stop-color="#eee276"/><stop offset="0.51875" stop-color="#eee276"/>
<stop offset="0.51875" stop-color="#f0e272"/><stop offset="0.52500" stop-color="#f0e272"/>
<stop offset="0.52500" stop-color="#f1e36b"/><stop offset="0.53125" stop-color="#f1e36b"/>
<stop offset="0.53125" stop-color="#f2e661"/><stop offset="0.53750" stop-color="#f2e661"/>
<stop offset="0.53750" stop-color="#f4e957"/><stop offset="0.54375" stop-color="#f4e957"/>
<stop offset="0.54375" stop-color="#f6ec4d"/><stop offset="0.55000" stop-color="#f6ec4d"/>
<stop offset="0.55000" stop-color="#f7ef43"/><stop offset="0.55625" stop-color="#f7ef43"/>
<stop offset="0.55625" stop-color="#f9f239"/><stop offset="0.56250" stop-color="#f9f239"/>
<stop offset="0.56250" stop-color="#faf42f"/><stop offset="0.56875" stop-color="#faf42f"/>
<stop offset="0.56875" stop-color="#fbf625"/><stop offset="0.57500" stop-color="#fbf625"/>
<stop offset="0.57500" stop-color="#fcf91b"/><stop offset="0.58125" stop-color="#fcf91b"/>
<stop offset="0.58125" stop-color="#fdfb11"/><stop offset="0.58750" stop-color="#fdfb11"/>
<stop offset="0.58750" stop-color="#fefd07"/><stop offset="0.59375" stop-color="#fefd07"/>
<stop offset="0.59375" stop-color="#fffd00"/><stop offset="0.60000" stop-color="#fffd00"/>
<stop offset="0.60000" stop-color="#fff600"/><stop offset="0.60625" stop-color="#fff600"/>
<stop offset="0.60625" stop-color="#ffef00"/><stop offset="0.61250" stop-color="#ffef00"/>
<stop offset="0.61250" stop-color="#ffe800"/><stop offset="0.61875" stop-color="#ffe800"/>
<stop offset="0.61875" stop-color="#ffe100"/><stop offset="0.62500" stop-color="#ffe100"/>
<stop offset="0.62500" stop-color="#ffdb00"/><stop offset="0.63125" stop-color="#ffdb00"/>
<stop offset="0.63125" stop-color="#ffd400"/><stop offset="0.63750" stop-color="#ffd400"/>
<stop offset="0.63750" stop-color="#ffcd00"/><stop offset="0.64375" stop-color="#ffcd00"/>
<stop offset="0.64375" stop-color="#ffc600"/><stop offset="0.65000" stop-color="#ffc600"/>
<stop offset="0.65000" stop-color="#ffc000"/><stop offset="0.65625" stop-color="#ffc000"/>
<stop offset="0.65625" stop-color="#ffb900"/><stop offset="0.66250" stop-color="#ffb900"/>
<stop offset="0.66250" stop-color="#ffb300"/><stop offset="0.66875" stop-color="#ffb300"/>
<stop offset="0.66875" stop-color="#ffac00"/><stop offset="0.67500" stop-color="#ffac00"/>
<stop offset="0.67500" stop-color="#ffa600"/><stop offset="0.68125" stop-color="#ffa600"/>
<stop offset="0.68125" stop-color="#ff9f00"/><stop offset="0.68750" stop-color="#ff9f00"/>
<stop offset="0.68750" stop-color="#ff9900"/><stop offset="0.69375" stop-color="#ff9900"/>
<stop offset="0.69375" stop-color="#ff9402"/><stop offset="0.70000" stop-color="#ff9402"/>
<stop offset="0.70000" stop-color="#fe9409"/><stop offset="0.70625" stop-color="#fe9409"/>
<stop offset="0.70625" stop-color="#fe9310"/><stop offset="0.71250" stop-color="#fe9310"/>
<stop offset="0.71250" stop-color="#fd9318"/><stop offset="0.71875" stop-color="#fd9318"/>
<stop offset="0.71875" stop-color="#fc921f"/><stop offset="0.72500" stop-color="#fc921f"/>
<stop offset="0.72500" stop-color="#fc9226"/><stop offset="0.73125" stop-color="#fc9226"/>
<stop offset="0.73125" stop-color="#fb922d"/><stop offset="0.73750" stop-color="#fb922d"/>
<stop offset="0.73750" stop-color="#fa9134"/><stop offset="0.74375" stop-color="#fa9134"/>
<stop offset="0.74375" stop-color="#fa913b"/><stop offset="0.75000" stop-color="#fa913b"/>
<stop offset="0.75000" stop-color="#f99142"/><stop offset="0.75625" stop-color="#f99142"/>
<stop offset="0.75625" stop-color="#f9904a"/><stop offset="0.76250" stop-color="#f9904a"/>
<stop offset="0.76250" stop-color="#f89051"/><stop offset="0.76875" stop-color="#f89051"/>
<stop offset="0.76875" stop-color="#f68d59"/><stop offset="0.77500" stop-color="#f68d59"/>
<stop offset="0.77500" stop-color="#f58a62"/><stop offset="0.78125" stop-color="#f58a62"/>
<stop offset="0.78125" stop-color="#f4876b"/><stop offset="0.78750" stop-color="#f4876b"/>
<stop offset="0.78750" stop-color="#f28473"/><stop offset="0.79375" stop-color="#f28473"/>
<stop offset="0.79375" stop-color="#f1817c"/><stop offset="0.80000" stop-color="#f1817c"/>
<stop offset="0.80000" stop-color="#f17c7c"/><stop offset="0.80625" stop-color="#f17c7c"/>
<stop offset="0.80625" stop-color="#f27474"/><stop offset="0.81250" stop-color="#f27474"/>
<stop offset="0.81250" stop-color="#f36c6c"/><stop offset="0.81875" stop-color="#f36c6c"/>
<stop offset="0.81875" stop-color="#f46464"/><stop offset="0.82500" stop-color="#f46464"/>
<stop offset="0.82500" stop-color="#f65c5c"/><stop offset="0.83125" stop-color="#f65c5c"/>
<stop offset="0.83125" stop-color="#f75454"/><stop offset="0.83750" stop-color="#f75454"/>
<stop offset="0.83750" stop-color="#f84c4c"/><stop offset="0.84375" stop-color="#f84c4c"/>
<stop offset="0.84375" stop-color="#f94444"/><stop offset="0.85000" stop-color="#f94444"/>
<stop offset="0.85000" stop-color="#fa3c3c"/><stop offset="0.85625" stop-color="#fa3c3c"/>
<stop offset="0.85625" stop-color="#fb3434"/><stop offset="0.86250" stop-color="#fb3434"/>
<stop offset="0.86250" stop-color="#fc2c2c"/><stop offset="0.86875" stop-color="#fc2c2c"/>
<stop offset="0.86875" stop-color="#fc2424"/><stop offset="0.87500" stop-color="#fc2424"/>
<stop offset="0.87500" stop-color="#fd1c1c"/><stop offset="0.88125" stop-color="#fd1c1c"/>
<stop offset="0.88125" stop-color="#fd1414"/><stop offset="0.88750" stop-color="#fd1414"/>
<stop offset="0.88750" stop-color="#fe0c0c"/><stop offset="0.89375" stop-color="#fe0c0c"/>
<stop offset="0.89375" stop-color="#ff0404"/><stop offset="0.90000" stop-color="#ff0404"/>
<stop offset="0.90000" stop-color="#fb0000"/><stop offset="0.90625" stop-color="#fb0000"/>
<stop offset="0.90625" stop-color="#f30000"/><stop offset="0.91250" stop-color="#f30000"/>
<stop offset="0.91250" stop-color="#eb0000"/><stop offset="0.91875" stop-color="#eb0000"/>
<stop offset="0.91875" stop-color="#e30000"/><stop offset="0.92500" stop-color="#e30000"/>
<stop offset="0.92500" stop-color="#da0000"/><stop offset="0.93125" stop-color="#da0000"/>
<stop offset="0.93125" stop-color="#d20000"/><stop offset="0.93750" stop-color="#d20000"/>
<stop offset="0.93750" stop-color="#ca0000"/><stop offset="0.94375" stop-color="#ca0000"/>
<stop offset="0.94375" stop-color="#c20000"/><stop offset="0.95000" stop-color="#c20000"/>
<stop offset="0.95000" stop-color="#ba0000"/><stop offset="0.95625" stop-color="#ba0000"/>
<stop offset="0.95625" stop-color="#b10000"/><stop offset="0.96250" stop-color="#b10000"/>
<stop offset="0.96250" stop-color="#a90000"/><stop offset="0.96875" stop-color="#a90000"/>
<stop offset="0.96875" stop-color="#a00000"/><stop offset="0.97500" stop-color="#a00000"/>
<stop offset="0.97500" stop-color="#980000"/><stop offset="0.98125" stop-color="#980000"/>
<stop offset="0.98125" stop-color="#8f0000"/><stop offset="0.98750" stop-color="#8f0000"/>
<stop offset="0.98750" stop-color="#870000"/><stop offset="0.99375" stop-color="#870000"/>
<stop offset="0.99375" stop-color="#7e0000"/><stop offset="1.00000" stop-color="#7e0000"/>
</linearGradient></defs>
<rect x="607.8" y="153.6" width="28.5" height="494.8" fill="url(#cb)"/>
<g stroke="#7c7c7c" stroke-width="1" fill="none" shape-rendering="crispEdges">
<path d="M636.5 153.5V648.5"/>
<path d="M636.5 153.6h8"/>
<path d="M636.5 215.4h5.5"/>
<path d="M636.5 277.3h8"/>
<path d="M636.5 339.1h5.5"/>
<path d="M636.5 401.0h8"/>
<path d="M636.5 462.9h5.5"/>
<path d="M636.5 524.7h8"/>
<path d="M636.5 586.5h5.5"/>
<path d="M636.5 648.4h8"/>
</g>
<text class="t" x="651.7" y="158.4" textLength="16.9" lengthAdjust="spacingAndGlyphs" style="letter-spacing:0">44</text>
<text class="t" x="651.7" y="282.1" textLength="16.9" lengthAdjust="spacingAndGlyphs" style="letter-spacing:0">39</text>
<text class="t" x="651.7" y="405.8" textLength="16.9" lengthAdjust="spacingAndGlyphs" style="letter-spacing:0">34</text>
<text class="t" x="651.7" y="529.5" textLength="16.9" lengthAdjust="spacingAndGlyphs" style="letter-spacing:0">29</text>
<text class="t" x="651.7" y="653.2" textLength="16.9" lengthAdjust="spacingAndGlyphs" style="letter-spacing:0">24</text>
<text class="t" x="598.2" y="139.5" textLength="33.4" lengthAdjust="spacingAndGlyphs" style="letter-spacing:0">max:</text>
<text class="t" x="646.9" y="139.5" textLength="29.1" lengthAdjust="spacingAndGlyphs" style="letter-spacing:0">42.7</text>
<text class="t" x="598.2" y="669.5" textLength="27.4" lengthAdjust="spacingAndGlyphs" style="letter-spacing:0">min:</text>
<text class="t" x="640.4" y="669.5" textLength="29.2" lengthAdjust="spacingAndGlyphs" style="letter-spacing:0">27.4</text>
<rect x="0.5" y="0.5" width="999" height="706" fill="none" stroke="#8a8a8a" stroke-width="1"/>
</svg>
</body></html>
